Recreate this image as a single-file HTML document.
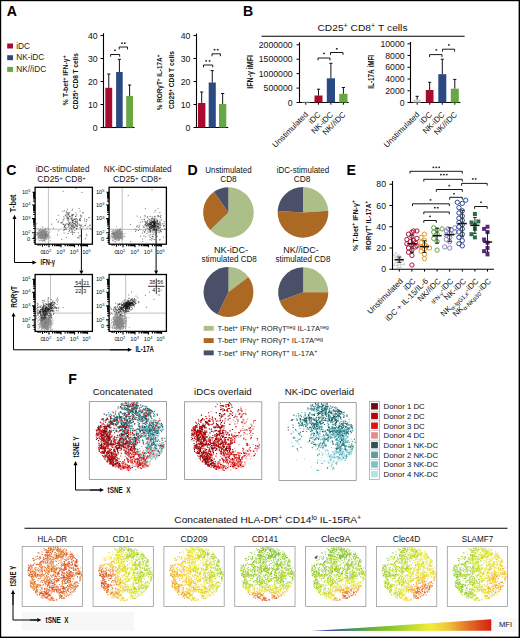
<!DOCTYPE html>
<html><head><meta charset="utf-8"><style>
html,body{margin:0;padding:0;background:#fff;}
svg{display:block;}
text{font-family:"Liberation Sans", sans-serif;}
</style></head><body>
<svg width="520" height="638" viewBox="0 0 520 638" font-family='"Liberation Sans", sans-serif'>
<rect x="0" y="0" width="520" height="638" fill="#000"/>
<rect x="1.2" y="1.2" width="517.4" height="635.4" fill="#fff"/>
<text x="6.70" y="15.60" font-size="14.1" font-weight="bold" >A</text>
<text x="242.90" y="15.60" font-size="14.1" font-weight="bold" >B</text>
<text x="6.20" y="175.30" font-size="14.1" font-weight="bold" >C</text>
<text x="187.50" y="175.00" font-size="14.1" font-weight="bold" >D</text>
<text x="346.40" y="175.00" font-size="14.1" font-weight="bold" >E</text>
<text x="68.20" y="383.60" font-size="14.1" font-weight="bold" >F</text>
<rect x="7.20" y="43.50" width="5.80" height="5.00" fill="#a80a30" />
<text x="16.20" y="48.70" font-size="8.3" fill="#222" >iDC</text>
<rect x="7.20" y="55.20" width="5.80" height="5.00" fill="#2c4a82" />
<text x="16.20" y="60.40" font-size="8.3" fill="#222" >NK-iDC</text>
<rect x="7.20" y="66.90" width="5.80" height="5.00" fill="#68a844" />
<text x="16.20" y="72.10" font-size="8.3" fill="#222" >NK//iDC</text>
<line x1="103.50" y1="33.20" x2="103.50" y2="128.00" stroke="#000" stroke-width="1.1" />
<line x1="103.00" y1="127.50" x2="134.60" y2="127.50" stroke="#000" stroke-width="1.1" />
<line x1="100.50" y1="127.50" x2="103.50" y2="127.50" stroke="#000" stroke-width="1" />
<text x="97.60" y="130.50" font-size="8.7" text-anchor="end" fill="#111" >0</text>
<line x1="100.50" y1="104.50" x2="103.50" y2="104.50" stroke="#000" stroke-width="1" />
<text x="97.60" y="107.50" font-size="8.7" text-anchor="end" fill="#111" >10</text>
<line x1="100.50" y1="81.50" x2="103.50" y2="81.50" stroke="#000" stroke-width="1" />
<text x="97.60" y="84.50" font-size="8.7" text-anchor="end" fill="#111" >20</text>
<line x1="100.50" y1="58.50" x2="103.50" y2="58.50" stroke="#000" stroke-width="1" />
<text x="97.60" y="61.50" font-size="8.7" text-anchor="end" fill="#111" >30</text>
<line x1="100.50" y1="35.50" x2="103.50" y2="35.50" stroke="#000" stroke-width="1" />
<text x="97.60" y="38.50" font-size="8.7" text-anchor="end" fill="#111" >40</text>
<rect x="105.30" y="87.80" width="6.90" height="39.70" fill="#a80a30" />
<line x1="108.75" y1="74.00" x2="108.75" y2="87.80" stroke="#111" stroke-width="1" />
<line x1="107.15" y1="74.00" x2="110.35" y2="74.00" stroke="#111" stroke-width="1" />
<rect x="116.10" y="72.00" width="6.60" height="55.50" fill="#2c4a82" />
<line x1="119.40" y1="59.30" x2="119.40" y2="72.00" stroke="#111" stroke-width="1" />
<line x1="117.80" y1="59.30" x2="121.00" y2="59.30" stroke="#111" stroke-width="1" />
<rect x="126.20" y="95.90" width="6.80" height="31.60" fill="#68a844" />
<line x1="129.60" y1="85.00" x2="129.60" y2="95.90" stroke="#111" stroke-width="1" />
<line x1="128.00" y1="85.00" x2="131.20" y2="85.00" stroke="#111" stroke-width="1" />
<path d="M110.60 56.70V54.50H119.60V56.70" fill="none" stroke="#000" stroke-width="0.9"/>
<rect x="114.15" y="49.55" width="1.7" height="1.5" fill="#222"/>
<path d="M119.20 49.40V47.00H127.50V49.40" fill="none" stroke="#000" stroke-width="0.9"/>
<rect x="121.15" y="42.45" width="1.7" height="1.5" fill="#222"/>
<rect x="123.95" y="42.45" width="1.7" height="1.5" fill="#222"/>
<text x="67.80" y="80.40" font-size="7.0" text-anchor="middle" font-weight="bold" fill="#111" textLength="50" lengthAdjust="spacingAndGlyphs" transform="rotate(-90 67.80 80.40)" >%&#160;T-bet<tspan dy="-2.17" font-size="4.90">+</tspan><tspan dy="2.17">&#160;IFN-γ</tspan><tspan dy="-2.17" font-size="4.90">+</tspan></text>
<text x="78.20" y="81.20" font-size="7.0" text-anchor="middle" font-weight="bold" fill="#111" textLength="56" lengthAdjust="spacingAndGlyphs" transform="rotate(-90 78.20 81.20)" >CD25<tspan dy="-2.17" font-size="4.90">+</tspan><tspan dy="2.17">&#160;CD8&#160;T&#160;cells</tspan></text>
<line x1="196.50" y1="33.50" x2="196.50" y2="128.00" stroke="#000" stroke-width="1.1" />
<line x1="196.00" y1="127.50" x2="228.20" y2="127.50" stroke="#000" stroke-width="1.1" />
<line x1="193.50" y1="127.50" x2="196.50" y2="127.50" stroke="#000" stroke-width="1" />
<text x="190.40" y="130.50" font-size="8.7" text-anchor="end" fill="#111" >0</text>
<line x1="193.50" y1="104.50" x2="196.50" y2="104.50" stroke="#000" stroke-width="1" />
<text x="190.40" y="107.50" font-size="8.7" text-anchor="end" fill="#111" >10</text>
<line x1="193.50" y1="81.50" x2="196.50" y2="81.50" stroke="#000" stroke-width="1" />
<text x="190.40" y="84.50" font-size="8.7" text-anchor="end" fill="#111" >20</text>
<line x1="193.50" y1="58.50" x2="196.50" y2="58.50" stroke="#000" stroke-width="1" />
<text x="190.40" y="61.50" font-size="8.7" text-anchor="end" fill="#111" >30</text>
<line x1="193.50" y1="35.50" x2="196.50" y2="35.50" stroke="#000" stroke-width="1" />
<text x="190.40" y="38.50" font-size="8.7" text-anchor="end" fill="#111" >40</text>
<rect x="198.00" y="103.00" width="7.40" height="24.50" fill="#a80a30" />
<line x1="201.70" y1="92.00" x2="201.70" y2="103.00" stroke="#111" stroke-width="1" />
<line x1="200.10" y1="92.00" x2="203.30" y2="92.00" stroke="#111" stroke-width="1" />
<rect x="208.70" y="82.50" width="7.10" height="45.00" fill="#2c4a82" />
<line x1="212.25" y1="70.60" x2="212.25" y2="82.50" stroke="#111" stroke-width="1" />
<line x1="210.65" y1="70.60" x2="213.85" y2="70.60" stroke="#111" stroke-width="1" />
<rect x="219.00" y="104.00" width="7.30" height="23.50" fill="#68a844" />
<line x1="222.65" y1="93.50" x2="222.65" y2="104.00" stroke="#111" stroke-width="1" />
<line x1="221.05" y1="93.50" x2="224.25" y2="93.50" stroke="#111" stroke-width="1" />
<path d="M203.50 67.30V65.00H212.70V67.30" fill="none" stroke="#000" stroke-width="0.9"/>
<rect x="205.35" y="60.15" width="1.7" height="1.5" fill="#222"/>
<rect x="208.75" y="60.15" width="1.7" height="1.5" fill="#222"/>
<path d="M212.00 56.20V53.80H220.40V56.20" fill="none" stroke="#000" stroke-width="0.9"/>
<rect x="213.75" y="48.95" width="1.7" height="1.5" fill="#222"/>
<rect x="216.85" y="48.95" width="1.7" height="1.5" fill="#222"/>
<text x="162.20" y="82.50" font-size="7.0" text-anchor="middle" font-weight="bold" fill="#111" textLength="55.5" lengthAdjust="spacingAndGlyphs" transform="rotate(-90 162.20 82.50)" >%&#160;RORγT<tspan dy="-2.17" font-size="4.90">+</tspan><tspan dy="2.17">&#160;IL-17A</tspan><tspan dy="-2.17" font-size="4.90">+</tspan></text>
<text x="173.80" y="80.10" font-size="7.0" text-anchor="middle" font-weight="bold" fill="#111" textLength="58" lengthAdjust="spacingAndGlyphs" transform="rotate(-90 173.80 80.10)" >CD25<tspan dy="-2.17" font-size="4.90">+</tspan><tspan dy="2.17">&#160;CD8&#160;T&#160;cells</tspan></text>
<text x="317.50" y="30.60" font-size="9.6" fill="#111" textLength="90" lengthAdjust="spacingAndGlyphs" >CD25<tspan dy="-2.98" font-size="6.72">+</tspan><tspan dy="2.98">&#160;CD8</tspan><tspan dy="-2.98" font-size="6.72">+</tspan><tspan dy="2.98">&#160;T&#160;cells</tspan></text>
<line x1="261.50" y1="36.30" x2="464.60" y2="36.30" stroke="#000" stroke-width="1.1" />
<line x1="299.50" y1="42.30" x2="299.50" y2="103.00" stroke="#000" stroke-width="1.1" />
<line x1="299.00" y1="102.50" x2="348.80" y2="102.50" stroke="#000" stroke-width="1.1" />
<line x1="296.50" y1="102.50" x2="299.50" y2="102.50" stroke="#000" stroke-width="1" />
<text x="292.60" y="105.50" font-size="8.7" text-anchor="end" fill="#111" >0</text>
<line x1="296.50" y1="88.08" x2="299.50" y2="88.08" stroke="#000" stroke-width="1" />
<text x="292.60" y="91.08" font-size="8.7" text-anchor="end" fill="#111" >500000</text>
<line x1="296.50" y1="73.65" x2="299.50" y2="73.65" stroke="#000" stroke-width="1" />
<text x="292.60" y="76.65" font-size="8.7" text-anchor="end" fill="#111" >1000000</text>
<line x1="296.50" y1="59.23" x2="299.50" y2="59.23" stroke="#000" stroke-width="1" />
<text x="292.60" y="62.23" font-size="8.7" text-anchor="end" fill="#111" >1500000</text>
<line x1="296.50" y1="44.80" x2="299.50" y2="44.80" stroke="#000" stroke-width="1" />
<text x="292.60" y="47.80" font-size="8.7" text-anchor="end" fill="#111" >2000000</text>
<line x1="305.80" y1="102.50" x2="305.80" y2="104.70" stroke="#000" stroke-width="1" />
<line x1="318.40" y1="102.50" x2="318.40" y2="104.70" stroke="#000" stroke-width="1" />
<line x1="330.90" y1="102.50" x2="330.90" y2="104.70" stroke="#000" stroke-width="1" />
<line x1="343.40" y1="102.50" x2="343.40" y2="104.70" stroke="#000" stroke-width="1" />
<rect x="301.80" y="101.60" width="8.00" height="0.90" fill="#bbb" />
<rect x="314.50" y="95.50" width="8.00" height="7.00" fill="#a80a30" />
<line x1="318.50" y1="89.20" x2="318.50" y2="95.50" stroke="#111" stroke-width="1" />
<line x1="316.90" y1="89.20" x2="320.10" y2="89.20" stroke="#111" stroke-width="1" />
<rect x="326.80" y="78.30" width="8.20" height="24.20" fill="#2c4a82" />
<line x1="330.90" y1="63.30" x2="330.90" y2="78.30" stroke="#111" stroke-width="1" />
<line x1="329.30" y1="63.30" x2="332.50" y2="63.30" stroke="#111" stroke-width="1" />
<rect x="339.30" y="93.80" width="8.20" height="8.70" fill="#68a844" />
<line x1="343.40" y1="87.50" x2="343.40" y2="93.80" stroke="#111" stroke-width="1" />
<line x1="341.80" y1="87.50" x2="345.00" y2="87.50" stroke="#111" stroke-width="1" />
<path d="M318.00 60.40V58.00H330.00V60.40" fill="none" stroke="#000" stroke-width="0.9"/>
<rect x="323.15" y="52.65" width="1.7" height="1.5" fill="#222"/>
<path d="M330.50 54.90V52.50H343.00V54.90" fill="none" stroke="#000" stroke-width="0.9"/>
<rect x="335.95" y="48.05" width="1.7" height="1.5" fill="#222"/>
<text x="252.80" y="71.90" font-size="9.6" text-anchor="middle" font-weight="bold" fill="#111" textLength="33.6" lengthAdjust="spacingAndGlyphs" transform="rotate(-90 252.80 71.90)" >IFN-γ&#160;iMFI</text>
<text x="308.60" y="115.10" font-size="8.0" text-anchor="end" fill="#111" transform="rotate(-45 308.60 115.10)" >Unstimulated</text>
<text x="321.20" y="115.10" font-size="8.0" text-anchor="end" fill="#111" transform="rotate(-45 321.20 115.10)" >iDC</text>
<text x="333.70" y="115.10" font-size="8.0" text-anchor="end" fill="#111" transform="rotate(-45 333.70 115.10)" >NK-iDC</text>
<text x="346.20" y="115.10" font-size="8.0" text-anchor="end" fill="#111" transform="rotate(-45 346.20 115.10)" >NK//iDC</text>
<line x1="410.50" y1="42.00" x2="410.50" y2="103.00" stroke="#000" stroke-width="1.1" />
<line x1="410.00" y1="102.50" x2="460.40" y2="102.50" stroke="#000" stroke-width="1.1" />
<line x1="407.50" y1="102.50" x2="410.50" y2="102.50" stroke="#000" stroke-width="1" />
<text x="404.60" y="105.50" font-size="8.7" text-anchor="end" fill="#111" >0</text>
<line x1="407.50" y1="90.76" x2="410.50" y2="90.76" stroke="#000" stroke-width="1" />
<text x="404.60" y="93.76" font-size="8.7" text-anchor="end" fill="#111" >2000</text>
<line x1="407.50" y1="79.02" x2="410.50" y2="79.02" stroke="#000" stroke-width="1" />
<text x="404.60" y="82.02" font-size="8.7" text-anchor="end" fill="#111" >4000</text>
<line x1="407.50" y1="67.28" x2="410.50" y2="67.28" stroke="#000" stroke-width="1" />
<text x="404.60" y="70.28" font-size="8.7" text-anchor="end" fill="#111" >6000</text>
<line x1="407.50" y1="55.54" x2="410.50" y2="55.54" stroke="#000" stroke-width="1" />
<text x="404.60" y="58.54" font-size="8.7" text-anchor="end" fill="#111" >8000</text>
<line x1="407.50" y1="43.80" x2="410.50" y2="43.80" stroke="#000" stroke-width="1" />
<text x="404.60" y="46.80" font-size="8.7" text-anchor="end" fill="#111" >10000</text>
<line x1="417.20" y1="102.50" x2="417.20" y2="104.70" stroke="#000" stroke-width="1" />
<line x1="429.70" y1="102.50" x2="429.70" y2="104.70" stroke="#000" stroke-width="1" />
<line x1="442.30" y1="102.50" x2="442.30" y2="104.70" stroke="#000" stroke-width="1" />
<line x1="454.80" y1="102.50" x2="454.80" y2="104.70" stroke="#000" stroke-width="1" />
<rect x="413.30" y="99.60" width="7.70" height="2.90" fill="#cfcfcf" />
<line x1="417.15" y1="96.30" x2="417.15" y2="99.60" stroke="#111" stroke-width="1" />
<line x1="415.55" y1="96.30" x2="418.75" y2="96.30" stroke="#111" stroke-width="1" />
<rect x="425.80" y="90.00" width="7.70" height="12.50" fill="#a80a30" />
<line x1="429.65" y1="82.30" x2="429.65" y2="90.00" stroke="#111" stroke-width="1" />
<line x1="428.05" y1="82.30" x2="431.25" y2="82.30" stroke="#111" stroke-width="1" />
<rect x="438.30" y="74.20" width="8.00" height="28.30" fill="#2c4a82" />
<line x1="442.30" y1="59.20" x2="442.30" y2="74.20" stroke="#111" stroke-width="1" />
<line x1="440.70" y1="59.20" x2="443.90" y2="59.20" stroke="#111" stroke-width="1" />
<rect x="450.80" y="88.70" width="8.00" height="13.80" fill="#68a844" />
<line x1="454.80" y1="79.40" x2="454.80" y2="88.70" stroke="#111" stroke-width="1" />
<line x1="453.20" y1="79.40" x2="456.40" y2="79.40" stroke="#111" stroke-width="1" />
<path d="M429.60 57.00V54.60H442.00V57.00" fill="none" stroke="#000" stroke-width="0.9"/>
<rect x="435.45" y="49.15" width="1.7" height="1.5" fill="#222"/>
<path d="M442.50 51.60V49.20H454.60V51.60" fill="none" stroke="#000" stroke-width="0.9"/>
<rect x="447.95" y="44.15" width="1.7" height="1.5" fill="#222"/>
<text x="373.90" y="71.80" font-size="9.8" text-anchor="middle" font-weight="bold" fill="#111" textLength="33.8" lengthAdjust="spacingAndGlyphs" transform="rotate(-90 373.90 71.80)" >IL-17A&#160;iMFI</text>
<text x="420.00" y="115.10" font-size="8.0" text-anchor="end" fill="#111" transform="rotate(-45 420.00 115.10)" >Unstimulated</text>
<text x="432.50" y="115.10" font-size="8.0" text-anchor="end" fill="#111" transform="rotate(-45 432.50 115.10)" >iDC</text>
<text x="445.10" y="115.10" font-size="8.0" text-anchor="end" fill="#111" transform="rotate(-45 445.10 115.10)" >NK-iDC</text>
<text x="457.60" y="115.10" font-size="8.0" text-anchor="end" fill="#111" transform="rotate(-45 457.60 115.10)" >NK//iDC</text>
<text x="62.60" y="172.20" font-size="8.2" text-anchor="middle" fill="#111" >iDC-stimulated</text>
<text x="61.50" y="182.20" font-size="8.4" text-anchor="middle" fill="#111" textLength="48.5" lengthAdjust="spacingAndGlyphs" >CD25<tspan dy="-2.60" font-size="5.88">+</tspan><tspan dy="2.60">&#160;CD8</tspan><tspan dy="-2.60" font-size="5.88">+</tspan></text>
<text x="137.70" y="172.20" font-size="8.2" text-anchor="middle" fill="#111" >NK-iDC-stimulated</text>
<text x="137.35" y="182.20" font-size="8.4" text-anchor="middle" fill="#111" textLength="48.5" lengthAdjust="spacingAndGlyphs" >CD25<tspan dy="-2.60" font-size="5.88">+</tspan><tspan dy="2.60">&#160;CD8</tspan><tspan dy="-2.60" font-size="5.88">+</tspan></text>
<line x1="48.40" y1="187.30" x2="48.40" y2="244.20" stroke="#b0b0b0" stroke-width="0.8" />
<line x1="35.10" y1="229.20" x2="92.40" y2="229.20" stroke="#b0b0b0" stroke-width="0.8" />
<ellipse cx="43.00" cy="234.60" rx="4.2" ry="4.0" fill="#8c8c8c" fill-opacity="0.85"/>
<path d="M42.4 235.8h0M42.4 233.8h0M40.7 234.1h0M45.8 235.6h0M45.6 235.2h0M44.0 235.0h0M38.8 236.7h0M44.3 235.8h0M38.8 230.4h0M40.8 233.5h0M43.8 234.5h0M44.3 233.1h0M43.8 235.5h0M41.3 238.7h0M44.4 237.5h0M41.4 232.8h0M42.1 234.3h0M44.6 235.2h0M41.9 232.3h0M41.7 237.5h0M41.0 235.2h0M44.1 231.0h0M43.1 237.7h0M38.0 233.8h0M42.7 232.6h0M44.2 234.5h0M39.3 236.6h0M44.7 236.9h0M46.6 235.5h0M43.3 231.5h0M44.5 233.1h0M41.9 231.6h0M40.6 233.3h0M46.2 229.7h0M39.4 235.2h0M46.6 236.0h0M38.3 228.6h0M43.9 232.8h0M40.2 236.9h0M45.8 235.0h0M43.6 235.6h0M47.0 236.1h0M44.3 235.9h0M39.1 237.7h0M45.4 235.9h0M38.1 233.1h0M45.1 230.3h0M42.5 237.0h0M39.7 238.5h0M44.4 234.2h0M43.8 236.2h0M43.3 237.3h0M41.3 233.6h0M45.6 234.7h0M40.8 236.9h0M46.7 233.5h0M39.6 234.3h0M42.6 233.9h0M46.5 232.1h0M46.2 231.6h0M41.0 236.1h0M45.8 236.7h0M43.9 234.9h0M43.4 236.0h0M42.6 235.3h0M44.4 234.6h0M44.9 236.0h0M48.0 235.4h0M41.9 233.7h0M43.0 236.8h0M42.2 235.5h0M47.6 228.4h0M40.2 235.2h0M44.0 235.2h0M41.9 236.2h0M43.7 233.3h0M49.1 235.5h0M41.6 234.4h0M42.4 234.4h0M36.2 233.4h0M45.5 231.8h0M42.8 236.9h0M45.1 238.2h0M38.7 233.8h0M42.1 236.1h0M45.7 228.2h0M45.7 231.1h0M44.7 231.0h0M43.4 237.5h0M42.6 235.1h0M45.0 234.9h0M42.8 238.3h0M45.6 233.9h0M49.9 231.8h0M45.3 234.0h0M43.3 236.3h0M43.6 236.1h0M39.2 231.0h0M44.5 232.3h0M40.4 231.1h0M46.2 236.4h0M46.7 232.3h0M43.0 231.9h0M44.9 238.4h0M40.8 238.3h0M45.5 234.2h0M38.1 238.0h0M42.8 233.2h0M44.0 235.6h0M46.7 232.2h0M45.8 238.2h0M46.6 234.2h0M41.1 237.0h0M43.3 234.9h0M46.6 234.0h0M37.3 233.7h0M38.4 236.6h0M43.8 233.1h0M43.0 236.6h0M43.2 237.8h0M42.8 237.1h0M46.7 238.5h0M41.3 236.7h0M38.3 232.0h0M38.1 237.2h0M39.9 234.6h0M42.5 234.5h0M41.5 235.2h0M47.5 234.7h0M44.3 237.0h0M42.5 231.6h0M41.6 237.2h0M38.9 233.2h0M45.5 236.5h0M43.0 236.5h0M43.4 231.8h0M39.1 233.1h0M45.3 233.2h0M40.7 232.7h0M39.2 234.3h0M40.1 235.5h0M37.1 235.4h0M41.4 229.9h0M44.8 233.9h0M37.4 232.5h0M43.7 233.5h0M44.9 236.4h0M44.7 235.4h0M46.3 236.2h0M44.1 229.6h0M45.2 237.7h0M42.3 233.5h0M47.9 230.4h0M44.2 240.4h0M40.7 236.3h0M47.7 234.3h0M44.4 236.8h0M40.7 234.4h0M43.7 236.6h0M42.9 234.1h0M40.5 233.7h0M45.2 234.8h0M40.9 232.6h0M49.7 237.3h0M44.6 228.4h0M44.6 235.8h0M47.2 235.6h0M42.8 235.9h0M38.1 237.1h0M43.8 232.9h0M46.3 238.9h0M39.5 233.0h0M43.7 235.0h0M42.0 232.3h0M48.3 237.1h0M40.0 231.4h0M47.3 237.0h0M47.6 236.5h0M40.8 235.2h0M37.6 232.8h0M42.9 235.9h0M41.2 234.3h0M44.1 235.5h0M44.6 235.1h0M42.2 236.5h0M43.1 232.6h0M41.4 234.6h0M42.7 235.0h0M43.0 235.0h0M42.7 231.6h0M44.1 237.1h0M44.1 234.1h0M44.1 232.3h0M38.3 234.7h0M40.7 236.4h0M40.3 228.3h0M40.4 238.4h0M42.0 231.3h0M41.1 235.9h0M44.2 235.0h0M46.7 236.3h0M42.9 236.0h0M47.1 236.9h0M45.6 232.0h0M42.6 236.4h0M42.3 237.2h0M44.5 236.8h0M42.5 240.7h0M46.1 234.1h0M43.2 240.8h0M42.1 236.7h0M45.5 234.6h0M40.1 235.1h0M43.9 237.3h0M45.0 234.7h0M45.1 235.9h0M43.5 234.7h0M42.4 236.2h0M40.4 233.1h0M43.0 231.1h0M41.9 229.8h0M41.3 236.0h0M44.4 234.5h0M42.4 231.2h0M47.6 235.8h0M45.7 232.5h0M42.5 230.2h0M45.0 236.8h0M38.3 234.5h0M44.6 230.4h0M38.4 232.0h0M41.4 231.2h0M43.1 235.2h0M44.6 236.3h0M46.8 237.4h0M39.7 233.4h0M40.3 232.0h0M42.8 234.6h0M44.2 230.8h0M39.9 234.5h0M42.5 233.9h0M42.8 232.8h0M44.8 235.5h0M42.8 233.0h0M42.6 228.1h0M40.5 234.7h0M39.2 235.1h0M43.4 231.3h0M42.4 233.8h0M44.1 236.1h0M42.9 232.6h0M42.6 234.4h0M44.8 235.3h0M41.2 231.3h0M42.1 232.8h0M40.2 234.3h0M41.8 234.9h0M44.3 233.6h0M48.8 233.8h0M45.8 234.9h0M45.8 228.9h0M41.1 235.2h0M44.5 240.2h0M43.8 237.7h0M44.9 236.9h0M44.3 234.2h0M44.3 232.0h0M46.0 232.2h0M43.6 239.7h0M42.4 234.6h0M45.9 234.7h0M41.0 235.2h0M44.5 236.3h0M41.1 238.8h0M47.2 234.6h0M43.7 233.6h0M46.5 232.9h0M44.7 233.4h0M41.3 236.3h0M46.3 234.6h0M41.3 236.5h0M42.9 235.3h0M46.8 237.3h0M41.7 240.1h0M43.0 236.5h0M41.4 234.5h0M38.6 238.9h0M46.4 231.7h0M39.2 230.7h0M45.9 233.5h0M42.8 233.8h0M42.7 232.0h0M43.1 231.1h0M42.8 235.3h0M44.2 234.0h0M40.7 235.0h0M41.8 238.4h0M44.9 234.3h0M41.8 232.9h0M40.7 233.8h0M43.7 235.8h0M44.4 239.6h0M41.2 234.6h0M50.0 230.1h0M41.7 235.0h0M43.4 235.6h0M42.4 235.5h0M43.1 236.5h0M38.3 232.5h0M43.0 232.1h0M40.4 236.1h0M41.4 236.1h0M44.9 235.3h0M44.3 234.3h0M39.5 234.5h0M44.1 233.3h0M42.8 236.4h0M40.8 236.1h0M47.7 233.3h0M43.4 234.2h0M46.9 235.4h0M45.2 232.9h0M43.0 234.6h0M38.6 238.1h0M45.2 230.4h0M44.9 234.3h0M44.1 235.5h0M39.3 234.1h0M46.7 233.2h0M40.4 231.3h0M39.9 235.4h0M47.2 235.6h0M43.6 240.0h0M41.7 233.0h0M44.3 235.9h0M40.5 231.8h0M43.7 235.2h0M39.7 234.1h0M41.6 235.7h0M42.7 234.4h0M42.1 237.1h0M46.5 233.7h0M45.1 232.8h0M43.2 236.4h0M46.8 233.7h0M42.8 235.1h0M39.3 234.6h0M41.3 235.5h0M40.2 229.9h0M43.1 235.2h0M41.6 236.7h0M42.3 233.1h0M44.2 230.8h0M41.3 234.6h0M45.1 234.2h0M43.8 233.0h0M43.8 238.6h0M41.3 240.3h0M41.4 234.6h0M43.4 237.1h0M39.9 229.6h0M44.5 236.5h0M44.6 240.9h0M43.5 235.2h0M45.3 235.5h0M47.2 231.6h0M42.1 226.3h0M45.0 233.7h0M45.3 239.8h0M43.0 234.0h0M41.8 232.6h0M41.4 236.1h0M43.1 234.8h0M42.6 236.8h0M44.2 234.3h0M44.7 234.2h0M40.1 238.1h0M44.2 232.3h0M45.7 235.4h0M39.1 238.5h0M43.8 236.7h0M43.5 234.2h0M39.1 236.9h0M43.1 233.9h0M43.9 234.8h0M44.7 233.7h0M42.9 229.5h0M41.9 236.2h0M46.3 233.7h0M42.7 238.4h0M42.2 236.4h0M47.2 234.7h0M46.1 232.9h0M43.5 234.4h0M43.3 237.3h0M49.0 233.0h0M41.6 235.8h0M40.4 235.8h0M44.4 233.9h0M44.3 230.9h0M44.9 230.9h0M41.3 233.3h0M42.0 236.7h0M43.2 233.6h0M44.4 238.4h0M43.0 235.5h0M46.1 235.2h0M39.8 240.6h0M48.5 229.8h0M42.9 235.6h0M45.4 236.2h0M42.3 232.1h0M43.3 237.1h0M40.3 232.1h0M42.9 230.0h0M42.3 233.6h0M44.1 232.9h0M40.8 233.7h0M42.9 233.0h0M43.0 236.4h0M46.0 238.7h0M41.0 233.6h0M36.8 239.2h0M41.2 234.5h0M44.3 231.3h0M44.2 234.5h0M38.4 235.3h0M46.0 230.1h0M45.0 235.1h0M44.2 235.7h0M46.3 234.1h0M45.2 233.6h0M44.8 232.6h0M42.7 238.8h0M44.1 234.2h0M40.1 232.7h0M43.5 236.9h0M44.1 235.9h0M42.9 237.8h0M42.0 233.3h0M45.2 234.8h0M42.3 233.2h0M42.4 236.1h0M43.9 231.7h0M44.1 235.0h0M40.5 236.5h0M42.3 233.8h0M45.0 237.8h0M41.3 235.7h0M40.8 240.2h0M41.8 237.5h0M41.4 236.5h0M48.5 228.5h0M41.9 235.8h0M42.8 233.0h0M48.4 234.8h0M38.9 236.6h0M38.7 237.4h0M41.6 234.9h0M46.2 234.9h0M39.5 230.5h0M46.0 236.4h0M41.0 236.7h0M44.2 236.2h0M37.4 233.9h0M45.3 236.4h0M45.2 228.7h0M43.4 235.8h0M49.4 232.3h0M42.2 234.7h0M45.2 233.5h0M45.9 232.7h0M43.7 233.3h0M43.4 232.9h0M39.0 237.2h0M43.8 233.3h0M43.5 237.0h0M40.6 234.3h0M44.3 235.9h0M42.2 229.5h0M46.1 235.4h0M43.0 233.9h0M43.7 233.6h0M40.4 232.8h0M41.5 233.1h0M40.1 236.1h0M39.7 236.2h0M40.5 235.4h0M46.4 235.1h0M41.2 234.7h0M43.4 230.4h0M41.5 235.0h0M41.8 234.8h0M44.8 236.4h0M45.3 236.0h0M42.3 234.6h0M42.3 233.8h0M42.6 230.5h0M42.2 234.5h0M40.6 234.5h0M44.3 234.2h0M48.2 228.3h0M42.5 230.2h0M45.4 241.0h0M36.7 234.9h0M44.3 233.9h0M44.4 229.2h0M45.1 235.5h0M43.1 233.2h0M44.6 233.4h0M43.6 233.4h0M37.4 234.5h0M43.5 236.4h0M40.8 234.5h0M44.5 234.9h0M46.1 239.4h0M40.7 230.0h0M45.1 238.3h0M45.3 236.6h0M41.5 232.9h0M46.2 232.7h0M36.5 232.4h0M40.5 233.4h0M43.8 233.3h0M47.7 235.7h0M39.1 240.7h0M40.9 236.8h0M43.0 234.9h0M44.2 233.5h0M36.4 228.1h0M38.4 233.3h0M42.9 236.2h0M45.0 236.4h0M40.1 233.4h0M44.7 237.9h0M42.6 235.4h0M46.4 236.1h0M45.7 238.1h0M43.8 240.7h0M40.9 234.7h0M40.1 233.1h0M48.6 242.3h0M43.1 238.0h0M47.2 238.9h0M47.3 231.5h0M40.7 237.6h0M48.2 236.4h0M39.9 234.7h0M40.6 232.9h0M48.4 233.7h0M47.3 237.2h0M40.8 237.5h0M48.8 238.2h0M47.5 236.4h0M44.9 235.3h0M44.5 240.7h0M37.8 235.8h0M43.9 233.9h0M41.9 238.8h0M50.2 238.3h0M44.2 230.4h0M49.9 236.3h0M42.9 232.0h0M42.8 232.1h0M43.3 237.7h0M43.1 237.0h0M39.9 241.1h0M40.6 229.5h0M42.3 233.3h0M39.4 234.7h0M44.0 231.7h0M42.5 241.1h0M45.5 235.5h0M43.5 235.6h0M42.8 238.6h0M42.7 227.3h0M42.9 232.8h0" stroke="#8a8a8a" stroke-opacity="0.75" stroke-width="0.9" stroke-linecap="square"/>
<path d="M74.8 218.8h0M72.2 231.3h0M66.3 216.4h0M64.4 210.7h0M62.1 223.1h0M68.3 213.1h0M64.1 224.3h0M67.6 219.8h0M73.2 227.6h0M81.2 226.1h0M72.2 222.3h0M80.5 227.9h0M69.9 223.6h0M72.9 221.7h0M69.0 215.5h0M68.8 214.6h0M77.6 223.9h0M65.5 227.8h0M76.0 212.9h0M80.7 225.1h0M81.8 216.0h0M74.2 223.4h0M72.5 222.3h0M76.8 214.8h0M65.3 215.2h0M68.7 218.8h0M73.3 222.7h0M71.7 218.5h0M69.3 225.8h0M75.3 222.0h0M69.9 228.5h0M68.5 224.4h0M77.3 220.3h0M75.6 216.5h0M76.6 222.4h0M63.6 224.5h0M67.0 227.3h0M68.1 220.8h0M72.9 220.0h0M72.8 219.0h0M74.9 221.5h0M72.6 209.1h0M77.3 221.6h0M62.6 221.9h0M73.8 226.3h0M66.1 228.5h0M70.7 232.3h0M70.8 224.6h0M69.7 216.5h0M77.0 225.6h0M79.2 225.4h0M68.6 214.0h0M68.2 218.5h0M67.4 224.1h0M73.1 220.3h0M72.4 220.8h0M72.6 224.9h0M76.3 218.4h0M64.0 227.9h0M72.1 226.5h0M63.3 220.0h0M71.6 215.0h0M68.9 224.8h0M76.9 228.7h0M67.2 215.2h0M74.1 225.7h0M72.5 215.6h0M75.4 225.1h0M74.3 219.3h0M73.0 225.1h0M68.7 213.2h0M73.1 223.7h0M71.6 225.5h0M68.6 221.1h0M70.0 224.1h0M79.5 220.4h0M81.8 228.4h0M75.5 224.1h0M80.4 220.7h0M70.9 216.7h0M73.9 227.6h0M74.2 223.4h0M70.5 222.3h0M64.4 226.2h0M69.5 216.5h0M67.7 217.8h0M75.8 226.3h0M64.7 225.7h0M75.9 218.9h0M64.1 218.1h0M68.3 223.0h0M69.7 212.4h0M72.7 214.6h0M76.0 216.1h0M68.0 217.7h0M68.8 227.3h0M75.8 224.2h0M73.1 214.5h0M68.9 219.0h0M66.6 223.8h0M67.8 218.3h0M66.3 212.2h0M74.5 227.5h0M72.4 217.1h0M58.0 222.3h0M77.6 222.8h0M76.1 228.2h0M77.1 219.5h0M76.8 225.0h0M63.8 219.7h0M63.2 224.2h0M81.2 217.0h0M57.5 234.7h0M79.4 236.0h0M64.1 233.0h0M74.1 227.0h0M74.6 232.5h0M85.3 225.7h0M63.8 230.6h0M71.8 229.7h0M78.4 237.2h0M86.2 221.6h0M79.1 238.2h0M71.2 228.3h0M86.7 234.4h0M80.7 215.1h0M64.7 226.9h0M68.2 233.5h0M82.9 212.5h0M68.6 226.2h0M71.6 223.8h0M80.2 218.9h0M80.2 220.2h0M71.1 229.0h0M70.8 227.2h0M90.4 225.2h0M74.7 230.5h0M72.7 233.1h0M64.5 229.6h0M71.4 219.0h0M89.1 217.7h0M86.8 235.9h0M75.0 224.0h0M72.2 220.3h0M80.0 227.5h0M77.6 237.9h0M73.0 228.5h0M89.1 217.5h0M85.3 238.7h0M63.8 216.8h0M66.7 211.2h0M80.1 211.1h0M80.5 235.9h0M61.5 222.6h0M58.7 230.8h0M69.4 223.0h0M76.5 229.1h0M72.9 225.1h0M71.1 225.9h0M65.4 225.5h0M58.6 221.3h0M64.7 226.9h0M67.2 212.6h0M69.4 230.5h0M79.5 224.3h0M67.7 216.9h0M88.1 226.8h0M67.4 209.2h0M65.7 224.4h0M77.9 223.8h0M73.5 214.7h0M66.5 237.7h0M69.2 231.3h0M60.8 222.9h0M78.3 232.8h0M65.9 229.5h0M79.5 219.5h0M80.3 218.3h0M68.8 224.9h0M51.6 224.2h0M67.0 214.0h0M72.2 230.7h0M72.4 234.5h0M65.6 215.2h0M90.0 228.0h0M84.5 218.8h0M83.2 226.9h0M81.8 225.2h0M86.9 220.1h0M67.3 213.9h0M86.4 219.5h0M66.6 218.0h0M72.0 215.5h0M73.4 220.3h0M71.0 217.8h0M76.3 221.5h0M77.0 226.9h0M79.1 208.6h0M71.2 219.0h0M83.0 213.2h0M69.6 222.8h0M73.0 232.4h0M72.0 232.2h0M62.8 211.4h0M87.0 228.3h0M80.4 225.9h0M80.4 215.9h0M84.5 221.0h0M84.9 225.7h0M58.2 215.3h0M86.1 224.0h0M72.4 226.8h0M72.2 220.9h0M76.9 226.1h0M89.7 225.3h0M77.2 226.0h0M74.7 219.5h0M75.4 220.2h0M90.8 229.0h0M72.0 210.6h0M75.5 221.9h0M71.2 227.0h0M61.8 239.3h0M50.2 241.0h0M76.2 188.6h0M36.8 223.8h0M81.8 192.4h0M53.4 228.1h0M45.3 235.4h0M63.2 191.3h0M56.6 219.6h0" stroke="#1a1a1a" stroke-opacity="0.75" stroke-width="0.8" stroke-linecap="square"/>
<rect x="35.10" y="187.30" width="57.3" height="56.9" fill="none" stroke="#000" stroke-width="1.3"/>
<path d="M49.0 244.2v3.0M52.6 244.2v2.0M54.7 244.2v2.0M56.2 244.2v2.0M57.4 244.2v2.0M58.3 244.2v2.0M59.1 244.2v2.0M59.8 244.2v2.0M60.5 244.2v2.0M61.0 244.2v3.0M65.1 244.2v2.0M67.4 244.2v2.0M69.1 244.2v2.0M70.4 244.2v2.0M71.5 244.2v2.0M72.4 244.2v2.0M73.2 244.2v2.0M73.9 244.2v2.0M74.5 244.2v3.0M78.4 244.2v2.0M80.7 244.2v2.0M82.3 244.2v2.0M83.6 244.2v2.0M84.6 244.2v2.0M85.5 244.2v2.0M86.2 244.2v2.0M86.9 244.2v2.0M87.5 244.2v2.6M38.1 244.2v1.5M40.1 244.2v1.5M42.5 244.2v2.6M44.6 244.2v1.5M46.7 244.2v1.5M35.1 232.7h-3.0M35.1 228.5h-2.0M35.1 226.0h-2.0M35.1 224.2h-2.0M35.1 222.8h-2.0M35.1 221.7h-2.0M35.1 220.8h-2.0M35.1 220.0h-2.0M35.1 219.2h-2.0M35.1 218.6h-3.0M35.1 214.5h-2.0M35.1 212.1h-2.0M35.1 210.4h-2.0M35.1 209.1h-2.0M35.1 208.0h-2.0M35.1 207.1h-2.0M35.1 206.3h-2.0M35.1 205.6h-2.0M35.1 205.0h-3.0M35.1 201.1h-2.0M35.1 198.9h-2.0M35.1 197.3h-2.0M35.1 196.1h-2.0M35.1 195.0h-2.0M35.1 194.2h-2.0M35.1 193.4h-2.0M35.1 192.8h-2.0M35.1 192.2h-2.6M35.1 234.8h-1.5M35.1 236.8h-1.5M35.1 238.4h-2.6M35.1 240.3h-1.5M35.1 242.3h-1.5" stroke="#000" stroke-width="1.15" fill="none"/>
<text x="30.50" y="194.00" font-size="5.7" text-anchor="end" fill="#111" >10<tspan dy="-1.77" font-size="3.99">5</tspan></text>
<text x="30.50" y="206.80" font-size="5.7" text-anchor="end" fill="#111" >10<tspan dy="-1.77" font-size="3.99">4</tspan></text>
<text x="30.50" y="220.40" font-size="5.7" text-anchor="end" fill="#111" >10<tspan dy="-1.77" font-size="3.99">3</tspan></text>
<text x="30.50" y="234.50" font-size="5.7" text-anchor="end" fill="#111" >10<tspan dy="-1.77" font-size="3.99">2</tspan></text>
<text x="30.10" y="240.50" font-size="5.7" text-anchor="end" fill="#111" >0</text>
<text x="42.10" y="253.60" font-size="5.7" text-anchor="middle" fill="#111" >0</text>
<text x="46.90" y="253.60" font-size="5.7" text-anchor="middle" fill="#111" >10<tspan dy="-1.77" font-size="3.99">2</tspan></text>
<text x="60.60" y="253.60" font-size="5.7" text-anchor="middle" fill="#111" >10<tspan dy="-1.77" font-size="3.99">3</tspan></text>
<text x="74.10" y="253.60" font-size="5.7" text-anchor="middle" fill="#111" >10<tspan dy="-1.77" font-size="3.99">4</tspan></text>
<text x="86.40" y="253.60" font-size="5.7" text-anchor="middle" fill="#111" >10<tspan dy="-1.77" font-size="3.99">5</tspan></text>
<line x1="122.20" y1="187.30" x2="122.20" y2="244.20" stroke="#b0b0b0" stroke-width="0.8" />
<line x1="109.10" y1="229.40" x2="166.40" y2="229.40" stroke="#b0b0b0" stroke-width="0.8" />
<ellipse cx="117.40" cy="234.90" rx="4.2" ry="4.0" fill="#8c8c8c" fill-opacity="0.85"/>
<path d="M113.9 236.3h0M120.1 238.3h0M115.1 237.5h0M115.6 233.1h0M114.1 237.7h0M121.5 233.5h0M115.5 234.1h0M123.7 237.3h0M116.0 230.6h0M115.7 237.7h0M122.1 234.3h0M115.7 233.7h0M112.7 237.1h0M114.7 237.5h0M113.1 231.9h0M118.1 233.1h0M119.4 234.9h0M114.5 236.4h0M119.5 230.3h0M122.0 236.1h0M119.3 230.4h0M115.6 234.1h0M120.1 231.4h0M115.2 230.0h0M116.8 235.7h0M113.2 233.5h0M118.7 238.7h0M119.1 234.2h0M114.5 232.7h0M115.7 235.3h0M117.3 238.9h0M118.1 232.3h0M121.3 237.2h0M117.7 233.2h0M112.7 232.4h0M119.7 233.0h0M114.1 235.4h0M118.0 236.4h0M119.0 238.3h0M115.3 237.2h0M114.9 236.6h0M117.8 235.5h0M119.8 234.9h0M120.2 237.0h0M117.7 233.5h0M115.5 233.6h0M116.9 234.8h0M124.9 236.4h0M119.3 232.8h0M115.6 234.1h0M117.9 232.4h0M121.4 233.5h0M120.1 229.3h0M117.4 235.6h0M117.9 236.3h0M118.1 235.3h0M112.7 233.2h0M111.5 236.4h0M118.2 234.4h0M115.3 233.5h0M122.0 239.1h0M117.3 238.0h0M113.4 230.3h0M116.2 232.8h0M116.0 235.4h0M125.0 233.3h0M117.5 235.6h0M117.3 237.1h0M121.8 231.9h0M117.8 234.3h0M118.3 231.2h0M113.0 229.3h0M118.7 235.4h0M117.6 229.2h0M116.5 233.1h0M113.9 232.7h0M119.1 236.2h0M117.3 236.1h0M115.9 235.1h0M117.5 236.2h0M117.2 234.6h0M117.1 233.4h0M123.0 236.1h0M118.5 240.4h0M120.9 231.2h0M119.1 236.9h0M122.1 238.1h0M119.3 232.1h0M115.2 235.5h0M118.7 232.4h0M116.4 233.9h0M117.6 235.7h0M116.7 231.9h0M120.5 238.7h0M117.1 237.4h0M118.5 236.5h0M118.6 233.1h0M118.8 237.3h0M115.2 239.6h0M122.6 239.3h0M122.4 236.7h0M116.6 233.5h0M115.4 235.2h0M117.3 236.5h0M112.4 240.4h0M123.1 234.8h0M119.1 236.0h0M118.1 234.4h0M117.1 232.9h0M117.8 234.8h0M118.2 232.8h0M117.5 235.0h0M118.9 232.3h0M118.4 237.3h0M118.9 234.0h0M116.2 234.3h0M119.2 238.6h0M117.0 233.4h0M118.3 235.4h0M115.1 233.1h0M117.1 236.5h0M114.4 232.5h0M118.6 232.0h0M117.7 235.7h0M117.1 232.5h0M117.3 234.1h0M118.2 232.9h0M120.1 230.9h0M117.0 234.9h0M119.8 233.4h0M118.8 233.5h0M119.2 239.1h0M116.4 236.0h0M115.1 237.2h0M120.4 235.0h0M114.6 235.9h0M120.3 237.5h0M119.4 230.5h0M115.7 238.3h0M114.3 237.6h0M122.1 236.7h0M120.2 234.1h0M114.3 234.7h0M116.9 234.8h0M119.1 234.6h0M117.9 235.9h0M117.4 239.3h0M118.5 235.1h0M116.9 233.4h0M120.8 235.3h0M114.7 233.6h0M117.1 233.8h0M120.1 232.1h0M118.6 235.2h0M114.5 235.0h0M117.2 236.1h0M116.3 235.6h0M113.2 232.3h0M119.4 237.4h0M117.4 233.5h0M120.1 229.9h0M115.4 236.5h0M119.0 232.4h0M112.7 238.4h0M117.8 232.7h0M117.5 237.1h0M110.9 237.6h0M119.3 229.9h0M119.3 230.6h0M120.2 235.9h0M123.0 233.4h0M117.4 237.4h0M115.8 233.2h0M116.5 234.7h0M114.7 236.1h0M118.8 235.1h0M121.7 234.1h0M120.7 233.6h0M119.3 230.3h0M117.9 234.5h0M116.2 233.4h0M116.5 233.2h0M111.9 233.5h0M116.0 233.6h0M114.8 234.6h0M119.4 234.3h0M116.2 238.2h0M119.8 237.1h0M120.3 234.1h0M117.1 237.6h0M116.0 234.6h0M118.3 235.8h0M116.7 237.3h0M117.0 236.6h0M120.1 236.5h0M119.2 232.1h0M114.1 233.4h0M118.6 238.5h0M114.3 235.6h0M115.3 233.1h0M116.7 236.6h0M117.9 237.7h0M114.9 237.0h0M119.7 235.1h0M118.6 233.5h0M114.7 233.9h0M115.8 241.8h0M116.2 238.9h0M117.9 235.6h0M119.3 233.0h0M119.7 235.8h0M113.6 236.3h0M118.8 236.0h0M121.4 233.9h0M118.7 236.7h0M115.1 237.8h0M113.8 231.8h0M118.7 232.3h0M117.1 231.0h0M117.6 232.2h0M118.3 231.2h0M118.5 234.3h0M117.6 234.7h0M117.7 231.7h0M111.0 235.0h0M115.1 233.8h0M118.5 230.1h0M115.5 233.4h0M114.8 235.7h0M117.0 232.9h0M114.9 236.8h0M115.8 236.3h0M118.5 230.4h0M114.7 234.9h0M118.3 236.8h0M119.4 237.4h0M116.5 234.4h0M119.3 233.9h0M120.0 231.1h0M119.0 234.5h0M112.5 237.3h0M118.2 235.0h0M114.7 233.8h0M121.2 232.9h0M114.4 234.6h0M116.4 232.7h0M115.3 237.4h0M113.8 239.6h0M116.0 232.3h0M119.4 236.3h0M114.8 236.7h0M112.8 232.7h0M120.2 234.3h0M114.1 236.1h0M119.7 234.8h0M112.9 234.1h0M118.4 236.7h0M122.0 234.3h0M116.2 234.8h0M120.4 232.6h0M120.7 228.3h0M119.4 233.3h0M118.5 236.6h0M114.4 234.7h0M118.0 236.3h0M115.1 232.5h0M112.6 241.0h0M116.9 234.4h0M113.7 237.1h0M116.1 238.3h0M119.5 235.0h0M119.2 232.2h0M116.6 233.5h0M114.2 234.9h0M117.0 238.3h0M115.1 233.8h0M118.5 235.9h0M117.5 233.8h0M118.6 235.8h0M112.8 234.3h0M114.0 232.1h0M117.8 235.0h0M117.7 232.8h0M116.9 232.7h0M118.4 236.6h0M121.8 237.9h0M115.4 233.8h0M115.1 235.6h0M122.4 236.6h0M111.9 231.9h0M114.2 236.1h0M117.4 235.6h0M121.9 232.9h0M115.3 239.6h0M118.3 233.0h0M112.3 231.2h0M111.3 235.1h0M117.5 237.3h0M117.1 233.2h0M115.5 239.5h0M113.0 235.3h0M117.5 236.4h0M116.4 236.1h0M119.4 234.5h0M116.3 234.5h0M115.0 234.4h0M116.6 235.4h0M120.7 238.0h0M116.3 236.3h0M118.1 236.7h0M117.5 235.5h0M116.2 233.0h0M119.6 238.0h0M119.1 235.9h0M118.1 233.8h0M112.9 236.5h0M117.9 233.6h0M115.0 238.0h0M112.9 239.1h0M119.0 240.6h0M115.6 234.8h0M116.1 235.3h0M116.9 233.1h0M120.1 233.0h0M116.1 236.2h0M116.1 233.9h0M118.3 234.0h0M114.3 234.7h0M116.9 239.0h0M114.7 237.2h0M115.4 234.0h0M116.6 235.5h0M119.6 239.1h0M115.8 238.1h0M119.9 236.9h0M115.5 237.1h0M117.1 235.7h0M116.7 236.5h0M120.2 237.6h0M116.9 237.3h0M121.0 232.7h0M121.1 231.7h0M118.8 236.3h0M121.1 235.6h0M116.2 233.0h0M114.3 236.7h0M116.8 233.2h0M118.7 233.1h0M116.3 233.8h0M121.5 238.4h0M117.0 231.1h0M118.1 235.1h0M118.3 236.3h0M116.6 237.1h0M119.5 235.4h0M116.4 233.7h0M119.1 232.3h0M117.0 233.1h0M113.9 236.3h0M117.3 235.0h0M119.6 231.3h0M117.2 235.6h0M119.5 232.3h0M119.2 235.4h0M120.8 237.6h0M118.8 240.1h0M117.4 233.9h0M116.5 232.6h0M117.3 230.4h0M117.2 235.9h0M119.9 234.1h0M120.9 233.3h0M117.1 230.4h0M115.5 233.0h0M121.0 236.1h0M114.7 236.2h0M118.6 234.4h0M117.5 234.2h0M116.1 230.7h0M117.2 237.9h0M120.9 234.2h0M115.6 234.4h0M119.6 235.7h0M116.0 235.7h0M116.9 236.1h0M116.4 231.5h0M117.5 236.7h0M114.7 234.6h0M119.5 234.0h0M115.8 239.7h0M119.4 237.3h0M115.1 238.7h0M113.4 233.7h0M119.2 238.0h0M115.1 233.3h0M117.9 230.4h0M119.0 236.2h0M116.3 236.2h0M119.3 235.6h0M118.7 238.4h0M116.2 235.3h0M116.1 237.3h0M116.4 236.0h0M117.7 235.1h0M121.6 234.7h0M120.8 236.8h0M120.6 234.5h0M119.6 236.7h0M115.9 235.5h0M117.1 234.8h0M120.5 233.2h0M113.3 230.9h0M116.3 233.4h0M117.4 236.2h0M121.6 235.6h0M118.5 233.2h0M118.8 238.0h0M120.6 230.4h0M119.5 238.6h0M119.4 231.4h0M116.7 236.3h0M118.4 233.0h0M115.3 237.1h0M114.2 238.2h0M117.4 235.6h0M114.2 233.5h0M119.1 231.5h0M122.4 231.7h0M114.5 235.0h0M118.6 236.6h0M116.5 234.4h0M116.8 233.6h0M111.2 237.1h0M118.0 235.3h0M115.9 235.5h0M117.4 234.7h0M120.1 230.9h0M118.0 232.4h0M116.6 238.4h0M114.8 234.7h0M116.0 237.1h0M115.0 231.0h0M118.6 234.1h0M116.6 237.4h0M115.3 234.0h0M117.8 235.9h0M116.2 237.3h0M122.8 234.0h0M121.9 230.0h0M120.8 234.1h0M117.7 234.1h0M115.9 232.0h0M116.5 237.9h0M120.1 234.1h0M116.1 233.3h0M114.5 239.1h0M119.0 235.2h0M116.2 232.5h0M120.6 236.7h0M115.1 237.2h0M114.7 236.4h0M115.1 233.9h0M118.6 235.9h0M119.8 233.0h0M121.2 238.0h0M117.4 236.0h0M115.5 234.5h0M114.2 235.1h0M117.9 238.0h0M119.7 236.8h0M116.5 234.4h0M116.6 235.4h0M112.8 236.7h0M113.6 233.7h0M117.5 233.7h0M121.4 234.7h0M121.2 237.6h0M116.2 235.8h0M120.5 234.1h0M117.6 233.6h0M117.5 234.1h0M117.6 237.2h0M120.7 235.2h0M117.9 236.9h0M116.7 232.5h0M120.1 232.7h0M119.6 232.7h0M121.8 232.5h0M119.4 238.4h0M115.1 238.3h0M115.4 230.8h0M119.1 236.5h0M116.9 229.1h0M117.3 234.2h0M116.5 234.2h0M113.1 233.6h0M121.7 238.5h0M116.5 233.3h0M118.4 237.3h0M119.1 232.2h0M117.8 235.2h0M120.9 237.7h0M118.7 237.7h0M116.5 238.4h0M116.4 235.8h0M119.6 232.8h0M115.7 230.8h0M117.8 234.8h0M116.6 236.0h0M112.3 234.8h0M117.6 234.3h0M119.3 238.9h0M116.3 232.7h0M115.9 235.1h0M118.8 232.9h0M119.8 232.5h0M119.4 235.9h0M118.5 239.9h0M116.5 235.4h0M119.0 239.0h0M112.8 237.0h0M114.8 238.2h0M122.1 236.2h0M117.0 236.6h0M119.3 236.6h0M116.0 233.5h0M116.8 240.2h0M117.0 240.7h0M118.3 236.0h0M111.7 233.7h0M121.7 231.5h0M114.0 232.2h0M115.5 238.2h0M119.5 229.0h0M122.4 234.0h0M115.4 241.8h0M117.1 231.7h0M115.2 233.5h0M113.9 234.8h0M120.4 237.2h0M114.0 236.4h0M117.5 238.6h0M116.3 237.6h0M124.7 236.3h0M113.7 237.1h0M114.6 234.7h0M118.1 237.2h0M116.4 238.9h0M116.7 231.5h0M120.4 234.7h0M121.6 233.7h0M119.4 237.1h0M113.5 240.9h0M110.9 239.2h0M121.2 237.7h0M119.7 234.3h0M117.4 236.8h0M118.9 238.4h0M116.7 233.6h0M115.5 237.4h0M111.7 231.7h0M116.0 234.1h0M116.5 226.8h0M116.2 235.1h0M120.1 229.2h0M116.3 237.6h0M119.1 240.1h0M121.0 232.4h0M119.6 234.8h0M114.6 241.3h0M115.2 233.0h0M116.0 233.1h0M120.9 237.3h0M122.2 237.4h0" stroke="#8a8a8a" stroke-opacity="0.75" stroke-width="0.9" stroke-linecap="square"/>
<path d="M151.5 228.2h0M151.4 223.6h0M153.0 225.1h0M157.3 223.1h0M154.6 224.9h0M149.5 221.6h0M152.8 226.2h0M154.5 226.5h0M153.7 223.6h0M154.9 221.9h0M149.2 224.0h0M149.0 223.4h0M151.1 223.3h0M153.4 222.5h0M152.2 219.7h0M154.0 222.3h0M154.8 216.3h0M150.9 225.7h0M145.7 223.9h0M153.8 225.3h0M148.7 225.7h0M154.0 222.0h0M155.9 224.8h0M153.6 223.6h0M155.2 225.3h0M157.1 226.4h0M151.5 224.3h0M156.4 223.9h0M154.7 226.6h0M152.9 217.8h0M153.9 225.7h0M153.9 222.7h0M157.4 224.6h0M151.5 222.8h0M154.6 221.6h0M150.3 231.2h0M157.7 228.3h0M157.9 226.8h0M148.1 228.7h0M157.5 226.5h0M147.3 228.8h0M157.9 223.5h0M153.9 227.4h0M153.2 228.4h0M153.8 227.1h0M153.8 220.4h0M150.3 234.8h0M154.4 229.1h0M157.1 230.3h0M155.3 223.2h0M153.6 219.0h0M152.9 227.8h0M146.6 225.6h0M156.1 229.1h0M150.5 223.0h0M147.5 221.8h0M155.2 231.4h0M149.8 229.3h0M154.9 223.5h0M160.5 217.2h0M153.3 225.7h0M160.3 230.6h0M160.8 225.4h0M156.6 229.2h0M155.1 226.1h0M152.9 223.7h0M149.6 231.1h0M152.1 218.5h0M154.3 224.9h0M154.1 230.6h0M153.2 224.2h0M151.1 224.9h0M152.1 225.6h0M163.5 226.2h0M150.8 231.0h0M156.3 227.5h0M155.8 227.6h0M155.7 229.4h0M156.7 229.2h0M151.9 225.0h0M151.2 228.0h0M156.2 223.5h0M155.4 233.2h0M157.5 221.5h0M153.2 227.0h0M153.4 226.2h0M157.3 226.0h0M150.0 227.2h0M153.2 225.4h0M151.7 220.7h0M149.5 223.9h0M150.1 216.5h0M157.2 221.4h0M151.2 226.7h0M145.8 229.2h0M151.0 227.1h0M152.0 226.0h0M153.8 225.0h0M147.6 220.4h0M153.4 229.4h0M151.7 226.7h0M154.0 226.5h0M156.7 220.3h0M154.4 224.4h0M152.5 222.3h0M151.0 221.8h0M150.0 232.8h0M159.0 225.0h0M155.9 222.0h0M144.6 219.3h0M154.0 229.5h0M153.4 221.9h0M152.7 221.9h0M149.0 224.3h0M152.2 222.5h0M150.7 222.1h0M154.3 229.3h0M152.8 232.0h0M148.3 225.9h0M149.8 224.5h0M153.8 226.7h0M157.1 223.3h0M149.5 224.4h0M154.4 222.8h0M156.4 230.3h0M148.9 226.1h0M156.8 219.0h0M154.2 224.3h0M148.9 229.1h0M154.2 223.5h0M154.9 227.0h0M156.0 226.8h0M154.8 221.3h0M152.1 225.4h0M144.6 231.6h0M152.3 221.7h0M147.6 225.8h0M153.6 223.2h0M152.2 222.2h0M151.1 224.7h0M151.4 227.1h0M153.0 225.4h0M154.8 229.0h0M155.4 225.7h0M153.0 222.5h0M152.4 227.1h0M154.2 223.8h0M149.2 220.2h0M154.5 228.2h0M154.7 220.7h0M152.8 225.7h0M150.5 226.1h0M152.9 222.4h0M149.5 227.5h0M154.6 222.2h0M150.2 227.8h0M155.4 224.1h0M158.6 224.1h0M150.1 228.4h0M152.9 226.1h0M153.6 221.9h0M149.7 224.4h0M158.0 221.9h0M157.9 225.7h0M149.9 225.8h0M155.3 222.2h0M146.7 226.1h0M149.9 226.4h0M147.4 224.6h0M150.9 220.4h0M152.7 225.5h0M151.7 221.3h0M154.2 219.6h0M155.2 226.5h0M158.9 227.7h0M154.6 225.8h0M153.6 220.9h0M158.2 226.6h0M152.6 221.4h0M158.3 226.7h0M149.7 227.1h0M159.6 224.9h0M154.8 223.7h0M151.5 228.3h0M163.4 225.4h0M153.1 227.5h0M152.5 227.3h0M156.2 221.8h0M150.1 224.8h0M156.2 225.9h0M160.4 217.3h0M155.4 222.1h0M152.7 228.0h0M145.4 224.6h0M144.1 227.7h0M146.2 222.9h0M153.5 221.9h0M159.8 222.0h0M157.8 227.8h0M145.0 224.6h0M146.3 223.7h0M150.2 237.5h0M149.2 235.9h0M155.0 217.8h0M136.3 230.3h0M138.5 230.5h0M159.0 228.5h0M150.6 224.4h0M153.8 224.1h0M148.4 223.7h0M159.9 222.1h0M154.6 218.8h0M147.2 217.3h0M150.7 230.3h0M154.1 222.9h0M156.1 223.8h0M154.5 227.7h0M155.7 210.4h0M143.2 230.9h0M151.3 240.1h0M150.4 222.5h0M162.1 229.5h0M164.9 229.2h0M150.6 230.6h0M146.7 223.2h0M148.2 224.6h0M157.3 223.0h0M154.2 222.9h0M158.0 208.7h0M150.6 227.1h0M144.7 232.4h0M153.5 234.1h0M158.5 230.0h0M151.0 219.2h0M150.5 223.1h0M153.7 223.1h0M159.9 223.0h0M150.4 231.8h0M152.0 218.4h0M154.8 224.8h0M138.1 227.2h0M144.9 221.3h0M155.3 227.9h0M150.0 239.6h0M154.8 222.1h0M153.6 225.2h0M137.1 216.1h0M142.6 239.0h0M150.8 224.3h0M148.2 232.2h0M152.2 236.7h0M157.3 236.3h0M151.2 228.4h0M149.1 224.9h0M140.3 222.4h0M145.6 221.9h0M160.2 227.6h0M160.3 231.4h0M158.2 232.3h0M147.9 231.0h0M149.8 222.7h0M160.1 239.6h0M145.4 236.9h0M157.6 220.7h0M153.8 228.3h0M154.5 223.8h0M143.3 226.2h0M157.8 230.9h0M156.5 232.9h0M145.3 225.7h0M154.3 232.3h0M153.1 229.2h0M152.9 239.1h0M137.3 225.8h0M139.6 226.8h0M142.3 221.7h0M153.5 236.7h0M155.1 230.2h0M158.9 227.3h0M146.2 225.4h0M154.3 224.3h0M147.5 223.8h0M141.9 219.6h0M151.4 223.7h0M152.3 234.8h0M154.0 225.8h0M144.1 219.3h0M154.5 220.5h0M154.9 219.3h0M152.9 225.5h0M158.7 223.5h0M149.5 227.5h0M152.4 236.6h0M150.3 222.6h0M149.8 229.0h0M153.6 230.3h0M142.7 241.5h0M164.4 225.8h0M143.9 227.0h0M154.8 212.0h0M152.1 216.8h0M155.1 234.6h0M159.0 216.6h0M161.3 231.7h0M149.6 229.1h0M162.2 223.9h0M151.9 222.5h0M159.8 212.5h0M161.6 219.9h0M158.2 215.8h0M145.7 222.3h0M157.6 215.9h0M156.1 222.0h0M160.4 224.1h0M155.3 224.9h0M164.1 223.7h0M151.8 238.4h0M152.5 230.3h0M147.0 227.2h0M136.7 226.7h0M147.6 216.6h0M142.5 233.1h0M154.9 216.5h0M164.2 221.6h0M149.5 227.5h0M144.3 215.9h0M147.0 233.4h0M158.4 216.1h0M160.1 226.2h0M155.4 226.3h0M154.8 219.7h0M145.9 221.6h0M149.5 229.9h0M143.8 236.0h0M147.7 222.3h0M156.7 228.7h0M149.7 219.3h0M145.3 216.0h0M159.7 232.8h0M164.6 229.1h0M154.2 230.7h0M158.4 224.4h0M154.4 239.5h0M140.6 217.2h0M145.5 230.7h0M160.0 223.9h0M156.5 225.7h0M154.0 222.6h0M151.8 226.0h0M159.6 240.0h0M139.8 229.3h0M152.0 232.1h0M159.2 230.9h0M157.5 220.1h0M140.5 236.4h0M160.1 220.0h0M160.7 230.2h0M135.5 231.6h0M130.3 224.4h0M145.4 208.7h0M139.2 225.2h0M160.8 215.4h0M130.4 241.7h0M113.2 233.9h0M148.3 218.7h0M135.1 229.3h0M159.9 228.1h0M152.0 189.9h0M128.2 195.5h0M163.4 237.0h0" stroke="#1a1a1a" stroke-opacity="0.75" stroke-width="0.8" stroke-linecap="square"/>
<rect x="109.10" y="187.30" width="57.3" height="56.9" fill="none" stroke="#000" stroke-width="1.3"/>
<path d="M123.0 244.2v3.0M126.6 244.2v2.0M128.7 244.2v2.0M130.2 244.2v2.0M131.4 244.2v2.0M132.3 244.2v2.0M133.1 244.2v2.0M133.8 244.2v2.0M134.5 244.2v2.0M135.0 244.2v3.0M139.1 244.2v2.0M141.4 244.2v2.0M143.1 244.2v2.0M144.4 244.2v2.0M145.5 244.2v2.0M146.4 244.2v2.0M147.2 244.2v2.0M147.9 244.2v2.0M148.5 244.2v3.0M152.4 244.2v2.0M154.7 244.2v2.0M156.3 244.2v2.0M157.6 244.2v2.0M158.6 244.2v2.0M159.5 244.2v2.0M160.2 244.2v2.0M160.9 244.2v2.0M161.5 244.2v2.6M112.1 244.2v1.5M114.1 244.2v1.5M116.5 244.2v2.6M118.6 244.2v1.5M120.7 244.2v1.5M109.1 232.7h-3.0M109.1 228.5h-2.0M109.1 226.0h-2.0M109.1 224.2h-2.0M109.1 222.8h-2.0M109.1 221.7h-2.0M109.1 220.8h-2.0M109.1 220.0h-2.0M109.1 219.2h-2.0M109.1 218.6h-3.0M109.1 214.5h-2.0M109.1 212.1h-2.0M109.1 210.4h-2.0M109.1 209.1h-2.0M109.1 208.0h-2.0M109.1 207.1h-2.0M109.1 206.3h-2.0M109.1 205.6h-2.0M109.1 205.0h-3.0M109.1 201.1h-2.0M109.1 198.9h-2.0M109.1 197.3h-2.0M109.1 196.1h-2.0M109.1 195.0h-2.0M109.1 194.2h-2.0M109.1 193.4h-2.0M109.1 192.8h-2.0M109.1 192.2h-2.6M109.1 234.8h-1.5M109.1 236.8h-1.5M109.1 238.4h-2.6M109.1 240.3h-1.5M109.1 242.3h-1.5" stroke="#000" stroke-width="1.15" fill="none"/>
<text x="104.50" y="194.00" font-size="5.7" text-anchor="end" fill="#111" >10<tspan dy="-1.77" font-size="3.99">5</tspan></text>
<text x="104.50" y="206.80" font-size="5.7" text-anchor="end" fill="#111" >10<tspan dy="-1.77" font-size="3.99">4</tspan></text>
<text x="104.50" y="220.40" font-size="5.7" text-anchor="end" fill="#111" >10<tspan dy="-1.77" font-size="3.99">3</tspan></text>
<text x="104.50" y="234.50" font-size="5.7" text-anchor="end" fill="#111" >10<tspan dy="-1.77" font-size="3.99">2</tspan></text>
<text x="104.10" y="240.50" font-size="5.7" text-anchor="end" fill="#111" >0</text>
<text x="116.10" y="253.60" font-size="5.7" text-anchor="middle" fill="#111" >0</text>
<text x="120.90" y="253.60" font-size="5.7" text-anchor="middle" fill="#111" >10<tspan dy="-1.77" font-size="3.99">2</tspan></text>
<text x="134.60" y="253.60" font-size="5.7" text-anchor="middle" fill="#111" >10<tspan dy="-1.77" font-size="3.99">3</tspan></text>
<text x="148.10" y="253.60" font-size="5.7" text-anchor="middle" fill="#111" >10<tspan dy="-1.77" font-size="3.99">4</tspan></text>
<text x="160.40" y="253.60" font-size="5.7" text-anchor="middle" fill="#111" >10<tspan dy="-1.77" font-size="3.99">5</tspan></text>
<line x1="50.50" y1="274.50" x2="50.50" y2="331.40" stroke="#b0b0b0" stroke-width="0.8" />
<line x1="35.10" y1="313.10" x2="92.40" y2="313.10" stroke="#b0b0b0" stroke-width="0.8" />
<ellipse cx="45.30" cy="323.00" rx="4.5" ry="6.0" fill="#8c8c8c" fill-opacity="0.85"/>
<path d="M47.9 327.1h0M44.4 321.9h0M41.2 327.1h0M43.7 319.7h0M45.5 318.9h0M42.1 321.2h0M49.9 321.6h0M46.9 316.3h0M44.1 316.0h0M45.0 325.1h0M40.0 318.8h0M46.1 318.6h0M47.8 326.6h0M46.7 320.7h0M45.2 319.8h0M44.9 323.8h0M44.4 326.6h0M53.3 320.2h0M46.4 326.0h0M47.3 321.5h0M43.8 326.8h0M47.2 324.7h0M42.8 325.2h0M47.8 321.7h0M39.5 325.1h0M41.7 316.7h0M44.6 324.8h0M45.5 317.5h0M40.9 320.1h0M45.3 319.0h0M42.7 321.8h0M43.6 320.0h0M45.4 321.2h0M47.2 317.5h0M45.1 325.8h0M49.0 324.9h0M45.4 315.9h0M40.3 326.7h0M47.4 324.9h0M40.2 313.4h0M42.0 317.5h0M45.8 318.1h0M50.2 319.8h0M43.6 326.2h0M46.3 318.7h0M41.5 321.4h0M42.0 314.2h0M47.2 325.5h0M48.3 324.3h0M39.0 322.4h0M43.2 317.5h0M41.9 325.8h0M46.8 314.3h0M48.1 327.8h0M45.4 317.3h0M50.8 316.9h0M45.0 314.3h0M41.4 315.2h0M48.7 327.5h0M44.0 316.7h0M45.1 324.1h0M40.5 317.5h0M45.0 325.5h0M45.5 324.4h0M41.4 311.8h0M46.3 318.6h0M44.9 320.9h0M46.8 319.2h0M49.8 322.6h0M47.0 325.2h0M48.5 324.2h0M39.8 319.8h0M51.1 324.5h0M47.1 324.5h0M43.3 319.6h0M43.3 327.5h0M46.7 317.4h0M50.8 324.0h0M49.0 323.4h0M44.3 323.2h0M41.8 317.3h0M42.5 320.2h0M41.0 322.1h0M51.1 322.3h0M48.1 321.6h0M46.5 322.4h0M43.6 322.8h0M40.7 324.4h0M44.4 317.8h0M44.2 324.9h0M43.2 324.6h0M47.1 329.2h0M41.9 322.0h0M46.9 329.0h0M46.1 325.8h0M40.7 320.0h0M50.5 321.3h0M52.1 319.3h0M44.4 315.6h0M47.3 323.6h0M51.7 323.2h0M44.5 316.4h0M45.0 326.6h0M47.6 327.8h0M48.0 322.3h0M47.2 323.2h0M46.5 317.9h0M46.5 323.8h0M48.5 328.8h0M50.1 318.4h0M39.4 323.7h0M46.4 324.0h0M41.8 320.5h0M45.9 325.7h0M52.2 323.8h0M43.4 312.2h0M48.7 321.9h0M45.0 318.2h0M47.6 314.7h0M45.6 323.0h0M46.3 328.2h0M45.0 322.9h0M48.0 315.7h0M44.4 322.8h0M48.3 319.0h0M47.9 324.2h0M40.6 316.0h0M40.8 323.1h0M46.0 325.7h0M47.9 320.1h0M48.7 326.1h0M46.8 324.6h0M41.2 324.1h0M42.0 317.3h0M44.2 323.1h0M45.1 321.1h0M42.1 323.3h0M42.9 316.3h0M45.6 328.9h0M44.0 317.9h0M44.4 321.6h0M45.7 326.9h0M46.7 314.5h0M41.8 317.1h0M46.7 323.0h0M51.0 321.3h0M46.3 322.8h0M46.2 328.9h0M49.4 319.8h0M47.5 320.8h0M45.6 323.2h0M45.4 320.4h0M50.3 321.3h0M47.5 329.9h0M47.3 327.0h0M49.7 327.3h0M50.8 316.2h0M51.5 322.6h0M39.7 319.7h0M40.8 322.4h0M40.5 318.1h0M46.2 323.2h0M42.8 321.5h0M45.0 322.8h0M45.3 321.5h0M48.1 315.4h0M43.7 323.1h0M44.0 320.1h0M43.9 323.4h0M49.3 321.7h0M44.4 324.1h0M44.5 314.0h0M46.2 320.8h0M43.5 325.3h0M45.4 320.0h0M38.3 314.9h0M45.3 322.0h0M46.7 323.5h0M43.8 316.9h0M41.8 321.9h0M41.6 325.8h0M41.1 314.6h0M44.7 314.7h0M50.5 318.1h0M45.1 321.4h0M42.7 314.7h0M39.3 326.3h0M40.6 325.0h0M45.3 326.2h0M43.7 325.7h0M48.2 325.2h0M49.9 321.7h0M50.2 319.4h0M50.6 310.4h0M45.3 319.0h0M45.3 327.0h0M47.6 322.9h0M50.7 316.0h0M42.7 329.1h0M46.3 313.4h0M46.4 317.3h0M50.0 327.5h0M43.5 328.2h0M42.6 326.5h0M47.2 321.9h0M40.8 321.3h0M38.0 320.0h0M39.4 327.8h0M42.2 311.8h0M47.2 324.1h0M47.8 322.8h0M43.2 309.5h0M46.8 326.7h0M43.4 316.3h0M45.2 315.1h0M45.3 325.9h0M50.1 323.7h0M45.9 325.8h0M49.8 321.1h0M41.4 319.0h0M41.3 318.6h0M44.9 324.0h0M45.8 322.8h0M44.2 324.4h0M48.1 325.8h0M50.1 321.2h0M45.9 324.3h0M44.2 326.8h0M44.0 318.1h0M45.1 320.6h0M48.0 320.8h0M45.7 321.5h0M46.4 319.7h0M48.8 316.2h0M44.1 319.4h0M47.4 322.7h0M46.9 321.0h0M43.0 317.6h0M44.2 320.1h0M46.2 324.1h0M48.4 322.0h0M42.9 317.8h0M45.5 324.1h0M51.5 323.3h0M41.9 327.8h0M48.9 328.4h0M45.3 326.7h0M43.8 322.2h0M44.6 326.7h0M45.5 319.4h0M46.1 325.4h0M43.0 325.3h0M43.0 318.6h0M46.0 321.5h0M42.2 315.3h0M45.4 323.6h0M43.8 323.3h0M40.4 324.2h0M46.6 323.7h0M43.3 322.8h0M45.7 327.2h0M46.2 323.6h0M43.0 326.3h0M49.1 320.3h0M47.3 323.9h0M45.2 316.8h0M50.9 314.3h0M46.3 320.8h0M49.0 320.6h0M45.4 325.2h0M46.8 320.2h0M47.5 324.2h0M48.5 320.3h0M45.2 320.8h0M42.6 323.6h0M46.6 328.7h0M44.3 324.2h0M48.9 322.0h0M45.5 323.1h0M43.1 318.2h0M48.9 323.3h0M45.1 317.0h0M45.7 327.6h0M41.6 318.6h0M48.8 328.8h0M50.3 320.1h0M47.2 319.2h0M47.0 320.9h0M45.9 328.4h0M46.4 321.4h0M45.5 323.7h0M43.7 323.4h0M47.2 329.3h0M38.7 317.3h0M41.4 326.3h0M53.1 323.3h0M45.7 327.5h0M37.5 321.7h0M43.7 320.4h0M46.4 319.9h0M48.8 322.5h0M43.9 326.5h0M42.7 328.0h0M48.4 323.1h0M48.5 329.5h0M49.7 322.5h0M45.1 327.3h0M40.6 319.9h0M46.8 325.0h0M46.3 324.4h0M41.1 321.7h0M46.1 321.5h0M45.5 325.2h0M42.3 320.0h0M39.7 327.5h0M42.0 315.1h0M47.7 321.6h0M48.4 320.9h0M52.0 325.6h0M45.8 323.0h0M44.6 326.0h0M51.6 320.7h0M41.9 325.1h0M48.7 316.0h0M43.1 318.2h0M47.1 324.7h0M43.0 317.6h0M47.5 313.6h0M47.3 321.8h0M51.4 326.8h0M43.5 321.3h0M44.4 319.3h0M45.6 326.7h0M40.5 321.5h0M50.0 325.7h0M42.7 319.0h0M42.6 315.5h0M48.9 322.8h0M43.1 316.3h0M44.1 320.3h0M50.7 320.5h0M45.7 327.1h0M47.4 321.7h0M38.4 328.6h0M47.2 320.6h0M45.0 318.4h0M42.5 316.1h0M46.9 324.7h0M45.8 325.9h0M47.0 323.0h0M42.5 325.1h0M49.0 325.2h0M49.2 320.5h0M42.2 327.9h0M43.5 323.6h0M44.7 322.6h0M44.4 320.2h0M45.9 314.2h0M42.5 317.6h0M43.0 311.5h0M47.1 329.6h0M44.5 325.7h0M47.2 317.1h0M49.1 315.2h0M43.5 321.0h0M49.2 323.0h0M44.9 319.0h0M45.6 322.7h0M47.6 328.5h0M47.6 322.6h0M44.8 329.4h0M45.9 322.4h0M50.9 329.3h0M47.1 322.0h0M43.3 327.1h0M43.9 326.6h0M42.8 323.0h0M46.6 323.1h0M46.0 324.1h0M41.8 317.7h0M44.9 318.5h0M43.2 322.6h0M49.0 320.1h0M47.1 323.3h0M44.2 318.4h0M44.8 319.4h0M47.0 314.9h0M48.8 325.8h0M47.1 328.9h0M47.2 315.2h0M45.5 324.4h0M43.2 317.6h0M46.7 324.7h0M44.0 321.5h0M43.7 320.1h0M45.1 327.1h0M40.3 321.0h0M50.3 323.9h0M45.8 326.1h0M42.2 317.3h0M40.1 316.2h0M46.1 326.1h0M44.0 319.6h0M46.6 325.1h0M46.1 314.3h0M43.6 311.6h0M46.1 318.9h0M43.3 328.9h0M49.4 324.6h0M46.2 323.2h0M43.5 322.3h0M51.3 318.7h0M43.2 323.2h0M48.1 326.1h0M42.3 321.9h0M44.5 317.2h0M45.5 320.4h0M48.2 324.4h0M42.9 322.8h0M44.2 319.8h0M43.8 327.1h0M44.0 315.2h0M42.9 326.0h0M52.0 318.0h0M44.2 321.1h0M40.9 324.2h0M45.1 323.7h0M52.3 321.4h0M47.8 326.1h0M43.3 320.0h0M50.1 325.6h0M45.7 317.8h0M48.0 324.8h0M52.1 328.8h0M47.8 323.6h0M45.5 320.1h0M46.3 323.5h0M47.3 327.1h0M46.3 320.2h0M47.8 329.1h0M42.7 324.3h0M47.0 324.8h0M46.9 322.1h0M45.0 329.7h0M50.7 316.5h0M37.4 324.4h0M43.2 320.3h0M40.3 324.0h0M45.1 320.2h0M49.9 327.5h0M44.0 325.3h0M45.2 327.4h0M47.1 322.4h0M47.0 319.4h0M47.8 328.9h0M44.2 324.9h0M40.1 326.5h0M48.0 318.1h0M50.7 323.0h0M39.9 316.6h0M48.0 321.3h0M48.7 315.9h0M45.0 326.7h0M43.2 325.4h0M44.2 324.0h0M41.5 325.8h0M49.4 317.7h0M48.6 309.8h0M44.6 315.2h0M46.2 319.4h0M43.6 318.9h0M46.2 320.5h0M42.5 321.5h0M46.6 318.8h0M48.8 315.4h0M46.6 320.8h0M50.2 319.8h0M43.2 316.8h0M51.5 325.1h0M41.9 321.1h0M42.3 329.0h0M46.6 313.8h0M46.0 326.4h0M45.3 324.5h0M45.0 323.4h0M46.0 319.5h0M46.4 323.2h0M45.2 319.6h0M42.1 323.6h0M47.9 312.2h0M43.6 328.3h0M48.1 319.5h0M49.5 318.3h0M43.1 319.2h0M37.8 314.6h0M39.9 319.7h0M37.0 326.7h0M43.4 317.0h0M42.2 324.8h0M51.7 318.1h0M52.1 329.9h0M50.9 322.2h0M38.5 324.4h0M43.2 321.6h0M36.8 318.9h0M46.0 315.0h0M46.0 316.5h0M55.4 307.9h0M41.0 322.9h0M42.4 307.1h0M46.1 325.4h0M41.5 329.1h0M47.2 327.5h0M38.3 320.5h0M50.8 320.5h0M45.8 316.8h0M49.8 316.4h0M45.5 308.4h0M45.3 321.8h0M54.1 311.8h0M42.7 319.3h0M39.5 312.6h0M39.6 324.3h0M44.8 325.3h0M40.3 324.0h0M43.1 321.0h0M49.1 320.7h0M43.5 310.7h0M45.3 325.1h0M42.2 320.1h0M37.2 312.7h0M46.8 328.1h0M43.6 310.7h0M43.3 311.3h0M46.3 319.6h0M49.6 318.3h0M46.5 321.7h0M47.0 311.9h0M48.1 325.7h0M41.0 329.3h0M45.1 324.5h0M47.4 325.7h0M42.2 317.1h0M46.7 324.1h0M47.5 322.5h0M42.9 327.0h0M47.1 326.8h0M42.1 321.2h0M42.9 318.7h0M45.9 322.5h0M41.5 305.6h0M41.5 323.7h0M41.3 323.0h0M43.4 314.9h0M44.5 320.2h0M49.3 312.6h0M41.1 327.2h0M49.0 317.6h0M41.5 322.6h0M38.7 317.5h0M44.0 305.9h0M47.6 325.0h0" stroke="#8a8a8a" stroke-opacity="0.75" stroke-width="0.9" stroke-linecap="square"/>
<path d="M48.6 303.2h0M40.8 310.8h0M45.5 317.9h0M42.8 311.2h0M48.5 310.1h0M50.6 303.1h0M50.6 307.6h0M42.8 312.9h0M44.4 317.1h0M45.9 313.8h0M50.9 304.6h0M43.8 312.1h0M44.6 314.4h0M46.4 307.2h0M45.6 313.0h0M44.4 317.4h0M43.7 311.0h0M46.2 315.9h0M52.3 310.6h0M49.6 308.0h0M54.5 306.8h0M49.6 309.8h0M50.2 308.3h0M43.7 306.0h0M52.6 301.0h0M37.7 313.3h0M56.4 307.5h0M45.2 311.7h0M43.6 304.7h0M46.2 311.1h0M49.4 303.5h0M35.8 311.5h0M48.4 308.8h0M47.8 309.5h0M43.3 307.1h0M49.4 309.3h0M51.3 311.1h0M38.3 306.9h0M43.9 319.4h0M44.2 312.9h0M48.2 311.3h0M58.3 299.9h0M45.3 308.5h0M48.8 310.2h0M45.5 315.3h0M52.1 307.6h0M46.2 309.2h0M41.9 315.4h0M42.5 310.8h0M49.2 304.6h0M46.5 313.0h0M52.9 303.0h0M50.1 305.0h0M49.3 309.7h0M44.4 315.0h0M53.9 305.0h0M46.0 305.9h0M53.9 305.0h0M43.4 314.7h0M40.3 311.6h0M41.2 318.4h0M54.3 302.2h0M43.5 309.8h0M45.8 312.3h0M50.8 303.2h0M45.6 303.9h0M52.6 305.3h0M46.9 315.1h0M48.9 313.2h0M53.9 310.8h0M44.1 311.7h0M48.1 308.1h0M51.6 303.8h0M53.1 310.3h0M37.9 312.2h0M42.6 310.5h0M48.2 308.1h0M46.5 308.2h0M47.5 310.9h0M48.5 305.6h0M45.3 307.9h0M43.9 306.4h0M51.8 308.7h0M45.4 308.1h0M44.1 309.0h0M43.9 317.6h0M57.4 297.9h0M43.5 314.0h0M46.6 304.0h0M40.6 315.8h0M41.8 318.2h0M45.3 311.0h0M46.0 308.1h0M46.0 309.1h0M51.6 306.0h0M46.0 308.3h0M43.3 309.3h0M50.2 314.0h0M51.6 307.2h0M55.1 307.7h0M47.5 308.6h0M43.3 313.0h0M43.1 306.4h0M45.4 317.6h0M48.7 310.2h0M47.0 307.8h0M50.6 311.0h0M46.7 311.6h0M50.1 305.6h0M46.4 307.2h0M48.7 307.0h0M50.1 304.6h0M52.9 304.3h0M42.3 309.4h0M48.1 305.7h0M56.0 308.0h0M46.6 304.6h0M45.7 307.8h0M40.8 315.3h0M54.5 302.5h0M52.2 310.6h0M42.8 311.2h0M48.8 310.0h0M43.0 313.0h0M48.2 312.1h0M40.0 312.3h0M44.6 310.0h0M48.7 306.1h0M56.2 300.6h0M51.9 309.8h0M50.3 306.5h0M43.4 311.0h0M49.7 308.1h0M50.2 309.4h0M42.1 309.5h0M51.6 304.6h0M44.1 318.2h0M42.3 309.4h0M48.8 304.2h0M45.5 314.4h0M48.1 317.8h0M51.9 315.9h0M47.6 309.3h0M44.2 310.6h0M45.1 310.7h0M47.8 304.3h0M40.0 306.7h0M52.6 305.4h0M46.8 309.4h0M51.4 307.7h0M49.9 306.9h0M46.4 309.7h0M41.8 317.0h0M39.3 311.1h0M49.6 307.9h0M53.0 311.6h0M56.4 308.1h0M49.6 315.2h0M43.5 311.6h0M50.4 306.4h0M45.9 308.9h0M48.0 299.8h0M53.6 308.8h0M47.7 311.1h0M45.2 314.8h0M57.1 299.3h0M52.2 305.7h0M44.9 309.2h0M44.2 306.9h0M44.7 317.1h0M47.9 310.9h0M49.0 309.9h0M39.6 311.1h0M51.1 310.3h0M41.7 311.0h0M44.0 313.9h0M48.4 308.7h0M45.1 312.0h0M45.9 307.6h0M47.1 307.0h0M51.7 308.6h0M45.4 312.7h0M46.1 307.6h0M40.7 307.8h0M43.3 313.3h0M50.5 304.8h0M48.2 309.9h0M50.7 308.6h0M53.0 308.2h0M44.8 312.5h0M37.8 315.1h0M48.1 310.9h0M47.3 312.3h0M50.6 304.0h0M45.4 311.6h0M49.1 308.6h0M48.2 304.4h0M51.9 310.4h0M51.9 307.7h0M46.8 311.1h0M44.0 305.8h0M44.6 311.0h0M43.5 308.5h0M45.5 309.2h0M47.2 309.2h0M49.3 311.5h0M48.2 310.2h0M37.4 305.4h0M46.6 312.2h0M44.7 308.8h0M43.8 314.9h0M45.4 311.5h0M52.2 307.9h0M55.3 303.3h0M51.8 308.7h0M44.6 311.3h0M43.1 308.4h0M46.8 306.8h0M52.1 303.3h0M45.1 311.1h0M45.1 311.0h0M42.3 307.6h0M53.5 306.6h0M46.8 308.0h0M47.0 310.6h0M40.4 311.1h0M45.8 314.9h0M45.0 315.1h0M49.8 317.5h0M45.1 309.4h0M55.5 306.9h0M48.2 301.3h0M56.3 310.7h0M43.7 307.6h0M41.8 317.1h0M47.2 307.9h0M42.5 319.9h0M50.5 305.5h0M51.6 299.6h0M48.1 301.8h0M53.0 302.4h0M51.5 302.6h0M50.7 311.7h0M40.5 312.9h0M42.8 315.5h0M41.1 310.0h0M47.3 314.1h0M39.4 313.0h0M42.2 308.3h0M40.5 311.5h0M42.7 302.5h0M43.8 303.7h0M51.4 317.4h0M39.7 312.6h0M46.5 313.7h0M38.2 304.2h0M36.6 316.0h0M49.7 312.0h0M44.1 313.6h0M42.6 318.0h0M43.4 306.8h0M51.0 314.8h0M37.5 307.7h0M36.7 308.7h0M46.1 310.5h0M45.1 310.4h0M51.6 303.2h0M45.2 305.5h0M45.1 311.5h0M44.2 301.3h0M40.2 313.1h0M47.6 313.8h0M37.4 303.3h0M48.1 298.3h0M40.9 314.3h0M45.7 322.4h0M48.2 310.0h0M48.6 319.0h0M46.8 304.2h0M48.5 297.8h0M42.8 312.4h0M43.9 304.9h0M58.4 308.2h0M41.0 314.1h0M40.7 309.9h0M51.5 305.6h0M45.1 309.8h0M41.8 318.2h0M44.5 316.8h0M41.7 309.1h0M54.6 303.8h0M40.4 309.5h0M53.8 313.6h0M48.0 305.1h0M37.3 310.9h0M45.4 310.4h0M45.0 316.3h0M38.2 310.1h0M49.6 308.8h0M45.7 314.1h0M41.5 320.6h0M63.1 307.6h0M51.2 315.8h0M49.2 313.7h0M44.8 310.5h0M44.1 300.4h0M48.7 316.2h0M51.7 306.6h0M50.1 313.4h0M42.6 300.6h0M39.3 311.6h0M45.2 306.8h0M49.1 315.6h0M52.4 307.5h0M45.8 309.2h0M48.2 308.5h0M43.3 314.8h0M40.6 312.1h0M40.5 306.1h0M48.8 306.4h0M38.6 313.3h0M41.2 319.8h0M53.5 314.3h0M44.0 313.9h0M37.8 309.7h0M46.0 310.9h0M50.2 304.4h0M54.3 308.2h0M40.0 311.8h0M44.5 318.9h0M44.6 314.4h0M50.1 304.5h0M43.6 312.2h0M37.8 307.4h0M40.8 314.1h0M51.1 314.8h0M36.3 318.1h0M41.8 317.8h0M49.8 306.7h0M53.0 301.8h0M39.8 307.2h0M42.0 312.0h0M52.6 311.1h0M42.1 307.4h0M42.5 308.7h0M41.8 309.4h0M57.1 304.4h0M57.5 301.9h0M56.8 308.6h0M53.3 304.3h0M58.8 307.6h0M58.2 310.9h0" stroke="#1a1a1a" stroke-opacity="0.75" stroke-width="0.8" stroke-linecap="square"/>
<rect x="35.10" y="274.50" width="57.3" height="56.9" fill="none" stroke="#000" stroke-width="1.3"/>
<path d="M49.0 331.4v3.0M52.6 331.4v2.0M54.7 331.4v2.0M56.2 331.4v2.0M57.4 331.4v2.0M58.3 331.4v2.0M59.1 331.4v2.0M59.8 331.4v2.0M60.5 331.4v2.0M61.0 331.4v3.0M65.1 331.4v2.0M67.4 331.4v2.0M69.1 331.4v2.0M70.4 331.4v2.0M71.5 331.4v2.0M72.4 331.4v2.0M73.2 331.4v2.0M73.9 331.4v2.0M74.5 331.4v3.0M78.4 331.4v2.0M80.7 331.4v2.0M82.3 331.4v2.0M83.6 331.4v2.0M84.6 331.4v2.0M85.5 331.4v2.0M86.2 331.4v2.0M86.9 331.4v2.0M87.5 331.4v2.6M38.1 331.4v1.5M40.1 331.4v1.5M42.5 331.4v2.6M44.6 331.4v1.5M46.7 331.4v1.5M35.1 319.9h-3.0M35.1 315.7h-2.0M35.1 313.2h-2.0M35.1 311.4h-2.0M35.1 310.0h-2.0M35.1 308.9h-2.0M35.1 308.0h-2.0M35.1 307.2h-2.0M35.1 306.4h-2.0M35.1 305.8h-3.0M35.1 301.7h-2.0M35.1 299.3h-2.0M35.1 297.6h-2.0M35.1 296.3h-2.0M35.1 295.2h-2.0M35.1 294.3h-2.0M35.1 293.5h-2.0M35.1 292.8h-2.0M35.1 292.2h-3.0M35.1 288.3h-2.0M35.1 286.1h-2.0M35.1 284.5h-2.0M35.1 283.3h-2.0M35.1 282.2h-2.0M35.1 281.4h-2.0M35.1 280.6h-2.0M35.1 280.0h-2.0M35.1 279.4h-2.6M35.1 322.0h-1.5M35.1 324.0h-1.5M35.1 325.6h-2.6M35.1 327.5h-1.5M35.1 329.5h-1.5" stroke="#000" stroke-width="1.15" fill="none"/>
<text x="30.50" y="281.20" font-size="5.7" text-anchor="end" fill="#111" >10<tspan dy="-1.77" font-size="3.99">5</tspan></text>
<text x="30.50" y="294.00" font-size="5.7" text-anchor="end" fill="#111" >10<tspan dy="-1.77" font-size="3.99">4</tspan></text>
<text x="30.50" y="307.60" font-size="5.7" text-anchor="end" fill="#111" >10<tspan dy="-1.77" font-size="3.99">3</tspan></text>
<text x="30.50" y="321.70" font-size="5.7" text-anchor="end" fill="#111" >10<tspan dy="-1.77" font-size="3.99">2</tspan></text>
<text x="30.10" y="327.70" font-size="5.7" text-anchor="end" fill="#111" >0</text>
<text x="42.10" y="340.80" font-size="5.7" text-anchor="middle" fill="#111" >0</text>
<text x="46.90" y="340.80" font-size="5.7" text-anchor="middle" fill="#111" >10<tspan dy="-1.77" font-size="3.99">2</tspan></text>
<text x="60.60" y="340.80" font-size="5.7" text-anchor="middle" fill="#111" >10<tspan dy="-1.77" font-size="3.99">3</tspan></text>
<text x="74.10" y="340.80" font-size="5.7" text-anchor="middle" fill="#111" >10<tspan dy="-1.77" font-size="3.99">4</tspan></text>
<text x="86.40" y="340.80" font-size="5.7" text-anchor="middle" fill="#111" >10<tspan dy="-1.77" font-size="3.99">5</tspan></text>
<line x1="125.70" y1="274.50" x2="125.70" y2="331.40" stroke="#b0b0b0" stroke-width="0.8" />
<line x1="109.10" y1="313.10" x2="166.40" y2="313.10" stroke="#b0b0b0" stroke-width="0.8" />
<ellipse cx="119.20" cy="322.50" rx="4.5" ry="6.0" fill="#8c8c8c" fill-opacity="0.85"/>
<path d="M117.0 320.6h0M113.4 324.9h0M114.1 319.0h0M116.7 325.6h0M124.8 320.5h0M118.1 320.3h0M118.4 321.3h0M126.8 317.3h0M118.7 318.6h0M120.1 319.7h0M120.8 317.3h0M125.7 322.9h0M113.4 325.0h0M117.5 317.0h0M120.4 319.7h0M121.3 319.6h0M121.9 322.6h0M120.1 322.7h0M117.8 320.4h0M120.4 325.1h0M124.4 317.0h0M122.4 321.7h0M119.7 318.6h0M124.2 318.4h0M118.7 318.9h0M125.1 327.4h0M114.8 320.1h0M120.2 320.1h0M117.9 317.3h0M119.8 317.3h0M118.0 329.1h0M120.2 319.1h0M117.9 317.8h0M119.4 325.0h0M121.9 320.8h0M115.2 321.7h0M124.3 323.2h0M118.8 313.0h0M117.6 324.4h0M116.0 327.8h0M117.2 318.2h0M117.2 321.6h0M122.2 319.6h0M113.4 321.7h0M120.6 328.7h0M115.5 328.4h0M121.1 324.0h0M116.6 318.2h0M116.0 326.0h0M119.7 326.6h0M124.7 322.1h0M114.9 320.1h0M117.8 320.4h0M119.5 318.4h0M122.7 316.1h0M116.4 314.7h0M114.6 324.6h0M121.0 321.2h0M121.7 324.7h0M117.2 321.8h0M117.6 323.6h0M120.7 327.3h0M120.3 326.6h0M115.7 320.9h0M112.9 321.8h0M126.3 323.1h0M119.3 323.2h0M119.5 316.3h0M116.8 321.3h0M119.5 318.3h0M118.7 318.9h0M114.9 319.2h0M116.5 325.6h0M123.2 324.5h0M118.3 319.6h0M114.1 319.8h0M123.9 327.0h0M119.7 321.0h0M119.0 323.8h0M119.0 323.9h0M116.6 322.2h0M117.9 326.7h0M115.1 327.6h0M118.7 319.9h0M119.1 322.6h0M118.3 323.8h0M117.2 314.8h0M121.2 321.9h0M124.2 323.7h0M112.7 327.4h0M116.8 324.4h0M126.0 326.7h0M115.6 321.6h0M113.9 324.9h0M120.8 317.6h0M120.4 326.0h0M121.5 319.2h0M116.8 317.2h0M114.9 323.4h0M119.1 327.6h0M119.9 320.7h0M114.5 328.7h0M119.5 321.9h0M115.8 317.5h0M121.0 317.9h0M120.8 324.7h0M117.8 315.1h0M120.3 328.1h0M116.4 316.6h0M122.4 322.7h0M117.0 327.3h0M118.1 324.0h0M117.7 318.8h0M119.7 318.4h0M113.4 319.7h0M122.9 326.7h0M125.8 326.3h0M124.1 323.1h0M117.6 324.0h0M116.0 325.2h0M117.6 323.1h0M116.3 321.5h0M122.1 321.1h0M116.9 323.3h0M121.8 321.2h0M115.3 315.4h0M114.8 326.6h0M118.7 324.1h0M122.4 323.3h0M120.5 319.9h0M113.9 324.7h0M118.7 324.5h0M115.7 321.4h0M125.3 318.5h0M119.3 327.6h0M118.3 322.6h0M112.3 325.4h0M117.6 327.5h0M118.7 320.5h0M120.4 321.0h0M117.4 328.6h0M122.1 322.5h0M121.5 325.6h0M120.8 322.2h0M119.2 323.8h0M120.8 323.6h0M117.3 321.7h0M120.4 317.9h0M119.0 325.3h0M119.5 320.8h0M118.9 320.0h0M122.1 320.5h0M113.8 316.9h0M119.9 322.9h0M117.5 316.5h0M118.5 318.5h0M116.9 322.1h0M116.6 323.4h0M116.7 320.1h0M118.3 328.2h0M123.9 326.0h0M116.7 322.1h0M121.9 325.5h0M113.9 321.8h0M116.7 325.2h0M121.0 319.8h0M125.7 320.9h0M126.7 321.4h0M117.4 320.1h0M123.6 321.9h0M120.5 316.8h0M124.6 326.2h0M120.1 325.0h0M117.4 320.1h0M114.1 323.6h0M122.9 325.7h0M121.9 325.1h0M116.1 316.6h0M121.0 322.8h0M122.1 320.9h0M116.2 323.9h0M117.3 315.2h0M117.1 318.4h0M115.5 319.8h0M124.4 320.3h0M122.6 321.8h0M120.3 319.2h0M118.8 315.0h0M124.6 318.9h0M120.8 319.6h0M119.8 317.1h0M117.8 325.9h0M120.9 313.9h0M121.7 316.6h0M119.9 324.2h0M117.0 320.7h0M118.2 323.8h0M121.9 327.8h0M116.0 329.5h0M118.2 325.3h0M118.6 322.4h0M116.1 323.7h0M125.3 322.7h0M118.9 322.1h0M121.2 321.2h0M119.0 323.0h0M123.1 326.1h0M115.7 319.4h0M119.1 325.6h0M122.0 321.2h0M125.7 321.4h0M123.4 328.0h0M124.0 322.9h0M120.8 315.7h0M113.4 319.5h0M121.3 326.5h0M118.7 326.4h0M120.8 328.4h0M114.0 318.6h0M116.0 317.7h0M124.2 318.2h0M116.4 320.4h0M121.8 320.1h0M121.3 324.4h0M117.0 312.2h0M116.1 316.9h0M124.1 319.1h0M115.6 323.6h0M119.2 318.2h0M122.4 325.9h0M119.9 318.9h0M116.3 313.5h0M120.2 323.7h0M116.1 322.2h0M129.3 317.4h0M113.6 324.6h0M117.7 320.0h0M121.0 321.5h0M122.1 324.2h0M122.6 322.6h0M112.2 327.7h0M113.7 326.4h0M119.8 316.3h0M119.2 325.7h0M115.8 322.2h0M116.7 317.9h0M117.1 327.4h0M121.2 321.9h0M118.7 322.6h0M119.9 322.8h0M113.6 325.9h0M116.3 311.2h0M121.2 317.0h0M118.6 321.7h0M117.1 324.3h0M118.1 320.9h0M116.0 320.9h0M115.7 322.2h0M123.2 326.3h0M120.3 316.4h0M122.2 326.0h0M125.5 312.6h0M119.1 320.7h0M122.4 317.5h0M122.1 313.7h0M119.1 327.8h0M117.1 324.5h0M119.3 315.9h0M117.0 326.8h0M122.7 319.5h0M122.5 319.1h0M119.8 321.9h0M115.1 323.4h0M117.8 310.5h0M116.4 318.5h0M116.4 317.9h0M116.8 311.8h0M121.8 322.3h0M119.8 320.9h0M119.2 320.9h0M115.6 315.7h0M119.2 326.3h0M119.7 328.8h0M114.7 320.9h0M117.1 327.2h0M124.3 319.8h0M121.3 321.0h0M115.9 321.6h0M115.7 328.5h0M120.9 327.0h0M120.1 311.8h0M121.5 322.4h0M111.5 322.5h0M122.2 329.2h0M115.8 325.3h0M120.0 321.3h0M118.1 324.2h0M120.8 324.8h0M117.7 316.5h0M123.2 327.5h0M117.2 321.9h0M121.5 314.6h0M119.9 319.1h0M125.4 322.1h0M119.7 320.2h0M119.6 314.5h0M115.0 315.8h0M121.8 321.6h0M122.6 313.4h0M117.1 328.1h0M116.5 314.2h0M116.7 320.6h0M119.0 327.5h0M123.2 328.6h0M120.8 319.9h0M117.4 315.8h0M123.0 327.3h0M119.3 318.3h0M121.1 324.1h0M119.5 317.1h0M119.8 319.6h0M121.3 324.5h0M120.4 320.2h0M123.8 325.3h0M123.0 325.5h0M121.1 323.7h0M115.6 314.3h0M116.1 324.6h0M121.9 322.8h0M119.3 329.7h0M117.8 314.5h0M114.1 320.6h0M121.2 325.1h0M118.3 325.5h0M118.8 319.0h0M117.8 325.2h0M122.0 317.3h0M115.9 322.5h0M125.7 317.1h0M115.1 323.8h0M120.6 319.4h0M118.9 324.0h0M113.5 321.9h0M120.9 325.9h0M122.7 321.7h0M114.5 327.7h0M121.4 319.3h0M122.2 326.4h0M118.6 312.0h0M117.5 318.8h0M116.4 321.7h0M115.6 323.6h0M124.9 317.0h0M122.3 319.8h0M120.7 321.5h0M123.0 319.0h0M121.3 318.7h0M119.7 321.9h0M122.4 315.3h0M114.8 327.9h0M120.2 329.2h0M115.8 322.9h0M120.9 329.5h0M118.8 320.1h0M121.2 321.6h0M116.7 325.2h0M113.0 317.7h0M123.3 319.9h0M118.0 323.6h0M122.5 324.2h0M116.0 319.6h0M122.3 321.5h0M117.0 325.7h0M115.6 319.0h0M116.8 323.5h0M117.5 326.7h0M110.6 326.1h0M117.0 320.8h0M120.8 322.9h0M115.8 328.3h0M120.8 319.9h0M119.7 317.3h0M115.2 320.7h0M120.1 322.4h0M116.6 316.2h0M113.8 328.7h0M120.2 318.6h0M122.7 324.3h0M117.7 319.4h0M122.6 323.4h0M124.1 323.5h0M117.2 319.5h0M116.8 323.1h0M119.8 324.6h0M120.4 317.6h0M118.4 318.0h0M120.5 316.5h0M117.2 318.4h0M117.1 320.9h0M123.7 320.9h0M114.5 320.7h0M121.3 324.3h0M122.5 322.4h0M122.8 316.3h0M118.5 318.3h0M119.6 328.8h0M117.5 328.7h0M115.8 328.0h0M113.7 318.4h0M122.1 321.6h0M119.5 321.9h0M119.6 321.2h0M116.0 320.8h0M119.3 318.2h0M120.5 329.4h0M113.9 319.7h0M118.1 322.1h0M119.3 318.9h0M118.9 322.0h0M118.7 328.5h0M119.4 315.8h0M114.1 324.5h0M117.9 319.4h0M114.8 320.7h0M118.7 319.1h0M117.9 325.7h0M121.4 324.3h0M118.5 316.3h0M121.4 328.3h0M123.0 326.9h0M119.9 323.6h0M119.0 327.3h0M121.4 320.6h0M119.0 315.2h0M116.7 320.7h0M126.6 318.6h0M121.9 322.3h0M118.1 324.6h0M112.8 326.0h0M125.0 323.3h0M118.8 322.7h0M121.1 319.9h0M119.4 324.1h0M117.9 323.6h0M120.0 325.0h0M115.9 319.7h0M117.7 327.1h0M119.8 315.0h0M120.1 316.5h0M116.2 322.6h0M123.4 328.8h0M117.9 320.7h0M125.0 317.9h0M123.9 323.4h0M119.3 327.4h0M120.5 318.5h0M114.3 322.1h0M120.6 327.8h0M110.9 327.7h0M120.9 328.4h0M121.5 322.9h0M120.3 323.7h0M117.0 321.5h0M119.4 320.1h0M114.4 315.9h0M120.6 324.2h0M119.3 317.1h0M121.6 320.3h0M112.6 328.6h0M120.7 320.1h0M111.7 319.0h0M123.6 327.8h0M119.8 314.8h0M117.8 320.8h0M120.4 321.5h0M120.1 315.1h0M117.0 328.1h0M114.5 325.9h0M126.2 324.8h0M114.7 327.3h0M113.2 323.4h0M117.7 327.2h0M122.7 322.8h0M124.6 326.2h0M117.5 317.8h0M126.6 320.3h0M120.3 321.5h0M117.5 315.2h0M118.6 321.5h0M122.1 319.8h0M114.1 317.5h0M118.9 323.1h0M121.3 320.4h0M120.7 322.6h0M124.2 321.8h0M119.4 324.4h0M122.8 318.1h0M117.5 320.8h0M112.4 327.5h0M122.3 322.1h0M129.5 327.4h0M125.3 328.7h0M121.8 316.0h0M123.8 323.8h0M115.3 322.2h0M121.3 326.2h0M119.8 317.0h0M122.3 315.6h0M118.7 324.4h0M112.7 322.2h0M110.4 314.6h0M113.6 319.5h0M122.1 319.7h0M123.0 320.6h0M118.1 322.8h0M118.0 320.8h0M123.6 316.7h0M124.0 313.6h0M118.0 310.0h0M116.7 329.2h0M120.6 327.3h0M112.6 314.2h0M121.0 324.8h0M122.7 310.3h0M121.2 319.6h0M119.5 322.8h0M117.8 310.2h0M114.3 311.6h0M113.2 319.2h0M124.7 315.9h0M115.7 313.4h0M111.4 320.4h0M116.9 318.6h0M114.8 322.8h0M113.7 323.2h0M116.1 324.6h0M115.1 322.6h0M120.9 319.5h0M126.2 321.0h0M115.1 324.0h0M115.4 316.9h0M119.1 321.1h0M126.5 309.9h0M117.9 326.5h0M118.3 321.9h0M125.7 312.9h0M119.2 324.6h0M116.4 309.9h0M114.6 321.1h0M124.8 311.0h0M123.5 325.3h0M126.1 319.1h0M116.6 320.9h0M125.8 323.6h0M126.4 324.6h0M116.4 314.1h0M127.1 311.2h0M117.5 318.2h0M115.0 316.7h0M118.7 317.0h0M119.5 325.4h0M115.4 317.6h0M111.3 324.1h0M122.0 328.7h0M122.8 318.4h0M117.3 318.2h0M113.7 324.5h0M116.3 315.8h0M121.3 320.7h0M116.4 318.6h0M116.8 327.8h0M123.4 315.8h0M118.8 328.0h0M121.0 323.9h0M109.9 324.9h0M120.5 323.4h0M121.1 323.1h0M116.8 325.2h0M119.3 313.9h0M114.5 320.9h0M120.5 307.2h0M109.9 326.1h0" stroke="#8a8a8a" stroke-opacity="0.75" stroke-width="0.9" stroke-linecap="square"/>
<path d="M130.6 309.9h0M122.3 307.6h0M126.4 307.1h0M134.6 305.0h0M125.5 309.1h0M123.9 307.9h0M129.2 305.7h0M126.4 308.8h0M127.7 305.1h0M126.1 303.7h0M130.9 304.2h0M131.4 307.3h0M124.6 306.2h0M128.8 306.4h0M128.2 306.9h0M128.0 301.1h0M123.7 302.9h0M126.6 304.9h0M130.3 304.1h0M128.9 307.3h0M129.0 301.7h0M125.8 306.9h0M133.9 301.3h0M127.6 305.8h0M130.7 303.3h0M128.7 303.7h0M125.3 304.7h0M129.9 302.8h0M130.4 304.6h0M129.0 298.5h0M123.4 304.8h0M128.2 306.7h0M138.6 302.7h0M133.2 303.0h0M127.1 306.7h0M121.0 310.9h0M128.6 306.0h0M123.3 305.2h0M125.6 306.2h0M128.9 303.7h0M129.9 305.5h0M123.7 307.1h0M121.9 307.1h0M130.6 302.0h0M135.2 302.2h0M131.3 303.4h0M132.1 305.2h0M127.9 303.9h0M127.8 309.4h0M126.9 304.6h0M123.9 303.5h0M126.5 306.5h0M125.5 304.7h0M129.9 305.0h0M126.7 306.4h0M125.3 308.4h0M124.1 306.4h0M128.1 304.0h0M125.8 310.8h0M131.8 299.0h0M127.3 302.6h0M127.9 302.2h0M130.6 304.8h0M135.3 303.7h0M127.2 307.5h0M126.2 305.7h0M124.6 303.0h0M128.3 300.3h0M127.6 306.4h0M126.9 302.1h0M126.3 307.4h0M133.4 305.6h0M121.9 309.4h0M127.0 307.3h0M121.8 308.1h0M129.9 302.5h0M125.8 304.0h0M130.8 300.5h0M124.4 306.2h0M128.8 309.2h0M128.2 303.0h0M130.4 304.4h0M129.0 304.3h0M128.6 302.1h0M123.3 306.6h0M124.7 308.4h0M136.1 303.3h0M129.9 304.7h0M124.3 304.1h0M128.6 301.4h0M129.0 304.2h0M130.8 303.6h0M127.8 303.8h0M121.5 307.8h0M131.5 305.4h0M132.0 300.6h0M125.3 308.0h0M128.8 310.3h0M127.7 301.8h0M127.5 308.8h0M121.6 308.9h0M124.5 310.5h0M125.4 304.1h0M121.2 307.1h0M118.4 309.2h0M135.9 300.9h0M126.0 303.5h0M128.8 303.5h0M126.2 309.0h0M128.8 302.6h0M133.3 302.0h0M130.0 304.3h0M132.8 303.7h0M127.4 306.9h0M126.7 306.0h0M132.9 300.0h0M123.9 306.4h0M127.4 308.2h0M124.4 312.1h0M133.3 301.1h0M128.3 304.0h0M131.0 304.8h0M131.4 304.8h0M134.8 300.9h0M130.3 303.3h0M128.3 305.3h0M128.1 305.7h0M124.8 306.4h0M124.7 304.2h0M125.0 305.5h0M126.0 302.6h0M126.0 303.6h0M125.2 306.9h0M132.3 303.3h0M125.8 305.2h0M131.3 299.6h0M130.7 300.2h0M125.8 306.3h0M128.8 308.3h0M129.7 303.9h0M131.5 303.2h0M126.1 308.5h0M134.6 304.2h0M125.5 310.6h0M127.2 307.1h0M134.5 306.7h0M121.2 306.4h0M132.7 303.5h0M124.1 300.6h0M129.4 303.8h0M121.1 314.7h0M118.5 309.0h0M128.2 305.4h0M130.5 303.1h0M124.4 306.2h0M119.4 307.2h0M134.5 299.9h0M129.5 308.4h0M131.9 303.1h0M130.4 303.1h0M125.7 308.5h0M130.0 307.5h0M126.7 304.9h0M129.1 304.0h0M126.0 304.1h0M129.2 305.1h0M134.6 301.3h0M122.1 309.3h0M135.9 299.7h0M125.0 306.3h0M117.4 310.1h0M125.9 302.8h0M129.3 302.4h0M120.6 307.4h0M132.1 307.0h0M132.7 302.9h0M125.9 305.6h0M131.0 302.2h0M130.4 305.8h0M124.2 305.8h0M129.6 304.1h0M127.1 304.3h0M129.5 308.3h0M131.4 299.5h0M128.3 305.1h0M126.8 302.6h0M127.7 305.5h0M125.8 306.9h0M117.8 307.2h0M128.7 305.5h0M127.0 304.5h0M129.7 306.5h0M131.2 303.1h0M127.3 307.7h0M130.8 305.4h0M126.2 304.1h0M128.1 303.6h0M133.0 304.2h0M120.7 310.5h0M133.8 304.2h0M125.5 304.5h0M132.5 304.8h0M127.1 302.9h0M122.7 308.5h0M124.4 305.5h0M130.6 305.9h0M119.9 307.9h0M132.7 302.4h0M127.4 306.8h0M122.7 305.1h0M129.5 307.6h0M131.7 303.0h0M131.3 302.3h0M122.2 304.5h0M129.8 306.0h0M129.3 304.2h0M127.6 307.7h0M126.5 302.6h0M132.4 301.2h0M129.4 304.2h0M132.0 303.3h0M132.6 302.9h0M125.9 305.0h0M129.6 302.3h0M131.1 302.8h0M123.8 305.3h0M129.1 308.3h0M130.8 303.5h0M126.5 310.1h0M127.0 305.5h0M127.7 308.1h0M128.2 303.9h0M127.7 302.9h0M124.0 306.8h0M118.7 312.7h0M134.2 299.2h0M126.0 302.6h0M128.8 305.0h0M129.4 301.2h0M125.2 305.1h0M129.3 309.4h0M127.2 305.3h0M126.9 307.4h0M138.4 301.9h0M132.5 300.1h0M131.9 303.0h0M133.5 304.3h0M128.8 300.8h0M128.0 303.9h0M129.7 304.2h0M130.3 300.2h0M125.2 306.3h0M128.8 303.7h0M127.9 305.2h0M131.7 302.7h0M127.2 301.4h0M117.1 307.7h0M127.1 300.3h0M129.4 304.0h0M127.3 303.7h0M121.1 311.3h0M124.7 306.4h0M119.8 309.6h0M129.9 303.9h0M118.5 305.1h0M121.8 304.4h0M114.9 314.4h0M115.7 303.2h0M120.7 315.2h0M119.9 303.8h0M116.7 313.0h0M125.3 306.9h0M122.0 309.5h0M132.8 304.4h0M119.5 303.8h0M127.5 310.9h0M124.7 301.8h0M125.5 310.9h0M119.3 310.9h0M132.4 308.8h0M110.1 307.0h0M125.8 308.5h0M120.3 308.5h0M121.7 312.3h0M113.6 309.3h0M111.7 309.4h0M122.4 307.7h0M133.3 301.5h0M125.2 307.5h0M126.2 311.1h0M123.6 307.5h0M121.8 307.8h0M123.6 310.7h0M122.7 307.6h0M123.3 309.9h0M120.9 311.7h0M120.0 311.3h0M134.8 302.4h0M120.2 304.2h0M127.1 305.3h0M127.2 302.8h0M128.4 311.4h0M124.5 305.3h0M114.4 311.4h0M127.5 307.3h0M114.1 307.8h0M114.9 307.4h0M121.2 309.1h0M134.7 302.3h0M129.1 298.1h0M133.3 305.3h0M126.4 308.7h0M129.1 311.4h0M125.0 299.8h0M114.0 317.6h0M123.9 311.7h0M119.4 306.5h0M120.8 309.5h0M122.8 305.1h0M126.7 307.8h0M115.2 306.9h0M109.8 312.5h0M121.6 305.4h0M118.6 308.9h0M123.5 309.1h0M128.3 306.3h0M128.1 301.2h0M126.8 306.8h0M115.0 308.6h0M125.4 306.4h0M113.9 309.6h0M133.2 305.5h0M125.0 311.3h0M116.6 309.7h0M128.0 303.6h0M116.4 312.6h0M128.8 295.0h0M121.6 303.3h0M118.6 304.1h0M137.7 297.6h0M121.7 305.2h0M115.7 309.1h0M126.4 312.2h0M126.6 311.4h0M116.0 310.9h0M117.5 304.1h0M145.4 295.6h0M122.9 304.5h0M117.4 306.1h0M128.3 303.2h0M121.9 308.5h0M115.2 311.9h0M122.1 309.4h0M120.2 308.8h0M127.1 308.9h0M119.6 312.5h0M116.1 309.9h0M123.5 307.5h0M122.7 310.8h0M120.3 314.2h0M111.4 313.2h0M125.9 305.9h0M125.5 309.5h0M118.3 311.7h0M128.8 303.6h0M115.6 306.9h0M124.0 303.8h0M138.8 301.8h0M113.9 310.6h0M133.0 305.0h0M117.7 313.7h0M122.8 315.6h0M119.9 311.0h0M125.4 304.5h0M123.2 311.5h0M125.5 305.8h0M127.8 311.5h0M129.0 306.1h0M122.3 301.8h0M122.6 305.6h0M126.2 303.5h0M123.8 303.0h0M127.0 302.6h0M123.2 309.3h0M120.5 308.5h0M131.7 309.7h0M109.9 310.2h0M128.1 308.3h0M119.7 309.2h0M124.6 315.0h0M119.5 304.5h0M111.0 308.3h0M130.0 302.4h0M135.6 303.6h0M125.8 308.3h0M128.8 307.9h0M115.6 308.8h0M119.2 309.5h0M119.1 304.5h0M120.8 315.0h0M134.5 298.5h0M124.8 306.2h0M118.3 312.2h0M124.5 312.8h0M124.9 305.2h0M126.7 302.8h0M133.4 300.0h0M146.6 307.3h0M136.0 296.1h0M161.5 290.3h0M149.6 292.1h0M154.0 299.3h0M159.6 294.9h0M158.1 295.0h0M131.5 291.9h0M132.4 298.6h0" stroke="#1a1a1a" stroke-opacity="0.75" stroke-width="0.8" stroke-linecap="square"/>
<rect x="109.10" y="274.50" width="57.3" height="56.9" fill="none" stroke="#000" stroke-width="1.3"/>
<path d="M123.0 331.4v3.0M126.6 331.4v2.0M128.7 331.4v2.0M130.2 331.4v2.0M131.4 331.4v2.0M132.3 331.4v2.0M133.1 331.4v2.0M133.8 331.4v2.0M134.5 331.4v2.0M135.0 331.4v3.0M139.1 331.4v2.0M141.4 331.4v2.0M143.1 331.4v2.0M144.4 331.4v2.0M145.5 331.4v2.0M146.4 331.4v2.0M147.2 331.4v2.0M147.9 331.4v2.0M148.5 331.4v3.0M152.4 331.4v2.0M154.7 331.4v2.0M156.3 331.4v2.0M157.6 331.4v2.0M158.6 331.4v2.0M159.5 331.4v2.0M160.2 331.4v2.0M160.9 331.4v2.0M161.5 331.4v2.6M112.1 331.4v1.5M114.1 331.4v1.5M116.5 331.4v2.6M118.6 331.4v1.5M120.7 331.4v1.5M109.1 319.9h-3.0M109.1 315.7h-2.0M109.1 313.2h-2.0M109.1 311.4h-2.0M109.1 310.0h-2.0M109.1 308.9h-2.0M109.1 308.0h-2.0M109.1 307.2h-2.0M109.1 306.4h-2.0M109.1 305.8h-3.0M109.1 301.7h-2.0M109.1 299.3h-2.0M109.1 297.6h-2.0M109.1 296.3h-2.0M109.1 295.2h-2.0M109.1 294.3h-2.0M109.1 293.5h-2.0M109.1 292.8h-2.0M109.1 292.2h-3.0M109.1 288.3h-2.0M109.1 286.1h-2.0M109.1 284.5h-2.0M109.1 283.3h-2.0M109.1 282.2h-2.0M109.1 281.4h-2.0M109.1 280.6h-2.0M109.1 280.0h-2.0M109.1 279.4h-2.6M109.1 322.0h-1.5M109.1 324.0h-1.5M109.1 325.6h-2.6M109.1 327.5h-1.5M109.1 329.5h-1.5" stroke="#000" stroke-width="1.15" fill="none"/>
<text x="104.50" y="281.20" font-size="5.7" text-anchor="end" fill="#111" >10<tspan dy="-1.77" font-size="3.99">5</tspan></text>
<text x="104.50" y="294.00" font-size="5.7" text-anchor="end" fill="#111" >10<tspan dy="-1.77" font-size="3.99">4</tspan></text>
<text x="104.50" y="307.60" font-size="5.7" text-anchor="end" fill="#111" >10<tspan dy="-1.77" font-size="3.99">3</tspan></text>
<text x="104.50" y="321.70" font-size="5.7" text-anchor="end" fill="#111" >10<tspan dy="-1.77" font-size="3.99">2</tspan></text>
<text x="104.10" y="327.70" font-size="5.7" text-anchor="end" fill="#111" >0</text>
<text x="116.10" y="340.80" font-size="5.7" text-anchor="middle" fill="#111" >0</text>
<text x="120.90" y="340.80" font-size="5.7" text-anchor="middle" fill="#111" >10<tspan dy="-1.77" font-size="3.99">2</tspan></text>
<text x="134.60" y="340.80" font-size="5.7" text-anchor="middle" fill="#111" >10<tspan dy="-1.77" font-size="3.99">3</tspan></text>
<text x="148.10" y="340.80" font-size="5.7" text-anchor="middle" fill="#111" >10<tspan dy="-1.77" font-size="3.99">4</tspan></text>
<text x="160.40" y="340.80" font-size="5.7" text-anchor="middle" fill="#111" >10<tspan dy="-1.77" font-size="3.99">5</tspan></text>
<line x1="74.00" y1="286.60" x2="90.40" y2="286.60" stroke="#222" stroke-width="0.9" />
<line x1="82.20" y1="278.80" x2="82.20" y2="294.40" stroke="#222" stroke-width="0.9" />
<text x="81.20" y="284.60" font-size="5.4" text-anchor="end" fill="#111" >54</text>
<text x="83.20" y="284.60" font-size="5.4" fill="#111" >21</text>
<text x="81.20" y="292.60" font-size="5.4" text-anchor="end" fill="#111" >22</text>
<text x="83.20" y="292.60" font-size="5.4" fill="#111" >3</text>
<line x1="148.10" y1="286.30" x2="164.50" y2="286.30" stroke="#222" stroke-width="0.9" />
<line x1="156.30" y1="278.50" x2="156.30" y2="294.10" stroke="#222" stroke-width="0.9" />
<text x="155.30" y="284.30" font-size="5.4" text-anchor="end" fill="#111" >38</text>
<text x="157.30" y="284.30" font-size="5.4" fill="#111" >56</text>
<text x="155.30" y="292.30" font-size="5.4" text-anchor="end" fill="#111" >4</text>
<text x="157.30" y="292.30" font-size="5.4" fill="#111" >3</text>
<line x1="81.40" y1="229.20" x2="81.40" y2="270.40" stroke="#000" stroke-width="1.0" />
<path d="M81.40 274.60L79.40 270.40L83.40 270.40z" fill="#000"/>
<line x1="156.10" y1="229.40" x2="156.10" y2="270.40" stroke="#000" stroke-width="1.0" />
<path d="M156.10 274.60L154.10 270.40L158.10 270.40z" fill="#000"/>
<path d="M14.5 217.5V262.5H32.5" fill="none" stroke="#000" stroke-width="1"/>
<line x1="14.50" y1="230.00" x2="14.50" y2="219.00" stroke="#000" stroke-width="1.0" />
<path d="M14.50 214.80L16.50 219.00L12.50 219.00z" fill="#000"/>
<line x1="25.00" y1="262.50" x2="32.40" y2="262.50" stroke="#000" stroke-width="1.0" />
<path d="M36.60 262.50L32.40 264.50L32.40 260.50z" fill="#000"/>
<text x="16.40" y="203.30" font-size="9.4" text-anchor="middle" font-weight="bold" fill="#111" textLength="17.8" lengthAdjust="spacingAndGlyphs" transform="rotate(-90 16.40 203.30)" >T-bet</text>
<text x="40.60" y="265.00" font-size="8.6" font-weight="bold" fill="#111" textLength="14.2" lengthAdjust="spacingAndGlyphs" >IFN-γ</text>
<path d="M13.5 316V349.8H128" fill="none" stroke="#000" stroke-width="1"/>
<line x1="13.50" y1="330.00" x2="13.50" y2="316.60" stroke="#000" stroke-width="1.0" />
<path d="M13.50 312.40L15.50 316.60L11.50 316.60z" fill="#000"/>
<line x1="110.00" y1="349.80" x2="127.80" y2="349.80" stroke="#000" stroke-width="1.0" />
<path d="M132.00 349.80L127.80 351.80L127.80 347.80z" fill="#000"/>
<text x="16.90" y="296.90" font-size="9.2" text-anchor="middle" font-weight="bold" fill="#111" textLength="21.5" lengthAdjust="spacingAndGlyphs" transform="rotate(-90 16.90 296.90)" >RORγT</text>
<text x="135.40" y="352.40" font-size="8.8" font-weight="bold" fill="#111" textLength="18.6" lengthAdjust="spacingAndGlyphs" >IL-17A</text>
<path d="M228.40 212.50L228.40 187.20A25.3 25.3 0 1 1 210.20 230.07z" fill="#adbf88"/>
<path d="M228.40 212.50L210.20 230.07A25.3 25.3 0 0 1 213.89 191.78z" fill="#ac6924"/>
<path d="M228.40 212.50L213.89 191.78A25.3 25.3 0 0 1 228.40 187.20z" fill="#4a5068"/>
<path d="M303.00 212.40L303.00 187.00A25.4 25.4 0 0 1 328.34 210.63z" fill="#adbf88"/>
<path d="M303.00 212.40L328.34 210.63A25.4 25.4 0 1 1 277.63 211.07z" fill="#ac6924"/>
<path d="M303.00 212.40L277.63 211.07A25.4 25.4 0 0 1 303.00 187.00z" fill="#4a5068"/>
<path d="M228.50 292.00L228.50 267.10A24.9 24.9 0 0 1 248.39 277.01z" fill="#adbf88"/>
<path d="M228.50 292.00L248.39 277.01A24.9 24.9 0 0 1 217.58 314.38z" fill="#ac6924"/>
<path d="M228.50 292.00L217.58 314.38A24.9 24.9 0 0 1 228.50 267.10z" fill="#4a5068"/>
<path d="M303.20 292.30L303.20 267.20A25.1 25.1 0 0 1 328.30 292.30z" fill="#adbf88"/>
<path d="M303.20 292.30L328.30 292.30A25.1 25.1 0 0 1 279.61 300.88z" fill="#ac6924"/>
<path d="M303.20 292.30L279.61 300.88A25.1 25.1 0 0 1 303.20 267.20z" fill="#4a5068"/>
<text x="228.40" y="172.50" font-size="8.3" text-anchor="middle" fill="#111" textLength="46.3" lengthAdjust="spacingAndGlyphs" >Unstimulated</text>
<text x="228.40" y="182.40" font-size="8.6" text-anchor="middle" fill="#111" textLength="16.3" lengthAdjust="spacingAndGlyphs" >CD8</text>
<text x="303.00" y="172.50" font-size="8.2" text-anchor="middle" fill="#111" textLength="52.5" lengthAdjust="spacingAndGlyphs" >iDC-stimulated</text>
<text x="302.05" y="182.30" font-size="8.6" text-anchor="middle" fill="#111" textLength="16.8" lengthAdjust="spacingAndGlyphs" >CD8</text>
<text x="231.05" y="252.50" font-size="8.4" text-anchor="middle" fill="#111" textLength="34.2" lengthAdjust="spacingAndGlyphs" >NK-iDC-</text>
<text x="229.20" y="261.90" font-size="8.3" text-anchor="middle" fill="#111" textLength="55.2" lengthAdjust="spacingAndGlyphs" >stimulated&#160;CD8</text>
<text x="301.00" y="252.50" font-size="8.4" text-anchor="middle" fill="#111" textLength="35.5" lengthAdjust="spacingAndGlyphs" >NK//iDC-</text>
<text x="302.90" y="261.90" font-size="8.3" text-anchor="middle" fill="#111" textLength="55.0" lengthAdjust="spacingAndGlyphs" >stimulated&#160;CD8</text>
<rect x="203.70" y="325.90" width="10.00" height="4.90" fill="#adbf88" />
<text x="217.50" y="331.00" font-size="7.6" fill="#222" >T-bet<tspan dy="-2.36" font-size="5.32">+</tspan><tspan dy="2.36">&#160;IFNγ</tspan><tspan dy="-2.36" font-size="5.32">+</tspan><tspan dy="2.36">&#160;RORγT</tspan><tspan dy="-2.36" font-size="5.32">neg</tspan><tspan dy="2.36">&#160;IL-17A</tspan><tspan dy="-2.36" font-size="5.32">neg</tspan></text>
<rect x="203.70" y="338.15" width="10.00" height="4.90" fill="#ac6924" />
<text x="217.50" y="343.25" font-size="7.6" fill="#222" >T-bet<tspan dy="-2.36" font-size="5.32">+</tspan><tspan dy="2.36">&#160;IFNγ</tspan><tspan dy="-2.36" font-size="5.32">+</tspan><tspan dy="2.36">&#160;RORγT</tspan><tspan dy="-2.36" font-size="5.32">+</tspan><tspan dy="2.36">&#160;IL-17A</tspan><tspan dy="-2.36" font-size="5.32">neg</tspan></text>
<rect x="203.70" y="350.40" width="10.00" height="4.90" fill="#4a5068" />
<text x="217.50" y="355.50" font-size="7.6" fill="#222" >T-bet<tspan dy="-2.36" font-size="5.32">+</tspan><tspan dy="2.36">&#160;IFNγ</tspan><tspan dy="-2.36" font-size="5.32">+</tspan><tspan dy="2.36">&#160;RORγT</tspan><tspan dy="-2.36" font-size="5.32">+</tspan><tspan dy="2.36">&#160;IL-17A</tspan><tspan dy="-2.36" font-size="5.32">+</tspan></text>
<line x1="392.50" y1="181.00" x2="392.50" y2="269.80" stroke="#000" stroke-width="1.1" />
<line x1="392.00" y1="269.25" x2="494.00" y2="269.25" stroke="#000" stroke-width="1.1" />
<line x1="389.40" y1="269.25" x2="392.50" y2="269.25" stroke="#000" stroke-width="1" />
<text x="386.00" y="272.35" font-size="8.7" text-anchor="end" fill="#111" >0</text>
<line x1="389.40" y1="248.00" x2="392.50" y2="248.00" stroke="#000" stroke-width="1" />
<text x="386.00" y="251.10" font-size="8.7" text-anchor="end" fill="#111" >20</text>
<line x1="389.40" y1="226.75" x2="392.50" y2="226.75" stroke="#000" stroke-width="1" />
<text x="386.00" y="229.85" font-size="8.7" text-anchor="end" fill="#111" >40</text>
<line x1="389.40" y1="205.50" x2="392.50" y2="205.50" stroke="#000" stroke-width="1" />
<text x="386.00" y="208.60" font-size="8.7" text-anchor="end" fill="#111" >60</text>
<line x1="389.40" y1="184.25" x2="392.50" y2="184.25" stroke="#000" stroke-width="1" />
<text x="386.00" y="187.35" font-size="8.7" text-anchor="end" fill="#111" >80</text>
<line x1="399.30" y1="269.25" x2="399.30" y2="271.60" stroke="#000" stroke-width="1" />
<line x1="411.90" y1="269.25" x2="411.90" y2="271.60" stroke="#000" stroke-width="1" />
<line x1="424.50" y1="269.25" x2="424.50" y2="271.60" stroke="#000" stroke-width="1" />
<line x1="437.10" y1="269.25" x2="437.10" y2="271.60" stroke="#000" stroke-width="1" />
<line x1="449.70" y1="269.25" x2="449.70" y2="271.60" stroke="#000" stroke-width="1" />
<line x1="462.30" y1="269.25" x2="462.30" y2="271.60" stroke="#000" stroke-width="1" />
<line x1="474.90" y1="269.25" x2="474.90" y2="271.60" stroke="#000" stroke-width="1" />
<line x1="487.50" y1="269.25" x2="487.50" y2="271.60" stroke="#000" stroke-width="1" />
<text x="370.60" y="225.40" font-size="7.6" text-anchor="middle" font-weight="bold" fill="#111" textLength="49" lengthAdjust="spacingAndGlyphs" transform="rotate(-90 370.60 225.40)" >RORγT<tspan dy="-2.36" font-size="5.32">+</tspan><tspan dy="2.36">&#160;IL-17A</tspan><tspan dy="-2.36" font-size="5.32">+</tspan></text>
<text x="357.60" y="225.60" font-size="7.6" text-anchor="middle" font-weight="bold" fill="#111" textLength="51" lengthAdjust="spacingAndGlyphs" transform="rotate(-90 357.60 225.60)" >%&#160;T-bet<tspan dy="-2.36" font-size="5.32">+</tspan><tspan dy="2.36">&#160;IFN-γ</tspan><tspan dy="-2.36" font-size="5.32">+</tspan></text>
<path d="M399.30 263.66L401.60 267.66L397.00 267.66z" fill="none" stroke="#c4c4c4" stroke-width="0.8"/>
<path d="M395.90 261.54L398.20 265.54L393.60 265.54z" fill="none" stroke="#c4c4c4" stroke-width="0.8"/>
<path d="M402.70 260.48L405.00 264.48L400.40 264.48z" fill="none" stroke="#c4c4c4" stroke-width="0.8"/>
<path d="M399.30 258.35L401.60 262.35L397.00 262.35z" fill="none" stroke="#c4c4c4" stroke-width="0.8"/>
<path d="M395.90 256.23L398.20 260.23L393.60 260.23z" fill="none" stroke="#c4c4c4" stroke-width="0.8"/>
<path d="M399.30 254.10L401.60 258.10L397.00 258.10z" fill="none" stroke="#c4c4c4" stroke-width="0.8"/>
<path d="M395.90 251.97L398.20 255.97L393.60 255.97z" fill="none" stroke="#c4c4c4" stroke-width="0.8"/>
<line x1="394.70" y1="259.69" x2="403.90" y2="259.69" stroke="#111" stroke-width="1.5" />
<line x1="399.30" y1="257.03" x2="399.30" y2="262.34" stroke="#222" stroke-width="1.0" />
<line x1="397.50" y1="257.03" x2="401.10" y2="257.03" stroke="#222" stroke-width="1.0" />
<line x1="397.50" y1="262.34" x2="401.10" y2="262.34" stroke="#222" stroke-width="1.0" />
<circle cx="411.90" cy="265.00" r="2.15" fill="none" stroke="#b0123a" stroke-width="1.0"/>
<circle cx="411.90" cy="255.44" r="2.15" fill="none" stroke="#b0123a" stroke-width="1.0"/>
<circle cx="408.50" cy="252.25" r="2.15" fill="none" stroke="#b0123a" stroke-width="1.0"/>
<circle cx="411.90" cy="250.12" r="2.15" fill="none" stroke="#b0123a" stroke-width="1.0"/>
<circle cx="408.50" cy="248.00" r="2.15" fill="none" stroke="#b0123a" stroke-width="1.0"/>
<circle cx="415.30" cy="246.94" r="2.15" fill="none" stroke="#b0123a" stroke-width="1.0"/>
<circle cx="416.90" cy="245.88" r="2.15" fill="none" stroke="#b0123a" stroke-width="1.0"/>
<circle cx="411.90" cy="244.81" r="2.15" fill="none" stroke="#b0123a" stroke-width="1.0"/>
<circle cx="406.90" cy="243.75" r="2.15" fill="none" stroke="#b0123a" stroke-width="1.0"/>
<circle cx="415.30" cy="242.69" r="2.15" fill="none" stroke="#b0123a" stroke-width="1.0"/>
<circle cx="410.20" cy="241.62" r="2.15" fill="none" stroke="#b0123a" stroke-width="1.0"/>
<circle cx="413.60" cy="240.56" r="2.15" fill="none" stroke="#b0123a" stroke-width="1.0"/>
<circle cx="406.90" cy="239.50" r="2.15" fill="none" stroke="#b0123a" stroke-width="1.0"/>
<circle cx="416.90" cy="238.44" r="2.15" fill="none" stroke="#b0123a" stroke-width="1.0"/>
<circle cx="411.90" cy="236.31" r="2.15" fill="none" stroke="#b0123a" stroke-width="1.0"/>
<circle cx="408.50" cy="234.19" r="2.15" fill="none" stroke="#b0123a" stroke-width="1.0"/>
<circle cx="411.90" cy="232.06" r="2.15" fill="none" stroke="#b0123a" stroke-width="1.0"/>
<circle cx="416.90" cy="231.00" r="2.15" fill="none" stroke="#b0123a" stroke-width="1.0"/>
<circle cx="413.60" cy="231.00" r="2.15" fill="none" stroke="#b0123a" stroke-width="1.0"/>
<line x1="407.30" y1="243.75" x2="416.50" y2="243.75" stroke="#111" stroke-width="1.5" />
<line x1="411.90" y1="235.04" x2="411.90" y2="252.46" stroke="#222" stroke-width="1.0" />
<line x1="410.10" y1="235.04" x2="413.70" y2="235.04" stroke="#222" stroke-width="1.0" />
<line x1="410.10" y1="252.46" x2="413.70" y2="252.46" stroke="#222" stroke-width="1.0" />
<circle cx="424.50" cy="258.62" r="2.15" fill="none" stroke="#e8961c" stroke-width="1.0"/>
<circle cx="424.50" cy="254.38" r="2.15" fill="none" stroke="#e8961c" stroke-width="1.0"/>
<circle cx="421.10" cy="251.19" r="2.15" fill="none" stroke="#e8961c" stroke-width="1.0"/>
<circle cx="424.50" cy="249.06" r="2.15" fill="none" stroke="#e8961c" stroke-width="1.0"/>
<circle cx="429.50" cy="248.00" r="2.15" fill="none" stroke="#e8961c" stroke-width="1.0"/>
<circle cx="421.10" cy="246.94" r="2.15" fill="none" stroke="#e8961c" stroke-width="1.0"/>
<circle cx="426.20" cy="245.88" r="2.15" fill="none" stroke="#e8961c" stroke-width="1.0"/>
<circle cx="424.50" cy="244.81" r="2.15" fill="none" stroke="#e8961c" stroke-width="1.0"/>
<circle cx="421.10" cy="242.69" r="2.15" fill="none" stroke="#e8961c" stroke-width="1.0"/>
<circle cx="424.50" cy="240.56" r="2.15" fill="none" stroke="#e8961c" stroke-width="1.0"/>
<circle cx="421.10" cy="237.38" r="2.15" fill="none" stroke="#e8961c" stroke-width="1.0"/>
<circle cx="424.50" cy="234.19" r="2.15" fill="none" stroke="#e8961c" stroke-width="1.0"/>
<line x1="419.90" y1="246.62" x2="429.10" y2="246.62" stroke="#111" stroke-width="1.5" />
<line x1="424.50" y1="240.78" x2="424.50" y2="252.46" stroke="#222" stroke-width="1.0" />
<line x1="422.70" y1="240.78" x2="426.30" y2="240.78" stroke="#222" stroke-width="1.0" />
<line x1="422.70" y1="252.46" x2="426.30" y2="252.46" stroke="#222" stroke-width="1.0" />
<circle cx="437.10" cy="250.12" r="2.15" fill="none" stroke="#5aa83a" stroke-width="1.0"/>
<circle cx="437.10" cy="241.62" r="2.15" fill="none" stroke="#5aa83a" stroke-width="1.0"/>
<circle cx="433.70" cy="238.44" r="2.15" fill="none" stroke="#5aa83a" stroke-width="1.0"/>
<circle cx="437.10" cy="234.19" r="2.15" fill="none" stroke="#5aa83a" stroke-width="1.0"/>
<circle cx="433.70" cy="232.06" r="2.15" fill="none" stroke="#5aa83a" stroke-width="1.0"/>
<circle cx="437.10" cy="229.94" r="2.15" fill="none" stroke="#5aa83a" stroke-width="1.0"/>
<circle cx="442.10" cy="228.88" r="2.15" fill="none" stroke="#5aa83a" stroke-width="1.0"/>
<circle cx="433.70" cy="227.81" r="2.15" fill="none" stroke="#5aa83a" stroke-width="1.0"/>
<line x1="432.50" y1="235.68" x2="441.70" y2="235.68" stroke="#111" stroke-width="1.5" />
<line x1="437.10" y1="228.24" x2="437.10" y2="243.11" stroke="#222" stroke-width="1.0" />
<line x1="435.30" y1="228.24" x2="438.90" y2="228.24" stroke="#222" stroke-width="1.0" />
<line x1="435.30" y1="243.11" x2="438.90" y2="243.11" stroke="#222" stroke-width="1.0" />
<circle cx="449.70" cy="248.00" r="2.15" fill="none" stroke="#8a84c8" stroke-width="1.0"/>
<circle cx="444.70" cy="246.94" r="2.15" fill="none" stroke="#8a84c8" stroke-width="1.0"/>
<circle cx="449.70" cy="241.62" r="2.15" fill="none" stroke="#8a84c8" stroke-width="1.0"/>
<circle cx="446.30" cy="239.50" r="2.15" fill="none" stroke="#8a84c8" stroke-width="1.0"/>
<circle cx="449.70" cy="237.38" r="2.15" fill="none" stroke="#8a84c8" stroke-width="1.0"/>
<circle cx="446.30" cy="235.25" r="2.15" fill="none" stroke="#8a84c8" stroke-width="1.0"/>
<circle cx="449.70" cy="233.12" r="2.15" fill="none" stroke="#8a84c8" stroke-width="1.0"/>
<circle cx="454.70" cy="232.06" r="2.15" fill="none" stroke="#8a84c8" stroke-width="1.0"/>
<circle cx="446.30" cy="231.00" r="2.15" fill="none" stroke="#8a84c8" stroke-width="1.0"/>
<circle cx="451.40" cy="229.94" r="2.15" fill="none" stroke="#8a84c8" stroke-width="1.0"/>
<circle cx="448.00" cy="228.88" r="2.15" fill="none" stroke="#8a84c8" stroke-width="1.0"/>
<circle cx="454.70" cy="227.81" r="2.15" fill="none" stroke="#8a84c8" stroke-width="1.0"/>
<line x1="445.10" y1="234.72" x2="454.30" y2="234.72" stroke="#111" stroke-width="1.5" />
<line x1="449.70" y1="227.81" x2="449.70" y2="241.62" stroke="#222" stroke-width="1.0" />
<line x1="447.90" y1="227.81" x2="451.50" y2="227.81" stroke="#222" stroke-width="1.0" />
<line x1="447.90" y1="241.62" x2="451.50" y2="241.62" stroke="#222" stroke-width="1.0" />
<circle cx="462.30" cy="245.88" r="2.15" fill="none" stroke="#2a4c8c" stroke-width="1.0"/>
<circle cx="458.90" cy="243.75" r="2.15" fill="none" stroke="#2a4c8c" stroke-width="1.0"/>
<circle cx="462.30" cy="240.56" r="2.15" fill="none" stroke="#2a4c8c" stroke-width="1.0"/>
<circle cx="458.90" cy="237.38" r="2.15" fill="none" stroke="#2a4c8c" stroke-width="1.0"/>
<circle cx="462.30" cy="234.19" r="2.15" fill="none" stroke="#2a4c8c" stroke-width="1.0"/>
<circle cx="458.90" cy="232.06" r="2.15" fill="none" stroke="#2a4c8c" stroke-width="1.0"/>
<circle cx="462.30" cy="228.88" r="2.15" fill="none" stroke="#2a4c8c" stroke-width="1.0"/>
<circle cx="458.90" cy="226.75" r="2.15" fill="none" stroke="#2a4c8c" stroke-width="1.0"/>
<circle cx="462.30" cy="224.62" r="2.15" fill="none" stroke="#2a4c8c" stroke-width="1.0"/>
<circle cx="458.90" cy="222.50" r="2.15" fill="none" stroke="#2a4c8c" stroke-width="1.0"/>
<circle cx="462.30" cy="220.38" r="2.15" fill="none" stroke="#2a4c8c" stroke-width="1.0"/>
<circle cx="458.90" cy="218.25" r="2.15" fill="none" stroke="#2a4c8c" stroke-width="1.0"/>
<circle cx="462.30" cy="216.12" r="2.15" fill="none" stroke="#2a4c8c" stroke-width="1.0"/>
<circle cx="458.90" cy="212.94" r="2.15" fill="none" stroke="#2a4c8c" stroke-width="1.0"/>
<circle cx="462.30" cy="210.81" r="2.15" fill="none" stroke="#2a4c8c" stroke-width="1.0"/>
<circle cx="458.90" cy="207.62" r="2.15" fill="none" stroke="#2a4c8c" stroke-width="1.0"/>
<circle cx="462.30" cy="203.38" r="2.15" fill="none" stroke="#2a4c8c" stroke-width="1.0"/>
<circle cx="457.30" cy="202.31" r="2.15" fill="none" stroke="#2a4c8c" stroke-width="1.0"/>
<circle cx="465.70" cy="200.19" r="2.15" fill="none" stroke="#2a4c8c" stroke-width="1.0"/>
<line x1="457.70" y1="223.56" x2="466.90" y2="223.56" stroke="#111" stroke-width="1.5" />
<line x1="462.30" y1="210.28" x2="462.30" y2="236.84" stroke="#222" stroke-width="1.0" />
<line x1="460.50" y1="210.28" x2="464.10" y2="210.28" stroke="#222" stroke-width="1.0" />
<line x1="460.50" y1="236.84" x2="464.10" y2="236.84" stroke="#222" stroke-width="1.0" />
<rect x="472.90" y="235.38" width="4.00" height="4.00" fill="#2c6c4c" />
<rect x="469.50" y="232.19" width="4.00" height="4.00" fill="#2c6c4c" />
<rect x="472.90" y="226.88" width="4.00" height="4.00" fill="#2c6c4c" />
<rect x="472.90" y="222.62" width="4.00" height="4.00" fill="#2c6c4c" />
<rect x="469.50" y="220.50" width="4.00" height="4.00" fill="#2c6c4c" />
<rect x="476.30" y="219.44" width="4.00" height="4.00" fill="#2c6c4c" />
<rect x="472.90" y="212.00" width="4.00" height="4.00" fill="#2c6c4c" />
<line x1="470.30" y1="225.37" x2="479.50" y2="225.37" stroke="#111" stroke-width="1.5" />
<line x1="474.90" y1="217.40" x2="474.90" y2="233.34" stroke="#222" stroke-width="1.0" />
<line x1="473.10" y1="217.40" x2="476.70" y2="217.40" stroke="#222" stroke-width="1.0" />
<line x1="473.10" y1="233.34" x2="476.70" y2="233.34" stroke="#222" stroke-width="1.0" />
<rect x="485.50" y="252.38" width="4.00" height="4.00" fill="#5a2a7a" />
<rect x="482.10" y="249.19" width="4.00" height="4.00" fill="#5a2a7a" />
<rect x="485.50" y="246.00" width="4.00" height="4.00" fill="#5a2a7a" />
<rect x="485.50" y="240.69" width="4.00" height="4.00" fill="#5a2a7a" />
<rect x="482.10" y="237.50" width="4.00" height="4.00" fill="#5a2a7a" />
<rect x="485.50" y="230.06" width="4.00" height="4.00" fill="#5a2a7a" />
<rect x="482.10" y="226.88" width="4.00" height="4.00" fill="#5a2a7a" />
<rect x="485.50" y="224.75" width="4.00" height="4.00" fill="#5a2a7a" />
<line x1="482.90" y1="242.05" x2="492.10" y2="242.05" stroke="#111" stroke-width="1.5" />
<line x1="487.50" y1="231.96" x2="487.50" y2="252.14" stroke="#222" stroke-width="1.0" />
<line x1="485.70" y1="231.96" x2="489.30" y2="231.96" stroke="#222" stroke-width="1.0" />
<line x1="485.70" y1="252.14" x2="489.30" y2="252.14" stroke="#222" stroke-width="1.0" />
<path d="M410.00 173.60V171.30H462.30V173.60" fill="none" stroke="#000" stroke-width="0.9"/>
<rect x="432.55" y="166.65" width="1.7" height="1.5" fill="#222"/>
<rect x="435.45" y="166.65" width="1.7" height="1.5" fill="#222"/>
<rect x="438.35" y="166.65" width="1.7" height="1.5" fill="#222"/>
<path d="M423.80 181.60V179.30H462.30V181.60" fill="none" stroke="#000" stroke-width="0.9"/>
<rect x="440.05" y="173.85" width="1.7" height="1.5" fill="#222"/>
<rect x="442.95" y="173.85" width="1.7" height="1.5" fill="#222"/>
<rect x="445.85" y="173.85" width="1.7" height="1.5" fill="#222"/>
<path d="M436.30 191.80V189.50H462.30V191.80" fill="none" stroke="#000" stroke-width="0.9"/>
<rect x="448.45" y="184.85" width="1.7" height="1.5" fill="#222"/>
<path d="M449.70 199.60V197.30H462.30V199.60" fill="none" stroke="#000" stroke-width="0.9"/>
<rect x="453.15" y="192.95" width="1.7" height="1.5" fill="#222"/>
<path d="M412.50 206.10V203.80H449.30V206.10" fill="none" stroke="#000" stroke-width="0.9"/>
<rect x="429.65" y="199.15" width="1.7" height="1.5" fill="#222"/>
<path d="M423.80 214.30V212.00H449.30V214.30" fill="none" stroke="#000" stroke-width="0.9"/>
<rect x="434.00" y="206.95" width="1.7" height="1.5" fill="#222"/>
<rect x="436.90" y="206.95" width="1.7" height="1.5" fill="#222"/>
<path d="M423.80 222.80V220.50H436.30V222.80" fill="none" stroke="#000" stroke-width="0.9"/>
<rect x="429.15" y="215.65" width="1.7" height="1.5" fill="#222"/>
<path d="M461.60 185.70V183.40H487.20V185.70" fill="none" stroke="#000" stroke-width="0.9"/>
<rect x="471.90" y="178.15" width="1.7" height="1.5" fill="#222"/>
<rect x="474.80" y="178.15" width="1.7" height="1.5" fill="#222"/>
<path d="M474.60 208.80V206.50H487.20V208.80" fill="none" stroke="#000" stroke-width="0.9"/>
<rect x="480.15" y="201.55" width="1.7" height="1.5" fill="#222"/>
<text x="403.50" y="281.60" font-size="8.0" text-anchor="end" fill="#111" transform="rotate(-45 403.50 281.60)" >Unstimulated</text>
<text x="416.10" y="281.60" font-size="8.0" text-anchor="end" fill="#111" transform="rotate(-45 416.10 281.60)" >iDC</text>
<text x="428.70" y="281.60" font-size="8.0" text-anchor="end" fill="#111" transform="rotate(-45 428.70 281.60)" >iDC&#160;+&#160;IL-15/IL-6</text>
<text x="441.30" y="281.60" font-size="8.0" text-anchor="end" fill="#111" transform="rotate(-45 441.30 281.60)" >NK//iDC</text>
<text x="453.90" y="281.60" font-size="8.0" text-anchor="end" fill="#111" transform="rotate(-45 453.90 281.60)" ><tspan dy="1.92" font-size="5.92">IFN-γ</tspan><tspan dy="-1.92">-iDC</tspan></text>
<text x="466.50" y="281.60" font-size="8.0" text-anchor="end" fill="#111" transform="rotate(-45 466.50 281.60)" >NK-iDC</text>
<text x="479.10" y="281.60" font-size="8.0" text-anchor="end" fill="#111" transform="rotate(-45 479.10 281.60)" >NK<tspan dy="1.92" font-size="5.92">α-IgG1,κ</tspan><tspan dy="-1.92">-iDC</tspan></text>
<text x="491.70" y="281.60" font-size="8.0" text-anchor="end" fill="#111" transform="rotate(-45 491.70 281.60)" >NK<tspan dy="1.92" font-size="5.92">α-NKp30</tspan><tspan dy="-1.92">-iDC</tspan></text>
<rect x="89.30" y="401.60" width="77.2" height="77.8" fill="none" stroke="#8c8c8c" stroke-width="0.8"/>
<text x="122.80" y="394.80" font-size="9.7" text-anchor="middle" fill="#111" >Concatenated</text>
<g transform="translate(89.30 401.60)" stroke-width="1.15" stroke-linecap="square">
<path d="M68.3 50.5h0M42.8 50.2h0M57.4 48.1h0M48.5 52.1h0M38.5 51.7h0M35.9 26.9h0M55.9 48.5h0M68.9 52.3h0M71.0 46.8h0M56.3 50.7h0M65.0 50.4h0M67.5 55.9h0M49.7 52.2h0M52.4 64.2h0M67.6 28.3h0M65.3 52.9h0M46.5 48.7h0M63.8 49.2h0M64.3 53.5h0M39.3 36.9h0M39.6 30.2h0M64.7 48.9h0M71.0 47.1h0M53.6 54.1h0M54.5 53.2h0M48.9 58.8h0M52.7 51.6h0M59.6 50.7h0M38.7 31.1h0M72.9 50.1h0M65.4 37.4h0M64.5 51.5h0M53.0 62.3h0M63.7 48.4h0M50.3 63.8h0M67.0 48.3h0M66.0 34.3h0M61.2 33.8h0M59.9 32.3h0M51.5 52.6h0M56.1 52.8h0M46.1 48.4h0M66.0 53.6h0M34.5 43.8h0M71.6 43.2h0M58.8 50.6h0M50.8 60.9h0M46.1 34.9h0M42.7 55.0h0M69.4 32.0h0M53.8 59.6h0M65.3 53.1h0M44.3 51.0h0M73.6 27.3h0M51.6 39.3h0" stroke="#aadfe6"/>
<path d="M23.3 50.4h0M42.0 52.6h0M33.6 23.2h0M61.8 54.8h0M50.1 36.6h0M60.1 50.9h0M42.1 55.2h0M34.7 60.1h0M52.9 63.6h0M60.8 31.7h0M55.5 12.5h0M16.9 39.5h0M56.2 62.9h0M48.8 52.9h0M61.9 57.2h0M54.0 65.9h0M54.2 61.8h0M50.2 31.0h0M38.5 66.6h0M58.5 24.6h0M59.7 11.7h0M58.5 48.3h0M38.9 57.8h0M34.8 61.4h0M58.9 54.6h0M46.1 53.1h0M48.7 18.4h0M37.9 53.2h0M62.3 51.7h0M38.1 64.4h0M37.8 63.4h0M52.7 64.1h0M53.3 18.1h0M33.2 66.4h0M39.9 68.6h0M52.4 58.9h0M11.9 37.6h0M42.4 65.9h0M49.6 35.1h0M58.6 28.7h0M66.4 22.3h0M74.4 41.0h0M41.5 57.4h0M35.5 61.2h0M35.6 61.3h0M63.0 28.7h0M72.2 48.0h0M58.3 21.9h0M58.9 33.2h0M58.4 63.2h0M37.2 65.4h0M33.9 60.7h0M44.1 52.8h0M38.4 66.3h0M62.9 17.3h0M48.2 65.4h0M14.4 46.3h0M33.7 68.2h0M57.4 63.6h0M51.3 56.1h0M13.1 27.8h0M49.5 66.1h0M41.6 57.7h0M28.9 61.5h0M43.9 53.7h0M54.1 52.8h0M54.5 63.7h0M43.3 66.0h0M39.1 60.8h0M59.2 19.8h0M64.6 52.4h0M54.0 58.6h0M64.8 31.7h0M50.0 63.2h0M64.7 43.1h0M15.4 38.9h0M58.1 17.9h0M38.0 51.5h0M36.1 62.3h0M38.8 65.0h0M55.6 62.8h0M25.7 56.8h0M54.3 35.3h0M51.5 62.5h0M19.2 60.1h0M36.6 64.8h0M59.8 60.7h0M30.2 44.5h0M10.5 42.8h0M55.6 53.8h0M35.4 58.4h0M53.5 10.0h0M27.1 48.0h0M68.6 43.0h0M27.8 56.4h0M22.5 21.4h0M33.3 61.4h0M23.9 33.4h0M36.8 52.9h0M49.6 15.5h0M51.3 12.2h0M46.3 58.1h0M54.6 8.5h0M56.3 5.4h0M54.7 64.7h0M17.5 40.1h0M52.4 53.0h0M69.4 24.9h0M34.7 66.4h0M61.2 49.0h0M40.1 64.1h0M48.3 58.6h0M56.6 28.6h0M47.6 57.9h0M63.3 43.8h0M71.2 45.3h0M53.4 65.2h0" stroke="#ec8c8c"/>
<path d="M48.4 20.6h0M69.8 51.1h0M42.5 1.5h0M63.8 28.3h0M63.9 41.9h0M59.4 13.5h0M54.8 7.7h0M48.6 32.7h0M47.6 32.7h0M61.6 23.3h0M41.8 24.0h0M63.4 55.5h0M41.0 26.9h0M56.2 31.2h0M44.7 35.8h0M68.2 24.7h0M62.2 41.9h0M57.5 46.8h0M67.2 42.5h0M45.4 11.4h0M43.3 12.2h0M48.9 36.5h0M42.0 36.4h0M33.7 27.6h0M52.1 57.6h0M58.1 38.4h0M65.2 27.5h0M32.1 2.3h0M45.7 8.4h0M58.5 45.3h0M44.2 1.7h0M44.6 43.5h0M18.9 48.3h0M40.1 48.1h0M54.9 25.1h0M20.3 22.6h0M68.8 47.6h0M67.9 25.1h0M40.9 33.8h0M45.9 38.3h0M53.5 35.0h0M71.9 49.0h0M20.0 14.7h0M26.0 9.8h0M57.8 30.8h0M43.9 4.7h0M33.1 17.1h0M66.7 48.1h0M57.0 17.7h0M70.3 17.0h0M59.0 37.9h0M52.7 19.0h0M63.7 49.8h0M65.0 37.7h0M24.8 18.7h0M74.1 27.6h0M58.8 33.3h0M51.4 58.4h0M62.7 32.9h0M48.1 35.2h0M34.1 37.1h0M67.6 28.5h0M39.4 6.3h0M59.6 22.9h0M43.4 3.5h0M28.2 7.1h0M41.6 24.1h0M65.4 33.2h0M67.1 27.4h0M74.3 42.6h0M40.2 24.0h0M60.9 31.5h0M55.0 26.2h0M48.7 27.2h0M54.2 26.2h0M34.7 22.9h0M70.9 26.2h0M62.2 28.8h0M60.1 49.0h0M57.5 22.1h0M60.0 48.5h0M35.3 32.3h0M64.7 27.2h0M47.4 31.2h0M45.5 28.4h0M49.7 59.9h0M51.2 30.1h0M60.6 49.3h0M38.1 26.2h0M56.8 32.4h0M63.4 20.9h0M49.0 38.5h0M41.9 44.5h0M68.7 49.3h0M16.9 38.0h0M64.8 30.8h0M55.5 54.1h0M51.3 16.1h0M29.1 21.2h0M38.1 26.6h0M64.5 34.5h0M56.7 19.9h0M57.6 47.2h0M72.1 51.5h0M35.3 21.2h0M39.8 16.8h0M53.2 19.8h0M33.2 11.6h0M54.6 9.2h0M59.5 50.4h0M66.8 30.1h0M35.4 11.2h0M47.4 43.3h0M62.4 45.4h0M54.8 58.5h0M58.9 56.4h0M43.2 24.2h0" stroke="#6cc2ca"/>
<path d="M19.4 35.6h0M27.8 61.3h0M37.6 46.4h0M42.7 37.8h0M12.1 51.1h0M10.8 32.0h0M45.0 56.6h0M21.1 37.8h0M53.4 19.4h0M46.7 60.5h0M42.6 9.1h0M56.6 8.5h0M45.2 45.6h0M28.6 43.7h0M38.7 58.9h0M40.5 19.2h0M30.5 64.4h0M39.1 13.0h0M15.4 29.7h0M24.9 56.4h0M48.7 35.5h0M14.5 44.6h0M54.4 56.0h0M52.0 33.9h0M70.5 46.7h0M15.4 35.3h0M46.4 60.5h0M11.3 50.8h0M21.0 52.1h0M24.6 51.7h0M13.1 45.2h0M43.8 6.7h0M12.1 30.1h0M69.3 54.1h0M50.4 61.1h0M30.7 33.1h0M37.4 25.9h0M51.9 52.8h0M31.8 35.4h0M57.1 57.1h0M32.2 28.8h0M56.4 61.2h0M54.4 57.8h0M40.8 47.5h0M52.0 66.7h0M44.3 46.0h0M17.0 31.2h0M22.7 44.0h0M18.4 33.3h0M23.0 43.5h0M70.6 52.1h0M50.2 53.2h0M33.0 65.4h0M14.3 33.4h0M62.9 42.1h0M36.8 49.5h0M39.2 48.9h0M40.7 35.9h0M16.0 32.0h0M18.3 31.9h0M16.7 40.4h0M23.3 54.7h0M26.3 62.3h0M25.2 16.9h0M33.4 41.4h0M31.7 66.6h0M17.7 53.3h0M15.3 39.2h0M11.1 20.5h0M32.0 51.8h0M47.5 37.8h0M50.6 52.7h0M36.6 52.2h0M22.1 16.8h0M16.2 54.5h0M35.8 35.3h0M39.0 44.1h0M27.8 63.7h0M66.0 25.8h0M27.8 46.6h0M21.4 55.5h0M50.1 36.8h0M21.3 48.9h0M30.1 33.1h0M25.6 40.3h0M40.0 40.6h0M9.6 43.8h0M43.3 2.8h0M18.9 38.7h0M11.5 31.7h0M34.2 61.6h0M51.7 62.6h0M32.2 47.7h0M45.5 46.7h0M32.0 64.7h0M56.6 61.2h0M12.1 44.0h0M29.2 46.7h0M14.3 38.7h0M33.7 65.0h0M56.0 58.2h0M15.5 33.3h0M48.4 50.4h0M18.7 34.4h0M14.0 30.6h0M44.6 32.9h0M43.3 50.9h0M42.0 61.2h0M39.8 36.0h0M29.6 42.4h0M20.7 54.8h0M23.3 58.4h0M41.5 58.6h0M14.3 19.4h0M40.6 47.9h0M40.0 40.9h0M39.1 4.0h0M59.5 30.8h0M51.2 63.8h0M18.8 34.2h0M56.8 51.7h0M36.9 46.1h0M35.0 42.4h0M36.2 6.0h0M41.0 51.1h0M38.4 28.6h0M47.1 32.3h0M33.7 42.8h0M27.1 63.4h0M46.6 52.5h0M43.7 52.8h0M52.3 62.8h0M28.7 40.1h0M25.9 52.6h0M41.6 48.4h0M41.0 4.5h0M10.0 44.3h0M35.4 19.1h0M60.2 21.5h0M12.0 25.4h0M53.5 64.5h0M62.7 43.3h0M28.6 43.2h0M10.6 25.3h0M50.6 56.2h0M34.8 33.9h0M31.8 67.3h0M12.4 33.5h0M23.5 42.4h0M24.6 18.4h0" stroke="#e0120c"/>
<path d="M60.3 27.9h0M50.7 54.0h0M38.9 53.0h0M63.4 25.8h0M62.9 29.4h0M43.0 4.2h0M27.0 24.1h0M41.2 45.1h0M62.7 10.5h0M54.1 65.6h0M66.6 53.4h0M58.7 41.8h0M34.2 21.0h0M32.4 21.1h0M66.9 28.1h0M55.5 16.5h0M60.9 23.3h0M73.3 45.5h0M68.1 26.6h0M43.8 9.2h0M57.6 32.3h0M33.3 12.5h0M27.3 20.9h0M59.5 34.0h0M45.3 6.6h0M61.5 30.4h0M52.9 17.5h0M68.8 22.3h0M65.1 12.7h0M54.5 12.7h0M67.9 53.7h0M73.5 43.9h0M32.6 17.1h0M62.3 22.1h0M50.2 7.4h0M39.5 44.4h0M44.9 37.9h0M28.5 20.5h0M56.9 14.7h0M45.6 5.6h0M47.1 7.8h0M58.7 37.8h0M37.4 14.8h0M69.0 30.4h0M50.1 33.6h0M46.1 36.0h0M69.9 27.0h0M31.4 15.7h0M73.0 22.9h0M61.5 15.2h0M57.5 61.4h0M67.8 29.6h0M40.4 41.9h0M46.3 36.6h0M20.1 36.9h0M65.4 29.7h0M52.1 5.9h0M30.4 20.3h0M76.1 39.7h0M49.0 15.8h0M25.8 18.4h0M58.9 6.9h0M68.8 27.4h0M40.1 19.2h0M38.2 21.6h0M14.3 29.4h0M54.1 41.8h0M39.0 31.4h0M53.1 23.6h0M66.6 20.9h0M49.0 20.6h0M46.5 7.0h0M35.0 21.9h0M66.0 29.1h0M56.6 33.6h0M58.2 41.4h0M23.3 17.2h0M59.5 31.2h0M33.5 3.4h0M59.8 45.5h0M61.3 27.3h0M55.7 28.2h0M34.1 23.5h0M38.8 19.9h0M52.9 62.4h0M63.8 42.5h0M43.6 20.7h0M58.6 9.3h0M45.7 14.6h0M68.0 20.8h0M39.4 4.4h0M63.7 33.2h0M50.4 29.6h0M72.0 45.1h0M67.5 24.0h0M41.0 4.5h0M15.2 35.6h0M59.0 11.4h0M59.8 23.7h0M41.0 30.6h0M38.1 67.8h0M43.0 60.8h0M69.3 49.9h0M55.9 14.7h0M39.1 4.0h0M67.6 52.2h0M62.8 21.4h0M38.2 30.5h0M40.6 20.3h0M56.6 4.4h0M48.4 4.3h0M36.5 35.7h0M42.5 12.1h0M63.7 50.5h0M48.5 4.0h0M65.7 44.4h0M59.9 9.9h0M66.7 30.0h0M61.8 51.3h0M54.5 30.8h0M39.8 23.3h0M56.8 25.0h0M34.6 33.3h0M31.0 11.0h0M58.5 40.3h0M36.5 3.8h0M35.7 8.4h0M55.4 33.2h0M27.4 19.9h0M67.9 22.2h0M42.8 4.5h0M57.6 20.1h0M69.2 38.2h0M49.1 18.7h0M45.0 36.7h0M58.9 15.4h0M59.9 54.8h0M37.5 23.1h0M58.5 42.5h0M63.4 31.3h0M32.5 35.2h0M64.3 34.3h0M31.6 2.6h0M38.5 12.8h0M58.0 50.4h0M49.6 21.9h0M55.9 29.5h0M30.1 26.3h0M42.4 7.4h0M35.7 18.0h0M75.4 36.7h0M66.6 46.4h0M57.3 28.8h0" stroke="#3c9aa2"/>
<path d="M27.6 47.1h0M50.5 34.4h0M57.3 9.3h0M11.4 23.9h0M29.7 57.3h0M29.6 64.3h0M46.8 57.6h0M27.5 22.7h0M22.1 21.5h0M26.5 52.4h0M48.0 61.4h0M10.6 26.8h0M35.3 29.0h0M31.1 37.3h0M20.6 24.2h0M44.1 42.4h0M22.7 21.1h0M18.4 50.2h0M56.1 15.3h0M62.5 43.1h0M19.1 34.8h0M35.3 25.6h0M54.0 7.7h0M20.8 62.2h0M10.0 28.8h0M11.0 24.4h0M41.3 47.9h0M19.2 35.4h0M11.7 29.5h0M16.1 35.4h0M7.6 31.2h0M16.1 30.5h0M29.0 41.1h0M36.2 32.0h0M35.8 62.8h0M31.9 36.7h0M15.6 30.1h0M42.8 8.2h0M18.6 55.4h0M19.2 36.5h0M34.6 38.8h0M23.2 21.3h0M22.8 55.8h0M34.5 28.8h0M30.2 41.7h0M17.7 33.6h0M38.8 42.2h0M46.1 41.1h0M32.9 25.7h0M48.0 47.9h0M34.2 45.6h0M44.3 35.9h0M48.1 38.1h0M53.1 56.3h0M10.0 46.4h0M53.2 34.0h0M18.6 24.4h0M14.2 36.7h0M50.8 52.9h0M35.1 31.7h0M13.0 30.8h0M41.7 5.1h0M49.4 52.8h0M38.7 65.4h0M41.7 32.8h0M38.4 50.9h0M21.9 28.8h0M21.4 25.7h0M9.6 32.6h0M37.1 7.3h0M35.9 18.6h0M16.0 30.6h0M40.7 42.5h0M47.8 56.6h0M48.9 62.7h0M16.6 18.9h0M21.1 59.5h0M36.8 24.6h0M25.1 18.7h0M35.8 44.2h0M47.9 64.6h0M18.7 49.6h0M18.2 34.6h0M44.5 44.3h0M31.6 65.1h0M15.4 26.5h0M20.7 47.2h0M41.9 58.4h0M28.9 41.9h0M45.5 47.6h0M25.5 53.4h0M44.0 4.5h0M20.6 62.2h0M15.4 48.7h0M16.2 25.1h0M26.0 40.9h0M24.2 59.3h0M36.1 46.1h0M47.2 62.5h0M20.4 52.8h0M16.7 38.0h0M55.9 63.6h0M44.9 48.1h0M21.9 62.3h0M29.6 63.0h0M16.3 20.6h0M66.7 35.9h0M29.2 65.9h0M40.1 64.3h0M20.7 54.9h0M46.3 9.4h0M27.5 64.3h0M19.4 55.8h0M41.1 60.1h0M36.8 65.4h0M25.5 38.6h0M17.0 44.9h0M19.2 46.5h0M10.9 27.6h0M12.8 43.0h0M58.6 64.8h0M25.9 59.6h0M34.3 37.9h0M24.2 19.1h0M12.6 36.7h0M39.9 40.2h0M24.4 23.4h0M28.3 46.7h0M25.6 62.0h0M27.6 38.2h0M17.4 37.5h0M20.6 38.8h0M44.0 46.7h0M47.0 52.0h0M61.4 51.3h0M17.2 27.4h0" stroke="#b80810"/>
<path d="M53.0 31.9h0M54.6 14.1h0M34.7 3.9h0M39.6 12.0h0M52.7 16.7h0M64.5 42.5h0M31.9 19.3h0M57.5 46.2h0M53.2 16.9h0M32.2 18.3h0M72.6 42.4h0M72.7 24.2h0M32.6 22.0h0M39.7 2.6h0M43.5 13.1h0M51.4 28.9h0M56.4 9.2h0M27.0 18.4h0M53.9 15.3h0M49.8 11.6h0M49.0 3.9h0M48.9 32.8h0M56.5 22.9h0M21.3 16.0h0M45.0 7.9h0M49.6 24.8h0M60.7 25.6h0M46.5 28.5h0M64.0 19.4h0M47.8 6.7h0M57.9 17.8h0M50.7 8.5h0M54.4 7.6h0M35.4 12.7h0M27.8 15.8h0M21.2 22.3h0M60.8 20.6h0M50.3 27.2h0M54.1 41.2h0M49.8 24.2h0M13.9 16.9h0M58.4 28.0h0M60.6 24.0h0M55.0 25.7h0M46.0 5.2h0M50.7 5.6h0M64.3 24.9h0M37.7 20.7h0M33.5 2.1h0M51.4 3.4h0M40.8 24.6h0M60.9 8.9h0M57.2 29.9h0M36.9 25.4h0M60.7 10.5h0M38.5 29.9h0M59.7 7.3h0M66.1 20.7h0M44.3 15.4h0M41.0 14.7h0M64.2 41.0h0M55.6 26.3h0M63.7 22.2h0M50.1 25.0h0M68.7 30.1h0M39.3 10.8h0M31.3 15.3h0M47.7 1.1h0M59.4 24.7h0M48.4 1.3h0M62.9 9.9h0M72.4 30.1h0M58.6 12.5h0M64.3 28.7h0M46.9 10.3h0M67.8 29.2h0M52.0 10.3h0M26.4 18.5h0M32.9 7.5h0M47.8 11.6h0M39.2 21.4h0M43.1 15.5h0M30.4 18.2h0M56.0 13.7h0M56.9 16.9h0M43.4 3.2h0M72.0 23.9h0M52.1 17.9h0M68.1 13.5h0M14.9 12.5h0M36.3 21.1h0M66.4 24.0h0M39.6 11.8h0M34.0 20.7h0M45.1 33.3h0M48.7 27.2h0M46.7 10.4h0M56.7 21.5h0M39.3 10.5h0M43.9 8.6h0M38.4 29.5h0M61.2 14.3h0M49.5 9.5h0M63.0 25.8h0M39.6 43.1h0M52.9 8.6h0M47.7 13.5h0M57.2 11.3h0M71.5 28.7h0M58.6 9.6h0M12.7 17.8h0M57.9 8.1h0M61.7 11.2h0M21.2 17.0h0M34.3 22.6h0M34.7 7.5h0M57.9 17.7h0M50.2 18.0h0M65.5 28.5h0M30.9 10.3h0M44.2 20.0h0M51.7 19.9h0M55.7 8.2h0M25.0 17.1h0M30.2 14.8h0M51.8 26.1h0M42.5 1.3h0M16.5 27.3h0M64.7 27.7h0M42.9 25.4h0M59.6 8.6h0M28.0 18.3h0M54.5 28.2h0M34.8 16.8h0M53.1 25.3h0M68.8 26.8h0M56.0 11.2h0M50.4 16.8h0M14.2 24.9h0M62.6 21.0h0" stroke="#24585a"/>
<path d="M19.8 50.8h0M11.0 37.5h0M13.8 50.7h0M25.4 49.7h0M21.0 42.8h0M20.4 32.6h0M10.1 48.2h0M20.2 58.0h0M45.5 44.8h0M32.1 44.3h0M20.8 61.0h0M12.6 25.4h0M11.1 32.2h0M37.9 30.5h0M28.0 58.7h0M11.9 33.9h0M43.5 37.6h0M12.7 34.6h0M33.9 41.0h0M33.2 19.2h0M15.7 54.1h0M12.9 28.6h0M22.7 62.3h0M15.1 31.1h0M47.4 5.6h0M14.6 50.0h0M41.2 29.3h0M44.0 4.3h0M44.9 36.0h0M38.0 44.3h0M24.4 59.6h0M12.4 44.8h0M45.6 36.2h0M11.3 25.5h0M37.6 47.1h0M47.6 50.3h0M12.3 31.6h0M16.1 19.1h0M15.3 26.0h0M33.4 38.2h0M18.9 38.0h0M39.7 38.4h0M20.3 58.4h0M45.3 48.4h0M17.8 25.3h0M32.3 37.5h0M33.9 45.1h0M37.4 41.8h0M17.4 40.5h0M30.9 37.5h0M29.0 21.3h0M34.7 29.9h0M39.8 44.6h0M22.3 39.5h0M23.1 63.4h0M41.9 45.0h0M46.6 41.4h0M14.9 32.4h0M22.9 58.2h0M40.9 36.0h0M22.2 54.3h0M41.2 41.8h0M21.1 59.2h0M21.7 59.8h0M24.7 64.3h0M24.7 48.0h0M30.3 63.4h0M30.3 62.0h0M24.7 64.2h0M31.2 5.0h0M20.6 22.5h0M12.6 38.0h0M13.9 33.8h0M22.2 30.3h0M27.3 53.7h0M33.7 43.5h0M13.6 36.9h0M36.1 38.0h0M26.1 55.2h0M32.6 34.1h0M11.7 40.1h0M8.0 36.7h0M34.9 11.8h0M27.9 16.0h0M31.7 46.8h0M13.7 28.9h0M22.2 20.4h0M14.2 36.6h0M18.0 27.7h0M32.2 46.5h0M31.5 65.1h0M39.8 49.3h0M17.1 18.1h0M38.8 44.4h0M23.6 64.2h0M36.7 48.4h0M32.7 61.5h0M41.3 48.1h0M18.8 54.3h0M20.5 56.6h0M34.2 38.4h0M35.5 17.0h0M31.5 67.6h0M45.0 49.6h0M37.3 47.6h0M15.4 56.6h0M38.1 14.4h0M19.9 42.7h0M18.3 34.9h0M16.6 54.1h0M14.3 47.0h0M39.8 8.6h0M45.6 2.1h0M25.3 35.2h0M21.1 32.5h0M9.6 30.6h0M26.3 59.3h0M24.3 22.9h0M47.8 27.7h0M11.2 43.6h0M28.9 60.4h0M22.7 35.1h0M14.0 37.2h0M16.2 49.6h0M36.3 28.5h0M41.7 46.9h0M17.2 34.0h0M42.2 45.9h0M16.1 46.9h0M38.4 24.1h0M37.6 24.1h0M12.3 32.7h0" stroke="#740a10"/>
<path d="M74.3 45.4h0M68.3 48.2h0M17.5 57.6h0M67.6 49.5h0M52.7 54.3h0M55.0 57.6h0M60.2 55.8h0M72.2 36.7h0M49.3 60.6h0M45.3 47.1h0M71.3 47.7h0M54.3 54.6h0M65.1 28.1h0M68.7 49.3h0M46.7 41.1h0M58.3 33.4h0M59.7 39.9h0M37.2 47.2h0M57.9 32.2h0M72.4 49.2h0M71.4 46.8h0M58.3 50.4h0M61.2 32.0h0M53.4 67.0h0M65.7 55.9h0M41.8 57.6h0M59.3 51.0h0M39.8 33.8h0M42.9 48.9h0M73.5 43.0h0M70.4 52.4h0M47.1 47.2h0M65.2 29.4h0M54.2 49.2h0M52.7 52.8h0M63.3 52.1h0M68.0 47.3h0M50.0 57.4h0" stroke="#aadfe6"/>
<path d="M26.1 63.5h0M39.6 49.5h0M50.4 63.0h0M36.1 54.7h0M52.1 17.3h0M47.7 59.4h0M38.9 66.9h0M32.9 37.5h0M74.4 46.2h0M23.3 61.6h0M24.2 38.4h0M56.0 8.2h0M67.5 33.7h0M36.7 66.6h0M55.1 51.1h0M26.6 59.2h0M42.7 52.3h0M64.8 47.8h0M35.9 65.3h0M53.7 8.0h0M66.1 56.9h0M56.7 65.6h0M39.9 65.8h0M42.1 54.2h0M50.5 38.5h0M41.6 55.6h0M41.0 65.1h0M41.2 55.6h0M67.2 24.6h0M15.8 19.1h0M55.5 11.7h0M52.8 21.4h0M21.7 38.5h0M51.2 61.8h0M52.1 57.1h0M13.7 46.6h0M50.6 19.7h0M36.0 64.0h0M41.2 54.6h0M39.5 57.9h0M18.2 54.0h0M44.2 64.6h0M48.6 53.1h0M58.3 55.6h0M40.8 49.4h0M18.4 23.8h0M50.6 60.7h0M60.6 60.1h0M55.3 60.6h0M38.8 68.2h0M35.7 66.5h0M36.3 50.8h0M14.6 56.2h0M50.4 56.1h0M47.4 63.8h0M71.0 46.0h0M64.6 54.1h0M55.0 64.6h0M58.2 49.3h0M60.6 62.4h0M24.5 43.4h0M55.7 51.0h0M49.6 59.0h0M48.0 37.3h0M50.4 50.2h0M10.4 46.3h0M56.9 63.0h0M15.6 37.7h0M46.0 59.4h0M31.7 67.3h0M62.5 32.6h0M66.1 49.2h0M43.9 57.2h0M68.1 27.6h0M66.8 54.5h0M41.9 39.9h0M43.4 51.3h0M52.4 57.8h0M56.5 28.3h0M38.2 67.9h0M61.3 20.9h0M57.0 13.5h0M26.9 62.3h0M54.8 51.6h0M34.6 60.1h0M37.6 68.5h0M49.1 38.0h0M54.1 33.6h0M46.3 62.6h0M72.4 49.3h0M51.3 31.1h0M46.7 51.1h0" stroke="#ec8c8c"/>
<path d="M51.7 8.4h0M21.4 18.2h0M39.9 22.2h0M54.7 13.4h0M72.9 46.2h0M32.8 7.2h0M50.3 31.8h0M36.5 25.8h0M54.1 49.1h0M48.2 5.2h0M53.2 54.8h0M37.4 36.7h0M71.4 49.6h0M67.7 49.4h0M48.9 48.2h0M21.1 25.8h0M57.8 40.0h0M52.5 18.3h0M44.4 5.8h0M43.2 34.0h0M55.1 34.8h0M60.3 39.3h0M64.6 34.5h0M38.3 41.6h0M64.8 55.8h0M46.5 4.9h0M45.1 42.2h0M39.2 24.6h0M43.3 52.5h0M58.0 59.6h0M51.3 54.6h0M62.2 25.1h0M39.5 8.1h0M29.9 12.1h0M35.1 20.5h0M34.6 31.4h0M59.8 45.7h0M57.2 49.2h0M60.6 33.7h0M66.3 25.1h0M29.2 14.8h0M72.7 49.8h0M37.2 21.0h0M69.8 25.5h0M39.3 24.4h0M66.9 30.4h0M67.1 43.8h0M45.1 58.5h0M45.1 1.4h0M70.3 42.0h0M59.2 56.0h0M44.3 40.7h0M66.2 57.7h0M52.3 35.5h0M59.7 26.7h0M68.7 34.8h0M67.3 38.2h0M51.4 35.0h0M54.3 27.4h0M32.1 27.5h0M44.7 35.8h0M21.1 31.6h0M70.3 39.7h0M48.0 36.2h0M55.3 21.1h0M54.9 66.0h0M19.1 38.0h0M23.0 20.4h0M45.5 41.1h0M37.5 21.9h0M37.0 43.2h0M19.8 41.2h0M60.7 56.2h0M61.0 34.2h0M63.3 33.0h0M54.2 4.3h0M60.4 9.7h0M58.2 48.8h0M55.4 51.5h0M73.4 25.0h0M47.2 1.1h0M63.9 32.8h0M43.5 2.0h0M65.4 46.5h0M37.3 10.8h0M56.9 15.5h0M35.2 26.9h0M72.8 40.7h0M43.9 45.9h0M35.9 24.5h0M40.5 51.2h0M71.0 22.4h0M41.2 10.2h0M70.1 19.6h0M56.1 16.9h0M61.5 55.5h0M48.5 34.8h0M71.5 22.7h0M52.3 44.9h0M62.7 53.4h0M38.9 11.2h0M67.7 34.0h0M62.0 31.6h0M51.4 33.2h0M32.4 32.3h0M22.9 9.9h0M54.1 26.7h0M65.2 29.3h0M50.3 13.8h0M25.2 17.3h0M43.2 19.0h0M59.0 27.2h0M57.8 29.5h0M56.2 31.2h0M21.4 36.2h0M66.6 46.6h0M52.2 27.6h0M60.1 26.5h0M59.7 6.9h0M41.3 21.3h0M63.6 46.3h0M44.4 1.7h0M33.8 15.8h0M53.8 27.1h0M38.9 57.5h0" stroke="#6cc2ca"/>
<path d="M65.6 49.1h0M33.6 66.3h0M56.0 59.6h0M27.9 22.3h0M21.7 16.6h0M26.0 38.1h0M33.3 63.0h0M59.1 37.1h0M16.8 44.1h0M48.3 64.5h0M53.9 64.3h0M31.0 41.1h0M28.2 60.4h0M50.3 22.2h0M33.9 32.6h0M68.3 31.7h0M7.6 29.0h0M60.0 51.8h0M19.9 60.2h0M24.2 49.6h0M48.8 63.4h0M32.1 48.1h0M45.0 59.3h0M26.0 50.6h0M15.4 24.7h0M39.6 55.0h0M44.5 3.9h0M19.6 35.2h0M37.9 29.9h0M16.8 46.2h0M14.6 51.6h0M18.7 24.4h0M37.3 56.3h0M27.8 15.4h0M14.9 48.6h0M36.5 45.2h0M37.5 40.2h0M23.0 53.9h0M44.4 45.0h0M32.0 33.8h0M18.1 17.2h0M28.5 19.4h0M21.8 57.6h0M18.6 32.8h0M18.0 44.3h0M25.2 63.2h0M74.6 43.1h0M42.6 59.9h0M14.3 51.3h0M30.8 16.9h0M73.1 44.4h0M37.4 42.3h0M65.1 28.6h0M59.6 53.9h0M19.7 43.5h0M49.7 62.9h0M26.3 59.0h0M39.0 34.8h0M20.9 35.4h0M51.4 24.9h0M30.8 25.7h0M50.0 39.4h0M64.1 52.5h0M37.7 3.8h0M53.7 61.1h0M63.2 49.4h0M36.9 41.5h0M28.1 33.7h0M22.7 45.2h0M29.4 63.8h0M44.1 43.1h0M20.3 49.2h0M10.0 31.6h0M39.5 58.5h0M26.4 22.7h0M11.6 24.1h0M24.5 55.7h0M36.0 49.9h0M54.8 12.3h0M15.4 45.3h0M33.7 64.0h0M48.8 64.5h0M53.1 59.7h0M37.0 3.9h0M38.8 42.4h0M15.1 35.6h0M37.5 46.7h0M39.9 12.0h0M26.6 52.4h0M27.4 17.7h0M65.9 30.3h0M32.8 39.6h0M39.4 26.2h0M30.9 17.3h0M41.6 8.5h0M20.5 58.1h0M39.2 59.0h0M35.8 1.5h0M39.6 65.3h0M69.1 19.4h0M39.7 37.2h0M16.5 39.5h0M59.1 18.0h0M43.5 14.5h0M18.1 33.1h0M42.6 57.6h0M30.0 64.6h0M39.3 51.0h0M35.7 37.8h0M35.4 27.0h0M17.9 44.8h0M20.0 24.5h0M14.4 42.2h0M52.4 56.3h0M14.5 42.4h0M19.9 38.8h0M35.8 42.7h0M21.6 42.1h0M51.2 66.3h0M24.9 37.9h0M20.0 30.9h0M13.0 47.2h0M19.5 18.1h0M23.9 57.6h0M32.7 2.5h0M21.6 35.5h0M29.9 66.2h0M13.9 21.7h0M13.5 39.3h0M34.7 66.8h0M36.6 13.4h0M23.0 21.4h0M36.7 62.7h0M15.2 51.3h0M20.3 32.7h0M25.1 56.4h0M48.2 34.5h0M9.7 31.2h0M20.9 20.9h0M59.3 54.6h0M51.1 63.0h0M24.3 36.5h0M23.9 18.9h0M43.2 52.4h0M14.2 40.0h0M32.0 38.2h0M57.6 60.2h0M38.6 44.5h0M32.8 64.8h0M18.7 57.8h0M14.0 38.3h0M50.6 56.1h0M14.4 38.8h0M21.3 60.6h0M59.1 50.6h0" stroke="#e0120c"/>
<path d="M46.7 43.4h0M58.1 40.4h0M38.3 5.5h0M36.0 36.6h0M32.8 11.9h0M40.4 15.6h0M56.6 42.1h0M62.0 45.8h0M44.7 39.0h0M43.4 36.5h0M40.8 15.6h0M41.4 19.7h0M57.3 46.4h0M40.0 25.1h0M64.9 23.0h0M60.1 28.0h0M30.8 38.9h0M61.0 48.2h0M60.1 38.6h0M58.8 28.1h0M39.3 20.3h0M52.6 15.1h0M56.9 34.4h0M68.8 33.6h0M59.8 44.8h0M33.6 25.1h0M68.3 25.2h0M34.4 17.2h0M56.9 36.7h0M47.9 4.7h0M49.4 17.0h0M54.9 15.2h0M53.4 38.9h0M45.2 7.6h0M62.3 35.9h0M71.7 45.1h0M40.4 25.6h0M59.8 8.6h0M72.0 43.1h0M37.3 15.6h0M26.9 16.0h0M55.0 28.1h0M49.2 37.3h0M38.7 46.2h0M70.1 22.2h0M13.9 22.5h0M57.9 8.9h0M47.3 4.6h0M46.6 6.1h0M57.1 27.3h0M27.4 28.9h0M62.6 38.0h0M43.6 3.1h0M37.7 26.4h0M34.0 15.6h0M61.0 22.3h0M28.3 22.2h0M57.6 45.7h0M50.9 27.1h0M57.0 41.6h0M63.1 29.7h0M17.4 13.4h0M48.1 36.4h0M46.3 3.3h0M60.0 42.6h0M51.7 56.6h0M48.4 5.9h0M58.7 31.3h0M12.2 31.2h0M56.0 8.3h0M37.4 17.2h0M23.6 21.9h0M66.0 35.6h0M60.6 52.3h0M39.7 9.8h0M33.5 2.7h0M43.2 17.0h0M42.8 43.1h0M59.0 18.7h0M64.2 31.1h0M21.9 44.7h0M26.3 11.5h0M53.5 28.3h0M54.0 15.7h0M42.9 20.9h0M73.1 47.3h0M64.6 42.6h0M51.4 19.3h0M32.7 6.3h0M35.2 6.8h0M32.9 30.8h0M35.7 37.2h0M51.5 35.8h0M41.3 9.7h0M48.5 65.8h0M73.1 43.9h0M34.5 39.5h0M43.4 5.8h0M35.5 23.1h0M48.7 27.7h0M52.3 28.8h0M55.4 51.3h0M54.4 7.6h0M60.6 13.1h0M54.1 27.9h0M40.6 41.6h0M64.2 39.3h0M56.8 18.3h0M62.1 49.2h0M41.1 24.4h0M63.4 33.1h0M70.5 50.3h0M38.5 10.8h0M38.9 6.7h0M63.3 28.0h0M62.8 41.6h0M19.8 30.8h0M59.9 32.5h0M58.8 13.0h0M52.1 32.1h0M49.0 31.6h0M63.1 27.3h0M53.8 14.8h0M40.9 31.4h0M32.1 16.9h0M70.2 51.3h0M60.9 11.3h0M45.8 9.5h0M73.4 25.5h0M48.1 11.1h0M63.1 41.7h0M54.2 32.5h0M36.1 16.1h0M64.5 37.0h0M60.0 30.0h0M54.0 30.0h0M40.1 43.3h0M32.5 40.7h0M49.4 11.2h0M60.3 46.5h0M37.2 33.3h0M33.3 45.0h0M32.7 26.9h0M48.0 31.8h0M64.4 39.0h0M65.8 44.4h0M32.8 28.2h0M25.7 19.6h0M39.5 10.7h0M65.9 46.3h0M67.4 55.2h0M59.5 10.6h0M73.3 38.9h0M58.1 44.3h0M54.6 28.4h0M34.8 30.1h0M65.1 40.3h0M56.1 28.7h0M72.0 43.1h0M66.9 27.0h0M62.7 52.0h0M55.9 35.1h0M19.7 13.3h0M39.8 5.3h0M13.8 43.8h0" stroke="#3c9aa2"/>
<path d="M43.2 58.4h0M24.9 40.5h0M32.7 33.3h0M74.4 45.2h0M33.6 39.6h0M19.3 38.2h0M20.8 19.7h0M53.6 63.6h0M14.9 23.1h0M28.2 35.8h0M26.1 62.7h0M10.9 29.2h0M31.3 34.7h0M37.2 31.6h0M28.3 41.1h0M33.8 44.4h0M42.0 55.7h0M34.6 39.3h0M28.0 61.2h0M35.5 36.6h0M35.7 3.8h0M38.7 4.7h0M44.6 13.9h0M55.9 58.1h0M17.3 26.9h0M36.8 37.5h0M26.5 54.2h0M30.6 45.5h0M36.5 40.2h0M72.8 44.5h0M18.9 39.5h0M14.4 50.7h0M19.3 36.0h0M32.0 31.9h0M30.5 42.5h0M21.2 14.7h0M38.5 63.9h0M44.6 50.6h0M12.3 35.3h0M43.1 30.7h0M20.7 56.5h0M29.3 41.2h0M17.1 17.9h0M19.6 37.7h0M33.4 32.3h0M45.4 11.8h0M45.0 51.1h0M20.1 30.1h0M14.1 29.7h0M17.6 30.0h0M10.2 28.3h0M54.7 59.9h0M11.3 46.7h0M67.1 23.2h0M48.1 11.1h0M14.7 46.8h0M13.6 35.7h0M28.1 17.2h0M9.5 25.9h0M19.4 43.7h0M36.5 25.6h0M31.5 24.4h0M43.4 42.1h0M8.2 26.3h0M19.2 36.1h0M17.9 35.7h0M24.4 48.6h0M35.5 26.3h0M24.3 43.3h0M36.8 51.8h0M15.1 37.2h0M36.5 14.8h0M48.0 57.9h0M22.1 39.2h0M37.2 13.2h0M15.4 48.9h0M39.2 60.2h0M38.8 59.4h0M42.3 52.6h0M18.4 34.7h0M38.1 35.7h0M48.1 48.0h0M24.4 39.7h0M54.9 62.2h0M20.2 26.1h0M13.8 34.0h0M22.2 57.5h0M15.3 38.5h0M24.2 55.1h0M26.8 52.7h0M45.0 6.7h0M11.1 34.7h0M19.2 44.5h0M39.2 12.7h0M41.2 56.3h0M16.2 26.7h0M35.7 46.0h0M38.7 28.2h0M41.0 46.8h0M21.7 57.7h0M50.5 61.1h0M15.2 50.0h0M28.6 43.9h0M49.0 64.9h0M9.7 34.2h0M35.9 28.2h0M14.2 38.5h0M24.4 62.5h0M43.3 9.7h0M21.8 35.4h0M17.4 44.2h0M26.9 58.3h0M18.2 41.2h0M15.8 58.1h0M61.2 12.3h0M20.6 31.7h0M48.7 49.9h0M40.1 65.4h0M22.7 22.0h0M50.0 61.8h0M54.8 31.0h0M52.3 15.1h0M22.0 54.6h0M21.0 30.6h0M30.4 46.5h0M18.1 42.2h0M29.3 40.5h0M31.7 19.3h0M72.5 47.0h0M15.4 35.5h0M48.4 57.2h0M39.0 51.8h0M43.4 2.9h0M31.3 63.4h0M38.7 53.5h0M50.7 63.7h0M54.2 30.9h0M41.7 8.7h0M49.4 34.1h0M44.1 55.6h0M35.6 42.4h0M13.8 18.0h0" stroke="#b80810"/>
<path d="M59.8 8.5h0M42.3 17.6h0M39.3 35.9h0M41.6 10.2h0M45.0 5.6h0M56.8 17.7h0M46.2 10.3h0M42.1 9.0h0M57.6 18.6h0M38.3 26.0h0M63.8 21.3h0M44.2 2.1h0M47.5 7.0h0M60.3 8.2h0M64.4 24.1h0M41.9 10.0h0M53.4 28.8h0M44.0 40.2h0M61.0 11.3h0M48.0 18.3h0M36.1 41.8h0M67.7 30.6h0M58.1 46.0h0M43.3 41.4h0M64.4 14.5h0M67.8 20.9h0M57.5 19.7h0M32.3 15.0h0M26.9 23.7h0M51.1 30.0h0M45.9 42.5h0M63.9 42.4h0M42.2 21.2h0M67.0 32.0h0M66.6 18.8h0M60.9 45.0h0M27.0 19.3h0M49.4 34.5h0M34.6 25.7h0M21.7 17.0h0M59.6 12.8h0M50.2 25.3h0M53.4 29.4h0M42.5 6.8h0M58.9 31.8h0M62.3 23.9h0M30.2 16.3h0M42.4 8.9h0M38.0 19.8h0M35.2 23.8h0M51.4 10.0h0M37.5 18.7h0M55.3 16.4h0M35.2 24.6h0M52.8 10.5h0M9.3 27.4h0M70.7 25.2h0M53.1 4.5h0M45.5 21.9h0M72.1 22.0h0M30.8 24.8h0M63.8 33.0h0M37.9 21.7h0M42.7 26.9h0M53.7 39.5h0M26.6 15.8h0M47.0 3.9h0M40.7 10.7h0M67.9 12.4h0M59.1 43.3h0M73.1 25.3h0M53.7 21.6h0M52.6 28.4h0M35.1 5.5h0M39.6 36.5h0M33.1 28.0h0M35.8 21.2h0M32.3 4.1h0M40.9 3.9h0M69.3 25.7h0M51.4 14.1h0M46.4 9.5h0M34.9 12.0h0M37.9 22.2h0M59.5 14.1h0M61.5 44.1h0M37.1 22.1h0M38.0 18.0h0M61.0 34.4h0M69.9 44.3h0M64.2 21.3h0M47.2 9.3h0M47.0 32.3h0M39.8 10.4h0M62.5 8.9h0M50.0 9.7h0M39.6 17.2h0M29.6 12.7h0M57.8 36.7h0M28.8 5.4h0M20.1 23.4h0M49.1 35.4h0M54.9 22.0h0M44.9 29.1h0M22.5 22.7h0M71.4 44.1h0M47.1 1.4h0M56.8 6.1h0M23.9 22.4h0M57.1 17.2h0M61.5 40.0h0M37.3 18.9h0M61.2 29.0h0M47.5 36.6h0M42.7 4.3h0M30.6 37.8h0M35.6 22.6h0M66.2 43.6h0M62.4 43.3h0M56.5 20.8h0M66.3 46.5h0M64.1 11.6h0M66.3 24.4h0M56.4 25.7h0M61.7 9.0h0M61.2 32.0h0M64.8 18.4h0M43.1 12.4h0M23.5 20.3h0M32.4 14.9h0M47.0 10.1h0M30.7 16.3h0M36.4 25.4h0M40.8 19.6h0M58.3 8.6h0M50.7 17.9h0M55.1 31.6h0M52.6 17.5h0M69.0 28.9h0M43.1 17.4h0M61.4 28.6h0M60.6 23.2h0M50.0 14.8h0M36.6 42.3h0" stroke="#24585a"/>
<path d="M29.4 46.2h0M34.4 24.9h0M24.9 55.3h0M17.0 41.4h0M30.5 29.5h0M24.8 46.4h0M17.1 25.6h0M17.4 36.9h0M22.6 52.0h0M28.9 50.9h0M17.7 59.5h0M22.9 57.4h0M21.5 57.8h0M22.1 43.0h0M33.7 33.0h0M16.5 54.1h0M33.6 44.6h0M20.3 37.1h0M11.4 46.1h0M15.2 41.5h0M15.8 41.3h0M17.9 24.9h0M18.8 34.5h0M32.6 33.4h0M26.8 46.3h0M18.5 22.4h0M21.4 40.5h0M44.9 44.4h0M25.3 36.2h0M36.8 20.8h0M26.1 45.0h0M27.7 45.5h0M18.2 51.3h0M9.7 36.1h0M26.7 57.9h0M14.8 26.5h0M18.2 34.7h0M13.2 28.4h0M14.4 54.7h0M43.3 32.1h0M37.9 23.5h0M27.0 41.6h0M45.2 22.6h0M13.6 28.8h0M17.5 35.4h0M29.1 25.4h0M40.6 17.0h0M17.3 54.4h0M26.8 58.7h0M40.8 39.0h0M35.7 42.5h0M33.6 29.9h0M25.5 39.4h0M17.0 50.8h0M14.0 33.4h0M24.6 52.6h0M12.7 30.4h0M37.9 40.3h0M39.5 45.4h0M44.6 46.6h0M30.8 36.8h0M27.3 46.8h0M30.3 39.5h0M21.0 59.7h0M21.7 61.6h0M14.5 37.9h0M16.6 29.2h0M17.1 27.4h0M36.8 15.3h0M21.8 20.4h0M17.7 52.1h0M30.7 59.9h0M30.2 61.7h0M42.6 49.2h0M24.8 27.1h0M31.1 37.5h0M22.2 53.1h0M20.2 33.1h0M15.1 30.5h0M39.5 28.7h0M30.8 48.6h0M23.0 60.5h0M16.3 31.8h0M42.9 48.9h0M16.0 28.6h0M17.2 26.5h0M18.8 31.4h0M37.0 50.1h0M45.0 47.9h0M30.5 28.8h0M32.7 23.2h0M28.0 47.8h0M20.1 31.6h0M38.4 31.7h0M19.2 50.3h0M12.4 36.0h0M31.6 43.5h0M41.6 47.8h0M22.1 56.6h0M12.6 36.6h0M22.1 60.5h0M19.5 57.9h0M14.6 29.0h0M32.8 23.0h0M28.6 41.9h0M14.1 31.2h0M19.5 41.2h0M16.2 41.3h0M21.4 26.2h0M31.9 21.8h0M9.4 27.0h0M10.7 45.4h0M9.4 25.5h0M16.4 32.0h0M28.7 62.1h0M17.8 28.3h0M26.6 58.4h0M46.4 42.5h0M28.2 61.3h0M15.1 39.2h0M45.4 46.6h0M24.6 42.7h0M29.9 38.7h0M18.4 41.8h0M36.7 25.4h0M47.1 33.5h0M30.1 43.4h0M16.0 45.7h0M12.1 42.9h0M20.1 36.3h0M10.8 45.4h0M36.8 25.2h0M31.2 64.2h0M27.5 46.3h0M18.7 36.5h0M26.7 29.2h0M23.3 22.4h0M32.5 22.9h0M20.8 59.3h0" stroke="#740a10"/>
<path d="M43.3 39.8h0M57.9 53.8h0M70.7 47.0h0M59.4 53.9h0M60.8 49.7h0M57.3 49.1h0M64.6 47.2h0M35.2 34.4h0M68.9 49.8h0M53.6 60.0h0M59.9 39.1h0M32.2 64.5h0M53.5 55.1h0M36.4 29.1h0M60.2 33.4h0M56.4 55.3h0M62.0 53.1h0M53.0 60.2h0M65.2 32.3h0M46.2 51.6h0M70.0 32.0h0M63.1 53.5h0M41.9 43.1h0M66.3 40.2h0M25.5 56.5h0M33.6 31.0h0M63.1 50.5h0M67.6 44.7h0M63.4 36.4h0M71.5 47.0h0M12.5 39.8h0M50.7 31.8h0M60.6 32.7h0M68.9 48.9h0M48.8 53.6h0M19.4 32.4h0M65.8 53.0h0M40.3 29.3h0M43.6 27.4h0M73.3 47.9h0M38.0 26.7h0M67.7 54.4h0M67.8 27.1h0M65.4 51.9h0M65.9 45.6h0M65.5 50.9h0M53.6 50.4h0M66.4 56.2h0" stroke="#aadfe6"/>
<path d="M48.7 33.5h0M68.4 26.8h0M52.0 53.8h0M58.3 26.7h0M46.3 62.6h0M55.4 64.9h0M38.9 64.6h0M54.2 59.8h0M38.4 64.6h0M37.4 66.1h0M31.6 40.6h0M44.7 50.9h0M54.4 42.8h0M12.7 38.7h0M48.7 66.4h0M23.7 50.7h0M40.2 23.7h0M54.3 63.1h0M57.1 15.9h0M52.0 59.2h0M62.1 19.6h0M35.9 64.9h0M44.7 50.8h0M49.7 34.1h0M49.7 57.5h0M22.0 28.7h0M54.7 56.5h0M59.4 63.8h0M46.8 51.3h0M43.2 52.2h0M65.2 52.5h0M41.5 64.4h0M28.8 35.9h0M23.3 37.1h0M52.1 60.4h0M54.5 52.2h0M48.4 64.4h0M15.7 35.4h0M68.3 27.3h0M31.9 37.6h0M23.5 57.6h0M10.3 33.8h0M38.0 63.2h0M72.8 38.4h0M31.9 24.8h0M39.2 58.8h0M46.9 63.1h0M36.0 66.6h0M53.3 57.3h0M43.4 64.0h0M35.7 65.6h0M62.8 53.3h0M38.8 52.3h0M44.6 47.5h0M33.5 63.3h0M69.2 21.4h0M48.3 52.3h0M66.2 48.9h0M61.7 52.1h0M60.8 56.1h0M51.0 49.3h0M43.5 18.7h0M53.7 12.4h0M46.4 68.2h0M60.6 8.2h0M60.8 11.2h0M51.4 55.5h0M56.0 57.8h0M66.1 33.4h0M51.0 25.2h0M26.5 9.5h0M57.0 9.0h0M53.8 18.0h0M52.8 63.3h0M49.0 60.8h0M27.4 63.2h0M37.1 45.5h0M46.0 59.6h0M43.2 52.8h0M41.7 57.7h0M26.1 59.3h0M69.3 48.7h0M33.2 62.8h0M69.0 49.4h0M36.3 66.5h0M68.7 48.9h0M73.7 46.4h0M39.2 50.4h0M8.1 28.4h0M35.2 58.9h0M64.2 47.4h0M45.0 53.1h0M56.8 9.2h0M40.2 52.6h0M50.2 47.0h0M54.5 54.2h0" stroke="#ec8c8c"/>
<path d="M39.5 67.8h0M47.4 42.3h0M43.0 42.7h0M32.0 27.6h0M60.3 36.3h0M50.5 14.0h0M70.1 22.5h0M16.0 35.3h0M35.2 31.8h0M34.5 15.7h0M46.8 43.9h0M58.4 18.6h0M67.4 25.3h0M62.1 14.6h0M27.7 26.4h0M61.1 19.3h0M62.8 57.3h0M58.5 59.1h0M38.4 35.5h0M58.5 45.9h0M58.6 14.6h0M64.0 36.2h0M72.0 28.5h0M53.4 30.4h0M63.8 37.4h0M33.2 39.1h0M43.4 39.9h0M52.5 17.5h0M14.2 35.0h0M59.6 28.0h0M37.2 8.6h0M45.0 11.3h0M56.4 48.4h0M60.9 34.5h0M59.7 17.4h0M40.3 35.6h0M26.9 14.5h0M51.8 56.7h0M31.6 35.0h0M30.6 17.6h0M41.5 3.6h0M43.5 11.2h0M61.0 58.4h0M62.4 41.8h0M60.6 51.9h0M40.4 35.4h0M41.7 37.3h0M66.2 39.8h0M63.1 42.9h0M24.5 23.8h0M65.0 41.9h0M70.6 44.5h0M48.0 47.3h0M61.8 44.2h0M37.8 20.7h0M69.2 31.3h0M67.0 45.0h0M67.6 36.0h0M54.7 58.6h0M51.7 15.1h0M59.9 54.7h0M66.3 45.5h0M64.8 33.4h0M65.4 41.4h0M60.4 42.1h0M33.4 24.2h0M21.3 12.3h0M50.7 8.0h0M48.7 27.4h0M64.2 48.9h0M49.5 50.5h0M44.2 29.1h0M54.9 55.5h0M57.2 49.8h0M43.4 5.8h0M22.7 19.7h0M55.7 54.8h0M57.8 4.9h0M50.1 34.4h0M63.9 33.6h0M53.1 34.3h0M66.8 48.3h0M62.3 26.6h0M73.5 27.8h0M59.9 50.0h0M57.0 34.0h0M62.4 18.9h0M58.1 44.9h0M17.8 28.3h0M66.0 26.9h0M61.5 35.8h0M35.3 23.4h0M35.8 5.7h0M49.9 36.4h0M68.7 38.7h0M33.3 22.6h0M42.1 24.2h0M51.0 52.5h0M24.5 28.8h0M54.3 64.8h0M59.5 16.6h0M51.3 12.6h0M60.9 47.8h0M42.6 18.1h0M66.8 32.8h0M66.4 29.5h0M52.3 24.3h0" stroke="#6cc2ca"/>
<path d="M42.9 44.5h0M45.1 53.3h0M48.5 52.6h0M17.4 52.3h0M10.1 36.7h0M46.2 41.1h0M12.2 39.2h0M44.9 54.6h0M10.7 28.7h0M33.6 60.0h0M39.4 68.7h0M15.4 48.1h0M58.7 11.9h0M56.0 29.1h0M24.3 62.5h0M54.6 55.3h0M28.6 19.2h0M40.7 40.8h0M49.6 15.6h0M48.6 59.7h0M18.3 37.2h0M23.9 38.4h0M16.1 41.0h0M35.3 32.9h0M62.2 41.6h0M47.1 36.4h0M22.8 54.0h0M13.0 50.5h0M59.0 51.3h0M62.6 43.2h0M38.2 3.9h0M12.8 23.1h0M54.5 55.4h0M25.5 19.6h0M19.9 54.3h0M34.5 45.9h0M55.2 11.6h0M15.6 42.0h0M35.6 42.3h0M53.5 64.6h0M9.4 24.7h0M24.3 57.4h0M25.6 53.3h0M41.7 46.6h0M46.3 52.6h0M59.0 47.3h0M45.7 43.2h0M13.6 45.1h0M43.2 60.8h0M45.2 60.3h0M52.6 56.6h0M25.1 48.8h0M12.4 47.0h0M23.4 45.7h0M54.4 55.2h0M41.2 51.8h0M27.1 44.4h0M32.0 36.3h0M14.7 37.1h0M15.8 35.0h0M38.6 66.8h0M54.8 56.7h0M23.5 60.9h0M55.7 58.4h0M62.1 27.9h0M44.9 0.8h0M35.3 58.1h0M19.0 55.6h0M18.7 58.6h0M7.1 35.5h0M40.5 40.0h0M8.8 29.4h0M25.6 39.2h0M40.1 53.6h0M44.0 2.3h0M58.0 46.5h0M18.2 59.3h0M50.0 56.2h0M57.1 20.4h0M9.2 46.2h0M36.2 65.2h0M48.4 61.3h0M47.3 39.2h0M17.8 47.0h0M45.7 60.1h0M57.1 14.8h0M15.3 28.3h0M22.0 41.2h0M59.2 36.2h0M23.3 61.5h0M43.1 37.6h0M27.4 53.2h0M20.3 56.6h0M23.5 64.1h0M40.8 37.9h0M48.4 60.4h0M36.9 34.1h0M33.3 36.1h0M28.8 30.2h0M34.6 25.2h0M28.1 57.0h0M11.9 30.7h0M15.3 29.3h0M14.1 46.0h0M35.0 65.1h0M46.2 38.7h0M38.9 45.9h0M43.9 38.4h0M13.7 48.4h0M13.2 54.0h0M16.0 55.8h0M35.9 29.5h0M53.5 50.8h0M70.6 18.7h0M27.0 58.3h0M32.4 43.8h0M57.6 20.3h0M49.4 57.5h0M66.0 37.0h0M50.8 14.3h0M49.6 54.7h0M15.3 38.8h0M41.1 39.5h0M38.8 58.1h0M15.3 26.4h0M27.5 55.5h0M15.6 43.0h0M7.4 29.2h0M34.4 65.8h0M21.3 30.2h0M38.4 63.8h0M50.0 40.7h0M48.6 58.1h0M41.1 66.7h0M15.4 37.3h0M14.7 37.9h0M14.0 41.7h0M21.1 54.6h0M26.5 65.3h0M53.3 51.4h0M31.6 39.8h0M31.4 54.4h0M34.9 31.1h0M40.4 42.7h0M43.9 42.6h0M51.8 58.4h0M65.6 45.9h0M39.1 30.8h0M57.7 13.2h0M44.3 55.0h0M30.6 64.2h0M32.3 47.2h0M57.7 57.1h0M60.7 53.5h0M49.3 53.4h0M56.1 34.1h0M46.5 12.4h0M42.0 40.8h0M63.0 49.0h0M19.1 38.7h0M44.5 50.7h0" stroke="#e0120c"/>
<path d="M19.3 11.0h0M35.5 36.8h0M46.5 37.1h0M62.1 16.8h0M29.1 26.8h0M60.7 43.6h0M60.8 33.5h0M63.2 27.6h0M56.1 12.6h0M51.7 15.0h0M63.2 31.6h0M35.7 5.8h0M58.3 29.2h0M53.3 38.1h0M61.7 36.3h0M33.1 20.2h0M62.7 34.7h0M44.4 32.1h0M58.8 17.6h0M61.7 28.0h0M54.1 12.2h0M39.4 35.6h0M60.1 41.1h0M45.7 7.4h0M41.0 26.8h0M49.7 13.7h0M39.4 1.1h0M32.1 25.8h0M61.2 46.5h0M20.7 32.2h0M18.0 39.1h0M68.4 24.7h0M63.0 42.1h0M56.6 30.4h0M60.4 31.1h0M40.2 51.2h0M23.3 21.3h0M38.0 31.1h0M56.8 11.8h0M50.5 9.2h0M63.7 32.8h0M17.9 16.2h0M33.1 40.6h0M62.7 37.8h0M55.5 4.9h0M59.9 28.8h0M37.7 18.5h0M54.9 18.5h0M24.8 26.4h0M50.4 15.9h0M64.8 20.3h0M29.6 6.4h0M27.5 16.3h0M35.7 37.0h0M56.8 25.2h0M44.7 18.1h0M48.0 5.7h0M74.4 44.3h0M60.6 31.0h0M68.6 20.5h0M20.0 31.1h0M59.3 29.7h0M55.9 27.4h0M57.0 60.5h0M65.6 14.4h0M63.0 32.6h0M31.3 5.8h0M61.8 26.1h0M57.7 27.7h0M59.1 25.7h0M62.8 37.0h0M61.4 47.8h0M36.6 17.8h0M48.7 38.1h0M38.2 23.5h0M39.5 32.3h0M37.9 29.8h0M40.0 15.7h0M38.4 25.7h0M52.4 10.0h0M46.7 12.4h0M48.4 65.1h0M24.4 17.5h0M67.2 47.0h0M38.5 60.2h0M72.9 46.6h0M29.4 11.7h0M41.6 18.9h0M60.8 28.5h0M42.4 6.5h0M39.5 26.1h0M69.6 28.5h0M49.0 27.9h0M61.5 44.3h0M64.5 33.5h0M47.5 30.1h0M66.1 39.6h0M46.6 16.4h0M60.5 28.3h0M45.3 39.8h0M49.4 14.3h0M37.8 28.9h0M36.1 26.3h0M42.6 23.8h0M22.6 33.7h0M42.3 14.1h0M48.2 27.5h0M31.7 15.5h0M31.5 20.9h0M35.0 12.2h0M37.3 27.7h0M64.6 54.7h0M54.6 11.4h0M47.0 30.4h0M34.7 32.4h0M60.6 10.0h0M44.0 27.1h0M60.5 13.8h0M31.6 28.7h0M50.1 7.0h0M65.2 41.7h0M34.0 23.3h0M65.7 26.4h0M64.4 35.8h0M55.5 28.7h0M55.8 18.3h0M21.6 12.9h0M43.1 8.9h0M60.0 41.1h0M60.9 26.7h0M27.3 19.7h0M58.2 54.3h0M43.6 29.1h0M73.4 28.4h0M48.8 4.4h0M69.7 31.1h0M25.0 14.5h0M49.1 16.0h0M29.2 39.4h0M60.5 37.1h0M46.9 3.5h0M54.8 7.2h0M53.6 24.2h0M62.1 47.2h0M58.1 46.3h0M57.0 28.6h0M49.1 38.1h0M41.5 40.5h0M67.8 30.8h0M31.0 24.5h0M53.2 31.9h0M38.0 21.9h0M41.1 41.0h0M57.0 37.7h0M57.8 35.9h0M58.9 25.5h0M66.4 39.2h0M62.0 35.8h0M62.1 31.6h0M64.5 28.5h0M46.7 8.7h0M28.2 22.2h0M41.1 28.5h0M31.1 35.8h0M56.2 45.6h0M50.4 28.2h0M46.4 6.0h0M19.4 20.2h0M69.0 43.8h0M58.0 36.1h0M38.4 22.1h0" stroke="#3c9aa2"/>
<path d="M16.0 31.7h0M49.9 64.1h0M34.8 47.5h0M60.3 28.3h0M11.8 21.4h0M24.5 14.2h0M15.1 28.4h0M26.7 62.1h0M29.8 44.5h0M53.0 61.2h0M9.6 41.7h0M8.8 32.2h0M43.0 65.9h0M12.7 29.8h0M34.0 25.5h0M44.6 33.6h0M46.3 36.7h0M55.1 51.6h0M41.3 67.0h0M19.8 50.3h0M36.0 22.3h0M14.4 44.5h0M51.4 55.6h0M65.2 26.5h0M57.3 55.6h0M20.2 36.9h0M24.2 57.1h0M41.3 31.1h0M25.5 42.8h0M12.0 29.6h0M45.3 16.6h0M18.9 49.4h0M41.0 55.8h0M23.9 54.1h0M6.9 33.5h0M26.8 27.4h0M39.7 44.9h0M48.3 40.6h0M33.4 25.2h0M22.7 56.7h0M24.4 52.0h0M13.1 38.6h0M54.3 53.7h0M42.4 42.8h0M21.9 55.6h0M18.9 43.5h0M35.9 7.8h0M43.1 46.6h0M12.9 38.3h0M42.7 49.2h0M39.7 52.4h0M18.3 55.8h0M26.0 49.8h0M39.2 40.3h0M19.5 39.5h0M37.9 57.0h0M34.7 45.0h0M17.1 32.8h0M57.4 64.3h0M47.8 41.5h0M19.8 26.0h0M40.2 12.3h0M29.8 43.0h0M14.9 26.7h0M37.3 24.3h0M22.2 50.7h0M21.3 19.8h0M38.0 31.4h0M20.2 35.0h0M23.8 51.3h0M43.9 4.1h0M31.5 37.2h0M19.5 36.5h0M43.8 62.1h0M23.7 62.7h0M13.5 33.0h0M15.3 48.9h0M35.7 51.2h0M42.9 7.3h0M46.1 57.9h0M46.1 38.3h0M32.2 44.3h0M38.6 42.0h0M35.9 31.1h0M21.6 57.6h0M61.2 38.0h0M20.2 58.1h0M46.3 50.7h0M7.8 32.8h0M12.0 32.9h0M24.0 11.0h0M41.7 35.6h0M15.9 32.0h0M28.3 48.9h0M18.8 42.5h0M33.5 24.2h0M50.2 59.2h0M29.8 43.2h0M45.8 64.6h0M28.4 47.3h0M22.7 53.1h0M69.9 53.7h0M30.9 43.7h0M66.4 29.1h0M38.4 7.1h0M72.8 36.8h0M32.6 41.0h0M55.8 62.5h0M39.4 24.3h0M19.6 50.8h0M39.4 65.0h0M19.3 56.8h0M26.7 59.2h0M25.1 19.6h0M13.5 36.2h0M18.0 16.9h0M22.2 40.0h0M43.4 55.1h0M26.0 57.2h0M19.5 24.8h0M28.3 41.7h0M69.0 49.7h0M43.7 48.2h0M15.8 54.6h0M16.2 53.5h0M56.1 58.3h0M10.6 30.3h0M46.0 51.5h0M38.1 29.4h0M51.2 35.1h0M22.2 57.1h0M58.1 55.1h0M37.6 39.0h0M71.1 43.7h0M54.1 57.0h0M45.5 29.1h0M53.2 9.4h0M21.7 50.3h0M49.6 54.3h0M17.9 60.2h0M38.1 65.9h0M13.3 35.6h0M56.5 7.0h0M34.6 65.7h0M34.8 45.9h0M34.1 42.2h0M29.8 63.8h0M37.9 57.3h0M51.5 61.8h0M13.2 33.6h0M20.3 48.2h0M24.9 57.2h0M64.3 26.5h0M13.1 28.9h0M21.2 42.1h0M34.3 66.4h0M12.7 51.7h0M28.9 65.3h0" stroke="#b80810"/>
<path d="M21.4 19.0h0M45.2 35.8h0M34.9 41.7h0M21.4 29.6h0M44.0 10.8h0M62.0 29.1h0M56.4 16.7h0M39.7 14.6h0M24.0 22.8h0M25.7 16.1h0M57.6 14.0h0M31.9 32.4h0M23.8 28.9h0M12.9 17.7h0M61.6 15.4h0M27.0 17.8h0M65.1 28.4h0M67.7 21.8h0M50.3 28.7h0M33.9 35.1h0M53.9 15.1h0M61.7 38.7h0M27.2 16.4h0M55.8 16.4h0M33.5 6.4h0M45.3 17.4h0M46.2 6.2h0M18.3 46.3h0M53.9 19.4h0M46.3 12.2h0M38.7 1.4h0M40.1 4.6h0M58.3 6.7h0M27.4 17.7h0M41.6 21.2h0M37.8 34.9h0M55.1 24.7h0M40.9 18.7h0M44.4 15.5h0M20.0 20.8h0M43.4 28.7h0M60.7 8.1h0M52.8 18.0h0M63.9 22.9h0M51.9 34.4h0M25.4 17.8h0M26.1 12.6h0M25.9 21.9h0M59.6 26.3h0M57.5 24.4h0M28.6 25.1h0M40.8 8.6h0M35.3 30.9h0M49.7 12.7h0M52.7 16.1h0M37.4 6.7h0M30.2 14.1h0M39.9 5.4h0M46.4 17.9h0M34.9 22.0h0M35.5 17.2h0M38.1 4.7h0M63.8 40.5h0M62.6 37.2h0M63.7 37.6h0M22.4 14.1h0M48.3 3.5h0M64.4 33.0h0M59.0 13.1h0M36.5 0.8h0M67.9 39.7h0M29.7 16.3h0M43.6 8.1h0M31.9 24.7h0M37.1 20.4h0M60.7 29.7h0M22.8 20.9h0M65.6 30.7h0M53.2 26.0h0M37.1 2.0h0M26.0 15.9h0M61.9 33.1h0M9.2 24.6h0M34.1 20.8h0M62.5 24.1h0M57.3 11.4h0M38.0 23.8h0M59.9 29.2h0M60.1 11.2h0M14.9 34.6h0M43.1 10.5h0M39.4 14.9h0M27.8 14.8h0M49.9 13.1h0M46.8 16.0h0M39.0 7.9h0M35.6 26.9h0M55.8 14.3h0M45.5 6.1h0M37.8 8.4h0M63.6 33.0h0M31.8 6.4h0M53.4 17.1h0M18.1 17.5h0M59.5 34.5h0M59.5 8.3h0M38.7 3.1h0M55.0 14.3h0M43.7 7.3h0M52.5 11.0h0M49.0 23.1h0M35.5 23.4h0M65.8 43.2h0M37.5 23.9h0M61.7 8.8h0M44.8 3.0h0M31.4 15.4h0M66.2 37.4h0M46.8 4.5h0M59.8 34.2h0M44.1 13.1h0M46.6 11.4h0M31.9 15.9h0M65.0 9.8h0M26.8 23.1h0M62.9 24.6h0M44.0 44.7h0" stroke="#24585a"/>
<path d="M22.6 20.3h0M18.9 38.9h0M25.4 31.1h0M34.9 13.8h0M18.5 52.5h0M33.5 36.7h0M30.5 45.2h0M37.9 35.0h0M41.5 2.8h0M27.4 29.6h0M16.0 49.0h0M34.7 33.1h0M15.8 47.7h0M34.7 48.9h0M16.5 24.5h0M7.0 28.4h0M22.7 52.2h0M24.3 60.7h0M19.4 24.3h0M25.4 48.2h0M31.5 25.2h0M9.7 27.9h0M37.2 31.8h0M30.0 34.2h0M26.6 61.6h0M20.4 33.5h0M26.1 42.1h0M26.5 62.2h0M30.0 25.3h0M38.0 19.1h0M21.8 42.0h0M16.9 13.4h0M15.3 42.8h0M47.0 3.2h0M9.8 47.7h0M21.1 43.1h0M22.8 58.6h0M27.2 36.1h0M26.4 62.6h0M39.4 33.0h0M36.3 26.5h0M46.5 9.5h0M35.9 11.7h0M14.5 46.4h0M19.5 58.0h0M20.4 36.8h0M20.9 50.9h0M22.8 57.6h0M32.6 33.0h0M45.0 42.4h0M23.7 41.8h0M43.6 17.5h0M31.4 28.5h0M20.1 38.1h0M19.5 23.8h0M16.4 29.7h0M12.0 46.5h0M38.8 50.2h0M24.1 22.1h0M38.3 9.1h0M30.2 26.1h0M20.2 29.0h0M13.7 46.8h0M39.8 21.3h0M30.2 41.4h0M19.1 23.9h0M14.6 46.8h0M30.2 38.8h0M12.4 41.5h0M45.8 47.3h0M7.2 37.9h0M23.5 42.2h0M16.9 42.5h0M28.2 46.7h0M37.4 39.2h0M17.8 43.4h0M27.0 61.1h0M22.0 47.7h0M33.9 23.6h0M22.8 59.5h0M25.7 55.7h0M24.0 63.5h0M15.9 34.8h0M16.4 39.3h0M12.9 49.9h0M19.2 51.7h0M18.1 56.4h0M46.3 39.8h0M9.3 39.0h0M15.4 29.7h0M17.9 40.5h0M17.8 23.5h0M18.8 30.6h0M12.2 44.2h0M8.7 28.0h0M14.9 28.8h0M36.6 37.4h0M31.8 42.6h0M12.4 45.3h0M24.5 19.4h0M33.7 43.2h0M28.8 52.2h0M13.7 51.8h0M9.9 49.7h0M38.3 33.9h0M18.0 55.3h0M28.3 49.8h0M20.1 54.0h0M22.0 20.6h0M15.9 46.1h0M41.4 48.6h0M47.8 13.7h0M18.9 24.6h0M20.9 62.0h0M27.0 43.8h0M17.0 29.8h0M36.3 41.4h0M38.2 40.6h0M31.7 10.8h0M14.0 32.5h0M39.2 47.6h0M7.3 32.1h0M15.1 52.1h0M39.7 7.9h0M22.3 52.0h0M24.5 57.3h0M11.4 43.9h0M15.4 24.9h0M8.5 32.6h0M8.5 33.9h0M23.0 56.2h0M29.6 45.8h0" stroke="#740a10"/>
</g>
<rect x="184.60" y="401.80" width="77.2" height="77.8" fill="none" stroke="#8c8c8c" stroke-width="0.8"/>
<text x="222.90" y="394.80" font-size="9.7" text-anchor="middle" fill="#111" >iDCs&#160;overlaid</text>
<g transform="translate(184.60 401.80)" stroke-width="1.15" stroke-linecap="square">
<path d="M50.4 63.0h0M23.3 50.4h0M42.0 52.6h0M52.1 17.3h0M55.4 64.9h0M60.1 50.9h0M56.0 8.2h0M67.5 33.7h0M34.7 60.1h0M38.4 64.6h0M52.9 63.6h0M16.9 39.5h0M12.7 38.7h0M53.7 8.0h0M56.7 65.6h0M57.1 15.9h0M50.2 31.0h0M62.1 19.6h0M49.7 34.1h0M38.5 66.6h0M50.5 38.5h0M41.6 55.6h0M54.7 56.5h0M41.2 55.6h0M59.4 63.8h0M58.5 48.3h0M67.2 24.6h0M15.8 19.1h0M65.2 52.5h0M41.5 64.4h0M21.7 38.5h0M34.8 61.4h0M46.1 53.1h0M37.9 53.2h0M23.3 37.1h0M50.6 19.7h0M36.0 64.0h0M52.1 60.4h0M39.5 57.9h0M15.7 35.4h0M53.3 18.1h0M68.3 27.3h0M18.2 54.0h0M44.2 64.6h0M23.5 57.6h0M38.0 63.2h0M42.4 65.9h0M60.6 60.1h0M38.8 68.2h0M74.4 41.0h0M35.7 65.6h0M62.8 53.3h0M38.8 52.3h0M33.9 60.7h0M44.1 52.8h0M33.5 63.3h0M71.0 46.0h0M64.6 54.1h0M51.3 56.1h0M49.5 66.1h0M61.7 52.1h0M41.6 57.7h0M28.9 61.5h0M24.5 43.4h0M54.1 52.8h0M43.3 66.0h0M39.1 60.8h0M60.8 11.2h0M64.7 43.1h0M66.1 33.4h0M38.8 65.0h0M55.6 62.8h0M15.6 37.7h0M25.7 56.8h0M54.3 35.3h0M46.0 59.4h0M59.8 60.7h0M49.0 60.8h0M66.1 49.2h0M35.4 58.4h0M68.6 43.0h0M43.4 51.3h0M52.4 57.8h0M69.3 48.7h0M38.2 67.9h0M22.5 21.4h0M68.7 48.9h0M57.0 13.5h0M54.8 51.6h0M49.1 38.0h0M8.1 28.4h0M46.3 62.6h0M52.4 53.0h0M69.4 24.9h0M45.0 53.1h0M61.2 49.0h0M56.8 9.2h0M40.2 52.6h0M63.3 43.8h0M51.3 31.1h0M46.7 51.1h0M71.2 45.3h0M53.4 65.2h0" stroke="#ec8c8c"/>
<path d="M19.4 35.6h0M17.4 52.3h0M12.2 39.2h0M21.7 16.6h0M21.1 37.8h0M53.4 19.4h0M26.0 38.1h0M46.7 60.5h0M10.7 28.7h0M33.6 60.0h0M33.3 63.0h0M56.6 8.5h0M16.8 44.1h0M15.4 48.1h0M38.7 58.9h0M40.5 19.2h0M56.0 29.1h0M50.3 22.2h0M54.6 55.3h0M15.4 29.7h0M40.7 40.8h0M68.3 31.7h0M48.6 59.7h0M24.2 49.6h0M45.0 59.3h0M16.1 41.0h0M14.5 44.6h0M62.2 41.6h0M47.1 36.4h0M70.5 46.7h0M19.6 35.2h0M15.4 35.3h0M37.9 29.9h0M46.4 60.5h0M59.0 51.3h0M62.6 43.2h0M38.2 3.9h0M12.1 30.1h0M18.7 24.4h0M69.3 54.1h0M50.4 61.1h0M30.7 33.1h0M14.9 48.6h0M57.1 57.1h0M32.2 28.8h0M56.4 61.2h0M40.8 47.5h0M18.0 44.3h0M42.6 59.9h0M55.2 11.6h0M15.6 42.0h0M30.8 16.9h0M37.4 42.3h0M22.7 44.0h0M41.7 46.6h0M20.9 35.4h0M43.2 60.8h0M50.2 53.2h0M30.8 25.7h0M33.0 65.4h0M14.3 33.4h0M64.1 52.5h0M53.7 61.1h0M23.4 45.7h0M36.9 41.5h0M16.0 32.0h0M22.7 45.2h0M54.8 56.7h0M23.5 60.9h0M10.0 31.6h0M39.5 58.5h0M26.3 62.3h0M25.2 16.9h0M7.1 35.5h0M31.7 66.6h0M15.3 39.2h0M25.6 39.2h0M47.5 37.8h0M48.8 64.5h0M44.0 2.3h0M22.1 16.8h0M18.2 59.3h0M39.9 12.0h0M26.6 52.4h0M35.8 35.3h0M57.1 20.4h0M65.9 30.3h0M27.8 63.7h0M66.0 25.8h0M21.4 55.5h0M45.7 60.1h0M21.3 48.9h0M20.5 58.1h0M23.3 61.5h0M30.1 33.1h0M39.6 65.3h0M43.3 2.8h0M48.4 60.4h0M36.9 34.1h0M28.1 57.0h0M34.2 61.6h0M51.7 62.6h0M32.2 47.7h0M45.5 46.7h0M18.1 33.1h0M46.2 38.7h0M43.9 38.4h0M35.7 37.8h0M13.7 48.4h0M56.0 58.2h0M20.0 24.5h0M35.9 29.5h0M27.0 58.3h0M43.3 50.9h0M49.4 57.5h0M21.6 42.1h0M51.2 66.3h0M24.9 37.9h0M20.0 30.9h0M13.0 47.2h0M40.6 47.9h0M19.5 18.1h0M39.1 4.0h0M41.1 39.5h0M51.2 63.8h0M15.3 26.4h0M56.8 51.7h0M36.9 46.1h0M27.5 55.5h0M29.9 66.2h0M13.9 21.7h0M36.2 6.0h0M13.5 39.3h0M34.7 66.8h0M38.4 63.8h0M48.6 58.1h0M38.4 28.6h0M15.4 37.3h0M14.0 41.7h0M46.6 52.5h0M43.7 52.8h0M52.3 62.8h0M28.7 40.1h0M34.9 31.1h0M43.9 42.6h0M41.6 48.4h0M35.4 19.1h0M57.7 13.2h0M44.3 55.0h0M57.6 60.2h0M38.6 44.5h0M32.3 47.2h0M50.6 56.2h0M57.7 57.1h0M42.0 40.8h0M21.3 60.6h0M12.4 33.5h0" stroke="#e0120c"/>
<path d="M16.0 31.7h0M60.3 28.3h0M24.9 40.5h0M74.4 45.2h0M29.7 57.3h0M46.8 57.6h0M33.6 39.6h0M27.5 22.7h0M43.0 65.9h0M48.0 61.4h0M10.6 26.8h0M34.0 25.5h0M20.6 24.2h0M28.3 41.1h0M55.1 51.6h0M19.8 50.3h0M42.0 55.7h0M54.0 7.7h0M20.8 62.2h0M10.0 28.8h0M28.0 61.2h0M57.3 55.6h0M24.2 57.1h0M25.5 42.8h0M12.0 29.6h0M18.9 49.4h0M36.8 37.5h0M26.5 54.2h0M39.7 44.9h0M16.1 35.4h0M18.9 39.5h0M14.4 50.7h0M31.9 36.7h0M15.6 30.1h0M32.0 31.9h0M18.6 55.4h0M21.2 14.7h0M43.1 46.6h0M22.8 55.8h0M42.7 49.2h0M20.7 56.5h0M26.0 49.8h0M39.2 40.3h0M38.8 42.2h0M32.9 25.7h0M37.9 57.0h0M34.7 45.0h0M44.3 35.9h0M48.1 38.1h0M17.1 32.8h0M45.0 51.1h0M10.0 46.4h0M53.2 34.0h0M10.2 28.3h0M67.1 23.2h0M14.7 46.8h0M41.7 5.1h0M49.4 52.8h0M19.5 36.5h0M38.4 50.9h0M43.8 62.1h0M23.7 62.7h0M21.4 25.7h0M28.1 17.2h0M15.3 48.9h0M31.5 24.4h0M35.9 18.6h0M16.0 30.6h0M40.7 42.5h0M16.6 18.9h0M42.9 7.3h0M46.1 57.9h0M36.8 24.6h0M25.1 18.7h0M17.9 35.7h0M35.8 44.2h0M20.2 58.1h0M24.4 48.6h0M24.3 43.3h0M36.8 51.8h0M24.0 11.0h0M15.1 37.2h0M18.8 42.5h0M15.4 26.5h0M36.5 14.8h0M50.2 59.2h0M37.2 13.2h0M29.8 43.2h0M22.7 53.1h0M25.5 53.4h0M39.2 60.2h0M20.6 62.2h0M38.4 7.1h0M72.8 36.8h0M15.4 48.7h0M38.1 35.7h0M24.4 39.7h0M39.4 65.0h0M13.8 34.0h0M47.2 62.5h0M20.4 52.8h0M22.2 57.5h0M13.5 36.2h0M15.3 38.5h0M24.2 55.1h0M26.8 52.7h0M45.0 6.7h0M44.9 48.1h0M21.9 62.3h0M29.6 63.0h0M15.8 54.6h0M39.2 12.7h0M10.6 30.3h0M19.4 55.8h0M41.0 46.8h0M15.2 50.0h0M9.7 34.2h0M35.9 28.2h0M14.2 38.5h0M54.1 57.0h0M10.9 27.6h0M21.8 35.4h0M26.9 58.3h0M15.8 58.1h0M25.9 59.6h0M38.1 65.9h0M40.1 65.4h0M22.7 22.0h0M56.5 7.0h0M52.3 15.1h0M34.6 65.7h0M34.8 45.9h0M34.1 42.2h0M24.4 23.4h0M18.1 42.2h0M31.7 19.3h0M27.6 38.2h0M17.4 37.5h0M43.4 2.9h0M21.2 42.1h0M50.7 63.7h0M41.7 8.7h0M49.4 34.1h0M44.1 55.6h0" stroke="#b80810"/>
<path d="M22.6 20.3h0M19.8 50.8h0M25.4 31.1h0M29.4 46.2h0M11.0 37.5h0M33.5 36.7h0M21.0 42.8h0M30.5 45.2h0M10.1 48.2h0M17.0 41.4h0M34.7 48.9h0M16.5 24.5h0M12.6 25.4h0M7.0 28.4h0M28.9 50.9h0M22.7 52.2h0M24.3 60.7h0M19.4 24.3h0M22.9 57.4h0M33.9 41.0h0M33.2 19.2h0M15.7 54.1h0M16.5 54.1h0M33.6 44.6h0M22.7 62.3h0M15.2 41.5h0M14.6 50.0h0M41.2 29.3h0M30.0 25.3h0M38.0 19.1h0M47.6 50.3h0M25.3 36.2h0M36.8 20.8h0M26.1 45.0h0M33.4 38.2h0M39.4 33.0h0M46.5 9.5h0M45.3 48.4h0M17.8 25.3h0M14.8 26.5h0M20.9 50.9h0M30.9 37.5h0M43.3 32.1h0M32.6 33.0h0M45.2 22.6h0M13.6 28.8h0M29.1 25.4h0M31.4 28.5h0M22.3 39.5h0M40.8 39.0h0M33.6 29.9h0M14.9 32.4h0M22.9 58.2h0M14.0 33.4h0M21.1 59.2h0M24.1 22.1h0M37.9 40.3h0M44.6 46.6h0M38.3 9.1h0M24.7 48.0h0M20.2 29.0h0M30.3 62.0h0M39.8 21.3h0M30.2 41.4h0M14.6 46.8h0M30.7 59.9h0M42.6 49.2h0M24.8 27.1h0M20.6 22.5h0M20.2 33.1h0M15.1 30.5h0M39.5 28.7h0M16.3 31.8h0M33.7 43.5h0M26.1 55.2h0M18.8 31.4h0M16.9 42.5h0M11.7 40.1h0M34.9 11.8h0M27.9 16.0h0M13.7 28.9h0M22.0 47.7h0M14.2 36.6h0M12.4 36.0h0M31.6 43.5h0M22.8 59.5h0M25.7 55.7h0M22.1 60.5h0M15.9 34.8h0M14.6 29.0h0M16.4 39.3h0M32.8 23.0h0M23.6 64.2h0M19.5 41.2h0M18.1 56.4h0M46.3 39.8h0M32.7 61.5h0M17.9 40.5h0M21.4 26.2h0M14.9 28.8h0M20.5 56.6h0M10.7 45.4h0M34.2 38.4h0M16.4 32.0h0M45.0 49.6h0M26.6 58.4h0M28.2 61.3h0M15.1 39.2h0M19.9 42.7h0M28.3 49.8h0M18.4 41.8h0M36.7 25.4h0M45.6 2.1h0M30.1 43.4h0M12.1 42.9h0M21.1 32.5h0M9.6 30.6h0M26.3 59.3h0M18.9 24.6h0M20.1 36.3h0M28.9 60.4h0M22.7 35.1h0M14.0 37.2h0M14.0 32.5h0M36.3 28.5h0M7.3 32.1h0M15.1 52.1h0M39.7 7.9h0M18.7 36.5h0M22.3 52.0h0M23.3 22.4h0M37.6 24.1h0M12.3 32.7h0" stroke="#740a10"/>
<path d="M48.7 33.5h0M68.4 26.8h0M39.6 49.5h0M36.1 54.7h0M52.0 53.8h0M32.9 37.5h0M58.3 26.7h0M74.4 46.2h0M61.8 54.8h0M23.3 61.6h0M24.2 38.4h0M42.1 55.2h0M55.1 51.1h0M42.7 52.3h0M54.4 42.8h0M55.5 12.5h0M35.9 65.3h0M40.2 23.7h0M54.0 65.9h0M44.7 50.8h0M49.7 57.5h0M58.5 24.6h0M41.0 65.1h0M43.2 52.2h0M55.5 11.7h0M48.7 18.4h0M62.3 51.7h0M41.2 54.6h0M54.5 52.2h0M48.4 64.4h0M31.9 37.6h0M52.4 58.9h0M48.6 53.1h0M72.8 38.4h0M58.3 55.6h0M49.6 35.1h0M18.4 23.8h0M58.6 28.7h0M55.3 60.6h0M46.9 63.1h0M35.7 66.5h0M41.5 57.4h0M43.4 64.0h0M35.5 61.2h0M35.6 61.3h0M72.2 48.0h0M58.3 21.9h0M58.4 63.2h0M37.2 65.4h0M36.3 50.8h0M14.6 56.2h0M38.4 66.3h0M62.9 17.3h0M48.3 52.3h0M33.7 68.2h0M55.0 64.6h0M58.2 49.3h0M60.8 56.1h0M60.6 62.4h0M43.9 53.7h0M59.2 19.8h0M54.0 58.6h0M49.6 59.0h0M64.8 31.7h0M50.0 63.2h0M48.0 37.3h0M58.1 17.9h0M56.0 57.8h0M36.1 62.3h0M51.0 25.2h0M57.0 9.0h0M31.7 67.3h0M62.5 32.6h0M27.4 63.2h0M43.9 57.2h0M55.6 53.8h0M46.0 59.6h0M41.9 39.9h0M41.7 57.7h0M33.2 62.8h0M69.0 49.4h0M36.3 66.5h0M36.8 52.9h0M49.6 15.5h0M51.3 12.2h0M54.1 33.6h0M39.2 50.4h0M54.6 8.5h0M54.7 64.7h0M17.5 40.1h0M72.4 49.3h0M47.6 57.9h0M54.5 54.2h0" stroke="#ec8c8c"/>
<path d="M42.9 44.5h0M33.6 66.3h0M27.8 61.3h0M45.1 53.3h0M10.1 36.7h0M46.2 41.1h0M27.9 22.3h0M44.9 54.6h0M59.1 37.1h0M45.2 45.6h0M48.3 64.5h0M53.9 64.3h0M31.0 41.1h0M28.2 60.4h0M24.3 62.5h0M28.6 19.2h0M7.6 29.0h0M60.0 51.8h0M48.8 63.4h0M32.1 48.1h0M23.9 38.4h0M26.0 50.6h0M15.4 24.7h0M39.6 55.0h0M35.3 32.9h0M44.5 3.9h0M52.0 33.9h0M11.3 50.8h0M21.0 52.1h0M24.6 51.7h0M43.8 6.7h0M37.3 56.3h0M27.8 15.4h0M37.4 25.9h0M51.9 52.8h0M31.8 35.4h0M32.0 33.8h0M54.5 55.4h0M18.1 17.2h0M21.8 57.6h0M18.6 32.8h0M19.9 54.3h0M74.6 43.1h0M14.3 51.3h0M44.3 46.0h0M73.1 44.4h0M25.6 53.3h0M19.7 43.5h0M23.0 43.5h0M59.0 47.3h0M26.3 59.0h0M70.6 52.1h0M13.6 45.1h0M50.0 39.4h0M52.6 56.6h0M25.1 48.8h0M12.4 47.0h0M63.2 49.4h0M40.7 35.9h0M29.4 63.8h0M38.6 66.8h0M18.3 31.9h0M55.7 58.4h0M44.9 0.8h0M16.7 40.4h0M23.3 54.7h0M35.3 58.1h0M33.4 41.4h0M11.6 24.1h0M24.5 55.7h0M17.7 53.3h0M11.1 20.5h0M36.0 49.9h0M32.0 51.8h0M40.1 53.6h0M53.1 59.7h0M37.0 3.9h0M38.8 42.4h0M58.0 46.5h0M16.2 54.5h0M50.0 56.2h0M27.4 17.7h0M9.2 46.2h0M36.2 65.2h0M17.8 47.0h0M39.4 26.2h0M30.9 17.3h0M22.0 41.2h0M35.8 1.5h0M9.6 43.8h0M20.3 56.6h0M23.5 64.1h0M69.1 19.4h0M39.7 37.2h0M16.5 39.5h0M33.3 36.1h0M11.5 31.7h0M34.6 25.2h0M14.1 46.0h0M30.0 64.6h0M39.3 51.0h0M38.9 45.9h0M29.2 46.7h0M14.3 38.7h0M14.4 42.2h0M70.6 18.7h0M52.4 56.3h0M19.9 38.8h0M35.8 42.7h0M41.5 58.6h0M66.0 37.0h0M50.8 14.3h0M15.3 38.8h0M32.7 2.5h0M21.6 35.5h0M15.6 43.0h0M7.4 29.2h0M36.6 13.4h0M50.0 40.7h0M20.3 32.7h0M41.1 66.7h0M47.1 32.3h0M21.1 54.6h0M26.5 65.3h0M9.7 31.2h0M20.9 20.9h0M59.3 54.6h0M51.1 63.0h0M31.6 39.8h0M31.4 54.4h0M40.4 42.7h0M25.9 52.6h0M65.6 45.9h0M41.0 4.5h0M39.1 30.8h0M60.2 21.5h0M12.0 25.4h0M32.0 38.2h0M62.7 43.3h0M28.6 43.2h0M10.6 25.3h0M34.8 33.9h0M31.8 67.3h0M60.7 53.5h0M14.0 38.3h0M49.3 53.4h0M56.1 34.1h0M46.5 12.4h0M14.4 38.8h0M59.1 50.6h0M23.5 42.4h0" stroke="#e0120c"/>
<path d="M49.9 64.1h0M11.4 23.9h0M11.8 21.4h0M15.1 28.4h0M29.6 64.3h0M29.8 44.5h0M22.1 21.5h0M9.6 41.7h0M8.8 32.2h0M19.3 38.2h0M53.6 63.6h0M14.9 23.1h0M10.9 29.2h0M22.7 21.1h0M18.4 50.2h0M37.2 31.6h0M62.5 43.1h0M33.8 44.4h0M41.3 67.0h0M14.4 44.5h0M34.6 39.3h0M20.2 36.9h0M35.5 36.6h0M55.9 58.1h0M6.9 33.5h0M41.3 47.9h0M26.8 27.4h0M48.3 40.6h0M33.4 25.2h0M36.5 40.2h0M13.1 38.6h0M72.8 44.5h0M36.2 32.0h0M54.3 53.7h0M42.4 42.8h0M19.3 36.0h0M42.8 8.2h0M19.2 36.5h0M34.6 38.8h0M35.9 7.8h0M23.2 21.3h0M44.6 50.6h0M12.3 35.3h0M43.1 30.7h0M18.3 55.8h0M17.1 17.9h0M17.7 33.6h0M19.6 37.7h0M19.5 39.5h0M33.4 32.3h0M46.1 41.1h0M48.0 47.9h0M34.2 45.6h0M57.4 64.3h0M47.8 41.5h0M53.1 56.3h0M14.2 36.7h0M50.8 52.9h0M17.6 30.0h0M37.3 24.3h0M21.3 19.8h0M38.0 31.4h0M11.3 46.7h0M20.2 35.0h0M13.0 30.8h0M43.9 4.1h0M31.5 37.2h0M41.7 32.8h0M21.9 28.8h0M13.5 33.0h0M47.8 56.6h0M21.1 59.5h0M46.1 38.3h0M18.7 49.6h0M35.9 31.1h0M61.2 38.0h0M35.5 26.3h0M46.3 50.7h0M7.8 32.8h0M12.0 32.9h0M41.7 35.6h0M15.9 32.0h0M28.3 48.9h0M44.5 44.3h0M31.6 65.1h0M22.1 39.2h0M41.9 58.4h0M45.8 64.6h0M15.4 48.9h0M45.5 47.6h0M44.0 4.5h0M38.8 59.4h0M30.9 43.7h0M66.4 29.1h0M16.2 25.1h0M26.0 40.9h0M48.1 48.0h0M54.9 62.2h0M24.2 59.3h0M39.4 24.3h0M20.2 26.1h0M19.3 56.8h0M25.1 19.6h0M22.2 40.0h0M26.0 57.2h0M28.3 41.7h0M69.0 49.7h0M19.2 44.5h0M41.2 56.3h0M16.2 53.5h0M66.7 35.9h0M56.1 58.3h0M40.1 64.3h0M20.7 54.9h0M46.0 51.5h0M38.7 28.2h0M27.5 64.3h0M41.1 60.1h0M36.8 65.4h0M21.7 57.7h0M50.5 61.1h0M22.2 57.1h0M28.6 43.9h0M49.0 64.9h0M58.1 55.1h0M19.2 46.5h0M24.4 62.5h0M43.3 9.7h0M53.2 9.4h0M58.6 64.8h0M17.4 44.2h0M18.2 41.2h0M61.2 12.3h0M20.6 31.7h0M50.0 61.8h0M24.2 19.1h0M12.6 36.7h0M54.8 31.0h0M39.9 40.2h0M30.4 46.5h0M51.5 61.8h0M13.2 33.6h0M72.5 47.0h0M25.6 62.0h0M15.4 35.5h0M13.1 28.9h0M44.0 46.7h0M34.3 66.4h0M12.7 51.7h0M28.9 65.3h0M17.2 27.4h0M35.6 42.4h0M13.8 18.0h0" stroke="#b80810"/>
<path d="M34.9 13.8h0M18.5 52.5h0M25.4 49.7h0M34.4 24.9h0M24.9 55.3h0M16.0 49.0h0M34.7 33.1h0M24.8 46.4h0M32.1 44.3h0M20.8 61.0h0M17.1 25.6h0M11.1 32.2h0M17.4 36.9h0M28.0 58.7h0M17.7 59.5h0M11.9 33.9h0M43.5 37.6h0M22.1 43.0h0M33.7 33.0h0M9.7 27.9h0M12.9 28.6h0M20.3 37.1h0M11.4 46.1h0M47.4 5.6h0M20.4 33.5h0M15.8 41.3h0M26.1 42.1h0M44.9 36.0h0M38.0 44.3h0M18.8 34.5h0M32.6 33.4h0M12.4 44.8h0M45.6 36.2h0M26.8 46.3h0M26.5 62.2h0M11.3 25.5h0M21.4 40.5h0M44.9 44.4h0M15.3 42.8h0M12.3 31.6h0M22.8 58.6h0M27.2 36.1h0M18.9 38.0h0M27.7 45.5h0M39.7 38.4h0M26.7 57.9h0M19.5 58.0h0M33.9 45.1h0M18.2 34.7h0M17.4 40.5h0M29.0 21.3h0M22.8 57.6h0M27.0 41.6h0M45.0 42.4h0M34.7 29.9h0M43.6 17.5h0M17.5 35.4h0M40.6 17.0h0M23.1 63.4h0M46.6 41.4h0M17.0 50.8h0M20.1 38.1h0M19.5 23.8h0M16.4 29.7h0M24.6 52.6h0M41.2 41.8h0M21.7 59.8h0M39.5 45.4h0M30.8 36.8h0M27.3 46.8h0M30.2 26.1h0M30.3 63.4h0M14.5 37.9h0M24.7 64.2h0M36.8 15.3h0M31.2 5.0h0M30.2 38.8h0M12.4 41.5h0M22.2 53.1h0M27.3 53.7h0M16.0 28.6h0M17.2 26.5h0M45.0 47.9h0M32.6 34.1h0M37.4 39.2h0M32.7 23.2h0M28.0 47.8h0M31.7 46.8h0M20.1 31.6h0M38.4 31.7h0M27.0 61.1h0M33.9 23.6h0M31.5 65.1h0M39.8 49.3h0M24.0 63.5h0M12.6 36.6h0M12.9 49.9h0M17.1 18.1h0M28.6 41.9h0M14.1 31.2h0M36.7 48.4h0M9.3 39.0h0M15.4 29.7h0M41.3 48.1h0M18.8 54.3h0M17.8 23.5h0M18.8 30.6h0M31.9 21.8h0M12.2 44.2h0M9.4 27.0h0M9.4 25.5h0M35.5 17.0h0M31.5 67.6h0M28.7 62.1h0M17.8 28.3h0M31.8 42.6h0M24.5 19.4h0M33.7 43.2h0M46.4 42.5h0M37.3 47.6h0M9.9 49.7h0M15.4 56.6h0M18.0 55.3h0M38.1 14.4h0M45.4 46.6h0M14.3 47.0h0M47.1 33.5h0M25.3 35.2h0M41.4 48.6h0M47.8 13.7h0M38.2 40.6h0M39.2 47.6h0M41.7 46.9h0M17.2 34.0h0M42.2 45.9h0M24.5 57.3h0M38.4 24.1h0M11.4 43.9h0M23.0 56.2h0M29.6 45.8h0" stroke="#740a10"/>
<path d="M26.1 63.5h0M47.7 59.4h0M38.9 66.9h0M33.6 23.2h0M46.3 62.6h0M50.1 36.6h0M38.9 64.6h0M54.2 59.8h0M36.7 66.6h0M26.6 59.2h0M37.4 66.1h0M31.6 40.6h0M44.7 50.9h0M64.8 47.8h0M60.8 31.7h0M56.2 62.9h0M48.8 52.9h0M61.9 57.2h0M48.7 66.4h0M23.7 50.7h0M66.1 56.9h0M54.3 63.1h0M54.2 61.8h0M52.0 59.2h0M39.9 65.8h0M35.9 64.9h0M42.1 54.2h0M22.0 28.7h0M59.7 11.7h0M46.8 51.3h0M38.9 57.8h0M52.8 21.4h0M28.8 35.9h0M58.9 54.6h0M51.2 61.8h0M52.1 57.1h0M13.7 46.6h0M38.1 64.4h0M37.8 63.4h0M52.7 64.1h0M33.2 66.4h0M39.9 68.6h0M10.3 33.8h0M11.9 37.6h0M31.9 24.8h0M40.8 49.4h0M39.2 58.8h0M50.6 60.7h0M36.0 66.6h0M66.4 22.3h0M53.3 57.3h0M63.0 28.7h0M58.9 33.2h0M44.6 47.5h0M50.4 56.1h0M69.2 21.4h0M47.4 63.8h0M48.2 65.4h0M14.4 46.3h0M57.4 63.6h0M66.2 48.9h0M13.1 27.8h0M51.0 49.3h0M43.5 18.7h0M53.7 12.4h0M54.5 63.7h0M46.4 68.2h0M55.7 51.0h0M64.6 52.4h0M60.6 8.2h0M15.4 38.9h0M51.4 55.5h0M50.4 50.2h0M38.0 51.5h0M10.4 46.3h0M56.9 63.0h0M26.5 9.5h0M53.8 18.0h0M51.5 62.5h0M19.2 60.1h0M36.6 64.8h0M52.8 63.3h0M30.2 44.5h0M10.5 42.8h0M37.1 45.5h0M68.1 27.6h0M66.8 54.5h0M43.2 52.8h0M53.5 10.0h0M27.1 48.0h0M26.1 59.3h0M56.5 28.3h0M27.8 56.4h0M61.3 20.9h0M33.3 61.4h0M23.9 33.4h0M73.7 46.4h0M26.9 62.3h0M34.6 60.1h0M37.6 68.5h0M46.3 58.1h0M56.3 5.4h0M35.2 58.9h0M64.2 47.4h0M34.7 66.4h0M40.1 64.1h0M48.3 58.6h0M56.6 28.6h0M50.2 47.0h0" stroke="#ec8c8c"/>
<path d="M65.6 49.1h0M56.0 59.6h0M48.5 52.6h0M37.6 46.4h0M42.7 37.8h0M12.1 51.1h0M10.8 32.0h0M45.0 56.6h0M42.6 9.1h0M39.4 68.7h0M28.6 43.7h0M58.7 11.9h0M30.5 64.4h0M39.1 13.0h0M33.9 32.6h0M49.6 15.6h0M19.9 60.2h0M24.9 56.4h0M18.3 37.2h0M48.7 35.5h0M54.4 56.0h0M22.8 54.0h0M16.8 46.2h0M13.0 50.5h0M14.6 51.6h0M13.1 45.2h0M12.8 23.1h0M36.5 45.2h0M37.5 40.2h0M23.0 53.9h0M44.4 45.0h0M28.5 19.4h0M54.4 57.8h0M25.5 19.6h0M25.2 63.2h0M52.0 66.7h0M34.5 45.9h0M35.6 42.3h0M17.0 31.2h0M53.5 64.6h0M9.4 24.7h0M24.3 57.4h0M65.1 28.6h0M46.3 52.6h0M59.6 53.9h0M18.4 33.3h0M49.7 62.9h0M45.7 43.2h0M39.0 34.8h0M51.4 24.9h0M45.2 60.3h0M62.9 42.1h0M37.7 3.8h0M36.8 49.5h0M39.2 48.9h0M54.4 55.2h0M41.2 51.8h0M27.1 44.4h0M28.1 33.7h0M32.0 36.3h0M14.7 37.1h0M15.8 35.0h0M44.1 43.1h0M20.3 49.2h0M62.1 27.9h0M19.0 55.6h0M18.7 58.6h0M26.4 22.7h0M40.5 40.0h0M8.8 29.4h0M54.8 12.3h0M15.4 45.3h0M50.6 52.7h0M33.7 64.0h0M36.6 52.2h0M15.1 35.6h0M37.5 46.7h0M39.0 44.1h0M48.4 61.3h0M47.3 39.2h0M27.8 46.6h0M32.8 39.6h0M50.1 36.8h0M57.1 14.8h0M15.3 28.3h0M41.6 8.5h0M39.2 59.0h0M59.2 36.2h0M43.1 37.6h0M25.6 40.3h0M40.0 40.6h0M27.4 53.2h0M18.9 38.7h0M40.8 37.9h0M59.1 18.0h0M28.8 30.2h0M11.9 30.7h0M43.5 14.5h0M15.3 29.3h0M32.0 64.7h0M56.6 61.2h0M42.6 57.6h0M12.1 44.0h0M35.0 65.1h0M35.4 27.0h0M33.7 65.0h0M17.9 44.8h0M13.2 54.0h0M16.0 55.8h0M15.5 33.3h0M48.4 50.4h0M18.7 34.4h0M14.0 30.6h0M53.5 50.8h0M44.6 32.9h0M32.4 43.8h0M42.0 61.2h0M14.5 42.4h0M39.8 36.0h0M57.6 20.3h0M29.6 42.4h0M20.7 54.8h0M23.3 58.4h0M14.3 19.4h0M40.0 40.9h0M49.6 54.7h0M59.5 30.8h0M38.8 58.1h0M23.9 57.6h0M18.8 34.2h0M35.0 42.4h0M34.4 65.8h0M21.3 30.2h0M41.0 51.1h0M23.0 21.4h0M36.7 62.7h0M15.2 51.3h0M25.1 56.4h0M14.7 37.9h0M48.2 34.5h0M33.7 42.8h0M27.1 63.4h0M53.3 51.4h0M24.3 36.5h0M23.9 18.9h0M43.2 52.4h0M51.8 58.4h0M10.0 44.3h0M30.6 64.2h0M14.2 40.0h0M53.5 64.5h0M32.8 64.8h0M18.7 57.8h0M50.6 56.1h0M63.0 49.0h0M19.1 38.7h0M24.6 18.4h0M44.5 50.7h0" stroke="#e0120c"/>
<path d="M27.6 47.1h0M50.5 34.4h0M57.3 9.3h0M43.2 58.4h0M34.8 47.5h0M32.7 33.3h0M24.5 14.2h0M26.7 62.1h0M53.0 61.2h0M26.5 52.4h0M20.8 19.7h0M12.7 29.8h0M35.3 29.0h0M44.6 33.6h0M28.2 35.8h0M26.1 62.7h0M31.1 37.3h0M44.1 42.4h0M31.3 34.7h0M46.3 36.7h0M56.1 15.3h0M19.1 34.8h0M36.0 22.3h0M35.3 25.6h0M51.4 55.6h0M65.2 26.5h0M11.0 24.4h0M41.3 31.1h0M35.7 3.8h0M38.7 4.7h0M45.3 16.6h0M41.0 55.8h0M44.6 13.9h0M23.9 54.1h0M17.3 26.9h0M30.6 45.5h0M19.2 35.4h0M11.7 29.5h0M7.6 31.2h0M22.7 56.7h0M16.1 30.5h0M24.4 52.0h0M29.0 41.1h0M35.8 62.8h0M30.5 42.5h0M21.9 55.6h0M18.9 43.5h0M12.9 38.3h0M38.5 63.9h0M39.7 52.4h0M34.5 28.8h0M29.3 41.2h0M30.2 41.7h0M45.4 11.8h0M19.8 26.0h0M20.1 30.1h0M18.6 24.4h0M14.1 29.7h0M40.2 12.3h0M29.8 43.0h0M14.9 26.7h0M35.1 31.7h0M22.2 50.7h0M54.7 59.9h0M23.8 51.3h0M48.1 11.1h0M13.6 35.7h0M38.7 65.4h0M9.5 25.9h0M19.4 43.7h0M36.5 25.6h0M9.6 32.6h0M37.1 7.3h0M35.7 51.2h0M48.9 62.7h0M43.4 42.1h0M8.2 26.3h0M19.2 36.1h0M32.2 44.3h0M38.6 42.0h0M47.9 64.6h0M21.6 57.6h0M18.2 34.6h0M33.5 24.2h0M48.0 57.9h0M20.7 47.2h0M28.9 41.9h0M28.4 47.3h0M69.9 53.7h0M42.3 52.6h0M32.6 41.0h0M18.4 34.7h0M55.8 62.5h0M36.1 46.1h0M19.6 50.8h0M26.7 59.2h0M18.0 16.9h0M16.7 38.0h0M43.4 55.1h0M19.5 24.8h0M55.9 63.6h0M43.7 48.2h0M11.1 34.7h0M16.3 20.6h0M16.2 26.7h0M35.7 46.0h0M29.2 65.9h0M46.3 9.4h0M38.1 29.4h0M51.2 35.1h0M25.5 38.6h0M17.0 44.9h0M37.6 39.0h0M71.1 43.7h0M45.5 29.1h0M12.8 43.0h0M21.7 50.3h0M49.6 54.3h0M17.9 60.2h0M48.7 49.9h0M34.3 37.9h0M13.3 35.6h0M22.0 54.6h0M21.0 30.6h0M29.8 63.8h0M37.9 57.3h0M29.3 40.5h0M28.3 46.7h0M20.3 48.2h0M24.9 57.2h0M48.4 57.2h0M39.0 51.8h0M64.3 26.5h0M20.6 38.8h0M31.3 63.4h0M38.7 53.5h0M47.0 52.0h0M54.2 30.9h0M61.4 51.3h0" stroke="#b80810"/>
<path d="M18.9 38.9h0M13.8 50.7h0M20.4 32.6h0M37.9 35.0h0M20.2 58.0h0M45.5 44.8h0M41.5 2.8h0M27.4 29.6h0M30.5 29.5h0M15.8 47.7h0M22.6 52.0h0M37.9 30.5h0M12.7 34.6h0M21.5 57.8h0M25.4 48.2h0M31.5 25.2h0M37.2 31.8h0M30.0 34.2h0M15.1 31.1h0M26.6 61.6h0M44.0 4.3h0M17.9 24.9h0M24.4 59.6h0M37.6 47.1h0M18.5 22.4h0M21.8 42.0h0M16.9 13.4h0M47.0 3.2h0M9.8 47.7h0M21.1 43.1h0M16.1 19.1h0M15.3 26.0h0M26.4 62.6h0M36.3 26.5h0M18.2 51.3h0M9.7 36.1h0M20.3 58.4h0M35.9 11.7h0M14.5 46.4h0M32.3 37.5h0M37.4 41.8h0M20.4 36.8h0M13.2 28.4h0M14.4 54.7h0M37.9 23.5h0M23.7 41.8h0M39.8 44.6h0M17.3 54.4h0M26.8 58.7h0M41.9 45.0h0M35.7 42.5h0M25.5 39.4h0M40.9 36.0h0M22.2 54.3h0M12.0 46.5h0M12.7 30.4h0M38.8 50.2h0M24.7 64.3h0M30.3 39.5h0M21.0 59.7h0M21.7 61.6h0M13.7 46.8h0M16.6 29.2h0M19.1 23.9h0M17.1 27.4h0M21.8 20.4h0M17.7 52.1h0M30.2 61.7h0M31.1 37.5h0M12.6 38.0h0M45.8 47.3h0M7.2 37.9h0M13.9 33.8h0M22.2 30.3h0M30.8 48.6h0M23.0 60.5h0M42.9 48.9h0M13.6 36.9h0M36.1 38.0h0M37.0 50.1h0M23.5 42.2h0M30.5 28.8h0M8.0 36.7h0M28.2 46.7h0M17.8 43.4h0M22.2 20.4h0M19.2 50.3h0M41.6 47.8h0M18.0 27.7h0M32.2 46.5h0M22.1 56.6h0M19.5 57.9h0M19.2 51.7h0M38.8 44.4h0M16.2 41.3h0M8.7 28.0h0M36.6 37.4h0M12.4 45.3h0M28.8 52.2h0M13.7 51.8h0M38.3 33.9h0M18.3 34.9h0M16.6 54.1h0M24.6 42.7h0M29.9 38.7h0M20.1 54.0h0M22.0 20.6h0M39.8 8.6h0M15.9 46.1h0M16.0 45.7h0M20.9 62.0h0M27.0 43.8h0M17.0 29.8h0M24.3 22.9h0M47.8 27.7h0M11.2 43.6h0M36.3 41.4h0M10.8 45.4h0M36.8 25.2h0M31.7 10.8h0M16.2 49.6h0M31.2 64.2h0M27.5 46.3h0M16.1 46.9h0M26.7 29.2h0M32.5 22.9h0M15.4 24.9h0M8.5 32.6h0M20.8 59.3h0M8.5 33.9h0" stroke="#740a10"/>
</g>
<rect x="279.00" y="402.60" width="77.2" height="77.8" fill="none" stroke="#8c8c8c" stroke-width="0.8"/>
<text x="319.40" y="394.80" font-size="9.7" text-anchor="middle" fill="#111" >NK-iDC&#160;overlaid</text>
<g transform="translate(279.00 402.60)" stroke-width="1.15" stroke-linecap="square">
<path d="M74.3 45.4h0M17.5 57.6h0M57.9 53.8h0M72.2 36.7h0M49.3 60.6h0M71.3 47.7h0M67.5 55.9h0M49.7 52.2h0M57.3 49.1h0M64.6 47.2h0M39.3 36.9h0M53.5 55.1h0M64.7 48.9h0M71.0 47.1h0M53.6 54.1h0M56.4 55.3h0M70.0 32.0h0M58.3 33.4h0M59.7 39.9h0M37.2 47.2h0M65.4 37.4h0M63.1 50.5h0M61.2 32.0h0M63.4 36.4h0M50.3 63.8h0M67.0 48.3h0M66.0 34.3h0M41.8 57.6h0M59.3 51.0h0M12.5 39.8h0M42.9 48.9h0M73.5 43.0h0M68.9 48.9h0M70.4 52.4h0M56.1 52.8h0M65.8 53.0h0M34.5 43.8h0M42.7 55.0h0M69.4 32.0h0M54.2 49.2h0M52.7 52.8h0M67.7 54.4h0M63.3 52.1h0M50.0 57.4h0M66.4 56.2h0" stroke="#aadfe6"/>
<path d="M39.5 67.8h0M51.7 8.4h0M43.0 42.7h0M39.9 22.2h0M54.7 13.4h0M63.8 28.3h0M50.3 31.8h0M32.0 27.6h0M54.1 49.1h0M70.1 22.5h0M37.4 36.7h0M67.7 49.4h0M35.2 31.8h0M34.5 15.7h0M61.6 23.3h0M46.8 43.9h0M55.1 34.8h0M62.2 41.9h0M57.5 46.8h0M67.2 42.5h0M62.8 57.3h0M58.5 59.1h0M43.3 12.2h0M48.9 36.5h0M39.2 24.6h0M42.0 36.4h0M33.7 27.6h0M52.1 57.6h0M58.1 38.4h0M29.9 12.1h0M65.2 27.5h0M64.0 36.2h0M59.8 45.7h0M60.6 33.7h0M63.8 37.4h0M66.3 25.1h0M43.4 39.9h0M72.7 49.8h0M37.2 21.0h0M44.6 43.5h0M54.9 25.1h0M67.9 25.1h0M45.9 38.3h0M14.2 35.0h0M59.6 28.0h0M67.1 43.8h0M45.0 11.3h0M56.4 48.4h0M70.3 42.0h0M26.0 9.8h0M66.2 57.7h0M52.3 35.5h0M70.3 17.0h0M24.8 18.7h0M54.3 27.4h0M32.1 27.5h0M44.7 35.8h0M60.6 51.9h0M70.3 39.7h0M48.0 36.2h0M51.4 58.4h0M63.1 42.9h0M65.0 41.9h0M70.6 44.5h0M48.0 47.3h0M62.7 32.9h0M48.1 35.2h0M45.5 41.1h0M37.5 21.9h0M67.0 45.0h0M63.3 33.0h0M43.4 3.5h0M66.3 45.5h0M54.2 4.3h0M58.2 48.8h0M65.4 41.4h0M41.6 24.1h0M55.4 51.5h0M73.4 25.0h0M21.3 12.3h0M43.5 2.0h0M65.4 46.5h0M35.2 26.9h0M72.8 40.7h0M57.2 49.8h0M43.4 5.8h0M54.2 26.2h0M34.7 22.9h0M41.2 10.2h0M62.2 28.8h0M55.7 54.8h0M57.8 4.9h0M35.3 32.3h0M47.4 31.2h0M53.1 34.3h0M52.3 44.9h0M62.7 53.4h0M73.5 27.8h0M51.2 30.1h0M38.1 26.2h0M67.7 34.0h0M51.4 33.2h0M49.0 38.5h0M68.7 49.3h0M16.9 38.0h0M51.3 16.1h0M17.8 28.3h0M66.0 26.9h0M64.5 34.5h0M56.7 19.9h0M35.3 23.4h0M57.6 47.2h0M54.1 26.7h0M35.8 5.7h0M35.3 21.2h0M68.7 38.7h0M53.2 19.8h0M25.2 17.3h0M42.1 24.2h0M57.8 29.5h0M59.5 50.4h0M66.8 30.1h0M54.3 64.8h0M35.4 11.2h0M43.2 24.2h0M44.4 1.7h0M38.9 57.5h0" stroke="#6cc2ca"/>
<path d="M19.3 11.0h0M46.7 43.4h0M58.1 40.4h0M46.5 37.1h0M63.4 25.8h0M32.8 11.9h0M56.6 42.1h0M62.1 16.8h0M43.0 4.2h0M41.4 19.7h0M60.7 43.6h0M62.7 10.5h0M54.1 65.6h0M57.3 46.4h0M35.7 5.8h0M58.3 29.2h0M55.5 16.5h0M61.7 36.3h0M33.1 20.2h0M62.7 34.7h0M61.0 48.2h0M58.8 17.6h0M58.8 28.1h0M54.1 12.2h0M60.1 41.1h0M45.7 7.4h0M41.0 26.8h0M49.7 13.7h0M39.4 1.1h0M32.1 25.8h0M61.2 46.5h0M27.3 20.9h0M59.5 34.0h0M34.4 17.2h0M68.4 24.7h0M61.5 30.4h0M56.6 30.4h0M40.2 51.2h0M52.9 17.5h0M68.8 22.3h0M62.3 35.9h0M40.4 25.6h0M50.5 9.2h0M59.8 8.6h0M62.3 22.1h0M62.7 37.8h0M49.2 37.3h0M38.7 46.2h0M44.9 37.9h0M70.1 22.2h0M13.9 22.5h0M57.9 8.9h0M64.8 20.3h0M28.5 20.5h0M48.0 5.7h0M74.4 44.3h0M45.6 5.6h0M47.1 7.8h0M58.7 37.8h0M28.3 22.2h0M68.6 20.5h0M46.1 36.0h0M20.0 31.1h0M57.0 41.6h0M31.4 15.7h0M73.0 22.9h0M17.4 13.4h0M61.5 15.2h0M48.1 36.4h0M57.5 61.4h0M40.4 41.9h0M51.7 56.6h0M48.4 5.9h0M65.4 29.7h0M38.2 23.5h0M39.5 32.3h0M37.9 29.8h0M58.9 6.9h0M56.0 8.3h0M68.8 27.4h0M37.4 17.2h0M23.6 21.9h0M66.0 35.6h0M38.2 21.6h0M38.4 25.7h0M42.8 43.1h0M53.1 23.6h0M49.0 20.6h0M35.0 21.9h0M42.4 6.5h0M66.0 29.1h0M58.2 41.4h0M54.0 15.7h0M61.5 44.3h0M73.1 47.3h0M64.5 33.5h0M32.7 6.3h0M66.1 39.6h0M43.6 20.7h0M45.7 14.6h0M35.7 37.2h0M49.4 14.3h0M73.1 43.9h0M43.4 5.8h0M36.1 26.3h0M63.7 33.2h0M52.3 28.8h0M50.4 29.6h0M54.4 7.6h0M48.2 27.5h0M31.5 20.9h0M35.0 12.2h0M15.2 35.6h0M64.2 39.3h0M59.8 23.7h0M56.8 18.3h0M41.1 24.4h0M44.0 27.1h0M63.4 33.1h0M70.5 50.3h0M38.5 10.8h0M69.3 49.9h0M39.1 4.0h0M64.4 35.8h0M55.5 28.7h0M63.3 28.0h0M36.5 35.7h0M43.1 8.9h0M60.0 41.1h0M60.9 26.7h0M48.5 4.0h0M58.8 13.0h0M59.9 9.9h0M61.8 51.3h0M54.5 30.8h0M43.6 29.1h0M45.8 9.5h0M73.4 28.4h0M58.5 40.3h0M36.5 3.8h0M60.5 37.1h0M55.4 33.2h0M64.5 37.0h0M60.0 30.0h0M33.3 45.0h0M45.0 36.7h0M41.1 41.0h0M57.0 37.7h0M58.9 25.5h0M39.5 10.7h0M65.9 46.3h0M67.4 55.2h0M32.5 35.2h0M62.0 35.8h0M31.6 2.6h0M38.5 12.8h0M54.6 28.4h0M56.1 28.7h0M41.1 28.5h0M62.7 52.0h0M31.1 35.8h0M55.9 35.1h0M55.9 29.5h0M19.7 13.3h0M42.4 7.4h0M35.7 18.0h0M13.8 43.8h0M75.4 36.7h0M66.6 46.4h0M57.3 28.8h0" stroke="#3c9aa2"/>
<path d="M39.3 35.9h0M39.6 12.0h0M41.6 10.2h0M45.0 5.6h0M39.7 14.6h0M31.9 19.3h0M24.0 22.8h0M32.2 18.3h0M57.6 14.0h0M12.9 17.7h0M61.6 15.4h0M63.8 21.3h0M50.3 28.7h0M44.2 2.1h0M27.0 18.4h0M49.8 11.6h0M49.0 3.9h0M41.9 10.0h0M56.5 22.9h0M60.7 25.6h0M48.0 18.3h0M47.8 6.7h0M32.3 15.0h0M21.2 22.3h0M58.3 6.7h0M50.3 27.2h0M54.1 41.2h0M60.6 24.0h0M37.8 34.9h0M67.0 32.0h0M50.7 5.6h0M64.3 24.9h0M27.0 19.3h0M37.7 20.7h0M33.5 2.1h0M51.4 3.4h0M50.2 25.3h0M53.4 29.4h0M36.9 25.4h0M62.3 23.9h0M42.4 8.9h0M44.3 15.4h0M35.2 23.8h0M51.4 10.0h0M64.2 41.0h0M55.6 26.3h0M9.3 27.4h0M30.2 14.1h0M39.9 5.4h0M50.1 25.0h0M39.3 10.8h0M31.3 15.3h0M59.4 24.7h0M72.1 22.0h0M34.9 22.0h0M62.9 9.9h0M42.7 26.9h0M72.4 30.1h0M58.6 12.5h0M63.7 37.6h0M59.0 13.1h0M67.9 12.4h0M59.1 43.3h0M73.1 25.3h0M29.7 16.3h0M32.9 7.5h0M60.7 29.7h0M22.8 20.9h0M39.2 21.4h0M39.6 36.5h0M33.1 28.0h0M43.1 15.5h0M26.0 15.9h0M51.4 14.1h0M37.9 22.2h0M9.2 24.6h0M61.5 44.1h0M61.0 34.4h0M34.0 20.7h0M45.1 33.3h0M59.9 29.2h0M69.9 44.3h0M14.9 34.6h0M57.8 36.7h0M54.9 22.0h0M27.8 14.8h0M49.5 9.5h0M39.6 43.1h0M23.9 22.4h0M61.5 40.0h0M58.6 9.6h0M57.9 8.1h0M55.8 14.3h0M37.8 8.4h0M63.6 33.0h0M59.5 34.5h0M61.7 11.2h0M38.7 3.1h0M64.1 11.6h0M66.3 24.4h0M34.3 22.6h0M56.4 25.7h0M57.9 17.7h0M64.8 18.4h0M43.1 12.4h0M30.9 10.3h0M61.7 8.8h0M47.0 10.1h0M51.7 19.9h0M25.0 17.1h0M66.2 37.4h0M46.8 4.5h0M59.8 34.2h0M46.6 11.4h0M64.7 27.7h0M28.0 18.3h0M65.0 9.8h0M54.5 28.2h0M69.0 28.9h0M53.1 25.3h0M43.1 17.4h0M50.4 16.8h0" stroke="#24585a"/>
<path d="M42.8 50.2h0M68.3 48.2h0M48.5 52.1h0M67.6 49.5h0M52.7 54.3h0M55.0 57.6h0M71.0 46.8h0M70.7 47.0h0M59.4 53.9h0M60.8 49.7h0M68.9 49.8h0M67.6 28.3h0M32.2 64.5h0M39.6 30.2h0M36.4 29.1h0M53.0 60.2h0M68.7 49.3h0M48.9 58.8h0M46.2 51.6h0M46.7 41.1h0M52.7 51.6h0M59.6 50.7h0M41.9 43.1h0M38.7 31.1h0M72.9 50.1h0M57.9 32.2h0M64.5 51.5h0M72.4 49.2h0M58.3 50.4h0M25.5 56.5h0M33.6 31.0h0M67.6 44.7h0M61.2 33.8h0M65.7 55.9h0M59.9 32.3h0M39.8 33.8h0M50.7 31.8h0M60.6 32.7h0M19.4 32.4h0M46.1 48.4h0M73.3 47.9h0M66.0 53.6h0M50.8 60.9h0M47.1 47.2h0M38.0 26.7h0M53.8 59.6h0M65.3 53.1h0M67.8 27.1h0M65.4 51.9h0M53.6 50.4h0M68.0 47.3h0M51.6 39.3h0" stroke="#aadfe6"/>
<path d="M48.4 20.6h0M47.4 42.3h0M42.5 1.5h0M59.4 13.5h0M36.5 25.8h0M60.3 36.3h0M54.8 7.7h0M50.5 14.0h0M48.6 32.7h0M71.4 49.6h0M16.0 35.3h0M48.9 48.2h0M57.8 40.0h0M52.5 18.3h0M41.8 24.0h0M58.4 18.6h0M60.3 39.3h0M62.1 14.6h0M27.7 26.4h0M38.3 41.6h0M61.1 19.3h0M64.8 55.8h0M38.4 35.5h0M45.1 42.2h0M58.0 59.6h0M51.3 54.6h0M34.6 31.4h0M72.0 28.5h0M57.2 49.2h0M33.2 39.1h0M58.5 45.3h0M29.2 14.8h0M52.5 17.5h0M18.9 48.3h0M20.3 22.6h0M69.8 25.5h0M39.3 24.4h0M66.9 30.4h0M53.5 35.0h0M71.9 49.0h0M60.9 34.5h0M59.2 56.0h0M20.0 14.7h0M57.8 30.8h0M44.3 40.7h0M31.6 35.0h0M59.0 37.9h0M65.0 37.7h0M61.0 58.4h0M21.1 31.6h0M41.7 37.3h0M24.5 23.8h0M19.1 38.0h0M34.1 37.1h0M67.6 28.5h0M37.8 20.7h0M19.8 41.2h0M67.6 36.0h0M64.8 33.4h0M33.4 24.2h0M67.1 27.4h0M50.7 8.0h0M48.7 27.4h0M37.3 10.8h0M56.9 15.5h0M40.2 24.0h0M35.9 24.5h0M44.2 29.1h0M54.9 55.5h0M70.9 26.2h0M71.0 22.4h0M70.1 19.6h0M50.1 34.4h0M63.9 33.6h0M66.8 48.3h0M49.7 59.9h0M62.3 26.6h0M38.9 11.2h0M60.6 49.3h0M56.8 32.4h0M41.9 44.5h0M62.4 18.9h0M64.8 30.8h0M22.9 9.9h0M38.1 26.6h0M61.5 35.8h0M72.1 51.5h0M65.2 29.3h0M50.3 13.8h0M43.2 19.0h0M33.2 11.6h0M54.6 9.2h0M66.6 46.6h0M24.5 28.8h0M47.4 43.3h0M51.3 12.6h0M41.3 21.3h0M42.6 18.1h0M63.6 46.3h0" stroke="#6cc2ca"/>
<path d="M50.7 54.0h0M38.3 5.5h0M36.0 36.6h0M40.4 15.6h0M62.0 45.8h0M60.8 33.5h0M63.2 27.6h0M51.7 15.0h0M63.2 31.6h0M34.2 21.0h0M66.9 28.1h0M53.3 38.1h0M44.4 32.1h0M60.9 23.3h0M61.7 28.0h0M39.4 35.6h0M43.8 9.2h0M68.8 33.6h0M57.6 32.3h0M33.6 25.1h0M68.3 25.2h0M47.9 4.7h0M45.3 6.6h0M49.4 17.0h0M54.9 15.2h0M53.4 38.9h0M38.0 31.1h0M54.5 12.7h0M71.7 45.1h0M72.0 43.1h0M63.7 32.8h0M37.3 15.6h0M73.5 43.9h0M32.6 17.1h0M50.2 7.4h0M26.9 16.0h0M17.9 16.2h0M33.1 40.6h0M39.5 44.4h0M59.9 28.8h0M37.7 18.5h0M54.9 18.5h0M50.4 15.9h0M46.6 6.1h0M35.7 37.0h0M44.7 18.1h0M62.6 38.0h0M43.6 3.1h0M34.0 15.6h0M57.6 45.7h0M50.9 27.1h0M59.3 29.7h0M63.1 29.7h0M46.3 3.3h0M60.0 42.6h0M63.0 32.6h0M67.8 29.6h0M61.8 26.1h0M59.1 25.7h0M62.8 37.0h0M52.1 5.9h0M30.4 20.3h0M36.6 17.8h0M48.7 38.1h0M49.0 15.8h0M25.8 18.4h0M40.0 15.7h0M40.1 19.2h0M60.6 52.3h0M39.7 9.8h0M52.4 10.0h0M33.5 2.7h0M14.3 29.4h0M46.7 12.4h0M48.4 65.1h0M43.2 17.0h0M39.0 31.4h0M38.5 60.2h0M72.9 46.6h0M64.2 31.1h0M66.6 20.9h0M46.5 7.0h0M26.3 11.5h0M41.6 18.9h0M60.8 28.5h0M39.5 26.1h0M49.0 27.9h0M61.3 27.3h0M51.4 19.3h0M55.7 28.2h0M38.8 19.9h0M46.6 16.4h0M35.2 6.8h0M32.9 30.8h0M45.3 39.8h0M51.5 35.8h0M48.5 65.8h0M37.8 28.9h0M39.4 4.4h0M48.7 27.7h0M42.6 23.8h0M72.0 45.1h0M54.1 27.9h0M37.3 27.7h0M64.6 54.7h0M59.0 11.4h0M34.7 32.4h0M60.6 10.0h0M43.0 60.8h0M60.5 13.8h0M31.6 28.7h0M50.1 7.0h0M38.9 6.7h0M55.9 14.7h0M65.7 26.4h0M38.2 30.5h0M56.6 4.4h0M48.4 4.3h0M21.6 12.9h0M63.7 50.5h0M65.7 44.4h0M32.1 16.9h0M70.2 51.3h0M34.6 33.3h0M48.8 4.4h0M63.1 41.7h0M25.0 14.5h0M49.1 16.0h0M54.2 32.5h0M36.1 16.1h0M46.9 3.5h0M54.8 7.2h0M67.9 22.2h0M62.1 47.2h0M42.8 4.5h0M58.1 46.3h0M57.6 20.1h0M40.1 43.3h0M41.5 40.5h0M67.8 30.8h0M37.2 33.3h0M38.0 21.9h0M58.9 15.4h0M59.9 54.8h0M32.7 26.9h0M48.0 31.8h0M37.5 23.1h0M65.8 44.4h0M25.7 19.6h0M73.3 38.9h0M64.3 34.3h0M62.1 31.6h0M64.5 28.5h0M65.1 40.3h0M72.0 43.1h0M66.9 27.0h0M58.0 50.4h0M49.6 21.9h0M30.1 26.3h0M50.4 28.2h0M46.4 6.0h0M19.4 20.2h0M58.0 36.1h0" stroke="#3c9aa2"/>
<path d="M53.0 31.9h0M21.4 19.0h0M42.3 17.6h0M45.2 35.8h0M34.7 3.9h0M44.0 10.8h0M57.5 46.2h0M53.2 16.9h0M46.2 10.3h0M72.7 24.2h0M31.9 32.4h0M42.1 9.0h0M32.6 22.0h0M57.6 18.6h0M43.5 13.1h0M38.3 26.0h0M67.7 21.8h0M51.4 28.9h0M56.4 9.2h0M47.5 7.0h0M33.9 35.1h0M53.9 15.3h0M60.3 8.2h0M53.4 28.8h0M44.0 40.2h0M21.3 16.0h0M61.0 11.3h0M55.8 16.4h0M46.5 28.5h0M67.7 30.6h0M57.9 17.8h0M50.7 8.5h0M43.3 41.4h0M54.4 7.6h0M64.4 14.5h0M53.9 19.4h0M67.8 20.9h0M57.5 19.7h0M40.1 4.6h0M27.4 17.7h0M13.9 16.9h0M55.0 25.7h0M55.1 24.7h0M60.9 45.0h0M49.4 34.5h0M34.6 25.7h0M44.4 15.5h0M21.7 17.0h0M20.0 20.8h0M43.4 28.7h0M40.8 24.6h0M60.9 8.9h0M26.1 12.6h0M57.2 29.9h0M59.6 26.3h0M42.5 6.8h0M60.7 10.5h0M38.5 29.9h0M35.3 30.9h0M59.7 7.3h0M49.7 12.7h0M66.1 20.7h0M30.2 16.3h0M37.5 18.7h0M55.3 16.4h0M52.8 10.5h0M52.7 16.1h0M37.4 6.7h0M53.1 4.5h0M47.7 1.1h0M48.4 1.3h0M30.8 24.8h0M53.7 39.5h0M64.3 28.7h0M64.4 33.0h0M40.7 10.7h0M36.5 0.8h0M26.4 18.5h0M67.9 39.7h0M53.7 21.6h0M47.8 11.6h0M52.6 28.4h0M65.6 30.7h0M53.2 26.0h0M56.0 13.7h0M35.8 21.2h0M56.9 16.9h0M72.0 23.9h0M37.1 2.0h0M46.4 9.5h0M34.9 12.0h0M61.9 33.1h0M14.9 12.5h0M34.1 20.8h0M37.1 22.1h0M66.4 24.0h0M39.6 11.8h0M38.0 18.0h0M38.0 23.8h0M60.1 11.2h0M47.2 9.3h0M47.0 32.3h0M56.7 21.5h0M39.8 10.4h0M50.0 9.7h0M20.1 23.4h0M49.1 35.4h0M39.4 14.9h0M44.9 29.1h0M47.1 1.4h0M46.8 16.0h0M63.0 25.8h0M52.9 8.6h0M47.7 13.5h0M57.2 11.3h0M71.5 28.7h0M57.1 17.2h0M61.2 29.0h0M12.7 17.8h0M47.5 36.6h0M35.6 26.9h0M42.7 4.3h0M30.6 37.8h0M35.6 22.6h0M66.2 43.6h0M53.4 17.1h0M62.4 43.3h0M55.0 14.3h0M34.7 7.5h0M61.2 32.0h0M49.0 23.1h0M35.5 23.4h0M44.2 20.0h0M32.4 14.9h0M44.8 3.0h0M31.4 15.4h0M51.8 26.1h0M42.5 1.3h0M58.3 8.6h0M16.5 27.3h0M59.6 8.6h0M31.9 15.9h0M52.6 17.5h0M68.8 26.8h0M61.4 28.6h0M60.6 23.2h0M50.0 14.8h0M62.6 21.0h0M36.6 42.3h0" stroke="#24585a"/>
<path d="M68.3 50.5h0M43.3 39.8h0M57.4 48.1h0M38.5 51.7h0M35.9 26.9h0M60.2 55.8h0M55.9 48.5h0M68.9 52.3h0M56.3 50.7h0M65.0 50.4h0M45.3 47.1h0M52.4 64.2h0M35.2 34.4h0M53.6 60.0h0M59.9 39.1h0M65.3 52.9h0M46.5 48.7h0M63.8 49.2h0M64.3 53.5h0M54.3 54.6h0M60.2 33.4h0M65.1 28.1h0M62.0 53.1h0M54.5 53.2h0M65.2 32.3h0M63.1 53.5h0M53.0 62.3h0M71.4 46.8h0M66.3 40.2h0M63.7 48.4h0M53.4 67.0h0M71.5 47.0h0M51.5 52.6h0M48.8 53.6h0M40.3 29.3h0M43.6 27.4h0M71.6 43.2h0M58.8 50.6h0M46.1 34.9h0M65.2 29.4h0M44.3 51.0h0M65.9 45.6h0M65.5 50.9h0M73.6 27.3h0" stroke="#aadfe6"/>
<path d="M21.4 18.2h0M69.8 51.1h0M72.9 46.2h0M32.8 7.2h0M63.9 41.9h0M48.2 5.2h0M53.2 54.8h0M47.6 32.7h0M21.1 25.8h0M44.4 5.8h0M63.4 55.5h0M41.0 26.9h0M43.2 34.0h0M56.2 31.2h0M44.7 35.8h0M67.4 25.3h0M64.6 34.5h0M68.2 24.7h0M46.5 4.9h0M45.4 11.4h0M43.3 52.5h0M62.2 25.1h0M39.5 8.1h0M58.5 45.9h0M35.1 20.5h0M58.6 14.6h0M32.1 2.3h0M45.7 8.4h0M53.4 30.4h0M44.2 1.7h0M40.1 48.1h0M68.8 47.6h0M40.9 33.8h0M37.2 8.6h0M45.1 58.5h0M45.1 1.4h0M59.7 17.4h0M40.3 35.6h0M43.9 4.7h0M33.1 17.1h0M26.9 14.5h0M51.8 56.7h0M66.7 48.1h0M57.0 17.7h0M30.6 17.6h0M59.7 26.7h0M68.7 34.8h0M52.7 19.0h0M63.7 49.8h0M41.5 3.6h0M43.5 11.2h0M67.3 38.2h0M62.4 41.8h0M51.4 35.0h0M74.1 27.6h0M58.8 33.3h0M40.4 35.4h0M55.3 21.1h0M66.2 39.8h0M54.9 66.0h0M61.8 44.2h0M23.0 20.4h0M69.2 31.3h0M39.4 6.3h0M37.0 43.2h0M60.7 56.2h0M59.6 22.9h0M54.7 58.6h0M61.0 34.2h0M51.7 15.1h0M59.9 54.7h0M60.4 9.7h0M28.2 7.1h0M60.4 42.1h0M65.4 33.2h0M47.2 1.1h0M63.9 32.8h0M74.3 42.6h0M64.2 48.9h0M49.5 50.5h0M60.9 31.5h0M43.9 45.9h0M55.0 26.2h0M48.7 27.2h0M40.5 51.2h0M22.7 19.7h0M60.1 49.0h0M57.5 22.1h0M60.0 48.5h0M56.1 16.9h0M61.5 55.5h0M64.7 27.2h0M48.5 34.8h0M71.5 22.7h0M45.5 28.4h0M59.9 50.0h0M57.0 34.0h0M62.0 31.6h0M63.4 20.9h0M32.4 32.3h0M55.5 54.1h0M58.1 44.9h0M29.1 21.2h0M49.9 36.4h0M39.8 16.8h0M33.3 22.6h0M59.0 27.2h0M51.0 52.5h0M56.2 31.2h0M21.4 36.2h0M52.2 27.6h0M60.1 26.5h0M59.5 16.6h0M59.7 6.9h0M62.4 45.4h0M60.9 47.8h0M54.8 58.5h0M58.9 56.4h0M66.8 32.8h0M66.4 29.5h0M52.3 24.3h0M33.8 15.8h0M53.8 27.1h0" stroke="#6cc2ca"/>
<path d="M60.3 27.9h0M35.5 36.8h0M38.9 53.0h0M62.9 29.4h0M44.7 39.0h0M43.4 36.5h0M40.8 15.6h0M29.1 26.8h0M27.0 24.1h0M41.2 45.1h0M56.1 12.6h0M66.6 53.4h0M58.7 41.8h0M40.0 25.1h0M32.4 21.1h0M64.9 23.0h0M60.1 28.0h0M30.8 38.9h0M60.1 38.6h0M73.3 45.5h0M39.3 20.3h0M52.6 15.1h0M56.9 34.4h0M68.1 26.6h0M59.8 44.8h0M20.7 32.2h0M33.3 12.5h0M18.0 39.1h0M56.9 36.7h0M63.0 42.1h0M60.4 31.1h0M45.2 7.6h0M23.3 21.3h0M65.1 12.7h0M56.8 11.8h0M67.9 53.7h0M55.0 28.1h0M55.5 4.9h0M24.8 26.4h0M47.3 4.6h0M29.6 6.4h0M27.5 16.3h0M56.9 14.7h0M56.8 25.2h0M57.1 27.3h0M27.4 28.9h0M60.6 31.0h0M37.7 26.4h0M61.0 22.3h0M37.4 14.8h0M69.0 30.4h0M50.1 33.6h0M69.9 27.0h0M55.9 27.4h0M57.0 60.5h0M65.6 14.4h0M31.3 5.8h0M57.7 27.7h0M46.3 36.6h0M20.1 36.9h0M58.7 31.3h0M61.4 47.8h0M76.1 39.7h0M12.2 31.2h0M54.1 41.8h0M24.4 17.5h0M67.2 47.0h0M59.0 18.7h0M29.4 11.7h0M21.9 44.7h0M53.5 28.3h0M56.6 33.6h0M69.6 28.5h0M23.3 17.2h0M59.5 31.2h0M33.5 3.4h0M59.8 45.5h0M42.9 20.9h0M64.6 42.6h0M47.5 30.1h0M34.1 23.5h0M52.9 62.4h0M63.8 42.5h0M60.5 28.3h0M58.6 9.3h0M41.3 9.7h0M34.5 39.5h0M68.0 20.8h0M35.5 23.1h0M55.4 51.3h0M60.6 13.1h0M22.6 33.7h0M42.3 14.1h0M67.5 24.0h0M31.7 15.5h0M41.0 4.5h0M40.6 41.6h0M54.6 11.4h0M47.0 30.4h0M41.0 30.6h0M38.1 67.8h0M62.1 49.2h0M65.2 41.7h0M34.0 23.3h0M67.6 52.2h0M62.8 21.4h0M40.6 20.3h0M55.8 18.3h0M42.5 12.1h0M62.8 41.6h0M19.8 30.8h0M59.9 32.5h0M52.1 32.1h0M49.0 31.6h0M63.1 27.3h0M66.7 30.0h0M27.3 19.7h0M53.8 14.8h0M40.9 31.4h0M58.2 54.3h0M39.8 23.3h0M56.8 25.0h0M60.9 11.3h0M73.4 25.5h0M48.1 11.1h0M69.7 31.1h0M31.0 11.0h0M29.2 39.4h0M35.7 8.4h0M27.4 19.9h0M53.6 24.2h0M54.0 30.0h0M32.5 40.7h0M49.4 11.2h0M57.0 28.6h0M49.1 38.1h0M60.3 46.5h0M69.2 38.2h0M31.0 24.5h0M53.2 31.9h0M49.1 18.7h0M57.8 35.9h0M64.4 39.0h0M58.5 42.5h0M32.8 28.2h0M66.4 39.2h0M63.4 31.3h0M59.5 10.6h0M58.1 44.3h0M34.8 30.1h0M46.7 8.7h0M28.2 22.2h0M56.2 45.6h0M39.8 5.3h0M69.0 43.8h0M38.4 22.1h0" stroke="#3c9aa2"/>
<path d="M59.8 8.5h0M54.6 14.1h0M34.9 41.7h0M21.4 29.6h0M52.7 16.7h0M62.0 29.1h0M56.4 16.7h0M64.5 42.5h0M56.8 17.7h0M25.7 16.1h0M72.6 42.4h0M23.8 28.9h0M39.7 2.6h0M27.0 17.8h0M65.1 28.4h0M64.4 24.1h0M53.9 15.1h0M48.9 32.8h0M61.7 38.7h0M45.0 7.9h0M49.6 24.8h0M27.2 16.4h0M33.5 6.4h0M36.1 41.8h0M64.0 19.4h0M58.1 46.0h0M45.3 17.4h0M35.4 12.7h0M46.2 6.2h0M18.3 46.3h0M27.8 15.8h0M46.3 12.2h0M38.7 1.4h0M26.9 23.7h0M60.8 20.6h0M51.1 30.0h0M45.9 42.5h0M63.9 42.4h0M49.8 24.2h0M41.6 21.2h0M42.2 21.2h0M58.4 28.0h0M66.6 18.8h0M46.0 5.2h0M40.9 18.7h0M60.7 8.1h0M52.8 18.0h0M63.9 22.9h0M51.9 34.4h0M25.4 17.8h0M59.6 12.8h0M25.9 21.9h0M57.5 24.4h0M28.6 25.1h0M40.8 8.6h0M58.9 31.8h0M38.0 19.8h0M41.0 14.7h0M35.2 24.6h0M63.7 22.2h0M70.7 25.2h0M45.5 21.9h0M68.7 30.1h0M46.4 17.9h0M35.5 17.2h0M63.8 33.0h0M38.1 4.7h0M37.9 21.7h0M63.8 40.5h0M26.6 15.8h0M47.0 3.9h0M62.6 37.2h0M46.9 10.3h0M22.4 14.1h0M48.3 3.5h0M67.8 29.2h0M52.0 10.3h0M43.6 8.1h0M31.9 24.7h0M37.1 20.4h0M35.1 5.5h0M30.4 18.2h0M43.4 3.2h0M32.3 4.1h0M40.9 3.9h0M69.3 25.7h0M52.1 17.9h0M68.1 13.5h0M59.5 14.1h0M36.3 21.1h0M62.5 24.1h0M57.3 11.4h0M64.2 21.3h0M48.7 27.2h0M46.7 10.4h0M62.5 8.9h0M39.6 17.2h0M29.6 12.7h0M39.3 10.5h0M43.9 8.6h0M28.8 5.4h0M38.4 29.5h0M61.2 14.3h0M43.1 10.5h0M22.5 22.7h0M71.4 44.1h0M49.9 13.1h0M56.8 6.1h0M37.3 18.9h0M39.0 7.9h0M45.5 6.1h0M31.8 6.4h0M18.1 17.5h0M59.5 8.3h0M56.5 20.8h0M66.3 46.5h0M21.2 17.0h0M43.7 7.3h0M52.5 11.0h0M61.7 9.0h0M50.2 18.0h0M23.5 20.3h0M65.5 28.5h0M65.8 43.2h0M37.5 23.9h0M55.7 8.2h0M30.2 14.8h0M30.7 16.3h0M36.4 25.4h0M40.8 19.6h0M44.1 13.1h0M42.9 25.4h0M50.7 17.9h0M55.1 31.6h0M26.8 23.1h0M34.8 16.8h0M62.9 24.6h0M56.0 11.2h0M44.0 44.7h0M14.2 24.9h0" stroke="#24585a"/>
</g>
<rect x="369.6" y="401.3" width="9.9" height="78.2" fill="#fff" stroke="#a0a0a0" stroke-width="0.7"/>
<rect x="371.10" y="403.10" width="6.80" height="6.40" fill="#6e0a12" />
<text x="383.50" y="409.10" font-size="7.8" fill="#111" >Donor&#160;1&#160;DC</text>
<line x1="369.60" y1="411.15" x2="379.50" y2="411.15" stroke="#b0b0b0" stroke-width="0.6" />
<rect x="371.10" y="412.80" width="6.80" height="6.40" fill="#b30813" />
<text x="383.50" y="418.80" font-size="7.8" fill="#111" >Donor&#160;2&#160;DC</text>
<line x1="369.60" y1="420.85" x2="379.50" y2="420.85" stroke="#b0b0b0" stroke-width="0.6" />
<rect x="371.10" y="422.50" width="6.80" height="6.40" fill="#e0140e" />
<text x="383.50" y="428.50" font-size="7.8" fill="#111" >Donor&#160;3&#160;DC</text>
<line x1="369.60" y1="430.55" x2="379.50" y2="430.55" stroke="#b0b0b0" stroke-width="0.6" />
<rect x="371.10" y="432.20" width="6.80" height="6.40" fill="#e88a8a" />
<text x="383.50" y="438.20" font-size="7.8" fill="#111" >Donor&#160;4&#160;DC</text>
<line x1="369.60" y1="440.25" x2="379.50" y2="440.25" stroke="#b0b0b0" stroke-width="0.6" />
<rect x="371.10" y="441.90" width="6.80" height="6.40" fill="#2e5553" />
<text x="383.50" y="447.90" font-size="7.8" fill="#111" >Donor&#160;1&#160;NK-DC</text>
<line x1="369.60" y1="449.95" x2="379.50" y2="449.95" stroke="#b0b0b0" stroke-width="0.6" />
<rect x="371.10" y="451.60" width="6.80" height="6.40" fill="#5a9ea0" />
<text x="383.50" y="457.60" font-size="7.8" fill="#111" >Donor&#160;2&#160;NK-DC</text>
<line x1="369.60" y1="459.65" x2="379.50" y2="459.65" stroke="#b0b0b0" stroke-width="0.6" />
<rect x="371.10" y="461.30" width="6.80" height="6.40" fill="#78c5cc" />
<text x="383.50" y="467.30" font-size="7.8" fill="#111" >Donor&#160;3&#160;NK-DC</text>
<line x1="369.60" y1="469.35" x2="379.50" y2="469.35" stroke="#b0b0b0" stroke-width="0.6" />
<rect x="371.10" y="471.00" width="6.80" height="6.40" fill="#b5e3e8" />
<text x="383.50" y="477.00" font-size="7.8" fill="#111" >Donor&#160;4&#160;NK-DC</text>
<path d="M75.5 465V490H100" fill="none" stroke="#000" stroke-width="1"/>
<line x1="75.50" y1="475.00" x2="75.50" y2="465.20" stroke="#000" stroke-width="1.0" />
<path d="M75.50 461.00L77.50 465.20L73.50 465.20z" fill="#000"/>
<line x1="90.00" y1="490.00" x2="99.80" y2="490.00" stroke="#000" stroke-width="1.0" />
<path d="M104.00 490.00L99.80 492.00L99.80 488.00z" fill="#000"/>
<text x="78.90" y="446.90" font-size="8.8" text-anchor="middle" font-weight="bold" fill="#111" textLength="21" lengthAdjust="spacingAndGlyphs" transform="rotate(-90 78.90 446.90)" >tSNE&#160;Y</text>
<text x="107.60" y="493.20" font-size="8.8" font-weight="bold" fill="#111" textLength="22.8" lengthAdjust="spacingAndGlyphs" >tSNE&#160;&#160;X</text>
<text x="174.30" y="523.20" font-size="9.6" fill="#111" textLength="187" lengthAdjust="spacingAndGlyphs" >Concatenated&#160;HLA-DR<tspan dy="-2.98" font-size="6.72">+</tspan><tspan dy="2.98">&#160;CD14</tspan><tspan dy="-2.98" font-size="6.72">lo</tspan><tspan dy="2.98">&#160;IL-15RA</tspan><tspan dy="-2.98" font-size="6.72">+</tspan></text>
<line x1="24.50" y1="528.30" x2="507.50" y2="528.30" stroke="#000" stroke-width="1.1" />
<rect x="22.20" y="546.6" width="60.3" height="59.9" fill="none" stroke="#999" stroke-width="0.8"/>
<text x="52.35" y="542.10" font-size="8.5" text-anchor="middle" fill="#111" textLength="29.5" lengthAdjust="spacingAndGlyphs" >HLA-DR</text>
<g transform="translate(22.20 546.60)" stroke-width=".95" stroke-linecap="square">
<path d="M43.7 22.9h0M45.0 19.5h0M53.8 37.5h0M52.3 11.0h0M19.1 46.4h0M34.2 33.9h0M48.5 34.6h0M46.3 24.3h0M36.1 40.7h0M50.3 12.2h0M26.2 49.5h0M49.2 18.7h0M24.2 45.1h0M25.6 46.6h0M45.0 29.1h0M32.7 29.7h0M13.9 21.0h0M55.6 27.0h0M44.0 6.2h0M26.5 8.9h0M13.7 27.4h0M49.4 15.9h0M27.0 49.0h0M27.0 3.9h0M58.6 27.4h0M33.6 25.6h0M24.9 4.0h0M40.9 28.7h0M32.8 32.3h0M53.4 19.7h0M29.3 21.7h0M21.1 47.3h0M28.2 3.0h0M18.8 24.8h0M38.8 31.4h0M29.6 2.7h0M42.5 23.2h0M43.5 17.9h0M10.8 18.9h0M54.5 19.1h0M43.6 31.3h0M38.5 50.5h0M43.9 36.8h0M30.8 39.0h0M9.7 21.7h0M42.6 20.2h0M39.5 24.6h0M41.9 34.8h0M10.1 24.7h0M45.4 38.9h0M26.3 1.4h0M25.1 18.5h0M18.5 46.3h0M30.0 41.4h0M23.3 45.5h0M48.8 26.2h0M45.5 17.4h0M19.3 18.3h0M6.5 26.6h0M46.1 15.2h0M41.1 39.9h0M18.1 12.0h0M30.1 4.8h0M42.0 28.3h0M22.8 3.9h0M35.8 4.4h0M26.8 25.7h0M50.2 10.5h0M35.1 3.3h0M33.4 29.9h0M30.9 11.2h0M38.6 22.9h0M44.2 9.1h0M37.0 5.2h0M13.4 29.3h0M45.8 43.6h0M54.5 19.7h0M47.9 27.7h0M51.5 14.1h0M27.8 44.2h0M52.7 17.5h0M25.1 16.3h0M48.6 17.8h0M28.5 9.5h0M54.5 13.0h0M36.7 27.0h0M10.6 12.0h0M45.5 34.7h0M42.8 33.5h0M59.3 28.7h0M23.9 35.1h0M51.4 23.2h0M22.9 36.0h0M42.5 30.8h0M34.1 42.9h0M23.1 8.2h0M28.9 7.9h0M48.3 43.3h0M31.2 24.9h0M34.9 21.6h0M29.8 42.8h0M12.7 40.2h0M35.3 1.0h0M9.0 27.9h0M15.2 17.7h0M53.9 15.0h0M27.5 9.3h0M46.5 10.4h0M36.9 26.9h0M39.9 30.9h0M49.6 29.8h0M24.3 51.5h0M11.2 13.8h0M29.4 6.6h0M45.4 29.6h0M34.3 9.0h0M16.8 6.4h0M30.1 4.9h0M15.0 40.2h0M35.8 26.0h0M18.4 46.6h0M39.6 10.7h0M48.1 39.5h0M13.8 12.8h0M28.0 41.3h0M54.8 20.1h0M30.2 41.0h0M17.9 10.1h0M42.7 17.8h0M49.5 8.3h0M23.0 51.1h0M26.7 42.7h0M46.7 31.3h0M38.6 50.5h0M27.3 43.7h0M19.2 15.3h0M29.5 19.3h0M41.9 29.9h0M47.5 29.8h0M52.9 40.5h0M42.4 34.3h0M39.7 26.3h0M54.1 18.6h0M55.4 39.0h0M27.1 34.8h0M22.7 46.3h0M21.0 48.6h0M37.6 24.2h0M13.1 27.4h0M23.0 46.1h0M29.5 22.7h0M6.4 18.7h0M6.3 23.4h0M42.1 26.5h0M20.2 46.9h0M21.5 47.4h0M49.1 29.1h0M6.9 23.7h0M41.7 8.2h0M31.5 42.5h0M44.7 24.9h0M41.6 32.1h0M10.6 27.5h0M39.0 5.2h0M32.9 37.9h0M42.7 18.8h0M8.7 18.6h0M23.6 16.8h0" stroke="#dc3c14"/>
<path d="M47.7 32.1h0M29.3 35.0h0M25.1 15.7h0M47.4 29.9h0M25.5 10.5h0M10.6 28.8h0M17.9 16.0h0M47.0 30.3h0M9.2 30.6h0M37.8 32.2h0M41.0 23.4h0M50.8 21.3h0M34.7 43.1h0M32.2 53.6h0M51.8 42.4h0M46.5 49.1h0M34.4 34.9h0M53.3 35.8h0M27.1 52.5h0M25.2 40.2h0M33.8 27.0h0M10.0 27.9h0M28.1 5.9h0M35.9 2.7h0M21.6 14.8h0M32.3 32.8h0M6.0 23.5h0M13.1 22.9h0M39.8 32.2h0M33.1 28.6h0M42.0 23.8h0M50.2 29.1h0M30.2 15.5h0M22.9 46.4h0M22.5 22.4h0M7.0 27.8h0M13.4 29.5h0M47.6 26.3h0M32.2 34.6h0M34.3 10.3h0M29.8 41.7h0M45.4 43.8h0M31.8 25.7h0M57.8 27.5h0M32.0 3.0h0M43.9 32.3h0M37.1 38.0h0M26.1 46.0h0M33.1 11.8h0M31.1 0.9h0M35.4 3.1h0M55.7 21.5h0M36.3 34.2h0M45.7 36.1h0M37.9 45.8h0M47.9 28.6h0M14.0 44.3h0M13.4 27.5h0M25.3 47.2h0M35.4 34.1h0M17.8 19.3h0M54.7 26.4h0M21.7 44.8h0M36.7 32.0h0M14.4 45.7h0M40.9 23.6h0M7.6 28.1h0M17.6 38.5h0M26.5 35.9h0M22.1 24.0h0M40.8 41.9h0M44.3 7.9h0M32.3 24.5h0M14.8 29.9h0M22.6 50.0h0M29.7 35.6h0M54.0 14.2h0M6.7 21.6h0M29.0 39.8h0M48.4 32.2h0M48.0 39.9h0M37.8 8.0h0M15.3 10.1h0M42.0 37.1h0M39.4 17.6h0M40.6 9.2h0M57.7 30.8h0M31.8 36.2h0M25.3 20.6h0M19.1 28.1h0M29.7 36.8h0M49.2 10.1h0M34.9 40.7h0M17.7 46.9h0M19.6 5.4h0M29.9 13.2h0M15.2 48.1h0M34.8 21.3h0M39.5 29.1h0M11.0 18.2h0M32.6 43.5h0M24.7 5.4h0M42.7 42.7h0M43.3 22.9h0M37.7 42.5h0M41.0 34.1h0M28.0 6.3h0M29.2 51.3h0M47.0 32.0h0M39.8 49.1h0M15.3 45.1h0M49.0 38.3h0M40.2 34.1h0M13.1 25.6h0M24.1 2.9h0M54.9 35.3h0M31.2 28.3h0M39.0 18.7h0M38.4 42.3h0M8.6 37.1h0M8.8 18.3h0M49.3 30.0h0M23.6 13.6h0M40.9 5.5h0M15.3 38.3h0M36.9 43.9h0M19.2 21.1h0M39.9 45.5h0M42.6 42.3h0M50.5 30.0h0M25.7 27.6h0M26.5 2.5h0M23.6 50.5h0M7.4 24.1h0M23.8 7.8h0M33.7 41.0h0M44.1 14.1h0M55.4 15.4h0M24.4 46.6h0M46.1 17.2h0M44.2 49.6h0M35.4 3.6h0M40.8 9.7h0M7.8 34.5h0M39.4 22.0h0M36.7 28.1h0M36.0 43.4h0M28.1 49.2h0M24.4 22.4h0M42.4 16.9h0M24.7 9.4h0M54.3 26.3h0M55.6 18.7h0M50.2 29.1h0M52.6 44.5h0M25.5 4.1h0M49.6 22.0h0M29.0 50.8h0M10.6 36.6h0M26.3 27.5h0M16.3 17.9h0M34.0 31.9h0M56.8 24.0h0M40.9 8.3h0M47.0 33.7h0M12.5 16.6h0M24.8 9.1h0M37.9 23.8h0M40.8 26.2h0M29.6 24.3h0M23.0 2.8h0M45.2 26.6h0M29.1 13.7h0M22.3 44.8h0M36.5 33.5h0M49.7 27.2h0M41.5 40.4h0M8.4 24.8h0M45.6 42.2h0M32.6 6.2h0M47.5 15.2h0M40.9 30.6h0M27.8 41.1h0M48.3 10.3h0M30.9 2.5h0M12.3 28.6h0M33.5 25.6h0M51.5 22.5h0M13.2 34.7h0M42.5 21.7h0M14.0 23.5h0M41.6 18.4h0M48.0 10.1h0M46.7 20.5h0M26.0 39.0h0M24.8 42.0h0M45.8 35.0h0M57.8 25.8h0M48.4 24.8h0M20.2 26.4h0M46.0 32.6h0M10.0 20.6h0M54.2 14.3h0M26.7 44.8h0M31.8 12.9h0M25.0 13.5h0M38.0 44.3h0M8.8 35.5h0M16.1 21.7h0M53.5 39.8h0M47.7 21.5h0M44.0 27.6h0M34.2 14.8h0M41.0 17.7h0M48.1 45.9h0M47.8 25.2h0M17.4 47.9h0M23.2 37.0h0M37.7 9.5h0M54.6 35.9h0M41.1 45.5h0M42.3 19.0h0M23.7 11.9h0M22.8 8.7h0M51.3 21.5h0M6.7 28.9h0M52.7 35.5h0M20.9 46.5h0M48.3 34.5h0M49.3 7.4h0M45.0 34.8h0M23.0 24.4h0M40.3 35.9h0M37.0 29.9h0M20.2 49.2h0M41.5 30.4h0M6.9 21.0h0M13.3 45.3h0M27.7 32.3h0M53.1 18.8h0M26.4 36.4h0M36.6 34.1h0M38.5 46.1h0M29.3 24.7h0M35.6 11.6h0M43.2 36.0h0M9.9 33.1h0M12.0 35.9h0M29.6 52.3h0M18.9 17.5h0M44.2 3.8h0M30.2 17.4h0M41.4 41.3h0M43.6 36.8h0M31.4 15.0h0M44.4 22.2h0M47.4 34.0h0M24.7 11.6h0M33.5 25.8h0M26.9 36.0h0M25.6 8.8h0M32.6 39.6h0M16.6 39.5h0M30.1 42.7h0M10.0 31.5h0M8.7 25.1h0M23.2 47.5h0M45.7 27.5h0M10.1 29.7h0M44.0 21.3h0M21.6 2.1h0M42.2 7.0h0M38.0 48.9h0M40.3 31.2h0M41.5 30.9h0M24.1 44.1h0M23.3 9.7h0M26.1 24.4h0M39.8 4.5h0M24.9 31.3h0M16.0 31.9h0M26.3 36.8h0M18.8 30.0h0M18.5 18.4h0M42.5 17.2h0M18.5 47.1h0M39.4 51.7h0M40.8 11.5h0M46.1 39.7h0M33.9 40.1h0M26.9 21.4h0M24.1 5.6h0M12.3 13.5h0M25.0 50.1h0M32.1 44.0h0M55.3 21.9h0M30.1 20.8h0M53.0 16.6h0M13.9 41.7h0M50.6 14.7h0M8.3 22.8h0M48.2 7.9h0M36.1 10.4h0M31.4 11.1h0M35.2 34.0h0M40.0 46.8h0M20.4 35.7h0M50.4 17.3h0M30.6 53.6h0M19.7 45.0h0M38.9 14.3h0M26.5 1.9h0M34.1 30.3h0M11.5 11.7h0M38.4 5.4h0M47.1 26.6h0M30.8 3.4h0M17.5 20.1h0M48.3 35.3h0M44.4 26.1h0M32.1 35.2h0M15.8 6.2h0M26.9 47.9h0M33.7 29.9h0M8.9 19.8h0M33.2 43.1h0M42.5 32.8h0M41.7 26.4h0" stroke="#dc5014"/>
<path d="M46.4 20.0h0M36.2 44.7h0M51.7 11.2h0M27.5 13.3h0M41.5 24.2h0M33.0 29.5h0M8.6 25.7h0M45.9 33.0h0M39.4 27.8h0M13.0 39.8h0M7.2 29.4h0M42.6 49.2h0M15.4 29.2h0M40.0 51.8h0M47.7 20.3h0M35.3 10.6h0M11.6 37.6h0M32.3 21.8h0M49.6 48.2h0M40.5 37.3h0M54.6 15.9h0M34.1 35.1h0M40.6 9.7h0M13.0 28.0h0M45.7 49.0h0M14.1 31.0h0M33.3 6.0h0M44.6 6.9h0M32.1 9.3h0M13.2 37.2h0M36.5 10.0h0M36.9 45.7h0M34.1 8.8h0M41.5 32.9h0M35.0 10.2h0M25.2 12.1h0M29.0 23.8h0M43.2 7.6h0M10.0 34.1h0M21.5 33.7h0M51.3 26.2h0M49.9 6.5h0M44.4 47.4h0M18.1 29.4h0M47.2 29.1h0M30.8 3.8h0M25.2 26.7h0M28.5 4.2h0M12.1 24.6h0M35.3 28.3h0M24.5 45.8h0M20.8 22.7h0M33.7 11.8h0M46.3 13.0h0M41.3 3.2h0M16.9 30.1h0M14.9 39.3h0M31.4 51.6h0M27.7 25.1h0M37.2 3.3h0M25.9 14.3h0M31.3 2.9h0M19.7 41.4h0M27.0 24.9h0M58.1 30.1h0M12.1 37.3h0M16.5 25.1h0M40.8 10.1h0M44.2 7.1h0M53.3 11.9h0M41.7 22.2h0M28.9 15.8h0M37.0 8.6h0M14.5 39.3h0M25.3 16.1h0M47.2 48.1h0M26.5 18.6h0M26.1 13.3h0M28.1 21.7h0M39.7 34.9h0M42.6 15.3h0M53.1 38.7h0M27.1 12.2h0M53.3 42.6h0M50.9 10.3h0M49.4 29.9h0M38.5 3.1h0M30.0 22.1h0M11.0 42.1h0M47.9 27.9h0M26.2 33.8h0M55.9 25.0h0M29.8 34.9h0M46.8 25.8h0M25.7 48.5h0M14.2 39.8h0M28.7 11.7h0M11.9 41.3h0M43.6 26.7h0M56.0 21.9h0M31.6 3.2h0M22.6 27.9h0M35.7 3.5h0M41.5 40.8h0M35.9 9.1h0M21.7 28.5h0M22.7 31.9h0M52.1 28.6h0M29.3 35.5h0M40.1 10.1h0M46.2 29.6h0M46.0 39.8h0M44.3 32.3h0M48.5 38.3h0M31.3 17.5h0M51.8 39.2h0M40.9 46.9h0M57.2 27.8h0M55.4 39.3h0M28.2 12.2h0M50.9 45.7h0M21.1 12.2h0M51.5 32.6h0M59.0 27.7h0M38.7 21.1h0M48.6 35.8h0M48.2 40.5h0M36.6 7.7h0M27.5 34.3h0M11.5 38.6h0M13.6 26.4h0M31.7 0.1h0M40.7 42.4h0M41.9 18.2h0M31.6 53.8h0M18.2 16.5h0M32.4 37.2h0M27.0 25.3h0M38.2 47.7h0M27.8 37.1h0M46.1 42.5h0M39.3 6.0h0M38.5 4.3h0M12.0 35.1h0M37.7 10.3h0M24.3 29.1h0M36.8 6.6h0M18.7 28.3h0M35.5 2.5h0M9.3 37.0h0M34.9 9.9h0M11.1 37.2h0M51.4 20.3h0M30.4 44.1h0M29.3 17.7h0M15.8 40.7h0M48.9 46.1h0M19.6 49.4h0M35.7 4.8h0M57.6 31.6h0M41.0 4.9h0M46.9 31.5h0M30.7 20.5h0M10.7 23.6h0M46.8 33.8h0M37.4 49.6h0M35.6 9.4h0M24.9 42.3h0M19.6 45.9h0M36.3 8.8h0M49.0 9.4h0M26.0 21.3h0M10.5 36.4h0M30.4 23.4h0M13.8 10.3h0M49.9 41.3h0M22.9 8.3h0M34.4 23.0h0M17.6 26.2h0M46.6 41.4h0M26.3 5.7h0M28.9 23.3h0M24.5 25.9h0M33.1 42.6h0M27.8 17.5h0M27.8 36.9h0M39.0 7.1h0M31.3 13.5h0M26.3 19.8h0M42.6 35.6h0M30.0 10.4h0M20.0 38.7h0M35.0 11.9h0M24.3 46.8h0M20.9 28.3h0" stroke="#dc7828"/>
<path d="M41.0 17.1h0M30.8 39.1h0M27.9 49.1h0M42.7 45.2h0M21.2 49.0h0M23.5 21.1h0M49.5 26.0h0M18.8 15.1h0M10.9 25.2h0M20.0 19.7h0M28.7 19.7h0M34.1 11.4h0M46.4 31.0h0M48.3 7.7h0M58.2 33.4h0M49.1 28.4h0M47.4 18.3h0M26.9 36.3h0M37.7 21.9h0M28.1 48.3h0M44.9 18.4h0M37.0 46.3h0M28.7 47.2h0M51.2 23.9h0M18.9 28.4h0M19.6 42.1h0M22.0 31.6h0M51.0 44.6h0M23.5 46.8h0M43.4 34.0h0M7.6 19.5h0M15.5 43.1h0M12.4 21.4h0M40.5 41.4h0M42.7 41.0h0M20.2 24.6h0M46.1 17.3h0M9.0 40.7h0M14.5 42.8h0M36.3 1.6h0M14.2 40.7h0M30.5 36.9h0M46.1 27.5h0M24.2 50.9h0M47.1 36.0h0M32.3 37.8h0M26.2 24.3h0M31.6 27.7h0M29.7 23.1h0M38.0 9.5h0M16.8 18.0h0M45.1 42.9h0M18.8 22.7h0M21.1 50.5h0M10.9 32.8h0M41.9 6.5h0M14.8 48.1h0M41.2 45.1h0M42.3 7.2h0M25.6 46.7h0M30.7 33.2h0M18.1 39.4h0M41.5 51.9h0M56.4 28.0h0M41.6 51.3h0M50.5 9.1h0M53.1 22.0h0M25.9 36.5h0M14.0 18.1h0M8.9 35.8h0M22.1 33.3h0M51.9 43.4h0M46.6 22.6h0M13.4 28.2h0M31.4 40.8h0M37.5 3.1h0M34.2 40.1h0M39.6 49.9h0M8.2 26.0h0M52.3 11.0h0M40.3 42.3h0M44.0 36.8h0M44.1 45.9h0M30.7 12.4h0M53.0 26.9h0M27.3 40.2h0M43.0 4.6h0M31.1 32.8h0M43.8 13.5h0M35.4 27.1h0M56.4 27.0h0M41.8 41.3h0M28.4 3.9h0M9.3 40.5h0M25.3 8.4h0M40.5 25.2h0M38.3 7.0h0M11.3 27.1h0M43.3 20.4h0M39.9 4.8h0M27.8 15.6h0M34.7 4.2h0M27.4 32.3h0M49.7 40.9h0M15.9 11.9h0M8.9 36.7h0M50.2 7.9h0M27.3 48.3h0M19.1 22.5h0M51.5 8.8h0M25.2 11.1h0M50.4 38.8h0M25.5 39.2h0M25.4 9.9h0M25.6 19.2h0M18.9 50.7h0M41.2 17.8h0M46.2 30.3h0M35.7 27.7h0M17.4 17.2h0M11.3 43.6h0M29.6 45.5h0M41.4 29.4h0M39.3 7.2h0M43.8 12.6h0M25.0 23.5h0M50.5 28.1h0M20.5 14.8h0M34.1 9.9h0M29.7 53.5h0M47.5 26.3h0M27.5 38.6h0M53.1 39.8h0M28.9 33.6h0M44.5 44.4h0M31.7 23.5h0M20.3 29.4h0M58.5 32.0h0M56.5 37.0h0M46.8 34.1h0M21.3 38.2h0M30.9 28.4h0M8.7 36.2h0M25.3 7.6h0M17.4 48.3h0M24.8 51.7h0M37.4 4.5h0M20.5 34.1h0M28.8 23.0h0M26.2 4.6h0M44.5 17.7h0M29.9 51.6h0M26.3 21.8h0M32.3 23.8h0M49.9 11.9h0M24.6 36.2h0M47.9 11.7h0M50.4 16.6h0M52.2 36.9h0M40.2 39.4h0M13.6 46.3h0M26.4 10.8h0M42.4 2.3h0M41.5 22.7h0M8.1 39.8h0M44.2 3.3h0M20.1 24.5h0M31.2 19.3h0M33.0 2.3h0M36.3 25.9h0M41.2 6.0h0M24.5 23.6h0M19.5 21.6h0M41.7 31.6h0M49.0 30.6h0M13.2 44.2h0M29.0 33.9h0M43.9 30.4h0M42.5 12.7h0M23.8 6.1h0M12.4 35.4h0M13.6 24.3h0M57.1 26.8h0M24.6 28.9h0M17.9 11.3h0M39.1 49.3h0M27.3 10.0h0M43.6 22.9h0M33.0 19.6h0M32.9 24.0h0M21.9 13.4h0M39.7 45.7h0M52.6 19.0h0M10.1 29.3h0M35.1 46.2h0M52.8 41.0h0M14.5 41.2h0M14.9 17.3h0M47.9 7.7h0M36.9 42.9h0M54.4 40.6h0M36.8 14.0h0M45.6 6.2h0M14.4 18.1h0M33.0 0.8h0M45.5 33.8h0M19.4 34.0h0M55.4 30.0h0M51.9 38.3h0M28.6 2.9h0M48.2 11.6h0M47.1 27.6h0M35.1 29.3h0M40.5 26.3h0M41.3 44.1h0M38.6 43.7h0M27.7 32.8h0M33.6 34.0h0M28.7 2.5h0M24.4 34.5h0M24.8 33.7h0M31.8 42.8h0M36.6 2.4h0M48.1 30.6h0M15.9 29.1h0M43.1 42.9h0M29.3 21.9h0M20.6 51.7h0M43.2 8.0h0M42.2 44.9h0M27.4 19.7h0M30.0 43.3h0M34.4 45.2h0M17.5 32.0h0M24.3 29.7h0M50.2 34.8h0M56.0 39.4h0M39.4 19.7h0M39.5 10.0h0M24.7 34.4h0M16.1 24.0h0M22.7 48.8h0M25.9 34.1h0M34.1 35.4h0M26.0 36.2h0M56.5 25.5h0M11.4 39.6h0M35.3 27.8h0M17.9 39.0h0M13.8 28.7h0M36.3 16.9h0M9.2 30.7h0M11.8 29.5h0M55.3 30.5h0M26.2 43.0h0M26.8 33.2h0M30.7 52.2h0M22.8 46.3h0M48.4 28.7h0M9.1 21.3h0M46.6 14.8h0M27.9 35.8h0M46.8 41.6h0M20.1 15.5h0M33.5 26.1h0M57.7 33.6h0M26.4 37.9h0M34.5 8.0h0M36.5 33.6h0M27.5 23.2h0M18.6 20.8h0M17.0 45.7h0M19.0 14.8h0M24.8 35.1h0M39.1 8.2h0M28.9 29.3h0M53.3 26.4h0M47.5 9.4h0M22.8 48.2h0M35.6 8.8h0M49.4 12.8h0M43.6 10.4h0M44.6 40.3h0M33.0 11.5h0M48.9 37.2h0M29.3 30.2h0M24.9 30.3h0M36.9 10.8h0M38.9 39.3h0M29.2 1.5h0M12.7 25.5h0M7.8 27.2h0M15.1 28.4h0M47.2 38.6h0M53.6 28.5h0M48.2 32.6h0M9.6 26.3h0M28.0 1.3h0M55.8 22.1h0M43.0 44.9h0M18.7 31.5h0M32.6 20.6h0M38.7 31.5h0M25.5 14.9h0M26.4 38.0h0M24.2 48.2h0M33.0 12.0h0M9.1 30.1h0M34.8 7.0h0M25.8 44.3h0M34.9 42.5h0M23.3 11.5h0M11.5 35.3h0M26.0 47.8h0M27.9 1.3h0M55.4 27.8h0M31.0 29.2h0M54.6 39.7h0M26.5 37.6h0M34.3 11.5h0M52.6 23.7h0M34.4 21.8h0M13.6 38.3h0M21.6 16.8h0M47.8 40.3h0M53.4 17.5h0M40.1 45.3h0M32.5 31.7h0M24.8 38.0h0M49.2 38.2h0M47.5 37.6h0M49.8 44.8h0M38.1 8.6h0M33.0 42.7h0M41.1 45.2h0M41.4 42.5h0M50.4 38.6h0M20.6 20.0h0M36.4 25.7h0M43.1 22.4h0M49.0 13.0h0M31.0 15.9h0M27.8 15.6h0M41.4 8.0h0M21.0 48.4h0M25.1 38.8h0M50.4 26.3h0M34.1 22.8h0M10.8 25.0h0M42.4 16.1h0M8.5 38.9h0M45.7 8.1h0M19.5 24.6h0M22.8 42.2h0M33.4 1.5h0M45.0 32.1h0M30.5 5.5h0M29.5 10.2h0M34.0 23.6h0M36.6 21.1h0M42.6 47.6h0M45.1 11.5h0M43.9 8.4h0M22.2 34.8h0M11.5 38.3h0M8.8 29.4h0M12.2 42.9h0M40.5 3.8h0M20.7 20.6h0M18.0 38.3h0M41.3 41.7h0" stroke="#dc6428"/>
<path d="M37.3 51.5h0M29.4 23.0h0M7.1 21.5h0M31.5 44.7h0M45.8 12.7h0M53.2 19.4h0M34.7 44.7h0M25.4 50.3h0M34.3 43.5h0M26.7 48.4h0M26.0 52.2h0M38.7 11.5h0M30.2 42.0h0M21.5 15.5h0M18.1 16.2h0M33.5 22.6h0M26.6 8.6h0M42.8 22.3h0M36.0 42.2h0M27.2 40.7h0M35.8 33.1h0M40.5 18.8h0M57.6 25.3h0M17.6 10.8h0M35.2 32.3h0M7.1 28.9h0M52.5 18.4h0M42.0 30.5h0M24.8 5.5h0M52.8 15.6h0M12.4 27.5h0M36.9 25.0h0M41.8 41.4h0M37.1 48.4h0M39.3 50.2h0M39.7 40.2h0M44.0 19.3h0M39.8 22.9h0M54.6 13.3h0M43.8 30.9h0M24.3 47.6h0M31.1 40.7h0M13.4 26.8h0M6.2 21.4h0M42.0 15.1h0M45.7 29.3h0M47.1 16.5h0M27.5 35.9h0M49.5 21.3h0M48.8 25.0h0M20.0 7.8h0M50.3 18.3h0M37.0 22.3h0M43.7 19.4h0M54.4 16.4h0M42.9 21.1h0M47.1 16.8h0M45.0 17.5h0M47.1 23.9h0M21.2 10.9h0M8.1 19.7h0M33.8 9.4h0M25.9 6.2h0M46.1 44.8h0M44.2 40.9h0M30.6 37.0h0M46.5 19.2h0M28.1 53.4h0M56.9 26.9h0M24.5 43.7h0M19.5 46.6h0M50.9 10.3h0M28.9 1.9h0M42.4 21.1h0M25.4 46.6h0M45.3 31.5h0M39.0 44.8h0M53.5 23.1h0M53.8 15.0h0M24.9 6.2h0M22.8 42.9h0M44.2 28.8h0M15.3 28.0h0M22.4 12.5h0M9.1 27.8h0M31.5 36.4h0M23.4 15.5h0M22.5 41.8h0" stroke="#dc2814"/>
<path d="M34.6 44.3h0M36.5 10.6h0M5.6 24.4h0M11.1 30.3h0M39.2 46.4h0M31.8 38.5h0M18.2 46.9h0M47.0 27.8h0M29.4 41.1h0M30.1 50.6h0M19.7 28.0h0M39.9 41.9h0M48.4 25.5h0M53.7 23.9h0M27.3 7.5h0M34.2 53.3h0M39.9 28.2h0M53.1 42.2h0M51.0 40.2h0M29.0 15.3h0M39.8 37.2h0M24.6 32.8h0M41.9 47.1h0M49.5 14.5h0M36.8 46.5h0M21.3 12.6h0M41.5 28.9h0M43.8 32.7h0M20.0 14.1h0M47.9 21.1h0M14.2 44.3h0M51.4 28.2h0M42.2 51.5h0M26.1 30.0h0M36.0 26.8h0M45.7 18.6h0M23.4 27.0h0" stroke="#dc5028"/>
<path d="M29.4 39.1h0M25.5 42.8h0M34.3 30.3h0M55.6 14.4h0M27.4 17.7h0M16.8 19.4h0M38.8 10.9h0M35.5 3.6h0M29.4 23.9h0M30.9 24.9h0M59.0 29.6h0M23.4 37.8h0M27.6 3.9h0M25.1 13.3h0M8.5 23.6h0M12.2 37.4h0M22.3 34.3h0M14.7 38.0h0M38.5 1.8h0M34.8 38.8h0M49.2 42.4h0M25.9 26.2h0M31.4 43.2h0M30.4 30.8h0M15.3 39.9h0M45.5 47.1h0M57.6 32.2h0M29.6 22.8h0M52.4 42.9h0M38.5 2.7h0M41.2 43.9h0M19.9 43.4h0M18.7 35.3h0M54.0 22.5h0M10.8 40.8h0M55.3 36.1h0M18.6 30.5h0M30.0 24.7h0M57.3 24.7h0M27.6 53.7h0M33.2 14.2h0M28.7 16.8h0M38.7 6.9h0M31.9 23.9h0M35.4 10.2h0M12.6 36.9h0M37.4 9.9h0M30.8 21.3h0M25.8 20.5h0M33.7 10.3h0M20.0 23.6h0M18.1 44.2h0M11.8 41.6h0M31.1 21.4h0M12.8 42.0h0M27.0 5.4h0M43.7 6.3h0M49.0 38.8h0M13.4 26.9h0M46.4 30.8h0M48.8 41.4h0M57.4 34.5h0M53.9 28.1h0M38.9 13.1h0M25.0 21.5h0M43.6 44.3h0M40.5 6.3h0M14.6 43.2h0M9.0 38.6h0M15.9 24.0h0M28.8 1.9h0M41.0 8.8h0M27.6 9.8h0M18.6 35.3h0M33.2 8.0h0M43.2 13.9h0M21.1 28.2h0M10.6 37.9h0M17.5 22.9h0M39.6 4.4h0M11.5 17.7h0M13.5 45.5h0M24.0 9.0h0M35.5 40.1h0M43.8 50.3h0M31.9 7.8h0M46.1 37.5h0M11.0 34.3h0M34.9 18.7h0M44.9 7.4h0M34.3 52.6h0M34.3 2.5h0M24.4 8.8h0M58.0 21.3h0M35.2 34.3h0M38.2 43.2h0M31.5 21.8h0M53.3 40.1h0M30.9 20.1h0M50.6 41.7h0M40.3 6.1h0M23.2 24.5h0M15.5 38.3h0M11.6 33.2h0M40.6 26.7h0M26.5 16.8h0M31.0 22.2h0M27.2 31.0h0M19.8 22.2h0M51.3 37.0h0M45.4 31.1h0M13.3 36.8h0M16.3 27.8h0M35.0 12.2h0M37.4 8.6h0M55.3 25.4h0M19.1 40.9h0M30.2 28.8h0M51.0 40.6h0M8.3 37.4h0M21.9 28.3h0M48.5 39.0h0M30.0 45.2h0" stroke="#f08c28"/>
<path d="M41.4 14.8h0M32.6 19.4h0M10.7 39.9h0M23.2 16.3h0M10.4 36.5h0M15.0 42.7h0M18.5 29.3h0M23.1 38.1h0M46.6 42.1h0M22.9 33.1h0M42.3 33.7h0M31.4 21.3h0M32.0 27.7h0M15.4 37.6h0M16.8 27.7h0M9.7 23.3h0M13.5 44.1h0M9.5 34.0h0M15.2 39.7h0M19.0 48.3h0M10.4 42.0h0M37.0 9.7h0M40.2 49.4h0M30.8 20.4h0M39.5 8.1h0M25.5 23.4h0M17.6 31.9h0M30.2 15.2h0M13.3 41.6h0M53.3 40.7h0M31.5 18.8h0M26.7 22.4h0M36.4 5.9h0M9.6 36.0h0M25.3 25.3h0M9.2 36.1h0M40.2 38.0h0M32.3 40.8h0M24.3 22.2h0M23.1 31.0h0M41.2 51.0h0M43.4 45.3h0M13.6 46.0h0M25.0 37.9h0M40.1 10.6h0M12.1 30.0h0M42.1 9.3h0M28.0 10.0h0" stroke="#f0a028"/>
<path d="M22.7 36.5h0M39.7 16.0h0M17.1 13.0h0M40.7 45.8h0M25.3 32.1h0M19.9 24.7h0M43.1 42.3h0M47.9 47.1h0M19.5 42.2h0M29.1 34.8h0M29.5 9.9h0M31.3 22.1h0M15.0 44.1h0M28.5 28.4h0M10.7 40.7h0M32.3 45.3h0M22.9 20.5h0M32.1 23.3h0M19.9 26.7h0M39.1 48.9h0M44.0 37.0h0M10.3 32.1h0M15.4 23.3h0M10.8 25.4h0M12.7 22.1h0M29.1 52.4h0M23.2 20.9h0M54.5 23.6h0M56.5 23.1h0M46.0 16.1h0M28.7 44.3h0M58.9 25.4h0M12.0 32.9h0M32.2 43.2h0M32.8 22.2h0M28.6 52.1h0M25.2 32.1h0M24.4 12.3h0M20.8 47.2h0M52.0 30.1h0M28.5 9.9h0M24.5 5.1h0M23.2 35.4h0M35.7 43.0h0M8.9 30.2h0M28.7 15.2h0M7.4 28.6h0M26.4 4.5h0M22.1 20.0h0M48.1 5.4h0M19.9 20.2h0M17.2 28.8h0M17.6 24.2h0M54.0 26.1h0M45.5 18.3h0M16.3 38.1h0M34.3 3.5h0M23.6 25.2h0M12.2 26.2h0M26.8 23.8h0M15.7 33.8h0M37.9 15.9h0M50.6 31.9h0M28.5 13.0h0M17.2 28.5h0M26.2 8.6h0M22.6 30.2h0M8.6 25.4h0M10.2 31.8h0M19.0 45.7h0M37.8 43.5h0M45.6 36.1h0M16.5 17.7h0M32.5 25.8h0M42.0 20.0h0M34.6 53.4h0M27.0 35.3h0M40.5 12.5h0M26.0 11.8h0M26.8 20.4h0M22.5 34.9h0M11.2 30.6h0M37.9 39.7h0" stroke="#f07828"/>
<path d="M34.4 18.1h0M31.1 8.4h0M13.1 27.5h0M22.2 36.0h0M42.0 46.3h0M48.0 45.2h0M18.0 42.6h0M54.5 35.2h0M35.1 13.2h0" stroke="#f0b428"/>
</g>
<rect x="93.05" y="546.6" width="60.3" height="59.9" fill="none" stroke="#999" stroke-width="0.8"/>
<text x="123.20" y="542.10" font-size="8.5" text-anchor="middle" fill="#111" textLength="21.4" lengthAdjust="spacingAndGlyphs" >CD1c</text>
<g transform="translate(93.05 546.60)" stroke-width=".95" stroke-linecap="square">
<path d="M43.7 22.9h0M45.0 19.5h0M46.4 20.0h0M47.0 30.3h0M37.8 32.2h0M50.8 21.3h0M48.5 34.6h0M46.3 24.3h0M44.9 18.4h0M37.0 46.3h0M35.9 2.7h0M38.8 10.9h0M49.2 18.7h0M40.7 45.8h0M42.0 23.8h0M34.4 18.1h0M46.1 17.3h0M34.3 10.3h0M40.6 9.7h0M33.1 11.8h0M55.7 21.5h0M36.3 34.2h0M41.9 6.5h0M35.4 34.1h0M38.8 31.4h0M53.1 22.0h0M43.2 7.6h0M48.4 32.2h0M49.9 6.5h0M36.0 42.2h0M44.4 47.4h0M54.5 19.1h0M40.6 9.2h0M31.4 21.3h0M35.8 33.1h0M57.7 30.8h0M43.0 4.6h0M47.2 29.1h0M43.8 13.5h0M49.2 10.1h0M41.8 41.3h0M38.3 7.0h0M17.6 10.8h0M50.4 38.8h0M41.2 17.8h0M46.3 13.0h0M42.0 30.5h0M55.3 36.1h0M43.8 12.6h0M53.1 39.8h0M58.5 32.0h0M56.5 37.0h0M57.3 24.7h0M44.2 7.1h0M41.7 22.2h0M42.6 42.3h0M37.0 9.7h0M23.8 7.8h0M55.4 15.4h0M49.9 11.9h0M26.5 18.6h0M35.4 3.6h0M47.9 11.7h0M38.7 6.9h0M50.2 10.5h0M42.6 15.3h0M53.1 38.7h0M31.2 19.3h0M33.0 2.3h0M36.3 25.9h0M47.0 27.8h0M41.2 6.0h0M30.9 11.2h0M38.6 22.9h0M37.4 9.9h0M42.4 16.9h0M54.3 26.3h0M55.6 18.7h0M42.5 12.7h0M30.2 15.2h0M48.6 17.8h0M36.7 27.0h0M40.9 8.3h0M59.3 28.7h0M31.1 21.4h0M27.0 5.4h0M23.0 2.8h0M51.4 23.2h0M43.7 6.3h0M47.9 7.7h0M49.7 27.2h0M24.4 12.3h0M52.0 30.1h0M24.5 5.1h0M56.0 21.9h0M23.1 8.2h0M28.6 2.9h0M30.9 2.5h0M45.7 29.3h0M41.3 44.1h0M41.6 18.4h0M36.6 2.4h0M57.8 25.8h0M48.1 30.6h0M49.5 21.3h0M46.2 29.6h0M20.0 7.8h0M53.9 15.0h0M38.0 44.3h0M47.7 21.5h0M44.0 27.6h0M51.3 21.5h0M29.4 6.6h0M48.3 34.5h0M22.1 20.0h0M30.1 4.9h0M51.5 32.6h0M36.6 34.1h0M48.6 35.8h0M45.0 17.5h0M54.0 26.1h0M46.8 41.6h0M45.5 18.3h0M57.7 33.6h0M31.7 0.1h0M21.2 10.9h0M34.5 8.0h0M41.9 18.2h0M24.0 9.0h0M44.2 3.8h0M25.9 6.2h0M31.9 7.8h0M39.1 8.2h0M46.1 37.5h0M54.8 20.1h0M53.3 26.4h0M47.5 9.4h0M43.6 10.4h0M29.2 1.5h0M53.6 28.5h0M43.4 45.3h0M44.0 21.3h0M33.0 12.0h0M56.9 26.9h0M34.8 7.0h0M34.9 42.5h0M42.4 34.3h0M50.6 41.7h0M27.9 1.3h0M41.0 4.9h0M46.9 31.5h0M40.8 11.5h0M47.9 21.1h0M53.8 15.0h0M49.0 9.4h0M53.0 16.6h0M24.9 6.2h0M36.4 25.7h0M41.4 8.0h0M40.5 12.5h0M50.4 26.3h0M38.4 5.4h0M31.3 13.5h0M45.1 11.5h0M43.9 8.4h0M42.1 9.3h0M37.4 8.6h0M51.0 40.6h0" stroke="#b4dc28"/>
<path d="M47.7 32.1h0M30.8 39.1h0M29.3 35.0h0M36.2 44.7h0M37.3 51.5h0M29.4 39.1h0M29.4 23.0h0M34.3 30.3h0M23.5 21.1h0M28.7 19.7h0M34.7 43.1h0M37.7 21.9h0M28.1 48.3h0M27.1 52.5h0M39.7 16.0h0M40.0 51.8h0M21.6 14.8h0M31.5 44.7h0M39.8 32.2h0M36.5 10.6h0M33.1 28.6h0M22.9 46.4h0M32.2 34.6h0M30.9 24.9h0M29.8 41.7h0M30.5 36.9h0M32.3 37.8h0M29.7 23.1h0M30.2 42.0h0M37.9 45.8h0M29.1 34.8h0M29.5 9.9h0M32.8 32.3h0M22.9 33.1h0M25.9 36.5h0M29.0 23.8h0M51.9 43.4h0M31.4 40.8h0M34.2 40.1h0M25.9 26.2h0M31.4 43.2h0M31.8 36.2h0M25.3 20.6h0M38.5 50.5h0M32.0 27.7h0M17.7 46.9h0M45.5 47.1h0M29.6 22.8h0M40.5 25.2h0M15.9 11.9h0M24.5 45.8h0M25.5 39.2h0M39.5 29.1h0M25.6 19.2h0M31.4 51.6h0M44.0 37.0h0M27.7 25.1h0M39.8 49.1h0M29.6 45.5h0M25.1 18.5h0M25.9 14.3h0M25.0 23.5h0M31.2 28.3h0M27.0 24.9h0M29.7 53.5h0M31.7 23.5h0M23.2 20.9h0M46.8 34.1h0M25.3 16.1h0M30.1 4.8h0M40.2 49.4h0M26.3 21.8h0M41.8 41.4h0M47.2 48.1h0M24.6 36.2h0M33.2 14.2h0M26.8 25.7h0M30.8 21.3h0M30.0 22.1h0M29.0 33.9h0M28.6 52.1h0M26.2 33.8h0M53.3 40.7h0M29.8 34.9h0M17.9 11.3h0M26.7 22.4h0M24.8 9.1h0M21.9 13.4h0M45.5 33.8h0M34.1 42.9h0M35.1 29.3h0M25.0 21.5h0M42.5 21.7h0M27.7 32.8h0M29.3 35.5h0M31.8 42.8h0M31.2 24.9h0M34.2 53.3h0M29.8 42.8h0M42.2 44.9h0M27.4 19.7h0M25.0 13.5h0M24.7 34.4h0M22.7 48.8h0M26.0 36.2h0M11.2 13.8h0M37.0 29.9h0M28.2 12.2h0M30.7 52.2h0M26.4 36.4h0M38.7 21.1h0M48.2 40.5h0M38.5 46.1h0M29.3 24.7h0M29.6 52.3h0M18.9 17.5h0M36.5 33.6h0M43.8 50.3h0M30.2 17.4h0M13.8 12.8h0M24.3 22.2h0M28.9 29.3h0M22.8 48.2h0M30.6 37.0h0M17.9 10.1h0M24.3 29.1h0M27.3 43.7h0M34.3 52.6h0M19.2 15.3h0M36.8 46.5h0M26.2 8.6h0M38.0 48.9h0M29.3 17.7h0M35.2 34.3h0M26.1 24.4h0M27.1 34.8h0M21.0 48.6h0M47.8 40.3h0M40.1 45.3h0M32.5 31.7h0M29.5 22.7h0M24.8 38.0h0M20.0 14.1h0M24.9 42.3h0M32.5 25.8h0M32.1 44.0h0M30.4 23.4h0M13.8 10.3h0M34.4 23.0h0M35.2 34.0h0M30.6 53.6h0M34.1 22.8h0M28.9 23.3h0M33.1 42.6h0M39.0 7.1h0M31.5 42.5h0M26.0 11.8h0M42.7 18.8h0M26.9 47.9h0M8.9 19.8h0M30.2 28.8h0M30.0 45.2h0M8.7 18.6h0M23.6 16.8h0" stroke="#f0dc28"/>
<path d="M41.0 17.1h0M52.3 11.0h0M49.5 26.0h0M48.3 7.7h0M58.2 33.4h0M55.6 14.4h0M51.2 23.9h0M45.8 12.7h0M54.6 15.9h0M57.8 27.5h0M43.9 32.3h0M31.1 0.9h0M34.1 8.8h0M44.3 7.9h0M37.5 3.1h0M52.3 11.0h0M41.3 3.2h0M52.5 18.4h0M54.0 22.5h0M31.3 2.9h0M37.0 8.6h0M54.5 23.6h0M46.1 17.2h0M40.8 9.7h0M50.4 16.6h0M35.1 3.3h0M44.2 3.3h0M53.3 42.6h0M50.9 10.3h0M39.8 22.9h0M43.8 30.9h0M54.5 13.0h0M56.8 24.0h0M45.5 34.7h0M52.6 19.0h0M54.4 40.6h0M42.0 15.1h0M57.4 34.5h0M48.2 11.6h0M35.7 3.5h0M35.9 9.1h0M51.5 22.5h0M48.0 10.1h0M53.7 23.9h0M43.2 8.0h0M48.5 38.3h0M39.5 10.0h0M26.4 4.5h0M36.6 7.7h0M33.0 11.5h0M36.8 6.6h0M49.5 14.5h0M21.6 2.1h0M48.9 46.1h0M34.3 11.5h0M48.2 7.9h0M40.1 10.6h0M46.6 41.4h0M42.4 16.1h0M44.4 26.1h0M45.7 18.6h0" stroke="#8cc828"/>
<path d="M25.1 15.7h0M51.8 42.4h0M31.6 27.7h0M37.1 38.0h0M24.9 4.0h0M31.1 8.4h0M36.7 32.0h0M39.6 49.9h0M43.6 31.3h0M44.1 45.9h0M56.4 27.0h0M52.4 42.9h0M33.7 11.8h0M54.9 35.3h0M49.3 30.0h0M36.9 25.0h0M32.3 23.8h0M36.7 28.1h0M26.4 10.8h0M37.0 5.2h0M26.3 27.5h0M28.5 9.5h0M48.3 10.3h0M52.1 28.6h0M48.3 43.3h0M46.0 39.8h0M39.4 19.7h0M23.7 11.9h0M48.4 28.7h0M35.6 11.6h0M44.2 40.9h0M38.6 50.5h0M54.1 18.6h0M45.3 31.5h0M41.5 28.9h0M37.6 24.2h0M24.1 5.6h0M41.4 42.5h0M22.4 12.5h0M45.0 32.1h0M28.0 10.0h0" stroke="#dcf028"/>
<path d="M47.4 29.9h0M34.6 44.3h0M41.5 24.2h0M34.2 33.9h0M41.0 23.4h0M33.0 29.5h0M39.4 27.8h0M23.2 16.3h0M36.1 40.7h0M46.5 49.1h0M34.4 34.9h0M27.4 17.7h0M17.1 13.0h0M28.1 5.9h0M32.3 21.8h0M30.2 15.5h0M49.6 48.2h0M40.5 37.3h0M32.7 29.7h0M45.4 43.8h0M26.2 24.3h0M33.6 25.6h0M47.9 28.6h0M25.1 13.3h0M29.3 21.7h0M41.2 45.1h0M33.5 22.6h0M42.5 23.2h0M48.0 39.9h0M15.3 10.1h0M30.4 30.8h0M31.1 32.8h0M30.8 39.0h0M28.4 3.9h0M25.3 8.4h0M32.3 45.3h0M19.6 5.4h0M39.5 24.6h0M25.4 9.9h0M32.1 23.3h0M24.7 5.4h0M41.9 34.8h0M35.7 27.7h0M29.2 51.3h0M41.4 29.4h0M40.2 34.1h0M29.1 52.4h0M30.0 24.7h0M39.9 45.5h0M28.9 15.8h0M25.7 27.6h0M25.3 7.6h0M44.2 49.6h0M37.1 48.4h0M39.4 22.0h0M26.1 13.3h0M39.7 34.9h0M41.5 22.7h0M33.4 29.9h0M36.0 43.4h0M29.4 41.1h0M45.8 43.6h0M23.8 6.1h0M55.9 25.0h0M52.6 44.5h0M25.5 4.1h0M57.1 26.8h0M31.1 40.7h0M39.1 49.3h0M39.9 41.9h0M10.6 12.0h0M42.8 33.5h0M37.9 23.8h0M29.6 24.3h0M39.7 45.7h0M35.1 46.2h0M36.9 42.9h0M36.8 14.0h0M28.5 9.9h0M40.9 30.6h0M27.8 41.1h0M38.9 13.1h0M33.6 34.0h0M28.7 2.5h0M26.0 39.0h0M27.3 7.5h0M39.9 28.2h0M34.4 45.2h0M56.0 39.4h0M27.6 9.8h0M27.5 9.3h0M48.1 45.9h0M37.7 9.5h0M36.9 26.9h0M39.9 30.9h0M25.3 25.3h0M16.8 6.4h0M21.1 12.2h0M41.5 30.4h0M29.0 15.3h0M32.4 37.2h0M26.8 23.8h0M27.0 25.3h0M30.2 41.0h0M47.4 34.0h0M29.3 30.2h0M26.7 42.7h0M25.6 8.8h0M38.9 39.3h0M30.1 42.7h0M47.2 38.6h0M43.0 44.9h0M24.4 8.8h0M41.9 29.9h0M38.7 31.5h0M28.1 53.4h0M40.3 31.2h0M23.3 9.7h0M50.9 10.3h0M21.3 12.6h0M42.4 21.1h0M30.7 20.5h0M55.4 39.0h0M37.4 49.6h0M49.2 38.2h0M47.5 37.6h0M33.0 42.7h0M34.6 53.4h0M26.3 5.7h0M33.4 1.5h0M45.4 31.1h0M23.4 15.5h0M42.6 47.6h0M32.1 35.2h0M35.0 12.2h0M33.2 43.1h0" stroke="#f0f028"/>
<path d="M25.5 10.5h0M27.9 49.1h0M17.9 16.0h0M25.5 42.8h0M18.8 15.1h0M32.2 53.6h0M26.9 36.3h0M28.7 47.2h0M25.2 40.2h0M42.6 49.2h0M26.2 49.5h0M24.2 45.1h0M25.3 32.1h0M22.5 22.4h0M24.2 50.9h0M23.1 38.1h0M26.1 46.0h0M26.0 52.2h0M16.8 18.0h0M21.5 15.5h0M25.3 47.2h0M31.3 22.1h0M21.7 44.8h0M26.5 35.9h0M25.2 12.1h0M28.5 28.4h0M32.3 24.5h0M14.0 18.1h0M29.0 39.8h0M27.2 40.7h0M31.8 38.5h0M27.3 40.2h0M29.7 36.8h0M27.4 32.3h0M19.1 22.5h0M19.9 43.4h0M37.7 42.5h0M17.4 17.2h0M19.0 48.3h0M20.5 14.8h0M30.0 41.4h0M28.9 33.6h0M17.4 48.3h0M24.8 51.7h0M27.6 53.7h0M25.5 23.4h0M32.2 43.2h0M28.1 49.2h0M25.8 20.5h0M29.0 50.8h0M25.7 48.5h0M16.3 17.9h0M34.0 31.9h0M12.5 16.6h0M22.9 36.0h0M14.9 17.3h0M22.3 44.8h0M20.8 47.2h0M24.8 42.0h0M20.6 51.7h0M15.2 17.7h0M16.1 24.0h0M51.8 39.2h0M25.9 34.1h0M24.3 51.5h0M26.2 43.0h0M23.0 24.4h0M20.2 49.2h0M27.7 32.3h0M27.5 34.3h0M27.9 35.8h0M26.4 37.9h0M11.5 17.7h0M8.1 19.7h0M18.6 20.8h0M31.6 53.8h0M18.2 16.5h0M28.0 41.3h0M24.7 11.6h0M24.6 32.8h0M26.9 36.0h0M23.0 51.1h0M26.4 38.0h0M24.2 48.2h0M41.5 30.9h0M24.1 44.1h0M19.5 46.6h0M30.4 44.1h0M38.2 43.2h0M26.0 47.8h0M24.9 31.3h0M26.3 36.8h0M18.5 18.4h0M26.5 37.6h0M22.7 46.3h0M21.6 16.8h0M16.5 17.7h0M33.9 40.1h0M12.3 13.5h0M49.8 44.8h0M26.0 21.3h0M22.9 8.3h0M20.6 20.0h0M27.0 35.3h0M27.2 31.0h0M25.1 38.8h0M24.5 25.9h0M27.8 36.9h0M26.1 30.0h0M32.9 37.9h0M23.4 27.0h0" stroke="#f0c828"/>
<path d="M10.6 28.8h0M10.7 39.9h0M13.4 27.5h0M13.4 28.2h0M11.3 43.6h0M10.8 40.8h0M13.1 25.6h0M10.8 25.4h0M7.4 24.1h0M12.6 36.9h0M12.4 35.4h0M12.3 28.6h0M15.9 29.1h0M9.6 36.0h0M9.0 27.9h0M15.0 40.2h0M9.2 36.1h0M13.3 45.3h0M11.5 38.6h0M9.9 33.1h0M15.7 33.8h0M12.7 25.5h0M9.3 37.0h0M11.1 37.2h0M8.6 25.4h0M13.6 46.0h0M11.6 33.2h0M17.6 26.2h0M12.1 30.0h0M10.6 27.5h0M8.8 29.4h0" stroke="#dc5014"/>
<path d="M53.8 37.5h0M27.5 13.3h0M45.9 33.0h0M53.3 35.8h0M33.8 27.0h0M51.0 44.6h0M47.7 20.3h0M35.3 10.6h0M53.2 19.4h0M34.1 35.1h0M26.5 8.9h0M36.3 1.6h0M33.3 6.0h0M47.1 36.0h0M27.0 49.0h0M45.7 36.1h0M58.6 27.4h0M45.1 42.9h0M36.5 10.0h0M30.7 33.2h0M54.7 26.4h0M36.9 45.7h0M26.6 8.6h0M41.6 51.3h0M51.3 26.2h0M40.3 42.3h0M40.5 18.8h0M53.0 26.9h0M35.4 27.1h0M34.9 40.7h0M43.3 20.4h0M27.8 15.6h0M35.3 28.3h0M42.6 20.2h0M25.2 11.1h0M39.1 48.9h0M41.0 34.1h0M28.0 6.3h0M47.0 32.0h0M45.4 38.9h0M34.1 9.9h0M47.5 26.3h0M30.9 28.4h0M18.1 12.0h0M44.5 17.7h0M29.9 51.6h0M46.0 16.1h0M28.7 16.8h0M52.2 36.9h0M39.3 50.2h0M40.2 39.4h0M28.1 21.7h0M27.1 12.2h0M39.7 40.2h0M41.7 31.6h0M43.9 30.4h0M50.2 29.1h0M31.5 18.8h0M27.3 10.0h0M43.6 22.9h0M33.0 19.6h0M32.9 24.0h0M36.5 33.5h0M41.5 40.4h0M46.4 30.8h0M35.7 43.0h0M47.5 15.2h0M31.6 3.2h0M41.5 40.8h0M28.7 15.2h0M45.8 35.0h0M29.3 21.9h0M28.8 1.9h0M50.3 18.3h0M53.5 39.8h0M47.8 25.2h0M43.7 19.4h0M22.8 8.7h0M55.3 30.5h0M40.3 35.9h0M55.4 39.3h0M34.3 9.0h0M59.0 27.7h0M35.8 26.0h0M47.1 23.9h0M27.5 23.2h0M48.1 39.5h0M19.0 14.8h0M46.1 44.8h0M38.2 47.7h0M43.6 36.8h0M32.3 40.8h0M31.4 15.0h0M39.3 6.0h0M49.4 12.8h0M33.5 25.8h0M44.6 40.3h0M37.7 10.3h0M42.7 17.8h0M36.9 10.8h0M41.9 47.1h0M41.2 51.0h0M34.3 2.5h0M45.7 27.5h0M25.5 14.9h0M52.9 40.5h0M23.3 11.5h0M31.5 21.8h0M39.7 26.3h0M35.7 4.8h0M57.6 31.6h0M31.0 29.2h0M39.0 44.8h0M39.4 51.7h0M26.9 21.4h0M36.3 8.8h0M26.5 16.8h0M42.0 20.0h0M30.1 20.8h0M31.0 22.2h0M41.1 45.2h0M50.4 38.6h0M31.0 15.9h0M35.1 13.2h0M51.3 37.0h0M36.0 26.8h0M30.5 5.5h0M26.3 19.8h0M39.0 5.2h0M30.0 10.4h0M33.7 29.9h0M48.5 39.0h0M37.9 39.7h0" stroke="#dcdc28"/>
<path d="M42.7 45.2h0M51.7 11.2h0M41.4 14.8h0M46.4 31.0h0M49.1 28.4h0M32.6 19.4h0M47.4 18.3h0M32.3 32.8h0M43.4 34.0h0M50.2 29.1h0M40.5 41.4h0M42.7 41.0h0M45.0 29.1h0M34.7 44.7h0M55.6 27.0h0M47.9 47.1h0M31.8 25.7h0M45.7 49.0h0M46.1 27.5h0M32.0 3.0h0M32.1 9.3h0M46.6 42.1h0M40.9 28.7h0M53.4 19.7h0M42.3 7.2h0M40.9 23.6h0M41.5 32.9h0M29.6 2.7h0M35.0 10.2h0M56.4 28.0h0M43.5 17.9h0M39.2 46.4h0M29.7 35.6h0M54.0 14.2h0M42.3 33.7h0M46.6 22.6h0M37.8 8.0h0M38.5 1.8h0M39.4 17.6h0M34.8 38.8h0M49.2 42.4h0M30.7 12.4h0M57.6 25.3h0M43.9 36.8h0M39.9 4.8h0M38.5 2.7h0M49.7 40.9h0M50.2 7.9h0M35.2 32.3h0M29.9 13.2h0M51.5 8.8h0M41.2 43.9h0M32.6 43.5h0M43.3 22.9h0M46.2 30.3h0M24.8 5.5h0M49.0 38.3h0M39.3 7.2h0M24.1 2.9h0M38.4 42.3h0M45.5 17.4h0M44.5 44.4h0M23.6 13.6h0M40.9 5.5h0M40.8 10.1h0M36.9 43.9h0M53.3 11.9h0M50.5 30.0h0M26.5 2.5h0M41.1 39.9h0M37.4 4.5h0M28.8 23.0h0M26.2 4.6h0M56.5 23.1h0M30.8 20.4h0M33.7 41.0h0M42.0 28.3h0M22.8 3.9h0M35.8 4.4h0M42.4 2.3h0M39.5 8.1h0M31.9 23.9h0M32.8 22.2h0M35.4 10.2h0M24.7 9.4h0M49.4 29.9h0M44.0 19.3h0M47.9 27.7h0M30.1 50.6h0M47.9 27.9h0M52.7 17.5h0M25.1 16.3h0M45.2 26.6h0M28.7 11.7h0M29.1 13.7h0M42.5 30.8h0M49.0 38.8h0M32.6 6.2h0M33.0 0.8h0M55.4 30.0h0M51.9 38.3h0M33.5 25.6h0M47.1 27.6h0M40.5 26.3h0M38.6 43.7h0M28.9 7.9h0M43.6 44.3h0M40.5 6.3h0M48.4 24.8h0M46.0 32.6h0M34.9 21.6h0M43.1 42.9h0M35.3 1.0h0M30.0 43.3h0M44.3 32.3h0M31.8 12.9h0M53.1 42.2h0M50.2 34.8h0M41.0 8.8h0M46.5 10.4h0M37.0 22.3h0M31.3 17.5h0M40.9 46.9h0M34.1 35.4h0M56.5 25.5h0M33.2 8.0h0M54.6 35.9h0M41.1 45.5h0M49.6 29.8h0M54.4 16.4h0M45.4 29.6h0M36.3 16.9h0M42.0 46.3h0M50.9 45.7h0M48.1 5.4h0M53.1 18.8h0M48.0 45.2h0M39.8 37.2h0M33.5 26.1h0M43.2 36.0h0M33.8 9.4h0M34.3 3.5h0M35.5 40.1h0M39.6 10.7h0M35.6 8.8h0M48.9 37.2h0M34.9 18.7h0M37.9 15.9h0M50.6 31.9h0M29.5 19.3h0M28.5 13.0h0M34.9 9.9h0M32.6 20.6h0M42.2 7.0h0M51.4 20.3h0M53.3 40.1h0M39.8 4.5h0M55.4 27.8h0M37.8 43.5h0M54.6 39.7h0M42.5 17.2h0M34.4 21.8h0M45.6 36.1h0M53.4 17.5h0M43.8 32.7h0M40.6 26.7h0M54.5 35.2h0M36.1 10.4h0M49.1 29.1h0M31.4 11.1h0M43.1 22.4h0M49.0 13.0h0M27.8 15.6h0M40.0 46.8h0M50.4 17.3h0M44.2 28.8h0M27.8 17.5h0M34.1 30.3h0M42.2 51.5h0M44.7 24.9h0M41.6 32.1h0M47.1 26.6h0M30.8 3.4h0M29.5 10.2h0M31.5 36.4h0M34.0 23.6h0M36.6 21.1h0M42.6 35.6h0M15.8 6.2h0M26.8 20.4h0M41.7 26.4h0M35.0 11.9h0M41.3 41.7h0" stroke="#c8dc28"/>
<path d="M9.2 30.6h0M10.0 27.9h0M15.4 29.2h0M11.1 30.3h0M13.1 27.5h0M10.0 34.1h0M9.3 40.5h0M15.2 39.7h0M15.3 38.3h0M10.6 37.9h0M10.0 31.5h0M10.1 29.7h0M10.5 36.4h0M8.5 38.9h0" stroke="#dc2814"/>
<path d="M21.2 49.0h0M18.9 28.4h0M22.0 31.6h0M6.0 23.5h0M13.1 22.9h0M12.4 21.4h0M20.2 24.6h0M29.4 23.9h0M9.0 40.7h0M13.9 21.0h0M25.4 50.3h0M21.1 50.5h0M14.0 44.3h0M25.6 46.7h0M18.1 39.4h0M18.8 24.8h0M22.1 24.0h0M10.8 18.9h0M22.3 34.3h0M10.7 40.7h0M22.2 36.0h0M16.8 27.7h0M25.2 26.7h0M27.3 48.3h0M11.0 18.2h0M15.3 45.1h0M18.5 46.3h0M23.3 45.5h0M19.7 41.4h0M8.8 18.3h0M19.2 21.1h0M18.2 46.9h0M24.4 46.6h0M13.2 44.2h0M11.0 42.1h0M18.1 44.2h0M14.0 23.5h0M24.4 34.5h0M24.8 33.7h0M20.2 26.4h0M16.1 21.7h0M21.1 28.2h0M22.8 46.3h0M9.1 21.3h0M17.5 22.9h0M16.3 38.1h0M23.1 31.0h0M9.6 26.3h0M22.6 30.2h0M9.1 30.1h0M23.2 24.5h0M22.8 42.9h0M17.5 20.1h0M24.3 46.8h0" stroke="#f0a028"/>
<path d="M10.9 25.2h0M10.4 36.5h0M11.6 37.6h0M19.1 28.1h0M19.4 34.0h0M22.6 27.9h0M20.9 46.5h0M17.6 24.2h0M18.7 31.5h0M19.0 45.7h0M10.8 25.0h0M19.5 24.6h0M22.8 42.2h0M22.2 34.8h0" stroke="#f07828"/>
<path d="M19.1 46.4h0M20.0 19.7h0M22.7 36.5h0M19.6 42.1h0M23.5 46.8h0M19.9 24.7h0M25.6 46.6h0M26.7 48.4h0M18.8 22.7h0M14.8 48.1h0M17.8 19.3h0M18.1 16.2h0M21.1 47.3h0M22.6 50.0h0M22.1 33.3h0M22.9 20.5h0M20.8 22.7h0M18.9 50.7h0M27.5 38.6h0M16.5 25.1h0M23.6 50.5h0M28.7 44.3h0M20.1 24.5h0M24.4 22.4h0M19.5 21.6h0M25.2 32.1h0M27.8 44.2h0M24.6 28.9h0M23.9 35.1h0M14.4 18.1h0M23.2 35.4h0M10.0 20.6h0M26.7 44.8h0M24.3 29.7h0M23.2 37.0h0M26.8 33.2h0M19.9 20.2h0M20.1 15.5h0M13.5 45.5h0M23.6 25.2h0M24.8 35.1h0M18.0 42.6h0M27.8 37.1h0M24.9 30.3h0M32.6 39.6h0M23.2 47.5h0M24.5 43.7h0M19.6 49.4h0M25.4 46.6h0M10.7 23.6h0M6.4 18.7h0M25.0 50.1h0M20.2 46.9h0M21.5 47.4h0M20.4 35.7h0M19.7 45.0h0M19.8 22.2h0M11.5 11.7h0M20.7 20.6h0" stroke="#f0b428"/>
<path d="M7.1 21.5h0M16.8 19.4h0M7.6 19.5h0M19.5 42.2h0M14.4 45.7h0M6.7 21.6h0M9.7 23.3h0M15.2 48.1h0M12.1 37.3h0M19.3 18.3h0M12.4 27.5h0M21.3 38.2h0M20.5 34.1h0M24.5 23.6h0M19.7 28.0h0M13.6 24.3h0M24.3 47.6h0M13.4 26.8h0M21.7 28.5h0M22.7 31.9h0M27.5 35.9h0M17.4 47.9h0M6.9 21.0h0M13.6 26.4h0M12.2 26.2h0M18.7 28.3h0M25.8 44.3h0M18.5 47.1h0M23.0 46.1h0M19.6 45.9h0M13.9 41.7h0M8.3 22.8h0M25.0 37.9h0M21.0 48.4h0M15.3 28.0h0M16.3 27.8h0M20.0 38.7h0M22.5 34.9h0M22.5 41.8h0M21.9 28.3h0M20.9 28.3h0" stroke="#f08c28"/>
<path d="M34.1 11.4h0M49.4 15.9h0M44.6 6.9h0M28.2 3.0h0M30.8 3.8h0M34.8 21.3h0M48.8 26.2h0M46.8 25.8h0M40.1 10.1h0M41.4 41.3h0M38.5 4.3h0M46.5 19.2h0M49.5 8.3h0M48.2 32.6h0M55.8 22.1h0M55.3 21.9h0M50.6 14.7h0" stroke="#a0dc28"/>
<path d="M8.6 25.7h0M13.0 39.8h0M7.2 29.4h0M5.6 24.4h0M15.5 43.1h0M15.0 42.7h0M18.5 29.3h0M13.4 29.5h0M13.0 28.0h0M14.1 31.0h0M23.4 37.8h0M15.0 44.1h0M8.5 23.6h0M7.6 28.1h0M17.6 38.5h0M14.8 29.9h0M12.2 37.4h0M8.9 35.8h0M8.2 26.0h0M18.1 29.4h0M15.3 39.9h0M15.4 37.6h0M11.3 27.1h0M9.7 21.7h0M12.1 24.6h0M13.5 44.1h0M10.1 24.7h0M14.9 39.3h0M9.5 34.0h0M12.7 22.1h0M18.6 30.5h0M12.0 32.9h0M20.0 23.6h0M14.2 39.8h0M11.8 41.6h0M12.8 42.0h0M14.5 41.2h0M8.4 24.8h0M13.2 34.7h0M14.6 43.2h0M9.0 38.6h0M12.7 40.2h0M17.9 39.0h0M17.2 28.8h0M12.0 35.9h0M18.4 46.6h0M11.0 34.3h0M8.7 25.1h0M17.2 28.5h0M16.0 31.9h0M18.8 30.0h0M13.6 38.3h0M15.5 38.3h0M14.2 44.3h0M9.1 27.8h0M13.3 36.8h0M12.2 42.9h0M8.3 37.4h0M18.0 38.3h0" stroke="#dc6428"/>
<path d="M50.3 12.2h0M35.5 3.6h0M47.6 26.3h0M44.0 6.2h0M43.1 42.3h0M34.3 43.5h0M59.0 29.6h0M35.4 3.1h0M38.0 9.5h0M38.7 11.5h0M27.0 3.9h0M27.6 3.9h0M41.5 51.9h0M40.8 41.9h0M50.5 9.1h0M42.8 22.3h0M42.0 37.1h0M44.0 36.8h0M57.6 32.2h0M28.5 4.2h0M34.7 4.2h0M42.7 42.7h0M37.2 3.3h0M26.3 1.4h0M50.5 28.1h0M39.0 18.7h0M52.8 15.6h0M46.1 15.2h0M44.1 14.1h0M58.9 25.4h0M44.2 9.1h0M54.5 19.7h0M38.5 3.1h0M49.0 30.6h0M51.5 14.1h0M33.7 10.3h0M49.6 22.0h0M47.0 33.7h0M52.8 41.0h0M45.6 42.2h0M45.6 6.2h0M43.6 26.7h0M53.9 28.1h0M46.7 20.5h0M36.4 5.9h0M54.2 14.3h0M34.2 14.8h0M41.0 17.7h0M51.0 40.2h0M43.2 13.9h0M35.3 27.8h0M42.3 19.0h0M52.7 35.5h0M57.2 27.8h0M49.3 7.4h0M42.9 21.1h0M45.0 34.8h0M47.1 16.8h0M46.6 14.8h0M39.6 4.4h0M40.7 42.4h0M40.2 38.0h0M46.1 42.5h0M44.4 22.2h0M44.9 7.4h0M46.7 31.3h0M28.0 1.3h0M35.5 2.5h0M58.0 21.3h0M30.9 20.1h0M40.3 6.1h0M28.9 1.9h0M52.6 23.7h0M53.5 23.1h0M46.1 39.7h0M46.8 33.8h0M35.6 9.4h0M42.1 26.5h0M38.1 8.6h0M49.9 41.3h0M51.4 28.2h0M38.9 14.3h0M26.5 1.9h0M41.7 8.2h0M45.7 8.1h0M48.3 35.3h0M40.5 3.8h0M55.3 25.4h0M42.5 32.8h0" stroke="#a0c828"/>
<path d="M7.0 27.8h0M14.5 42.8h0M13.7 27.4h0M13.2 37.2h0M21.5 33.7h0M14.7 38.0h0M7.1 28.9h0M16.9 30.1h0M10.3 32.1h0M18.7 35.3h0M15.4 23.3h0M20.3 29.4h0M10.4 42.0h0M7.8 34.5h0M13.6 46.3h0M8.1 39.8h0M17.6 31.9h0M13.4 29.3h0M13.3 41.6h0M6.2 21.4h0M11.9 41.3h0M15.9 24.0h0M8.8 35.5h0M18.6 35.3h0M13.8 28.7h0M9.2 30.7h0M17.0 45.7h0M16.6 39.5h0M7.8 27.2h0M13.1 27.4h0M6.3 23.4h0M6.9 23.7h0M11.5 38.3h0M19.1 40.9h0" stroke="#dc7828"/>
<path d="M14.2 40.7h0M10.9 32.8h0M8.9 36.7h0M8.6 37.1h0M6.5 26.6h0M8.7 36.2h0M14.5 39.3h0M10.1 29.3h0M13.4 26.9h0M8.9 30.2h0M17.5 32.0h0M7.4 28.6h0M11.4 39.6h0M6.7 28.9h0M11.8 29.5h0M12.0 35.1h0M15.1 28.4h0M10.2 31.8h0M15.8 40.7h0M11.5 35.3h0M11.2 30.6h0" stroke="#dc3c14"/>
<path d="M19.9 26.7h0M10.6 36.6h0" stroke="#dc5028"/>
<path d="M58.1 30.1h0M48.4 25.5h0M48.8 41.4h0M47.1 16.5h0M48.8 25.0h0M47.5 29.8h0" stroke="#78c828"/>
<path d="M54.6 13.3h0M40.8 26.2h0" stroke="#78b43c"/>
</g>
<rect x="163.90" y="546.6" width="60.3" height="59.9" fill="none" stroke="#999" stroke-width="0.8"/>
<text x="194.05" y="542.10" font-size="8.5" text-anchor="middle" fill="#111" textLength="27" lengthAdjust="spacingAndGlyphs" >CD209</text>
<g transform="translate(163.90 546.60)" stroke-width=".95" stroke-linecap="square">
<path d="M43.7 22.9h0M45.0 19.5h0M47.7 32.1h0M46.4 20.0h0M29.3 35.0h0M36.2 44.7h0M37.3 51.5h0M34.6 44.3h0M29.4 39.1h0M23.5 21.1h0M34.1 11.4h0M27.5 13.3h0M41.5 24.2h0M33.0 29.5h0M39.7 16.0h0M38.8 10.9h0M32.3 32.8h0M34.4 18.1h0M18.5 29.3h0M47.6 26.3h0M32.2 34.6h0M40.5 37.3h0M32.7 29.7h0M46.1 17.3h0M40.6 9.7h0M46.1 27.5h0M31.6 27.7h0M29.7 23.1h0M31.1 0.9h0M45.7 36.1h0M29.3 21.7h0M25.3 47.2h0M31.1 8.4h0M48.4 32.2h0M38.5 1.8h0M34.2 40.1h0M42.0 37.1h0M43.6 31.3h0M52.3 11.0h0M40.3 42.3h0M31.8 38.5h0M25.9 26.2h0M30.7 12.4h0M34.9 40.7h0M30.8 3.8h0M28.4 3.9h0M52.4 42.9h0M51.5 8.8h0M19.9 26.7h0M44.0 37.0h0M35.7 27.7h0M37.7 42.5h0M52.8 15.6h0M31.3 2.9h0M23.2 20.9h0M40.9 5.5h0M39.9 45.5h0M36.9 25.0h0M37.0 8.6h0M26.5 2.5h0M25.3 16.1h0M18.1 12.0h0M28.8 23.0h0M30.8 20.4h0M29.9 51.6h0M37.1 48.4h0M35.4 3.6h0M40.2 39.4h0M28.1 21.7h0M31.2 19.3h0M32.2 43.2h0M38.6 22.9h0M42.4 16.9h0M28.6 52.1h0M42.5 12.7h0M49.6 22.0h0M53.3 40.7h0M39.9 41.9h0M45.5 34.7h0M42.8 33.5h0M47.0 33.7h0M51.4 23.2h0M41.5 40.4h0M45.6 6.2h0M23.2 35.4h0M23.1 8.2h0M28.6 2.9h0M41.5 40.8h0M45.7 29.3h0M21.7 28.5h0M28.7 15.2h0M27.3 7.5h0M15.9 24.0h0M39.9 28.2h0M43.1 42.9h0M27.4 19.7h0M44.3 32.3h0M20.0 7.8h0M39.4 19.7h0M34.2 14.8h0M37.7 9.5h0M36.9 26.9h0M39.9 30.9h0M51.0 40.2h0M25.3 25.3h0M42.3 19.0h0M22.8 8.7h0M29.4 6.6h0M45.4 29.6h0M40.3 35.9h0M55.4 39.3h0M47.1 16.8h0M30.7 52.2h0M41.5 30.4h0M26.4 36.4h0M46.6 14.8h0M38.7 21.1h0M36.6 7.7h0M45.0 17.5h0M39.8 37.2h0M20.1 15.5h0M31.7 0.1h0M40.7 42.4h0M40.2 38.0h0M43.8 50.3h0M31.6 53.8h0M48.1 39.5h0M13.8 12.8h0M27.0 25.3h0M32.3 40.8h0M39.1 8.2h0M24.3 22.2h0M33.5 25.8h0M37.7 10.3h0M34.9 18.7h0M49.5 8.3h0M25.6 8.8h0M29.2 1.5h0M18.7 28.3h0M41.2 51.0h0M36.8 46.5h0M10.1 29.7h0M52.9 40.5h0M31.5 21.8h0M39.7 26.3h0M35.7 4.8h0M50.6 41.7h0M40.3 6.1h0M54.6 39.7h0M34.3 11.5h0M23.2 24.5h0M37.6 24.2h0M24.8 38.0h0M26.9 21.4h0M47.5 37.6h0M32.5 25.8h0M32.1 44.0h0M26.0 21.3h0M31.0 22.2h0M49.9 41.3h0M22.9 8.3h0M34.4 23.0h0M34.6 53.4h0M36.4 25.7h0M41.4 8.0h0M46.6 41.4h0M28.9 23.3h0M38.9 14.3h0M24.5 25.9h0M33.1 42.6h0M39.0 7.1h0M51.3 37.0h0M42.2 51.5h0M42.4 16.1h0M41.6 32.1h0M31.3 13.5h0M26.3 19.8h0M34.0 23.6h0M23.4 15.5h0M36.6 21.1h0M42.6 47.6h0M32.1 35.2h0M30.0 10.4h0M26.0 11.8h0M42.1 9.3h0M33.7 29.9h0M51.0 40.6h0M21.9 28.3h0" stroke="#f0f028"/>
<path d="M41.0 17.1h0M47.0 30.3h0M37.8 32.2h0M41.0 23.4h0M39.4 27.8h0M48.3 7.7h0M32.6 19.4h0M28.1 5.9h0M49.2 18.7h0M49.6 48.2h0M43.1 42.3h0M27.0 49.0h0M23.4 37.8h0M38.7 11.5h0M32.1 9.3h0M27.0 3.9h0M45.1 42.9h0M53.4 19.7h0M41.2 45.1h0M31.3 22.1h0M41.5 32.9h0M35.0 10.2h0M42.5 23.2h0M56.4 28.0h0M51.9 43.4h0M42.3 33.7h0M48.0 39.9h0M51.3 26.2h0M37.8 8.0h0M49.9 6.5h0M40.6 9.2h0M49.2 42.4h0M31.4 43.2h0M43.8 13.5h0M32.0 27.7h0M38.3 7.0h0M28.5 4.2h0M34.7 4.2h0M49.7 40.9h0M32.3 45.3h0M35.2 32.3h0M50.4 38.8h0M32.1 23.3h0M41.3 3.2h0M41.9 34.8h0M28.0 6.3h0M24.8 5.5h0M54.9 35.3h0M47.5 26.3h0M27.5 38.6h0M46.8 34.1h0M50.5 30.0h0M32.3 23.8h0M44.1 14.1h0M22.8 3.9h0M39.4 22.0h0M35.1 3.3h0M42.6 15.3h0M42.4 2.3h0M41.5 22.7h0M39.5 8.1h0M32.8 22.2h0M35.4 10.2h0M53.3 42.6h0M44.2 9.1h0M24.7 9.4h0M49.4 29.9h0M55.6 18.7h0M52.7 17.5h0M25.1 16.3h0M48.6 17.8h0M31.1 40.7h0M43.6 22.9h0M48.4 25.5h0M42.5 30.8h0M49.0 38.8h0M49.7 27.2h0M45.6 42.2h0M43.6 26.7h0M33.0 0.8h0M57.4 34.5h0M53.9 28.1h0M51.9 38.3h0M51.5 22.5h0M35.1 29.3h0M38.6 43.7h0M33.6 34.0h0M52.1 28.6h0M48.0 10.1h0M36.6 2.4h0M48.4 24.8h0M48.1 30.6h0M34.9 21.6h0M48.8 25.0h0M30.0 43.3h0M48.5 38.3h0M41.0 8.8h0M39.5 10.0h0M51.8 39.2h0M40.9 46.9h0M33.2 8.0h0M54.6 35.9h0M49.6 29.8h0M43.2 13.9h0M43.7 19.4h0M48.3 34.5h0M55.3 30.5h0M48.4 28.7h0M48.2 40.5h0M35.6 11.6h0M45.5 18.3h0M39.6 4.4h0M43.2 36.0h0M57.7 33.6h0M33.8 9.4h0M43.6 36.8h0M46.1 42.5h0M38.5 4.3h0M49.4 12.8h0M43.6 10.4h0M44.6 40.3h0M42.7 17.8h0M44.9 7.4h0M46.7 31.3h0M19.2 15.3h0M50.6 31.9h0M43.0 44.9h0M35.5 2.5h0M38.7 31.5h0M34.9 42.5h0M51.4 20.3h0M48.9 46.1h0M42.4 34.3h0M41.0 4.9h0M55.4 27.8h0M40.8 11.5h0M46.1 39.7h0M32.5 31.7h0M29.5 22.7h0M53.8 15.0h0M49.0 9.4h0M42.1 26.5h0M42.0 20.0h0M30.1 20.8h0M54.5 35.2h0M24.9 6.2h0M35.1 13.2h0M27.8 15.6h0M50.4 17.3h0M44.2 28.8h0M50.4 26.3h0M45.7 8.1h0M33.4 1.5h0M45.0 32.1h0M30.8 3.4h0M48.3 35.3h0M44.4 26.1h0M42.6 35.6h0M42.7 18.8h0M45.7 18.6h0M55.3 25.4h0M35.0 11.9h0" stroke="#c8dc28"/>
<path d="M30.8 39.1h0M27.9 49.1h0M34.3 30.3h0M18.8 15.1h0M22.7 36.5h0M26.9 36.3h0M51.8 42.4h0M44.9 18.4h0M36.1 40.7h0M34.4 34.9h0M27.4 17.7h0M33.8 27.0h0M17.1 13.0h0M42.6 49.2h0M40.0 51.8h0M13.1 22.9h0M43.4 34.0h0M24.2 45.1h0M40.7 45.8h0M5.6 24.4h0M25.6 46.6h0M35.5 3.6h0M42.7 41.0h0M34.1 35.1h0M36.3 1.6h0M47.9 47.1h0M30.5 36.9h0M57.8 27.5h0M24.2 50.9h0M43.9 32.3h0M33.1 11.8h0M36.3 34.2h0M38.0 9.5h0M27.6 3.9h0M37.9 45.8h0M21.1 50.5h0M24.9 4.0h0M11.1 30.3h0M29.5 9.9h0M21.5 15.5h0M32.8 32.3h0M25.1 13.3h0M30.7 33.2h0M35.4 34.1h0M18.1 16.2h0M33.5 22.6h0M28.2 3.0h0M34.1 8.8h0M40.9 23.6h0M29.6 2.7h0M13.1 27.5h0M40.8 41.9h0M32.3 24.5h0M42.8 22.3h0M39.2 46.4h0M22.1 33.3h0M46.6 22.6h0M37.5 3.1h0M39.6 49.9h0M34.8 38.8h0M18.1 29.4h0M31.8 36.2h0M38.5 50.5h0M29.7 36.8h0M43.9 36.8h0M45.5 47.1h0M22.2 36.0h0M29.6 22.8h0M16.8 27.7h0M40.5 25.2h0M11.3 27.1h0M42.6 20.2h0M38.5 2.7h0M50.2 7.9h0M27.3 48.3h0M29.9 13.2h0M41.2 43.9h0M39.5 24.6h0M39.5 29.1h0M33.7 11.8h0M13.5 44.1h0M42.7 42.7h0M17.4 17.2h0M29.2 51.3h0M10.8 40.8h0M26.3 1.4h0M41.4 29.4h0M25.9 14.3h0M18.5 46.3h0M24.1 2.9h0M38.4 42.3h0M34.1 9.9h0M48.8 26.2h0M8.8 18.3h0M29.7 53.5h0M12.1 37.3h0M45.5 17.4h0M28.9 33.6h0M29.1 52.4h0M19.3 18.3h0M19.2 21.1h0M42.6 42.3h0M25.3 7.6h0M24.8 51.7h0M30.1 4.8h0M20.5 34.1h0M40.2 49.4h0M47.2 48.1h0M42.0 28.3h0M26.5 18.6h0M26.4 10.8h0M39.7 34.9h0M33.4 29.9h0M20.1 24.5h0M31.9 23.9h0M24.4 22.4h0M30.9 11.2h0M19.5 21.6h0M37.0 5.2h0M41.7 31.6h0M30.0 22.1h0M43.9 30.4h0M30.1 50.6h0M19.7 28.0h0M23.8 6.1h0M27.8 44.2h0M30.2 15.2h0M20.0 23.6h0M26.3 27.5h0M31.5 18.8h0M28.5 9.5h0M24.3 47.6h0M16.3 17.9h0M36.7 27.0h0M34.0 31.9h0M31.1 21.4h0M33.0 19.6h0M12.5 16.6h0M32.9 24.0h0M23.9 35.1h0M27.0 5.4h0M21.9 13.4h0M29.6 24.3h0M23.0 2.8h0M39.7 45.7h0M36.9 42.9h0M36.5 33.5h0M24.4 12.3h0M36.8 14.0h0M28.5 9.9h0M24.5 5.1h0M46.4 30.8h0M45.5 33.8h0M48.8 41.4h0M40.9 30.6h0M35.9 9.1h0M13.2 34.7h0M25.0 21.5h0M27.7 32.8h0M28.9 7.9h0M43.6 44.3h0M28.7 2.5h0M24.4 34.5h0M48.3 43.3h0M31.8 42.8h0M20.2 26.4h0M46.0 32.6h0M46.0 39.8h0M42.2 44.9h0M35.3 1.0h0M31.8 12.9h0M15.2 17.7h0M24.3 29.7h0M25.0 13.5h0M27.6 9.8h0M37.0 22.3h0M16.1 24.0h0M41.0 17.7h0M48.1 45.9h0M25.9 34.1h0M47.8 25.2h0M23.2 37.0h0M35.3 27.8h0M17.9 39.0h0M23.7 11.9h0M36.3 16.9h0M23.0 24.4h0M22.1 20.0h0M50.9 45.7h0M22.8 46.3h0M9.2 36.1h0M19.9 20.2h0M48.0 45.2h0M29.0 15.3h0M17.5 22.9h0M27.5 34.3h0M26.4 37.9h0M34.3 3.5h0M13.5 45.5h0M23.6 25.2h0M24.0 9.0h0M35.5 40.1h0M25.9 6.2h0M41.4 41.3h0M18.2 16.5h0M44.2 40.9h0M24.8 35.1h0M26.8 23.8h0M31.4 15.0h0M30.2 41.0h0M28.9 29.3h0M44.4 22.2h0M35.6 8.8h0M24.7 11.6h0M23.1 31.0h0M33.0 11.5h0M48.9 37.2h0M46.5 19.2h0M24.9 30.3h0M36.9 10.8h0M26.9 36.0h0M26.7 42.7h0M37.9 15.9h0M41.9 47.1h0M38.6 50.5h0M32.6 39.6h0M29.5 19.3h0M9.6 26.3h0M34.3 2.5h0M28.0 1.3h0M28.5 13.0h0M18.7 31.5h0M26.2 8.6h0M32.6 20.6h0M25.5 14.9h0M24.2 48.2h0M38.0 48.9h0M40.3 31.2h0M24.5 43.7h0M23.3 9.7h0M34.8 7.0h0M30.4 44.1h0M29.3 17.7h0M38.2 43.2h0M24.9 31.3h0M42.4 21.1h0M27.9 1.3h0M37.8 43.5h0M26.3 36.8h0M46.9 31.5h0M18.8 30.0h0M25.4 46.6h0M18.5 18.4h0M55.4 39.0h0M10.7 23.6h0M22.7 46.3h0M41.5 28.9h0M21.6 16.8h0M45.6 36.1h0M33.9 40.1h0M40.6 26.7h0M24.1 5.6h0M37.4 49.6h0M20.0 14.1h0M24.9 42.3h0M49.8 44.8h0M10.5 36.4h0M41.4 42.5h0M36.1 10.4h0M43.1 22.4h0M35.2 34.0h0M30.6 53.6h0M27.2 31.0h0M26.3 5.7h0M22.4 12.5h0M26.5 1.9h0M27.8 17.5h0M27.8 36.9h0M34.1 30.3h0M11.5 11.7h0M26.1 30.0h0M36.0 26.8h0M29.5 10.2h0M39.0 5.2h0M17.5 20.1h0M15.8 6.2h0M40.5 3.8h0M26.9 47.9h0M22.5 34.9h0M37.4 8.6h0M23.4 27.0h0M33.2 43.1h0M30.2 28.8h0M28.0 10.0h0M41.3 41.7h0" stroke="#f0dc28"/>
<path d="M25.1 15.7h0M42.7 45.2h0M9.2 30.6h0M25.5 42.8h0M29.4 23.0h0M19.1 46.4h0M34.2 33.9h0M8.6 25.7h0M34.7 43.1h0M23.2 16.3h0M28.1 48.3h0M37.0 46.3h0M28.7 47.2h0M10.4 36.5h0M46.5 49.1h0M18.9 28.4h0M27.1 52.5h0M25.2 40.2h0M19.6 42.1h0M22.0 31.6h0M15.4 29.2h0M31.5 44.7h0M11.6 37.6h0M26.2 49.5h0M25.3 32.1h0M33.1 28.6h0M7.6 19.5h0M15.5 43.1h0M19.9 24.7h0M22.9 46.4h0M40.5 41.4h0M22.5 22.4h0M13.4 29.5h0M20.2 24.6h0M29.4 23.9h0M13.9 21.0h0M25.4 50.3h0M13.7 27.4h0M31.8 25.7h0M34.3 43.5h0M13.0 28.0h0M33.3 6.0h0M26.7 48.4h0M32.3 37.8h0M23.1 38.1h0M26.2 24.3h0M37.1 38.0h0M26.1 46.0h0M30.2 42.0h0M33.6 25.6h0M18.8 22.7h0M10.9 32.8h0M29.1 34.8h0M13.2 37.2h0M17.8 19.3h0M21.1 47.3h0M21.7 44.8h0M36.9 45.7h0M8.5 23.6h0M22.9 33.1h0M36.7 32.0h0M18.8 24.8h0M38.8 31.4h0M26.6 8.6h0M7.6 28.1h0M17.6 38.5h0M26.5 35.9h0M22.1 24.0h0M28.5 28.4h0M41.6 51.3h0M14.8 29.9h0M22.6 50.0h0M14.0 18.1h0M6.7 21.6h0M29.0 39.8h0M14.7 38.0h0M36.0 42.2h0M44.4 47.4h0M10.7 40.7h0M27.2 40.7h0M27.3 40.2h0M31.1 32.8h0M19.1 28.1h0M17.7 46.9h0M27.8 15.6h0M9.7 21.7h0M12.1 24.6h0M17.6 10.8h0M15.9 11.9h0M24.5 45.8h0M9.7 23.3h0M7.1 28.9h0M22.9 20.5h0M19.1 22.5h0M15.2 48.1h0M34.8 21.3h0M25.5 39.2h0M25.4 9.9h0M25.6 19.2h0M32.6 43.5h0M24.7 5.4h0M10.1 24.7h0M16.9 30.1h0M39.1 48.9h0M41.0 34.1h0M18.7 35.3h0M45.4 38.9h0M29.6 45.5h0M15.2 39.7h0M15.4 23.3h0M30.0 41.4h0M19.7 41.4h0M10.8 25.4h0M12.7 22.1h0M18.6 30.5h0M30.0 24.7h0M20.3 29.4h0M15.3 38.3h0M30.9 28.4h0M25.7 27.6h0M18.2 46.9h0M23.6 50.5h0M7.4 24.1h0M44.5 17.7h0M26.3 21.8h0M33.7 41.0h0M24.4 46.6h0M25.5 23.4h0M17.6 31.9h0M27.1 12.2h0M36.3 25.9h0M28.1 49.2h0M39.7 40.2h0M12.6 36.9h0M13.2 44.2h0M11.0 42.1h0M29.0 33.9h0M25.8 20.5h0M39.8 22.9h0M12.4 35.4h0M26.2 33.8h0M25.2 32.1h0M13.6 24.3h0M13.3 41.6h0M17.9 11.3h0M39.1 49.3h0M10.6 12.0h0M13.4 26.8h0M12.8 42.0h0M28.7 11.7h0M10.1 29.3h0M35.1 46.2h0M22.9 36.0h0M19.4 34.0h0M34.1 42.9h0M8.9 30.2h0M22.6 27.9h0M12.3 28.6h0M41.3 44.1h0M14.0 23.5h0M24.8 42.0h0M24.8 33.7h0M31.2 24.9h0M27.5 35.9h0M34.2 53.3h0M10.0 20.6h0M26.7 44.8h0M12.7 40.2h0M34.4 45.2h0M17.5 32.0h0M27.5 9.3h0M16.1 21.7h0M31.3 17.5h0M24.7 34.4h0M22.7 48.8h0M18.6 35.3h0M17.4 47.9h0M26.0 36.2h0M26.4 4.5h0M11.2 13.8h0M20.9 46.5h0M26.2 43.0h0M26.8 33.2h0M37.0 29.9h0M28.2 12.2h0M34.3 9.0h0M21.1 12.2h0M15.0 40.2h0M6.9 21.0h0M13.3 45.3h0M9.1 21.3h0M36.6 34.1h0M17.2 28.8h0M29.3 24.7h0M11.5 38.6h0M17.6 24.2h0M27.9 35.8h0M33.5 26.1h0M9.9 33.1h0M11.5 17.7h0M16.3 38.1h0M29.6 52.3h0M12.2 26.2h0M27.5 23.2h0M18.6 20.8h0M17.0 45.7h0M18.4 46.6h0M30.2 17.4h0M19.0 14.8h0M46.1 44.8h0M38.2 47.7h0M18.0 42.6h0M28.0 41.3h0M46.1 37.5h0M29.3 30.2h0M17.9 10.1h0M24.3 29.1h0M24.6 32.8h0M38.9 39.3h0M12.7 25.5h0M27.3 43.7h0M34.3 52.6h0M16.6 39.5h0M7.8 27.2h0M10.0 31.5h0M43.4 45.3h0M23.2 47.5h0M22.6 30.2h0M11.1 37.2h0M8.6 25.4h0M26.4 38.0h0M10.2 31.8h0M28.1 53.4h0M21.6 2.1h0M25.8 44.3h0M19.5 46.6h0M23.3 11.5h0M35.2 34.3h0M26.1 24.4h0M11.5 35.3h0M13.6 46.0h0M30.7 20.5h0M26.5 37.6h0M39.0 44.8h0M21.0 48.6h0M13.6 38.3h0M40.1 45.3h0M15.5 38.3h0M16.5 17.7h0M23.0 46.1h0M19.6 45.9h0M25.0 50.1h0M20.2 46.9h0M30.4 23.4h0M33.0 42.7h0M13.8 10.3h0M14.2 44.3h0M21.5 47.4h0M25.0 37.9h0M20.6 20.0h0M6.9 23.7h0M31.0 15.9h0M27.0 35.3h0M40.0 46.8h0M20.4 35.7h0M22.8 42.9h0M9.1 27.8h0M19.5 24.6h0M22.8 42.2h0M22.2 34.8h0M11.5 38.3h0M8.8 29.4h0M22.5 41.8h0M11.2 30.6h0M20.7 20.6h0M30.0 45.2h0M8.7 18.6h0M24.3 46.8h0" stroke="#f0c828"/>
<path d="M47.4 29.9h0M53.8 37.5h0M58.2 33.4h0M50.3 12.2h0M35.9 2.7h0M47.7 20.3h0M21.6 14.8h0M36.5 10.6h0M30.2 15.5h0M45.0 29.1h0M54.6 15.9h0M34.3 10.3h0M34.7 44.7h0M30.9 24.9h0M45.4 43.8h0M45.7 49.0h0M47.1 36.0h0M32.0 3.0h0M35.4 3.1h0M26.0 52.2h0M46.6 42.1h0M42.3 7.2h0M41.5 51.9h0M25.2 12.1h0M29.0 23.8h0M31.4 40.8h0M35.8 33.1h0M44.0 36.8h0M44.1 45.9h0M35.4 27.1h0M41.8 41.3h0M35.3 28.3h0M27.4 32.3h0M19.6 5.4h0M25.2 11.1h0M46.3 13.0h0M46.2 30.3h0M42.0 30.5h0M27.7 25.1h0M39.8 49.1h0M49.0 38.3h0M25.1 18.5h0M39.3 7.2h0M55.3 36.1h0M31.2 28.3h0M31.7 23.5h0M23.6 13.6h0M40.8 10.1h0M57.3 24.7h0M36.9 43.9h0M46.1 15.2h0M41.7 22.2h0M28.9 15.8h0M26.2 4.6h0M23.8 7.8h0M41.8 41.4h0M24.6 36.2h0M35.8 4.4h0M44.2 49.6h0M36.7 28.1h0M28.7 16.8h0M38.7 6.9h0M26.1 13.3h0M39.3 50.2h0M53.1 38.7h0M33.0 2.3h0M47.0 27.8h0M37.4 9.9h0M30.8 21.3h0M47.9 27.7h0M33.7 10.3h0M24.6 28.9h0M43.8 30.9h0M26.7 22.4h0M52.8 41.0h0M47.9 7.7h0M42.0 15.1h0M32.6 6.2h0M47.5 15.2h0M31.6 3.2h0M30.9 2.5h0M33.5 25.6h0M47.1 27.6h0M38.9 13.1h0M41.6 18.4h0M46.7 20.5h0M40.5 6.3h0M45.8 35.0h0M36.4 5.9h0M28.8 1.9h0M44.0 27.6h0M41.1 45.5h0M52.7 35.5h0M57.2 27.8h0M48.1 5.4h0M27.7 32.3h0M51.5 32.6h0M48.6 35.8h0M46.8 41.6h0M21.2 10.9h0M34.5 8.0h0M41.9 18.2h0M31.9 7.8h0M27.8 37.1h0M47.4 34.0h0M44.0 21.3h0M33.0 12.0h0M41.5 30.9h0M50.9 10.3h0M53.3 40.1h0M34.4 21.8h0M43.8 32.7h0M46.8 33.8h0M35.6 9.4h0M26.5 16.8h0M38.1 8.6h0M49.1 29.1h0M49.0 13.0h0M40.5 12.5h0M44.7 24.9h0M47.1 26.6h0M30.5 5.5h0M45.4 31.1h0M45.1 11.5h0M32.9 37.9h0M35.0 12.2h0M42.5 32.8h0M37.9 39.7h0" stroke="#dcdc28"/>
<path d="M25.5 10.5h0M28.7 19.7h0M48.5 34.6h0M51.0 44.6h0M45.8 12.7h0M32.3 21.8h0M26.5 8.9h0M49.4 15.9h0M40.5 18.8h0M25.3 20.6h0M30.8 39.0h0M25.3 8.4h0M41.2 17.8h0M47.0 32.0h0M40.2 34.1h0M43.8 12.6h0M25.0 23.5h0M53.1 39.8h0M44.5 44.4h0M37.0 9.7h0M33.2 14.2h0M47.9 27.9h0M25.5 4.1h0M29.8 34.9h0M27.3 10.0h0M40.8 26.2h0M35.7 43.0h0M35.7 3.5h0M42.5 21.7h0M29.3 21.9h0M34.1 35.4h0M42.0 46.3h0M30.1 4.9h0M18.9 17.5h0M32.4 37.2h0M48.2 32.6h0M24.4 8.8h0M42.2 7.0h0M30.9 20.1h0M28.9 1.9h0M51.4 28.2h0M41.7 8.2h0M26.8 20.4h0M23.6 16.8h0" stroke="#dcf028"/>
<path d="M10.6 28.8h0M7.2 29.4h0M15.0 44.1h0M12.2 37.4h0M11.3 43.6h0M20.5 14.8h0M8.7 36.2h0M17.4 48.3h0M8.1 39.8h0M25.7 48.5h0M6.2 21.4h0M8.4 24.8h0M9.0 27.9h0M8.8 35.5h0M9.2 30.7h0M8.1 19.7h0M22.8 48.2h0M30.1 42.7h0M9.1 30.1h0" stroke="#f08c28"/>
<path d="M17.9 16.0h0M10.9 25.2h0M20.0 19.7h0M7.1 21.5h0M32.2 53.6h0M10.7 39.9h0M13.0 39.8h0M10.0 27.9h0M23.5 46.8h0M12.4 21.4h0M9.0 40.7h0M14.5 42.8h0M14.1 31.0h0M16.8 18.0h0M19.5 42.2h0M14.0 44.3h0M18.1 39.4h0M29.7 35.6h0M25.9 36.5h0M22.3 34.3h0M13.4 28.2h0M8.2 26.0h0M30.4 30.8h0M15.4 37.6h0M25.2 26.7h0M8.9 36.7h0M20.8 22.7h0M11.0 18.2h0M18.9 50.7h0M14.9 39.3h0M10.3 32.1h0M19.0 48.3h0M23.3 45.5h0M8.6 37.1h0M27.0 24.9h0M6.5 26.6h0M12.4 27.5h0M16.5 25.1h0M10.4 42.0h0M21.3 38.2h0M27.6 53.7h0M26.8 25.7h0M28.7 44.3h0M13.6 46.3h0M36.0 43.4h0M29.4 41.1h0M24.5 23.6h0M13.4 29.3h0M29.0 50.8h0M10.6 36.6h0M18.1 44.2h0M24.8 9.1h0M14.5 41.2h0M14.9 17.3h0M13.4 26.9h0M14.4 18.1h0M29.3 35.5h0M26.0 39.0h0M20.6 51.7h0M9.6 36.0h0M7.4 28.6h0M13.8 28.7h0M21.1 28.2h0M11.8 29.5h0M16.8 6.4h0M35.8 26.0h0M13.6 26.4h0M12.0 35.9h0M36.5 33.6h0M30.6 37.0h0M12.0 35.1h0M15.7 33.8h0M15.1 28.4h0M17.2 28.5h0M9.3 37.0h0M24.1 44.1h0M15.8 40.7h0M21.3 12.6h0M26.0 47.8h0M16.0 31.9h0M31.0 29.2h0M27.1 34.8h0M18.5 47.1h0M13.1 27.4h0M11.6 33.2h0M19.7 45.0h0M31.5 42.5h0M12.1 30.0h0M31.5 36.4h0M10.6 27.5h0M13.3 36.8h0M16.3 27.8h0M20.0 38.7h0M19.1 40.9h0" stroke="#f0b428"/>
<path d="M52.3 11.0h0M51.7 11.2h0M41.4 14.8h0M49.1 28.4h0M47.4 18.3h0M37.7 21.9h0M51.2 23.9h0M35.3 10.6h0M50.2 29.1h0M55.6 27.0h0M59.0 29.6h0M44.6 6.9h0M55.7 21.5h0M47.9 28.6h0M36.5 10.0h0M54.7 26.4h0M44.3 7.9h0M50.5 9.1h0M43.5 17.9h0M43.2 7.6h0M54.5 19.1h0M39.4 17.6h0M31.4 21.3h0M57.6 25.3h0M53.0 26.9h0M43.0 4.6h0M47.2 29.1h0M49.2 10.1h0M56.4 27.0h0M39.9 4.8h0M43.3 22.9h0M37.2 3.3h0M39.0 18.7h0M49.3 30.0h0M44.2 7.1h0M53.3 11.9h0M54.5 23.6h0M37.4 4.5h0M46.0 16.1h0M46.1 17.2h0M50.4 16.6h0M52.2 36.9h0M50.2 10.5h0M41.2 6.0h0M45.8 43.6h0M54.5 19.7h0M54.3 26.3h0M49.0 30.6h0M44.0 19.3h0M55.9 25.0h0M57.1 26.8h0M54.5 13.0h0M40.9 8.3h0M59.3 28.7h0M45.2 26.6h0M52.6 19.0h0M29.1 13.7h0M54.4 40.6h0M52.0 30.1h0M55.4 30.0h0M27.8 41.1h0M47.1 16.5h0M53.7 23.9h0M40.1 10.1h0M54.2 14.3h0M50.2 34.8h0M56.0 39.4h0M50.3 18.3h0M38.0 44.3h0M53.5 39.8h0M42.9 21.1h0M45.0 34.8h0M53.1 18.8h0M44.2 3.8h0M39.3 6.0h0M53.3 26.4h0M47.5 9.4h0M36.8 6.6h0M53.6 28.5h0M45.7 27.5h0M47.5 29.8h0M54.1 18.6h0M47.8 40.3h0M53.4 17.5h0M49.2 38.2h0M36.3 8.8h0M55.3 21.9h0M41.1 45.2h0M50.6 14.7h0M50.4 38.6h0M31.4 11.1h0M40.1 10.6h0M34.1 22.8h0M38.4 5.4h0M41.7 26.4h0M48.5 39.0h0" stroke="#b4dc28"/>
<path d="M21.2 49.0h0M16.8 19.4h0M6.0 23.5h0M15.0 42.7h0M7.0 27.8h0M29.8 41.7h0M14.2 40.7h0M13.4 27.5h0M14.8 48.1h0M14.4 45.7h0M10.8 18.9h0M8.9 35.8h0M10.0 34.1h0M21.5 33.7h0M15.3 10.1h0M15.3 39.9h0M9.3 40.5h0M19.9 43.4h0M31.4 51.6h0M15.3 45.1h0M9.5 34.0h0M13.1 25.6h0M14.5 39.3h0M7.8 34.5h0M12.0 32.9h0M14.2 39.8h0M11.8 41.6h0M22.3 44.8h0M11.9 41.3h0M22.7 31.9h0M14.6 43.2h0M9.0 38.6h0M15.9 29.1h0M29.8 42.8h0M11.4 39.6h0M24.3 51.5h0M6.7 28.9h0M10.6 37.9h0M38.5 46.1h0M8.7 25.1h0M19.0 45.7h0M39.4 51.7h0M6.4 18.7h0M6.3 23.4h0M8.3 22.8h0M17.6 26.2h0M21.0 48.4h0M25.1 38.8h0M15.3 28.0h0M19.8 22.2h0M8.5 38.9h0M12.2 42.9h0M8.9 19.8h0M8.3 37.4h0M20.9 28.3h0" stroke="#f0a028"/>
<path d="M49.5 26.0h0M50.8 21.3h0M39.8 32.2h0M56.5 37.0h0M44.2 3.3h0M38.5 3.1h0M51.5 14.1h0M50.2 29.1h0M52.6 44.5h0M37.9 23.8h0M56.0 21.9h0M40.5 26.3h0M54.0 26.1h0M58.0 21.3h0M57.6 31.6h0M45.3 31.5h0" stroke="#a0dc28"/>
<path d="M45.9 33.0h0M46.3 24.3h0M53.3 35.8h0M42.0 23.8h0M44.0 6.2h0M40.9 28.7h0M53.1 22.0h0M54.0 14.2h0M57.6 32.2h0M43.3 20.4h0M54.0 22.5h0M50.5 28.1h0M58.1 30.1h0M55.4 15.4h0M56.8 24.0h0M48.2 11.6h0M49.5 21.3h0M43.2 8.0h0M47.7 21.5h0M56.5 25.5h0M51.3 21.5h0M59.0 27.7h0M47.1 23.9h0M47.2 38.6h0M49.5 14.5h0M55.8 22.1h0M34.9 9.9h0M41.9 29.9h0M39.8 4.5h0M42.5 17.2h0M53.5 23.1h0M53.0 16.6h0M48.2 7.9h0" stroke="#a0c828"/>
<path d="M46.4 31.0h0M55.6 14.4h0M53.2 19.4h0M58.6 27.4h0M41.9 6.5h0M57.7 30.8h0M52.5 18.4h0M58.5 32.0h0M41.1 39.9h0M40.8 9.7h0M47.9 11.7h0M58.9 25.4h0M50.9 10.3h0M54.6 13.3h0M46.8 25.8h0M43.7 6.3h0M48.3 10.3h0M57.8 25.8h0M46.2 29.6h0M53.1 42.2h0M53.9 15.0h0M54.4 16.4h0M49.3 7.4h0M39.6 10.7h0M54.8 20.1h0M56.9 26.9h0M52.6 23.7h0M47.9 21.1h0" stroke="#8cc828"/>
<path d="M25.6 46.7h0M11.0 34.3h0M23.0 51.1h0M19.6 49.4h0M12.3 13.5h0M13.9 41.7h0" stroke="#f07828"/>
<path d="M56.5 23.1h0" stroke="#64b43c"/>
<path d="M49.9 11.9h0M46.5 10.4h0M43.9 8.4h0" stroke="#78c828"/>
<path d="M20.8 47.2h0M20.2 49.2h0M10.8 25.0h0M18.0 38.3h0" stroke="#dc7828"/>
</g>
<rect x="234.75" y="546.6" width="60.3" height="59.9" fill="none" stroke="#999" stroke-width="0.8"/>
<text x="264.90" y="542.10" font-size="8.5" text-anchor="middle" fill="#111" textLength="26.5" lengthAdjust="spacingAndGlyphs" >CD141</text>
<g transform="translate(234.75 546.60)" stroke-width=".95" stroke-linecap="square">
<path d="M43.7 22.9h0M10.6 28.8h0M53.8 37.5h0M47.0 30.3h0M9.2 30.6h0M10.9 25.2h0M33.0 29.5h0M45.9 33.0h0M49.1 28.4h0M51.8 42.4h0M10.7 39.9h0M23.2 16.3h0M44.9 18.4h0M10.4 36.5h0M53.3 35.8h0M18.9 28.4h0M7.2 29.4h0M25.2 40.2h0M27.4 17.7h0M47.7 20.3h0M33.1 28.6h0M30.2 15.5h0M34.4 18.1h0M42.7 41.0h0M32.2 34.6h0M40.5 37.3h0M32.7 29.7h0M46.1 17.3h0M43.1 42.3h0M26.2 24.3h0M43.9 32.3h0M55.7 21.5h0M36.3 34.2h0M46.6 42.1h0M21.5 15.5h0M29.3 21.7h0M28.5 28.4h0M32.3 24.5h0M25.9 36.5h0M12.2 37.4h0M29.0 39.8h0M22.3 34.3h0M48.0 39.9h0M14.7 38.0h0M37.5 3.1h0M34.2 40.1h0M27.2 40.7h0M8.2 26.0h0M31.1 32.8h0M19.1 28.1h0M56.4 27.0h0M22.2 36.0h0M16.8 27.7h0M12.1 24.6h0M20.8 22.7h0M25.2 11.1h0M25.5 39.2h0M24.7 5.4h0M43.3 22.9h0M41.3 3.2h0M16.9 30.1h0M44.0 37.0h0M35.7 27.7h0M37.7 42.5h0M17.4 17.2h0M47.0 32.0h0M10.8 40.8h0M41.4 29.4h0M15.2 39.7h0M19.7 41.4h0M8.8 18.3h0M58.1 30.1h0M23.6 13.6h0M20.3 29.4h0M53.3 11.9h0M41.7 22.2h0M50.5 30.0h0M30.9 28.4h0M26.5 2.5h0M56.5 23.1h0M33.7 41.0h0M44.1 14.1h0M46.1 17.2h0M35.4 3.6h0M26.8 25.7h0M38.7 6.9h0M39.7 34.9h0M44.2 3.3h0M36.0 43.4h0M12.6 36.9h0M13.4 29.3h0M41.7 31.6h0M49.4 29.9h0M11.0 42.1h0M43.9 30.4h0M19.7 28.0h0M13.6 24.3h0M30.2 15.2h0M54.5 13.0h0M31.1 40.7h0M34.0 31.9h0M14.2 39.8h0M42.8 33.5h0M47.0 33.7h0M32.9 24.0h0M23.0 2.8h0M29.1 13.7h0M49.7 27.2h0M54.4 40.6h0M8.4 24.8h0M52.0 30.1h0M45.6 42.2h0M43.6 26.7h0M23.2 35.4h0M45.5 33.8h0M57.4 34.5h0M53.9 28.1h0M56.0 21.9h0M41.5 40.8h0M52.1 28.6h0M29.3 35.5h0M45.8 35.0h0M36.6 2.4h0M48.4 24.8h0M36.4 5.9h0M9.0 27.9h0M31.8 12.9h0M50.2 34.8h0M16.1 21.7h0M44.0 27.6h0M24.7 34.4h0M10.6 37.9h0M9.2 30.7h0M55.4 39.3h0M41.5 30.4h0M48.2 40.5h0M11.5 38.6h0M43.2 36.0h0M57.7 33.6h0M12.0 35.9h0M12.2 26.2h0M27.5 23.2h0M19.0 14.8h0M31.9 7.8h0M27.0 25.3h0M28.0 41.3h0M24.3 22.2h0M30.2 41.0h0M28.9 29.3h0M43.6 10.4h0M33.5 25.8h0M11.0 34.3h0M44.9 7.4h0M26.7 42.7h0M32.6 39.6h0M47.2 38.6h0M53.6 28.5h0M9.3 37.0h0M45.7 27.5h0M11.1 37.2h0M32.6 20.6h0M29.3 17.7h0M23.3 11.5h0M38.2 43.2h0M24.9 31.3h0M27.9 1.3h0M26.3 36.8h0M54.1 18.6h0M18.8 30.0h0M45.3 31.5h0M27.1 34.8h0M53.5 23.1h0M37.6 24.2h0M15.5 38.3h0M33.9 40.1h0M26.5 16.8h0M6.3 23.4h0M10.5 36.4h0M48.2 7.9h0M50.4 38.6h0M49.0 13.0h0M6.9 23.7h0M27.8 15.6h0M20.4 35.7h0M27.2 31.0h0M44.2 28.8h0M28.9 23.3h0M19.8 22.2h0M24.5 25.9h0M29.5 10.2h0M45.4 31.1h0M22.2 34.8h0M26.8 20.4h0M20.7 20.6h0M21.9 28.3h0M18.0 38.3h0" stroke="#b4dc28"/>
<path d="M45.0 19.5h0M47.7 32.1h0M41.0 17.1h0M25.5 10.5h0M52.3 11.0h0M49.5 26.0h0M18.8 15.1h0M37.8 32.2h0M28.7 19.7h0M34.2 33.9h0M50.8 21.3h0M41.4 14.8h0M47.4 18.3h0M26.9 36.3h0M34.4 34.9h0M51.2 23.9h0M33.8 27.0h0M22.0 31.6h0M10.0 27.9h0M35.9 2.7h0M16.8 19.4h0M21.6 14.8h0M49.2 18.7h0M13.1 22.9h0M43.4 34.0h0M25.3 32.1h0M42.0 23.8h0M7.6 19.5h0M5.6 24.4h0M50.2 29.1h0M18.5 29.3h0M12.4 21.4h0M22.5 22.4h0M54.6 15.9h0M9.0 40.7h0M13.9 21.0h0M31.8 25.7h0M13.0 28.0h0M59.0 29.6h0M49.4 15.9h0M57.8 27.5h0M33.3 6.0h0M31.6 27.7h0M29.7 23.1h0M31.1 0.9h0M32.1 9.3h0M33.6 25.6h0M41.9 6.5h0M47.9 28.6h0M24.9 4.0h0M29.5 9.9h0M32.8 32.3h0M25.1 13.3h0M42.3 7.2h0M30.7 33.2h0M17.8 19.3h0M31.3 22.1h0M28.2 3.0h0M40.9 23.6h0M26.6 8.6h0M7.6 28.1h0M26.5 35.9h0M25.2 12.1h0M44.3 7.9h0M53.1 22.0h0M29.0 23.8h0M54.0 14.2h0M14.0 18.1h0M6.7 21.6h0M10.0 34.1h0M48.4 32.2h0M21.5 33.7h0M46.6 22.6h0M37.8 8.0h0M15.3 10.1h0M34.8 38.8h0M57.7 30.8h0M25.9 26.2h0M53.0 26.9h0M30.4 30.8h0M27.3 40.2h0M43.0 4.6h0M35.4 27.1h0M29.7 36.8h0M43.9 36.8h0M30.8 3.8h0M43.3 20.4h0M28.5 4.2h0M27.8 15.6h0M9.7 21.7h0M35.3 28.3h0M42.6 20.2h0M38.5 2.7h0M17.6 10.8h0M35.2 32.3h0M7.1 28.9h0M19.6 5.4h0M22.9 20.5h0M29.9 13.2h0M39.5 29.1h0M11.0 18.2h0M25.6 19.2h0M41.2 17.8h0M41.9 34.8h0M52.5 18.4h0M46.2 30.3h0M54.0 22.5h0M37.2 3.3h0M9.5 34.0h0M45.4 38.9h0M26.3 1.4h0M25.9 14.3h0M25.0 23.5h0M24.1 2.9h0M31.2 28.3h0M39.0 18.7h0M34.1 9.9h0M48.8 26.2h0M31.3 2.9h0M49.3 30.0h0M27.0 24.9h0M45.5 17.4h0M19.3 18.3h0M6.5 26.6h0M31.7 23.5h0M12.4 27.5h0M40.9 5.5h0M56.5 37.0h0M40.8 10.1h0M46.1 15.2h0M28.9 15.8h0M36.9 25.0h0M21.3 38.2h0M54.5 23.6h0M8.7 36.2h0M25.3 7.6h0M41.1 39.9h0M25.3 16.1h0M18.1 12.0h0M30.1 4.8h0M20.5 34.1h0M7.4 24.1h0M26.2 4.6h0M37.0 9.7h0M44.5 17.7h0M23.8 7.8h0M26.3 21.8h0M46.0 16.1h0M24.6 36.2h0M40.8 9.7h0M7.8 34.5h0M36.7 28.1h0M47.9 11.7h0M50.2 10.5h0M25.5 23.4h0M31.9 23.9h0M33.0 2.3h0M35.4 10.2h0M36.3 25.9h0M47.0 27.8h0M41.2 6.0h0M50.9 10.3h0M30.9 11.2h0M38.6 22.9h0M24.5 23.6h0M37.0 5.2h0M30.8 21.3h0M49.0 30.6h0M47.9 27.7h0M33.7 10.3h0M39.8 22.9h0M12.4 35.4h0M55.9 25.0h0M25.5 4.1h0M49.6 22.0h0M25.1 16.3h0M57.1 26.8h0M13.3 41.6h0M48.6 17.8h0M31.5 18.8h0M29.8 34.9h0M16.3 17.9h0M26.7 22.4h0M36.7 27.0h0M45.5 34.7h0M40.9 8.3h0M43.6 22.9h0M31.1 21.4h0M37.9 23.8h0M13.4 26.8h0M29.6 24.3h0M10.1 29.3h0M47.9 7.7h0M42.5 30.8h0M6.2 21.4h0M45.6 6.2h0M14.4 18.1h0M28.5 9.9h0M19.4 34.0h0M40.9 30.6h0M55.4 30.0h0M8.9 30.2h0M23.1 8.2h0M48.3 10.3h0M35.7 3.5h0M35.9 9.1h0M45.7 29.3h0M35.1 29.3h0M21.7 28.5h0M40.5 26.3h0M25.0 21.5h0M22.7 31.9h0M14.0 23.5h0M33.6 34.0h0M48.0 10.1h0M40.5 6.3h0M53.7 23.9h0M40.1 10.1h0M24.8 33.7h0M27.3 7.5h0M48.1 30.6h0M27.5 35.9h0M15.9 24.0h0M49.5 21.3h0M39.9 28.2h0M48.8 25.0h0M29.3 21.9h0M54.2 14.3h0M9.6 36.0h0M27.4 19.7h0M44.3 32.3h0M17.5 32.0h0M25.0 13.5h0M20.0 7.8h0M53.9 15.0h0M41.0 8.8h0M50.3 18.3h0M37.0 22.3h0M7.4 28.6h0M31.3 17.5h0M16.1 24.0h0M41.0 17.7h0M18.6 35.3h0M25.9 34.1h0M47.8 25.2h0M56.5 25.5h0M33.2 8.0h0M39.9 30.9h0M51.0 40.2h0M43.2 13.9h0M43.7 19.4h0M23.7 11.9h0M21.1 28.2h0M51.3 21.5h0M29.4 6.6h0M45.4 29.6h0M11.8 29.5h0M48.3 34.5h0M45.0 34.8h0M28.2 12.2h0M34.3 9.0h0M27.7 32.3h0M48.4 28.7h0M53.1 18.8h0M51.5 32.6h0M46.6 14.8h0M38.7 21.1h0M36.6 34.1h0M36.6 7.7h0M35.6 11.6h0M17.6 24.2h0M13.6 26.4h0M20.1 15.5h0M33.5 26.1h0M8.1 19.7h0M33.8 9.4h0M40.2 38.0h0M30.2 17.4h0M39.6 10.7h0M48.1 39.5h0M25.9 6.2h0M32.4 37.2h0M39.1 8.2h0M39.3 6.0h0M38.5 4.3h0M44.4 22.2h0M30.6 37.0h0M47.4 34.0h0M23.1 31.0h0M37.7 10.3h0M42.7 17.8h0M24.3 29.1h0M36.9 10.8h0M29.2 1.5h0M12.7 25.5h0M7.8 27.2h0M19.2 15.3h0M48.2 32.6h0M29.5 19.3h0M8.7 25.1h0M28.5 13.0h0M22.6 30.2h0M47.5 29.8h0M21.6 2.1h0M40.3 31.2h0M41.5 30.9h0M42.4 34.3h0M39.8 4.5h0M11.5 35.3h0M57.6 31.6h0M30.9 20.1h0M28.9 1.9h0M31.0 29.2h0M18.5 18.4h0M42.5 17.2h0M34.3 11.5h0M41.5 28.9h0M34.4 21.8h0M21.6 16.8h0M16.5 17.7h0M29.5 22.7h0M24.8 38.0h0M40.6 26.7h0M26.9 21.4h0M24.1 5.6h0M35.6 9.4h0M47.9 21.1h0M36.3 8.8h0M55.3 21.9h0M38.1 8.6h0M50.6 14.7h0M8.3 22.8h0M34.4 23.0h0M51.4 28.2h0M17.6 26.2h0M25.0 37.9h0M20.6 20.0h0M40.1 10.6h0M40.5 12.5h0M26.3 5.7h0M26.5 1.9h0M27.8 17.5h0M11.5 11.7h0M42.4 16.1h0M38.4 5.4h0M45.7 8.1h0M47.1 26.6h0M36.0 26.8h0M26.3 19.8h0M10.6 27.5h0M39.0 5.2h0M48.3 35.3h0M23.4 15.5h0M44.4 26.1h0M26.0 11.8h0M8.8 29.4h0M40.5 3.8h0M42.7 18.8h0M55.3 25.4h0M42.5 32.8h0M30.2 28.8h0M41.7 26.4h0M8.3 37.4h0M35.0 11.9h0M23.6 16.8h0" stroke="#8cc828"/>
<path d="M46.4 20.0h0M25.1 15.7h0M29.4 23.0h0M23.5 21.1h0M41.0 23.4h0M48.3 7.7h0M46.3 24.3h0M37.7 21.9h0M38.8 10.9h0M19.9 24.7h0M34.3 10.3h0M55.6 27.0h0M44.0 6.2h0M16.8 18.0h0M27.6 3.9h0M31.1 8.4h0M34.1 8.8h0M43.2 7.6h0M47.2 29.1h0M43.8 13.5h0M29.6 22.8h0M28.4 3.9h0M25.3 8.4h0M40.5 25.2h0M34.7 4.2h0M25.4 9.9h0M33.7 11.8h0M37.0 8.6h0M37.4 4.5h0M32.3 23.8h0M42.0 28.3h0M22.8 3.9h0M26.5 18.6h0M26.1 13.3h0M26.4 10.8h0M42.6 15.3h0M20.1 24.5h0M19.5 21.6h0M42.4 16.9h0M44.0 19.3h0M20.0 23.6h0M33.0 19.6h0M24.8 9.1h0M32.6 6.2h0M24.5 5.1h0M42.5 21.7h0M28.7 2.5h0M34.9 21.6h0M37.7 9.5h0M36.9 26.9h0M26.4 4.5h0M36.3 16.9h0M59.0 27.7h0M17.5 22.9h0M39.6 4.4h0M31.7 0.1h0M41.9 18.2h0M34.3 3.5h0M24.0 9.0h0M18.6 20.8h0M31.4 15.0h0M49.4 12.8h0M34.9 18.7h0M50.6 31.9h0M35.5 2.5h0M10.1 29.7h0M25.5 14.9h0M55.4 27.8h0M52.6 23.7h0M53.4 17.5h0M40.8 11.5h0M31.0 22.2h0M15.3 28.0h0M38.9 14.3h0M9.1 27.8h0M33.4 1.5h0M30.8 3.4h0M30.0 10.4h0" stroke="#78b43c"/>
<path d="M30.8 39.1h0M47.4 29.9h0M29.4 39.1h0M41.5 24.2h0M22.7 36.5h0M58.2 33.4h0M13.0 39.8h0M19.6 42.1h0M51.0 44.6h0M28.1 5.9h0M6.0 23.5h0M40.5 41.4h0M14.2 40.7h0M30.5 36.9h0M23.1 38.1h0M37.1 38.0h0M23.4 37.8h0M38.7 11.5h0M10.9 32.8h0M29.1 34.8h0M54.7 26.4h0M18.8 24.8h0M41.5 32.9h0M17.6 38.5h0M14.8 29.9h0M8.9 35.8h0M42.0 37.1h0M44.0 36.8h0M31.8 38.5h0M30.8 39.0h0M15.4 37.6h0M50.2 7.9h0M9.7 23.3h0M50.4 38.8h0M32.1 23.3h0M10.1 24.7h0M41.0 34.1h0M18.7 35.3h0M49.0 38.3h0M40.2 34.1h0M15.4 23.3h0M10.8 25.4h0M27.5 38.6h0M53.1 39.8h0M18.6 30.5h0M10.4 42.0h0M41.8 41.4h0M28.7 16.8h0M40.2 39.4h0M28.1 21.7h0M8.1 39.8h0M53.1 38.7h0M31.2 19.3h0M17.6 31.9h0M29.4 41.1h0M39.7 40.2h0M25.8 20.5h0M47.9 27.9h0M52.6 44.5h0M52.7 17.5h0M48.4 25.5h0M23.9 35.1h0M52.6 19.0h0M28.7 11.7h0M22.9 36.0h0M14.5 41.2h0M36.5 33.5h0M24.4 12.3h0M47.5 15.2h0M48.8 41.4h0M34.1 42.9h0M51.9 38.3h0M47.1 27.6h0M38.6 43.7h0M27.7 32.8h0M28.9 7.9h0M14.6 43.2h0M24.8 42.0h0M31.8 42.8h0M9.0 38.6h0M15.9 29.1h0M46.2 29.6h0M12.7 40.2h0M23.2 37.0h0M11.4 39.6h0M54.4 16.4h0M55.3 30.5h0M42.9 21.1h0M26.8 33.2h0M9.1 21.3h0M39.8 37.2h0M54.0 26.1h0M11.5 17.7h0M44.2 40.9h0M46.1 42.5h0M48.9 37.2h0M17.2 28.5h0M18.7 31.5h0M41.9 29.9h0M38.7 31.5h0M26.4 38.0h0M10.2 31.8h0M34.9 42.5h0M26.1 24.4h0M50.6 41.7h0M42.4 21.1h0M54.6 39.7h0M26.5 37.6h0M13.6 38.3h0M54.5 35.2h0M49.9 41.3h0M36.1 10.4h0M49.1 29.1h0M36.4 25.7h0M35.2 34.0h0M27.8 36.9h0M34.1 30.3h0M41.6 32.1h0M45.0 32.1h0M13.3 36.8h0M17.5 20.1h0M32.9 37.9h0M11.2 30.6h0M51.0 40.6h0" stroke="#c8dc28"/>
<path d="M29.3 35.0h0M17.9 16.0h0M34.1 11.4h0M39.4 27.8h0M48.5 34.6h0M15.4 29.2h0M32.3 32.8h0M45.8 12.7h0M7.0 27.8h0M53.2 19.4h0M45.0 29.1h0M29.4 23.9h0M34.1 35.1h0M30.9 24.9h0M13.7 27.4h0M45.4 43.8h0M14.1 31.0h0M46.1 27.5h0M47.1 36.0h0M32.3 37.8h0M32.0 3.0h0M58.6 27.4h0M13.4 27.5h0M40.9 28.7h0M53.4 19.7h0M18.1 16.2h0M18.1 39.4h0M22.9 33.1h0M36.7 32.0h0M38.8 31.4h0M29.6 2.7h0M22.1 24.0h0M42.5 23.2h0M56.4 28.0h0M50.5 9.1h0M43.5 17.9h0M10.8 18.9h0M22.1 33.3h0M42.3 33.7h0M51.3 26.2h0M13.4 28.2h0M38.5 1.8h0M31.4 21.3h0M43.6 31.3h0M52.3 11.0h0M57.6 25.3h0M32.0 27.7h0M49.2 10.1h0M11.3 27.1h0M39.9 4.8h0M25.2 26.7h0M27.4 32.3h0M19.1 22.5h0M51.5 8.8h0M46.3 13.0h0M28.0 6.3h0M24.8 5.5h0M25.1 18.5h0M39.3 7.2h0M55.3 36.1h0M54.9 35.3h0M20.5 14.8h0M8.6 37.1h0M47.5 26.3h0M12.1 37.3h0M28.9 33.6h0M15.3 38.3h0M58.5 32.0h0M46.8 34.1h0M44.2 7.1h0M19.2 21.1h0M25.7 27.6h0M28.8 23.0h0M30.8 20.4h0M55.4 15.4h0M33.2 14.2h0M39.4 22.0h0M50.4 16.6h0M52.2 36.9h0M33.4 29.9h0M58.9 25.4h0M27.1 12.2h0M32.8 22.2h0M24.4 22.4h0M37.4 9.9h0M54.5 19.7h0M24.7 9.4h0M38.5 3.1h0M30.0 22.1h0M29.0 33.9h0M23.8 6.1h0M50.2 29.1h0M26.2 33.8h0M25.2 32.1h0M26.3 27.5h0M28.5 9.5h0M43.8 30.9h0M56.8 24.0h0M59.3 28.7h0M40.8 26.2h0M27.0 5.4h0M45.2 26.6h0M52.8 41.0h0M49.0 38.8h0M36.8 14.0h0M11.9 41.3h0M42.0 15.1h0M13.4 26.9h0M46.4 30.8h0M27.8 41.1h0M33.5 25.6h0M51.5 22.5h0M13.2 34.7h0M38.9 13.1h0M24.4 34.5h0M41.6 18.4h0M26.0 39.0h0M57.8 25.8h0M31.2 24.9h0M46.0 32.6h0M43.2 8.0h0M35.3 1.0h0M15.2 17.7h0M24.3 29.7h0M48.5 38.3h0M27.6 9.8h0M27.5 9.3h0M47.7 21.5h0M34.2 14.8h0M34.1 35.4h0M26.0 36.2h0M54.6 35.9h0M49.6 29.8h0M35.3 27.8h0M42.3 19.0h0M13.8 28.7h0M11.2 13.8h0M52.7 35.5h0M57.2 27.8h0M23.0 24.4h0M22.1 20.0h0M47.1 16.8h0M21.1 12.2h0M15.0 40.2h0M9.2 36.1h0M26.4 36.4h0M19.9 20.2h0M35.8 26.0h0M48.6 35.8h0M45.0 17.5h0M29.3 24.7h0M9.9 33.1h0M47.1 23.9h0M21.2 10.9h0M16.3 38.1h0M44.2 3.8h0M36.5 33.6h0M24.8 35.1h0M32.3 40.8h0M27.8 37.1h0M54.8 20.1h0M47.5 9.4h0M15.7 33.8h0M29.3 30.2h0M17.9 10.1h0M24.9 30.3h0M26.9 36.0h0M46.7 31.3h0M18.7 28.3h0M16.6 39.5h0M10.0 31.5h0M15.1 28.4h0M9.6 26.3h0M55.8 22.1h0M34.9 9.9h0M26.2 8.6h0M24.4 8.8h0M44.0 21.3h0M8.6 25.4h0M56.9 26.9h0M23.3 9.7h0M34.8 7.0h0M58.0 21.3h0M51.4 20.3h0M35.2 34.3h0M39.7 26.3h0M35.7 4.8h0M40.3 6.1h0M41.0 4.9h0M46.9 31.5h0M30.7 20.5h0M10.7 23.6h0M23.2 24.5h0M45.6 36.1h0M43.8 32.7h0M11.6 33.2h0M53.8 15.0h0M12.3 13.5h0M49.0 9.4h0M26.0 21.3h0M30.1 20.8h0M30.4 23.4h0M31.4 11.1h0M43.1 22.4h0M31.0 15.9h0M35.1 13.2h0M27.0 35.3h0M41.4 8.0h0M51.3 37.0h0M10.8 25.0h0M8.5 38.9h0M12.1 30.0h0M36.6 21.1h0M16.3 27.8h0M42.6 35.6h0M32.1 35.2h0M15.8 6.2h0M42.1 9.3h0M22.5 34.9h0M37.4 8.6h0M8.9 19.8h0M45.7 18.6h0M23.4 27.0h0M20.9 28.3h0" stroke="#a0c828"/>
<path d="M36.2 44.7h0M34.6 44.3h0M42.7 45.2h0M25.5 42.8h0M24.2 45.1h0M40.7 45.8h0M15.0 42.7h0M47.6 26.3h0M29.8 41.7h0M34.3 43.5h0M45.1 42.9h0M14.0 44.3h0M15.0 44.1h0M36.9 45.7h0M51.9 43.4h0M31.4 43.2h0M40.5 18.8h0M24.5 45.8h0M19.9 43.4h0M11.3 43.6h0M29.6 45.5h0M23.3 45.5h0M44.5 44.4h0M36.9 43.9h0M28.7 44.3h0M45.8 43.6h0M13.2 44.2h0M39.7 45.7h0M22.3 44.8h0M35.7 43.0h0M41.3 44.1h0M43.6 44.3h0M38.0 44.3h0M41.1 45.5h0M22.8 46.3h0M17.0 45.7h0M41.9 47.1h0M27.3 43.7h0M30.1 42.7h0M43.0 44.9h0M24.5 43.7h0M19.0 45.7h0M23.0 46.1h0M19.6 45.9h0M49.8 44.8h0M14.2 44.3h0M33.1 42.6h0M12.2 42.9h0M33.2 43.1h0M37.9 39.7h0" stroke="#f0dc28"/>
<path d="M37.3 51.5h0M38.5 50.5h0M18.9 50.7h0M29.1 52.4h0M28.6 52.1h0M29.0 50.8h0M30.7 52.2h0M29.6 52.3h0M39.4 51.7h0M30.6 53.6h0M26.9 47.9h0" stroke="#dc5014"/>
<path d="M27.9 49.1h0M39.3 50.2h0M28.1 49.2h0M43.8 50.3h0M21.5 47.4h0" stroke="#f07828"/>
<path d="M34.3 30.3h0M20.0 19.7h0M51.7 11.2h0M55.6 14.4h0M50.3 12.2h0M39.7 16.0h0M35.3 10.6h0M32.3 21.8h0M20.2 24.6h0M26.5 8.9h0M40.6 9.7h0M36.3 1.6h0M44.6 6.9h0M33.1 11.8h0M35.4 3.1h0M45.7 36.1h0M27.0 3.9h0M36.5 10.0h0M33.5 22.6h0M8.5 23.6h0M35.0 10.2h0M13.1 27.5h0M49.9 6.5h0M54.5 19.1h0M40.6 9.2h0M35.8 33.1h0M30.7 12.4h0M18.1 29.4h0M57.6 32.2h0M39.5 24.6h0M34.8 21.3h0M19.9 26.7h0M42.0 30.5h0M43.8 12.6h0M23.2 20.9h0M57.3 24.7h0M49.9 11.9h0M35.8 4.4h0M35.1 3.3h0M42.4 2.3h0M41.5 22.7h0M39.5 8.1h0M44.2 9.1h0M54.3 26.3h0M55.6 18.7h0M51.5 14.1h0M42.5 12.7h0M54.6 13.3h0M24.6 28.9h0M17.9 11.3h0M12.5 16.6h0M51.4 23.2h0M31.6 3.2h0M28.6 2.9h0M48.2 11.6h0M12.3 28.6h0M46.7 20.5h0M47.1 16.5h0M28.7 15.2h0M20.2 26.4h0M10.0 20.6h0M28.8 1.9h0M39.4 19.7h0M22.8 8.7h0M37.0 29.9h0M16.8 6.4h0M30.1 4.9h0M6.9 21.0h0M29.0 15.3h0M17.2 28.8h0M45.5 18.3h0M18.9 17.5h0M18.2 16.5h0M26.8 23.8h0M53.3 26.4h0M35.6 8.8h0M12.0 35.1h0M33.0 11.5h0M46.5 19.2h0M37.9 15.9h0M49.5 14.5h0M28.0 1.3h0M33.0 12.0h0M9.1 30.1h0M31.5 21.8h0M21.3 12.6h0M46.8 33.8h0M20.0 14.1h0M6.4 18.7h0M32.5 25.8h0M13.8 10.3h0M24.9 6.2h0M39.0 7.1h0M28.0 10.0h0M8.7 18.6h0" stroke="#78c828"/>
<path d="M21.2 49.0h0M27.1 52.5h0M26.2 49.5h0M27.0 49.0h0M26.0 52.2h0M41.6 51.3h0M22.6 50.0h0M29.2 51.3h0M39.8 49.1h0M24.8 51.7h0M29.9 51.6h0M44.2 49.6h0M30.1 50.6h0M39.1 49.3h0M34.2 53.3h0M20.2 49.2h0M31.6 53.8h0M34.3 52.6h0M25.0 50.1h0M42.2 51.5h0" stroke="#dc6428"/>
<path d="M19.1 46.4h0M32.6 19.4h0M15.5 43.1h0M14.5 42.8h0M41.2 45.1h0M35.4 34.1h0M14.4 45.7h0M31.4 40.8h0M10.7 40.7h0M34.9 40.7h0M15.3 39.9h0M15.3 45.1h0M30.0 41.4h0M42.6 42.3h0M32.2 43.2h0M18.1 44.2h0M11.8 41.6h0M14.9 17.3h0M48.3 43.3h0M43.1 42.9h0M46.0 39.8h0M53.1 42.2h0M56.0 39.4h0M26.2 43.0h0M46.8 41.6h0M41.4 41.3h0M46.1 44.8h0M44.6 40.3h0M25.8 44.3h0M15.8 40.7h0M53.3 40.1h0M37.8 43.5h0M47.8 40.3h0M40.1 45.3h0M46.1 39.7h0M49.2 38.2h0M24.9 42.3h0M33.0 42.7h0M41.1 45.2h0M41.4 42.5h0M31.5 42.5h0M31.5 36.4h0M22.5 41.8h0M30.0 45.2h0" stroke="#f0f028"/>
<path d="M7.1 21.5h0M8.6 25.7h0M46.4 31.0h0M11.6 37.6h0M39.8 32.2h0M13.4 29.5h0M38.0 9.5h0M18.8 22.7h0M13.2 37.2h0M39.4 17.6h0M38.3 7.0h0M8.9 36.7h0M27.7 25.1h0M52.8 15.6h0M16.5 25.1h0M10.6 36.6h0M46.8 25.8h0M21.9 13.4h0M8.8 35.5h0M51.8 39.2h0M25.3 25.3h0M27.9 35.8h0M34.5 8.0h0M23.6 25.2h0M46.1 37.5h0M24.6 32.8h0M49.5 8.3h0M16.0 31.9h0M47.5 37.6h0M42.0 20.0h0M22.9 8.3h0M50.4 17.3h0M22.4 12.5h0M19.5 24.6h0M30.5 5.5h0M34.0 23.6h0M11.5 38.3h0M35.0 12.2h0M41.3 41.7h0" stroke="#a0dc28"/>
<path d="M27.5 13.3h0M19.5 42.2h0M30.2 42.0h0M11.1 30.3h0M40.8 41.9h0M29.7 35.6h0M40.3 42.3h0M31.8 36.2h0M41.8 41.3h0M52.4 42.9h0M9.3 40.5h0M32.3 45.3h0M41.2 43.9h0M32.6 43.5h0M13.5 44.1h0M14.9 39.3h0M10.3 32.1h0M50.5 28.1h0M38.4 42.3h0M12.7 22.1h0M30.0 24.7h0M14.5 39.3h0M12.0 32.9h0M53.3 42.6h0M27.8 44.2h0M39.9 41.9h0M12.8 42.0h0M36.9 42.9h0M41.5 40.4h0M22.6 27.9h0M29.8 42.8h0M30.0 43.3h0M53.5 39.8h0M17.9 39.0h0M6.7 28.9h0M27.5 34.3h0M26.4 37.9h0M40.7 42.4h0M35.5 40.1h0M18.0 42.6h0M43.6 36.8h0M52.9 40.5h0M55.4 39.0h0M13.1 27.4h0M13.9 41.7h0M20.0 38.7h0M19.1 40.9h0M48.5 39.0h0" stroke="#dcdc28"/>
<path d="M34.7 43.1h0M36.1 40.7h0M42.7 42.7h0M53.3 40.7h0M40.3 35.9h0M13.3 45.3h0M38.9 39.3h0M42.1 26.5h0M32.1 44.0h0M22.8 42.9h0M25.1 38.8h0M33.7 29.9h0" stroke="#dcf028"/>
<path d="M32.2 53.6h0M24.2 50.9h0M41.5 51.9h0M31.4 51.6h0M23.0 51.1h0M41.2 51.0h0M34.6 53.4h0" stroke="#dc3c14"/>
<path d="M28.1 48.3h0M37.0 46.3h0M31.5 44.7h0M22.9 46.4h0M34.7 44.7h0M26.1 46.0h0M37.9 45.8h0M25.6 46.7h0M25.3 47.2h0M21.7 44.8h0M39.2 46.4h0M36.0 42.2h0M49.2 42.4h0M44.1 45.9h0M49.7 40.9h0M15.2 48.1h0M39.9 45.5h0M24.4 46.6h0M13.6 46.3h0M26.7 44.8h0M42.2 44.9h0M48.1 45.9h0M40.9 46.9h0M42.0 46.3h0M50.9 45.7h0M48.0 45.2h0M38.5 46.1h0M13.5 45.5h0M18.4 46.6h0M36.8 46.5h0M24.2 48.2h0M24.1 44.1h0M30.4 44.1h0M48.9 46.1h0M13.6 46.0h0M25.4 46.6h0M39.0 44.8h0M20.2 46.9h0M46.6 41.4h0M21.0 48.4h0M19.7 45.0h0M22.8 42.2h0M42.6 47.6h0" stroke="#f0c828"/>
<path d="M28.7 47.2h0M42.6 49.2h0M25.4 50.3h0M21.1 50.5h0M39.1 48.9h0M19.0 48.3h0M17.4 48.3h0M37.1 48.4h0M24.3 47.6h0M25.7 48.5h0M22.8 48.2h0M38.6 50.5h0M37.4 49.6h0" stroke="#f08c28"/>
<path d="M46.5 49.1h0M23.5 46.8h0M49.6 48.2h0M47.9 47.1h0M45.7 49.0h0M14.8 48.1h0M21.1 47.3h0M27.3 48.3h0M18.5 46.3h0M35.1 46.2h0M24.3 51.5h0M23.2 47.5h0M38.0 48.9h0M19.5 46.6h0M21.0 48.6h0M40.0 46.8h0" stroke="#f0a028"/>
<path d="M17.1 13.0h0M34.3 2.5h0" stroke="#64a050"/>
<path d="M40.0 51.8h0M39.6 49.9h0M40.2 49.4h0M20.6 51.7h0M22.7 48.8h0M26.0 47.8h0M19.6 49.4h0" stroke="#dc7828"/>
<path d="M36.5 10.6h0M35.5 3.6h0M42.8 22.3h0M25.3 20.6h0M15.9 11.9h0M13.1 25.6h0M10.6 12.0h0M27.3 10.0h0M33.0 0.8h0M30.9 2.5h0M46.5 10.4h0M39.5 10.0h0M49.3 7.4h0M48.1 5.4h0M13.8 12.8h0M24.7 11.6h0M36.8 6.6h0M25.6 8.8h0M42.2 7.0h0M50.9 10.3h0M32.5 31.7h0M53.0 16.6h0M50.4 26.3h0M34.1 22.8h0M41.7 8.2h0M26.1 30.0h0M31.3 13.5h0M45.1 11.5h0" stroke="#64b43c"/>
<path d="M25.6 46.6h0M26.7 48.4h0M44.4 47.4h0M17.7 46.9h0M45.5 47.1h0M18.2 46.9h0M47.2 48.1h0M20.8 47.2h0M34.4 45.2h0M17.4 47.9h0M20.9 46.5h0M38.2 47.7h0M43.4 45.3h0M18.5 47.1h0M22.7 46.3h0M24.3 46.8h0" stroke="#f0b428"/>
<path d="M29.7 53.5h0M27.6 53.7h0M23.6 50.5h0M28.1 53.4h0" stroke="#dc2814"/>
<path d="M43.7 6.3h0M43.9 8.4h0" stroke="#50a050"/>
<path d="M44.7 24.9h0" stroke="#78c83c"/>
</g>
<rect x="305.60" y="546.6" width="60.3" height="59.9" fill="none" stroke="#999" stroke-width="0.8"/>
<text x="335.75" y="542.10" font-size="8.5" text-anchor="middle" fill="#111" textLength="29.7" lengthAdjust="spacingAndGlyphs" >Clec9A</text>
<g transform="translate(305.60 546.60)" stroke-width=".95" stroke-linecap="square">
<path d="M43.7 22.9h0M53.8 37.5h0M37.8 32.2h0M36.1 40.7h0M43.4 34.0h0M32.7 29.7h0M30.5 36.9h0M47.1 36.0h0M37.1 38.0h0M23.4 37.8h0M29.1 34.8h0M54.7 26.4h0M36.7 32.0h0M26.5 35.9h0M42.3 33.7h0M48.4 32.2h0M10.7 40.7h0M34.8 38.8h0M31.8 38.5h0M27.3 40.2h0M43.8 13.5h0M57.6 32.2h0M35.3 28.3h0M27.4 32.3h0M24.5 45.8h0M50.4 38.8h0M11.3 43.6h0M12.1 37.3h0M15.3 38.3h0M42.0 28.3h0M24.4 46.6h0M53.1 38.7h0M20.1 24.5h0M31.9 23.9h0M49.0 30.6h0M44.0 19.3h0M47.9 27.7h0M29.0 33.9h0M12.8 42.0h0M22.3 44.8h0M11.9 41.3h0M27.8 41.1h0M24.8 42.0h0M45.8 35.0h0M20.2 26.4h0M46.0 32.6h0M22.7 48.8h0M34.1 35.4h0M52.7 35.5h0M55.4 39.3h0M48.4 28.7h0M51.5 32.6h0M48.6 35.8h0M27.9 35.8h0M57.7 33.6h0M32.4 37.2h0M46.1 37.5h0M49.4 12.8h0M47.2 38.6h0M48.2 32.6h0M26.5 37.6h0M18.5 47.1h0M41.5 28.9h0M33.9 40.1h0M25.0 50.1h0M54.5 35.2h0M21.0 48.4h0M8.5 38.9h0M47.1 26.6h0M24.3 46.8h0" stroke="#dcdc28"/>
<path d="M45.0 19.5h0M46.4 20.0h0M41.0 17.1h0M10.6 28.8h0M9.2 30.6h0M51.7 11.2h0M34.1 11.4h0M27.5 13.3h0M41.5 24.2h0M50.8 21.3h0M33.0 29.5h0M48.3 7.7h0M47.4 18.3h0M23.2 16.3h0M13.0 39.8h0M10.4 36.5h0M50.3 12.2h0M28.1 5.9h0M35.9 2.7h0M21.6 14.8h0M6.0 23.5h0M49.2 18.7h0M13.1 22.9h0M36.5 10.6h0M32.3 21.8h0M50.2 29.1h0M12.4 21.4h0M22.5 22.4h0M7.0 27.8h0M35.5 3.6h0M53.2 19.4h0M46.1 17.3h0M34.3 10.3h0M9.0 40.7h0M30.9 24.9h0M26.5 8.9h0M40.6 9.7h0M31.8 25.7h0M57.8 27.5h0M14.1 31.0h0M33.3 6.0h0M32.0 3.0h0M44.6 6.9h0M31.1 0.9h0M32.1 9.3h0M27.6 3.9h0M18.8 22.7h0M10.9 32.8h0M11.1 30.3h0M40.9 28.7h0M25.1 13.3h0M36.5 10.0h0M30.7 33.2h0M18.1 16.2h0M31.3 22.1h0M26.6 8.6h0M7.6 28.1h0M35.0 10.2h0M28.5 28.4h0M42.5 23.2h0M50.5 9.1h0M43.5 17.9h0M54.0 14.2h0M14.0 18.1h0M22.1 33.3h0M10.0 34.1h0M46.6 22.6h0M37.8 8.0h0M38.5 1.8h0M54.5 19.1h0M40.6 9.2h0M49.2 10.1h0M28.4 3.9h0M40.5 25.2h0M11.3 27.1h0M39.9 4.8h0M9.7 21.7h0M17.6 10.8h0M15.9 11.9h0M8.9 36.7h0M50.2 7.9h0M7.1 28.9h0M20.8 22.7h0M29.9 13.2h0M15.2 48.1h0M25.2 11.1h0M39.5 24.6h0M25.4 9.9h0M32.1 23.3h0M25.6 19.2h0M19.9 26.7h0M41.2 17.8h0M33.7 11.8h0M24.7 5.4h0M10.1 24.7h0M14.9 39.3h0M42.0 30.5h0M54.0 22.5h0M10.8 40.8h0M41.4 29.4h0M13.1 25.6h0M19.0 48.3h0M25.9 14.3h0M25.0 23.5h0M24.1 2.9h0M39.0 18.7h0M34.1 9.9h0M48.8 26.2h0M52.8 15.6h0M47.5 26.3h0M19.3 18.3h0M6.5 26.6h0M12.4 27.5h0M20.3 29.4h0M16.5 25.1h0M40.9 5.5h0M57.3 24.7h0M46.1 15.2h0M53.3 11.9h0M36.9 25.0h0M50.5 30.0h0M26.5 2.5h0M25.3 7.6h0M25.3 16.1h0M30.1 4.8h0M37.4 4.5h0M7.4 24.1h0M26.2 4.6h0M56.5 23.1h0M46.0 16.1h0M32.3 23.8h0M55.4 15.4h0M22.8 3.9h0M35.8 4.4h0M35.4 3.6h0M36.7 28.1h0M47.9 11.7h0M28.7 16.8h0M38.7 6.9h0M50.4 16.6h0M26.4 10.8h0M42.6 15.3h0M42.4 2.3h0M39.5 8.1h0M33.4 29.9h0M25.5 23.4h0M36.3 25.9h0M47.0 27.8h0M41.2 6.0h0M30.9 11.2h0M38.6 22.9h0M19.5 21.6h0M37.4 9.9h0M54.3 26.3h0M38.5 3.1h0M30.0 22.1h0M13.2 44.2h0M19.7 28.0h0M25.2 32.1h0M55.9 25.0h0M30.2 15.2h0M25.5 4.1h0M25.1 16.3h0M57.1 26.8h0M10.6 36.6h0M13.3 41.6h0M54.6 13.3h0M54.5 13.0h0M46.8 25.8h0M33.0 19.6h0M12.5 16.6h0M21.9 13.4h0M23.0 2.8h0M45.2 26.6h0M43.7 6.3h0M24.4 12.3h0M6.2 21.4h0M32.6 6.2h0M13.4 26.9h0M14.4 18.1h0M24.5 5.1h0M53.9 28.1h0M28.6 2.9h0M48.3 10.3h0M35.7 3.5h0M13.2 34.7h0M38.9 13.1h0M14.0 23.5h0M27.3 7.5h0M15.9 29.1h0M34.9 21.6h0M54.2 14.3h0M12.7 40.2h0M43.2 8.0h0M9.6 36.0h0M27.4 19.7h0M17.5 32.0h0M24.3 29.7h0M53.9 15.0h0M8.8 35.5h0M31.3 17.5h0M47.7 21.5h0M24.7 34.4h0M47.8 25.2h0M37.7 9.5h0M25.3 25.3h0M43.7 19.4h0M54.4 16.4h0M23.7 11.9h0M6.7 28.9h0M55.3 30.5h0M42.9 21.1h0M23.0 24.4h0M26.8 33.2h0M34.3 9.0h0M21.1 12.2h0M30.1 4.9h0M46.6 14.8h0M36.6 7.7h0M35.6 11.6h0M45.5 18.3h0M9.9 33.1h0M47.1 23.9h0M21.2 10.9h0M16.3 38.1h0M33.8 9.4h0M23.6 25.2h0M12.2 26.2h0M18.6 20.8h0M13.8 12.8h0M54.8 20.1h0M53.3 26.4h0M44.4 22.2h0M35.6 8.8h0M23.1 31.0h0M11.0 34.3h0M46.5 19.2h0M44.9 7.4h0M37.9 15.9h0M12.7 25.5h0M18.7 28.3h0M7.8 27.2h0M49.5 14.5h0M8.7 25.1h0M18.7 31.5h0M45.7 27.5h0M10.1 29.7h0M24.4 8.8h0M41.9 29.9h0M25.5 14.9h0M33.0 12.0h0M41.5 30.9h0M58.0 21.3h0M50.9 10.3h0M39.8 4.5h0M21.3 12.6h0M11.5 35.3h0M35.7 4.8h0M30.9 20.1h0M27.9 1.3h0M16.0 31.9h0M18.8 30.0h0M18.5 18.4h0M34.4 21.8h0M23.2 24.5h0M16.5 17.7h0M13.1 27.4h0M11.6 33.2h0M40.6 26.7h0M24.1 5.6h0M20.0 14.1h0M53.8 15.0h0M49.0 9.4h0M55.3 21.9h0M38.1 8.6h0M31.0 22.2h0M30.4 23.4h0M48.2 7.9h0M17.6 26.2h0M31.4 11.1h0M36.4 25.7h0M43.1 22.4h0M40.1 10.6h0M49.0 13.0h0M31.0 15.9h0M35.1 13.2h0M27.8 15.6h0M26.3 5.7h0M50.4 26.3h0M28.9 23.3h0M41.7 8.2h0M27.8 17.5h0M39.0 7.1h0M11.5 11.7h0M45.7 8.1h0M41.6 32.1h0M12.1 30.0h0M31.3 13.5h0M36.0 26.8h0M45.4 31.1h0M39.0 5.2h0M23.4 15.5h0M36.6 21.1h0M16.3 27.8h0M26.0 11.8h0M42.1 9.3h0M26.8 20.4h0M20.7 20.6h0M37.4 8.6h0M8.9 19.8h0M45.7 18.6h0M23.4 27.0h0M8.3 37.4h0M21.9 28.3h0M35.0 11.9h0M8.7 18.6h0" stroke="#8cc828"/>
<path d="M47.7 32.1h0M29.3 35.0h0M29.4 39.1h0M34.3 30.3h0M49.5 26.0h0M19.1 46.4h0M46.4 31.0h0M58.2 33.4h0M46.3 24.3h0M44.9 18.4h0M34.4 34.9h0M10.0 27.9h0M32.3 32.8h0M45.8 12.7h0M15.5 43.1h0M30.2 15.5h0M29.4 23.9h0M14.5 42.8h0M13.7 27.4h0M43.9 32.3h0M31.6 27.7h0M36.3 34.2h0M58.6 27.4h0M29.5 9.9h0M14.8 48.1h0M35.4 34.1h0M21.1 47.3h0M15.0 44.1h0M18.1 39.4h0M14.4 45.7h0M41.5 32.9h0M38.8 31.4h0M17.6 38.5h0M14.8 29.9h0M29.7 35.6h0M25.9 36.5h0M29.0 23.8h0M21.5 33.7h0M14.7 38.0h0M39.4 17.6h0M43.6 31.3h0M35.8 33.1h0M18.1 29.4h0M31.8 36.2h0M31.1 32.8h0M29.7 36.8h0M17.7 46.9h0M29.6 22.8h0M12.1 24.6h0M9.7 23.3h0M39.5 29.1h0M19.9 43.4h0M13.5 44.1h0M43.3 22.9h0M41.9 34.8h0M52.5 18.4h0M10.3 32.1h0M18.7 35.3h0M27.7 25.1h0M47.0 32.0h0M55.3 36.1h0M15.4 23.3h0M30.0 41.4h0M8.6 37.1h0M28.9 33.6h0M58.5 32.0h0M46.8 34.1h0M21.3 38.2h0M23.6 50.5h0M24.6 36.2h0M26.8 25.7h0M52.2 36.9h0M17.6 31.9h0M29.4 41.1h0M13.4 29.3h0M42.4 16.9h0M41.7 31.6h0M55.6 18.7h0M42.5 12.7h0M23.8 6.1h0M12.4 35.4h0M26.2 33.8h0M28.5 9.5h0M29.8 34.9h0M24.6 28.9h0M43.8 30.9h0M26.7 22.4h0M27.3 10.0h0M43.6 22.9h0M23.9 35.1h0M51.4 23.2h0M22.9 36.0h0M36.5 33.5h0M20.8 47.2h0M8.4 24.8h0M23.1 8.2h0M45.7 29.3h0M21.7 28.5h0M33.6 34.0h0M24.4 34.5h0M14.6 43.2h0M26.0 39.0h0M48.4 24.8h0M20.6 51.7h0M7.4 28.6h0M26.0 36.2h0M42.3 19.0h0M20.9 46.5h0M13.3 45.3h0M9.1 21.3h0M36.6 34.1h0M27.5 34.3h0M33.5 26.1h0M31.7 0.1h0M13.5 45.5h0M27.5 23.2h0M43.6 36.8h0M32.3 40.8h0M27.8 37.1h0M37.7 10.3h0M46.7 31.3h0M50.6 31.9h0M17.2 28.5h0M26.4 38.0h0M19.5 46.6h0M29.3 17.7h0M35.2 34.3h0M19.6 49.4h0M57.6 31.6h0M24.9 31.3h0M55.4 27.8h0M26.3 36.8h0M32.5 31.7h0M24.9 42.3h0M19.6 45.9h0M14.2 44.3h0M21.5 47.4h0M25.0 37.9h0M27.2 31.0h0M25.1 38.8h0M34.1 22.8h0M34.1 30.3h0M22.8 42.2h0M17.5 20.1h0M48.3 35.3h0M22.2 34.8h0M11.5 38.3h0M12.2 42.9h0M22.5 34.9h0M22.5 41.8h0M33.7 29.9h0M19.1 40.9h0M42.5 32.8h0M18.0 38.3h0" stroke="#c8dc28"/>
<path d="M30.8 39.1h0M21.2 49.0h0M27.1 52.5h0M23.5 46.8h0M26.2 49.5h0M24.2 45.1h0M25.6 46.6h0M25.4 50.3h0M26.7 48.4h0M24.2 50.9h0M27.0 49.0h0M25.6 46.7h0M25.3 47.2h0M21.7 44.8h0M29.0 39.8h0M48.0 39.9h0M27.2 40.7h0M30.8 39.0h0M52.4 42.9h0M32.3 45.3h0M29.6 45.5h0M23.3 45.5h0M56.5 37.0h0M33.7 41.0h0M40.2 39.4h0M27.8 44.2h0M24.3 47.6h0M25.7 48.5h0M45.5 34.7h0M36.9 42.9h0M49.0 38.8h0M41.5 40.4h0M57.4 34.5h0M51.9 38.3h0M29.3 35.5h0M29.8 42.8h0M26.7 44.8h0M30.0 43.3h0M48.3 34.5h0M48.2 40.5h0M46.8 41.6h0M43.2 36.0h0M40.2 38.0h0M35.5 40.1h0M36.5 33.6h0M48.1 39.5h0M41.4 41.3h0M22.8 48.2h0M23.0 51.1h0M38.9 39.3h0M27.3 43.7h0M23.2 47.5h0M24.2 48.2h0M42.4 34.3h0M47.8 40.3h0M45.6 36.1h0M15.5 38.3h0M46.1 39.7h0M49.2 38.2h0M47.5 37.6h0M32.1 44.0h0M33.0 42.7h0M35.2 34.0h0M51.3 37.0h0M32.9 37.9h0M26.9 47.9h0M30.2 28.8h0M30.0 45.2h0" stroke="#f0dc28"/>
<path d="M36.2 44.7h0M27.9 49.1h0M34.7 43.1h0M34.7 44.7h0M45.1 42.9h0M49.2 42.4h0M42.7 42.7h0M37.7 42.5h0M29.7 53.5h0M36.9 43.9h0M27.6 53.7h0M32.2 43.2h0M28.6 52.1h0M29.0 50.8h0M53.3 40.7h0M35.1 46.2h0M35.7 43.0h0M48.8 41.4h0M41.3 44.1h0M38.6 43.7h0M43.1 42.9h0M30.4 44.1h0M50.6 41.7h0" stroke="#f0b428"/>
<path d="M25.1 15.7h0M25.5 10.5h0M23.5 21.1h0M20.0 19.7h0M28.7 19.7h0M8.6 25.7h0M39.4 27.8h0M22.7 36.5h0M49.1 28.4h0M39.7 16.0h0M7.2 29.4h0M19.6 42.1h0M11.6 37.6h0M5.6 24.4h0M15.0 42.7h0M18.5 29.3h0M47.6 26.3h0M32.2 34.6h0M54.6 15.9h0M55.6 27.0h0M44.0 6.2h0M49.4 15.9h0M46.1 27.5h0M33.1 11.8h0M16.8 18.0h0M19.5 42.2h0M47.9 28.6h0M32.8 32.3h0M29.3 21.7h0M42.3 7.2h0M22.9 33.1h0M22.1 24.0h0M56.4 28.0h0M42.8 22.3h0M10.8 18.9h0M12.2 37.4h0M22.3 34.3h0M51.3 26.2h0M13.4 28.2h0M31.4 21.3h0M57.6 25.3h0M53.0 26.9h0M47.2 29.1h0M22.2 36.0h0M9.3 40.5h0M34.7 4.2h0M35.2 32.3h0M51.5 8.8h0M46.2 30.3h0M26.3 1.4h0M19.7 41.4h0M49.3 30.0h0M18.6 30.5h0M30.0 24.7h0M54.5 23.6h0M14.5 39.3h0M28.8 23.0h0M44.5 17.7h0M39.4 22.0h0M28.1 21.7h0M13.6 46.3h0M41.5 22.7h0M58.9 25.4h0M31.2 19.3h0M27.1 12.2h0M24.4 22.4h0M12.6 36.9h0M43.9 30.4h0M39.8 22.9h0M50.2 29.1h0M31.5 18.8h0M17.9 11.3h0M14.2 39.8h0M31.1 21.4h0M47.0 33.7h0M48.4 25.5h0M24.8 9.1h0M32.9 24.0h0M40.8 26.2h0M29.1 13.7h0M47.9 7.7h0M42.5 30.8h0M49.7 27.2h0M52.0 30.1h0M42.0 15.1h0M19.4 34.0h0M55.4 30.0h0M8.9 30.2h0M47.1 27.6h0M35.1 29.3h0M40.5 26.3h0M25.0 21.5h0M42.5 21.7h0M27.7 32.8h0M22.7 31.9h0M52.1 28.6h0M48.0 10.1h0M40.5 6.3h0M40.1 10.1h0M24.8 33.7h0M15.9 24.0h0M39.9 28.2h0M48.8 25.0h0M9.0 27.9h0M31.8 12.9h0M25.0 13.5h0M50.3 18.3h0M37.0 22.3h0M17.4 47.9h0M23.2 37.0h0M54.6 35.9h0M35.3 27.8h0M17.9 39.0h0M13.8 28.7h0M51.3 21.5h0M10.6 37.9h0M11.8 29.5h0M22.1 20.0h0M28.2 12.2h0M47.1 16.8h0M6.9 21.0h0M27.7 32.3h0M35.8 26.0h0M45.0 17.5h0M17.2 28.8h0M39.8 37.2h0M11.5 38.6h0M39.6 4.4h0M26.4 37.9h0M39.6 10.7h0M27.0 25.3h0M39.3 6.0h0M24.7 11.6h0M33.5 25.8h0M12.0 35.1h0M15.7 33.8h0M33.0 11.5h0M24.9 30.3h0M42.7 17.8h0M34.9 18.7h0M26.9 36.0h0M49.5 8.3h0M25.6 8.8h0M16.6 39.5h0M10.0 31.5h0M53.6 28.5h0M28.0 1.3h0M22.6 30.2h0M44.0 21.3h0M11.1 37.2h0M32.6 20.6h0M38.7 31.5h0M10.2 31.8h0M47.5 29.8h0M24.5 43.7h0M24.1 44.1h0M34.8 7.0h0M23.3 11.5h0M19.0 45.7h0M15.8 40.7h0M31.5 21.8h0M40.3 6.1h0M45.3 31.5h0M10.7 23.6h0M27.1 34.8h0M42.5 17.2h0M52.6 23.7h0M37.6 24.2h0M53.4 17.5h0M23.0 46.1h0M46.8 33.8h0M24.8 38.0h0M26.9 21.4h0M47.9 21.1h0M12.3 13.5h0M36.3 8.8h0M42.1 26.5h0M10.5 36.4h0M24.9 6.2h0M51.4 28.2h0M49.1 29.1h0M20.4 35.7h0M40.5 12.5h0M22.8 42.9h0M15.3 28.0h0M22.4 12.5h0M38.9 14.3h0M38.4 5.4h0M29.5 10.2h0M26.3 19.8h0M31.5 36.4h0M13.3 36.8h0M44.4 26.1h0M42.6 35.6h0M32.1 35.2h0M43.9 8.4h0M8.8 29.4h0M11.2 30.6h0M55.3 25.4h0M23.6 16.8h0" stroke="#b4dc28"/>
<path d="M47.4 29.9h0M25.5 42.8h0M41.4 14.8h0M45.9 33.0h0M48.5 34.6h0M53.3 35.8h0M40.5 37.3h0M34.1 35.1h0M29.8 41.7h0M14.2 40.7h0M59.0 29.6h0M23.1 38.1h0M26.0 52.2h0M45.7 36.1h0M30.2 42.0h0M21.1 50.5h0M31.4 40.8h0M34.2 40.1h0M42.0 37.1h0M43.9 36.8h0M41.8 41.3h0M15.4 37.6h0M49.7 40.9h0M18.9 50.7h0M44.0 37.0h0M49.0 38.3h0M40.2 34.1h0M54.9 35.3h0M27.5 38.6h0M58.1 30.1h0M42.6 42.3h0M17.4 48.3h0M18.2 46.9h0M24.8 51.7h0M20.5 34.1h0M39.7 34.9h0M8.1 39.8h0M39.7 40.2h0M31.1 40.7h0M42.8 33.5h0M23.2 35.4h0M27.5 35.9h0M46.0 39.8h0M50.2 34.8h0M56.0 39.4h0M24.3 51.5h0M26.2 43.0h0M40.3 35.9h0M26.4 36.4h0M29.3 24.7h0M17.0 45.7h0M28.0 41.3h0M30.2 41.0h0M30.6 37.0h0M26.7 42.7h0M32.6 39.6h0M30.1 42.7h0M22.7 46.3h0M21.0 48.6h0M13.9 41.7h0M50.4 38.6h0M19.7 45.0h0M37.9 39.7h0" stroke="#f0f028"/>
<path d="M37.3 51.5h0M40.0 51.8h0M49.6 48.2h0M47.9 47.1h0M45.7 49.0h0" stroke="#dc3c14"/>
<path d="M34.6 44.3h0M34.3 43.5h0M41.6 51.3h0M44.4 47.4h0M44.1 45.9h0M41.2 43.9h0M39.3 50.2h0M45.8 43.6h0M52.6 44.5h0M45.6 42.2h0M48.3 43.3h0M42.2 44.9h0M53.1 42.2h0M38.0 44.3h0M40.9 46.9h0M41.1 45.5h0M50.9 45.7h0M31.6 53.8h0M43.0 44.9h0M40.1 45.3h0M49.8 44.8h0M34.6 53.4h0M40.0 46.8h0M30.6 53.6h0M31.5 42.5h0" stroke="#f08c28"/>
<path d="M42.7 45.2h0M32.2 53.6h0M51.0 44.6h0M40.7 45.8h0M43.1 42.3h0M46.6 42.1h0M36.9 45.7h0M39.2 46.4h0M45.5 47.1h0M31.4 51.6h0M38.4 42.3h0M29.1 52.4h0M44.5 44.4h0M36.0 43.4h0M53.3 42.6h0M41.5 40.8h0M43.6 44.3h0M30.7 52.2h0M29.6 52.3h0M46.1 44.8h0M38.2 47.7h0M46.1 42.5h0M43.4 45.3h0M38.2 43.2h0M37.8 43.5h0M55.4 39.0h0M39.0 44.8h0M41.4 42.5h0" stroke="#f0a028"/>
<path d="M17.9 16.0h0M47.0 30.3h0M29.4 23.0h0M18.8 15.1h0M7.1 21.5h0M34.2 33.9h0M32.6 19.4h0M55.6 14.4h0M26.9 36.3h0M10.7 39.9h0M37.7 21.9h0M51.2 23.9h0M18.9 28.4h0M25.2 40.2h0M33.8 27.0h0M15.4 29.2h0M16.8 19.4h0M38.8 10.9h0M47.7 20.3h0M35.3 10.6h0M33.1 28.6h0M42.0 23.8h0M7.6 19.5h0M22.9 46.4h0M45.0 29.1h0M13.9 21.0h0M36.3 1.6h0M13.0 28.0h0M26.2 24.3h0M29.7 23.1h0M35.4 3.1h0M55.7 21.5h0M33.6 25.6h0M13.4 27.5h0M13.2 37.2h0M21.5 15.5h0M53.4 19.7h0M33.5 22.6h0M31.1 8.4h0M28.2 3.0h0M8.5 23.6h0M18.8 24.8h0M13.1 27.5h0M25.2 12.1h0M53.1 22.0h0M43.2 7.6h0M8.9 35.8h0M15.3 10.1h0M52.3 11.0h0M44.0 36.8h0M57.7 30.8h0M40.5 18.8h0M43.0 4.6h0M25.3 20.6h0M35.4 27.1h0M19.1 28.1h0M15.3 39.9h0M56.4 27.0h0M16.8 27.7h0M43.3 20.4h0M22.9 20.5h0M19.1 22.5h0M25.5 39.2h0M46.3 13.0h0M16.9 30.1h0M35.7 27.7h0M28.0 6.3h0M24.8 5.5h0M37.2 3.3h0M15.3 45.1h0M9.5 34.0h0M25.1 18.5h0M15.2 39.7h0M39.3 7.2h0M31.2 28.3h0M20.5 14.8h0M31.3 2.9h0M45.5 17.4h0M23.2 20.9h0M10.4 42.0h0M28.9 15.8h0M8.7 36.2h0M25.7 27.6h0M18.1 12.0h0M23.8 7.8h0M30.8 20.4h0M26.3 21.8h0M49.9 11.9h0M46.1 17.2h0M33.2 14.2h0M26.1 13.3h0M35.1 3.3h0M44.2 3.3h0M12.0 32.9h0M32.8 22.2h0M50.9 10.3h0M54.5 19.7h0M24.7 9.4h0M30.8 21.3h0M49.4 29.9h0M11.0 42.1h0M51.5 14.1h0M25.8 20.5h0M47.9 27.9h0M48.6 17.8h0M26.3 27.5h0M36.7 27.0h0M34.0 31.9h0M56.8 24.0h0M18.1 44.2h0M11.8 41.6h0M59.3 28.7h0M37.9 23.8h0M13.4 26.8h0M29.6 24.3h0M52.6 19.0h0M28.7 11.7h0M14.9 17.3h0M36.8 14.0h0M45.6 6.2h0M43.6 26.7h0M46.4 30.8h0M31.6 3.2h0M22.6 27.9h0M48.2 11.6h0M30.9 2.5h0M12.3 28.6h0M33.5 25.6h0M51.5 22.5h0M46.7 20.5h0M47.1 16.5h0M53.7 23.9h0M31.2 24.9h0M48.1 30.6h0M9.0 38.6h0M49.5 21.3h0M46.2 29.6h0M35.3 1.0h0M20.0 7.8h0M41.0 8.8h0M27.6 9.8h0M27.5 9.3h0M39.4 19.7h0M46.5 10.4h0M16.1 21.7h0M16.1 24.0h0M18.6 35.3h0M25.9 34.1h0M56.5 25.5h0M39.9 30.9h0M11.4 39.6h0M11.2 13.8h0M21.1 28.2h0M29.4 6.6h0M45.4 29.6h0M36.3 16.9h0M57.2 27.8h0M41.5 30.4h0M9.2 36.1h0M53.1 18.8h0M59.0 27.7h0M38.7 21.1h0M17.5 22.9h0M17.6 24.2h0M54.0 26.1h0M13.6 26.4h0M20.1 15.5h0M8.1 19.7h0M44.2 3.8h0M18.2 16.5h0M26.8 23.8h0M24.3 22.2h0M28.9 29.3h0M38.5 4.3h0M47.5 9.4h0M17.9 10.1h0M36.8 6.6h0M24.6 32.8h0M36.9 10.8h0M15.1 28.4h0M9.6 26.3h0M55.8 22.1h0M9.3 37.0h0M21.6 2.1h0M56.9 26.9h0M9.1 30.1h0M51.4 20.3h0M26.1 24.4h0M39.7 26.3h0M28.9 1.9h0M31.0 29.2h0M30.7 20.5h0M53.5 23.1h0M13.6 38.3h0M21.6 16.8h0M43.8 32.7h0M35.6 9.4h0M6.4 18.7h0M20.2 46.9h0M26.0 21.3h0M42.0 20.0h0M30.1 20.8h0M53.0 16.6h0M13.8 10.3h0M20.6 20.0h0M27.0 35.3h0M19.8 22.2h0M24.5 25.9h0M27.8 36.9h0M42.4 16.1h0M44.7 24.9h0M26.1 30.0h0M33.4 1.5h0M45.0 32.1h0M30.5 5.5h0M30.8 3.4h0M10.6 27.5h0M34.0 23.6h0M45.1 11.5h0M20.0 38.7h0M40.5 3.8h0M28.0 10.0h0M20.9 28.3h0" stroke="#a0c828"/>
<path d="M52.3 11.0h0M41.0 23.4h0M27.4 17.7h0M25.3 32.1h0M20.2 24.6h0M34.1 8.8h0M29.6 2.7h0M44.3 7.9h0M32.3 24.5h0M8.2 26.0h0M25.9 26.2h0M30.4 30.8h0M30.8 3.8h0M27.8 15.6h0M42.6 20.2h0M17.4 17.2h0M43.8 12.6h0M8.8 18.3h0M10.8 25.4h0M12.7 22.1h0M31.7 23.5h0M44.2 7.1h0M19.2 21.1h0M41.7 22.2h0M44.1 14.1h0M26.5 18.6h0M40.8 9.7h0M50.2 10.5h0M33.0 2.3h0M49.6 22.0h0M20.0 23.6h0M10.6 12.0h0M10.1 29.3h0M14.5 41.2h0M47.5 15.2h0M56.0 21.9h0M28.9 7.9h0M36.6 2.4h0M10.0 20.6h0M15.2 17.7h0M39.5 10.0h0M43.2 13.9h0M11.5 17.7h0M34.5 8.0h0M34.3 3.5h0M24.0 9.0h0M30.2 17.4h0M25.9 6.2h0M31.9 7.8h0M18.0 42.6h0M29.5 19.3h0M34.9 9.9h0M26.2 8.6h0M8.6 25.4h0M42.2 7.0h0M42.4 21.1h0M34.3 11.5h0M40.8 11.5h0M32.5 25.8h0M26.5 16.8h0M36.1 10.4h0M30.0 10.4h0M42.7 18.8h0M41.7 26.4h0" stroke="#78c828"/>
<path d="M10.9 25.2h0M22.0 31.6h0M17.1 13.0h0M38.0 9.5h0M38.7 11.5h0M27.0 3.9h0M41.9 6.5h0M24.9 4.0h0M6.7 21.6h0M37.5 3.1h0M49.9 6.5h0M32.0 27.7h0M25.3 8.4h0M38.3 7.0h0M25.2 26.7h0M28.5 4.2h0M34.8 21.3h0M11.0 18.2h0M23.6 13.6h0M37.0 8.6h0M37.0 9.7h0M37.0 5.2h0M16.3 17.9h0M27.0 5.4h0M28.5 9.9h0M33.0 0.8h0M35.9 9.1h0M28.7 2.5h0M41.6 18.4h0M57.8 25.8h0M36.4 5.9h0M41.0 17.7h0M33.2 8.0h0M22.8 8.7h0M16.8 6.4h0M29.0 15.3h0M41.9 18.2h0M18.9 17.5h0M19.0 14.8h0M31.4 15.0h0M39.1 8.2h0M43.6 10.4h0M24.3 29.1h0M29.2 1.5h0M28.5 13.0h0M35.5 2.5h0M23.3 9.7h0M6.9 23.7h0M41.4 8.0h0M9.1 27.8h0M35.0 12.2h0" stroke="#78b43c"/>
<path d="M51.8 42.4h0M28.1 48.3h0M37.0 46.3h0M28.7 47.2h0M31.5 44.7h0M40.5 41.4h0M42.7 41.0h0M26.1 46.0h0M37.9 45.8h0M40.8 41.9h0M22.6 50.0h0M36.0 42.2h0M40.3 42.3h0M31.4 43.2h0M34.9 40.7h0M27.3 48.3h0M32.6 43.5h0M29.2 51.3h0M45.4 38.9h0M53.1 39.8h0M41.1 39.9h0M29.9 51.6h0M41.8 41.4h0M28.7 44.3h0M28.1 49.2h0M30.1 50.6h0M39.9 41.9h0M52.8 41.0h0M54.4 40.6h0M34.1 42.9h0M31.8 42.8h0M34.4 45.2h0M53.5 39.8h0M51.8 39.2h0M51.0 40.2h0M40.7 42.4h0M44.2 40.9h0M44.6 40.3h0M48.9 37.2h0M28.1 53.4h0M52.9 40.5h0M34.9 42.5h0M53.3 40.1h0M26.0 47.8h0M54.6 39.7h0M49.9 41.3h0M46.6 41.4h0M33.1 42.6h0M33.2 43.1h0M51.0 40.6h0M48.5 39.0h0M41.3 41.7h0" stroke="#f0c828"/>
<path d="M46.5 49.1h0M41.5 51.9h0M38.5 50.5h0M39.1 48.9h0M40.2 49.4h0M44.2 49.6h0M38.6 50.5h0M38.0 48.9h0M42.2 51.5h0" stroke="#dc5014"/>
<path d="M42.6 49.2h0M41.2 45.1h0M51.9 43.4h0M39.8 49.1h0M37.1 48.4h0M38.5 46.1h0" stroke="#f07828"/>
<path d="M39.8 32.2h0M32.3 37.8h0M14.0 44.3h0M18.5 46.3h0M30.9 28.4h0M45.5 33.8h0M44.3 32.3h0M48.5 38.3h0M45.0 34.8h0M37.0 29.9h0M20.2 49.2h0M47.4 34.0h0M29.3 30.2h0M40.3 31.2h0M25.8 44.3h0M54.1 18.6h0M25.4 46.6h0" stroke="#dcf028"/>
<path d="M34.4 18.1h0M19.9 24.7h0M13.4 29.5h0M40.9 23.6h0M30.7 12.4h0M41.0 34.1h0M50.5 28.1h0M7.8 34.5h0M24.5 23.6h0M40.9 30.6h0M28.7 15.2h0M29.3 21.9h0M28.8 1.9h0M44.0 27.6h0M34.2 14.8h0M36.9 26.9h0M49.6 29.8h0M26.4 4.5h0M9.2 30.7h0M48.1 5.4h0M22.8 46.3h0M15.0 40.2h0M19.9 20.2h0M12.0 35.9h0M18.4 46.6h0M24.8 35.1h0M13.6 46.0h0M46.9 31.5h0M6.3 23.4h0M50.6 14.7h0M8.3 22.8h0M34.4 23.0h0M44.2 28.8h0M19.5 24.6h0M15.8 6.2h0" stroke="#a0dc28"/>
<path d="M45.4 43.8h0M39.9 45.5h0M47.2 48.1h0M34.2 53.3h0M48.0 45.2h0M41.9 47.1h0M34.3 52.6h0M36.8 46.5h0M39.4 51.7h0M41.1 45.2h0M42.6 47.6h0" stroke="#dc7828"/>
<path d="M17.8 19.3h0M38.5 2.7h0M19.6 5.4h0M41.3 3.2h0M27.0 24.9h0M40.8 10.1h0M35.4 10.2h0M52.7 17.5h0M40.9 8.3h0M49.3 7.4h0M41.0 4.9h0M29.5 22.7h0M50.4 17.3h0M26.5 1.9h0M10.8 25.0h0" stroke="#64b43c"/>
<path d="M39.6 49.9h0M39.1 49.3h0M39.7 45.7h0M48.1 45.9h0M42.0 46.3h0M41.2 51.0h0M48.9 46.1h0M37.4 49.6h0" stroke="#dc6428"/>
<path d="M44.2 9.1h0M34.3 2.5h0M22.9 8.3h0" stroke="#64a050"/>
<path d="M33.7 10.3h0" stroke="#50a050"/>
<path d="M13.6 24.3h0" stroke="#78c83c"/>
<path d="M43.8 50.3h0" stroke="#dc2814"/>
<path d="M19.2 15.3h0" stroke="#50a064"/>
</g>
<rect x="314.80" y="556.60" width="2.20" height="1.80" fill="#3a3aa0" />
<rect x="316.20" y="555.60" width="1.40" height="1.40" fill="#4a5ab0" />
<rect x="376.45" y="546.6" width="60.3" height="59.9" fill="none" stroke="#999" stroke-width="0.8"/>
<text x="406.60" y="542.10" font-size="8.5" text-anchor="middle" fill="#111" textLength="27.5" lengthAdjust="spacingAndGlyphs" >Clec4D</text>
<g transform="translate(376.45 546.60)" stroke-width=".95" stroke-linecap="square">
<path d="M43.7 22.9h0M52.3 11.0h0M34.2 33.9h0M49.1 28.4h0M28.1 48.3h0M28.7 47.2h0M18.9 28.4h0M38.8 10.9h0M31.5 44.7h0M45.8 12.7h0M33.1 28.6h0M42.0 23.8h0M32.2 34.6h0M45.0 29.1h0M30.5 36.9h0M49.4 15.9h0M57.8 27.5h0M43.9 32.3h0M29.7 23.1h0M26.0 52.2h0M58.6 27.4h0M33.6 25.6h0M18.8 22.7h0M47.9 28.6h0M21.5 15.5h0M40.9 28.7h0M42.3 7.2h0M35.4 34.1h0M28.5 28.4h0M56.4 28.0h0M29.7 35.6h0M53.1 22.0h0M29.0 39.8h0M51.3 26.2h0M31.4 40.8h0M37.5 3.1h0M10.7 40.7h0M54.5 19.1h0M43.6 31.3h0M35.8 33.1h0M31.8 38.5h0M29.7 36.8h0M43.9 36.8h0M40.5 25.2h0M32.6 43.5h0M43.3 22.9h0M52.5 18.4h0M39.1 48.9h0M31.4 51.6h0M44.0 37.0h0M47.0 32.0h0M15.3 45.1h0M40.2 34.1h0M47.5 26.3h0M27.5 38.6h0M45.5 17.4h0M19.3 18.3h0M58.5 32.0h0M36.9 25.0h0M54.5 23.6h0M27.6 53.7h0M56.5 23.1h0M44.5 17.7h0M42.0 28.3h0M40.8 9.7h0M47.9 11.7h0M39.7 34.9h0M33.4 29.9h0M17.6 31.9h0M28.1 49.2h0M41.2 6.0h0M50.9 10.3h0M54.3 26.3h0M47.9 27.7h0M51.5 14.1h0M39.8 22.9h0M50.2 29.1h0M26.2 33.8h0M49.6 22.0h0M24.3 47.6h0M31.1 40.7h0M18.1 44.2h0M45.5 34.7h0M47.0 33.7h0M52.6 19.0h0M51.4 23.2h0M36.5 33.5h0M43.6 26.7h0M48.2 11.6h0M45.7 29.3h0M47.1 27.6h0M52.1 28.6h0M29.3 35.5h0M40.5 6.3h0M26.0 39.0h0M26.7 44.8h0M30.0 43.3h0M34.4 45.2h0M53.9 15.0h0M50.3 18.3h0M44.0 27.6h0M36.9 26.9h0M36.3 16.9h0M57.2 27.8h0M45.0 34.8h0M37.0 29.9h0M41.5 30.4h0M48.4 28.7h0M26.4 36.4h0M36.6 34.1h0M27.9 35.8h0M54.0 26.1h0M43.2 36.0h0M41.9 18.2h0M29.6 52.3h0M36.5 33.6h0M31.6 53.8h0M18.0 42.6h0M44.9 7.4h0M49.5 14.5h0M45.7 27.5h0M44.0 21.3h0M41.9 29.9h0M25.5 14.9h0M24.2 48.2h0M47.5 29.8h0M40.3 31.2h0M25.8 44.3h0M35.2 34.3h0M50.9 10.3h0M39.8 4.5h0M40.3 6.1h0M42.4 21.1h0M54.1 18.6h0M46.9 31.5h0M41.5 28.9h0M53.4 17.5h0M53.8 15.0h0M42.1 26.5h0M55.3 21.9h0M38.1 8.6h0M42.0 20.0h0M21.5 47.4h0M51.4 28.2h0M41.4 8.0h0M50.4 26.3h0M34.1 30.3h0M45.4 31.1h0M31.5 36.4h0M34.0 23.6h0M32.9 37.9h0M11.2 30.6h0M33.7 29.9h0M19.1 40.9h0M30.0 45.2h0M18.0 38.3h0M35.0 11.9h0" stroke="#f0dc28"/>
<path d="M45.0 19.5h0M41.0 17.1h0M25.5 10.5h0M49.5 26.0h0M27.5 13.3h0M41.0 23.4h0M50.8 21.3h0M22.7 36.5h0M10.7 39.9h0M25.2 40.2h0M33.8 27.0h0M22.0 31.6h0M10.0 27.9h0M28.1 5.9h0M16.8 19.4h0M35.3 10.6h0M21.6 14.8h0M15.5 43.1h0M30.2 15.5h0M35.5 3.6h0M53.2 19.4h0M34.3 10.3h0M25.4 50.3h0M14.5 42.8h0M30.9 24.9h0M14.2 40.7h0M31.8 25.7h0M32.0 3.0h0M26.1 46.0h0M33.1 11.8h0M38.0 9.5h0M38.7 11.5h0M41.9 6.5h0M11.1 30.3h0M29.5 9.9h0M29.3 21.7h0M17.8 19.3h0M31.1 8.4h0M21.7 44.8h0M34.1 8.8h0M36.7 32.0h0M14.4 45.7h0M40.9 23.6h0M26.5 35.9h0M35.0 10.2h0M42.8 22.3h0M22.6 50.0h0M43.5 17.9h0M25.9 36.5h0M29.0 23.8h0M10.8 18.9h0M46.6 22.6h0M13.4 28.2h0M49.9 6.5h0M52.3 11.0h0M30.4 30.8h0M31.8 36.2h0M31.1 32.8h0M15.3 39.9h0M30.8 3.8h0M15.4 37.6h0M9.3 40.5h0M16.8 27.7h0M35.3 28.3h0M27.4 32.3h0M50.2 7.9h0M29.9 13.2h0M51.5 8.8h0M25.2 11.1h0M39.5 24.6h0M25.5 39.2h0M11.0 18.2h0M25.6 19.2h0M19.9 26.7h0M41.2 17.8h0M13.5 44.1h0M18.7 35.3h0M11.3 43.6h0M9.5 34.0h0M25.1 18.5h0M43.8 12.6h0M24.1 2.9h0M34.1 9.9h0M31.3 2.9h0M12.7 22.1h0M31.7 23.5h0M46.1 15.2h0M19.2 21.1h0M37.0 8.6h0M25.7 27.6h0M25.3 16.1h0M7.4 24.1h0M23.8 7.8h0M30.8 20.4h0M26.8 25.7h0M36.7 28.1h0M28.7 16.8h0M38.7 6.9h0M42.4 2.3h0M44.2 3.3h0M25.5 23.4h0M20.1 24.5h0M33.0 2.3h0M35.4 10.2h0M36.3 25.9h0M24.5 23.6h0M12.6 36.9h0M37.4 9.9h0M29.0 33.9h0M25.8 20.5h0M25.2 32.1h0M55.9 25.0h0M30.2 15.2h0M25.1 16.3h0M26.3 27.5h0M28.5 9.5h0M29.8 34.9h0M54.6 13.3h0M16.3 17.9h0M11.8 41.6h0M23.9 35.1h0M10.1 29.3h0M22.3 44.8h0M36.8 14.0h0M20.8 47.2h0M42.0 15.1h0M28.5 9.9h0M24.5 5.1h0M35.7 3.5h0M21.7 28.5h0M38.9 13.1h0M41.6 18.4h0M47.1 16.5h0M24.8 42.0h0M9.0 38.6h0M43.2 8.0h0M35.3 1.0h0M24.3 29.7h0M25.0 13.5h0M27.6 9.8h0M39.4 19.7h0M46.5 10.4h0M37.0 22.3h0M47.7 21.5h0M34.2 14.8h0M24.7 34.4h0M22.7 48.8h0M18.6 35.3h0M26.0 36.2h0M33.2 8.0h0M26.4 4.5h0M54.4 16.4h0M23.7 11.9h0M42.9 21.1h0M20.2 49.2h0M48.1 5.4h0M27.7 32.3h0M46.6 14.8h0M29.0 15.3h0M27.5 34.3h0M35.6 11.6h0M17.6 24.2h0M39.6 4.4h0M9.9 33.1h0M34.5 8.0h0M34.3 3.5h0M23.6 25.2h0M18.4 46.6h0M39.6 10.7h0M24.3 22.2h0M47.5 9.4h0M23.1 31.0h0M15.7 33.8h0M33.0 11.5h0M34.9 18.7h0M24.6 32.8h0M26.7 42.7h0M29.5 19.3h0M23.2 47.5h0M11.1 37.2h0M33.0 12.0h0M24.5 43.7h0M24.1 44.1h0M9.1 30.1h0M58.0 21.3h0M15.8 40.7h0M31.5 21.8h0M19.6 49.4h0M30.9 20.1h0M24.9 31.3h0M30.7 20.5h0M10.7 23.6h0M34.3 11.5h0M21.6 16.8h0M37.6 24.2h0M13.1 27.4h0M23.0 46.1h0M29.5 22.7h0M24.8 38.0h0M47.9 21.1h0M26.0 21.3h0M10.5 36.4h0M14.2 44.3h0M31.4 11.1h0M36.4 25.7h0M40.1 10.6h0M49.0 13.0h0M31.0 15.9h0M35.1 13.2h0M27.0 35.3h0M27.2 31.0h0M22.8 42.9h0M26.3 5.7h0M25.1 38.8h0M28.9 23.3h0M41.7 8.2h0M24.5 25.9h0M38.4 5.4h0M19.5 24.6h0M39.0 5.2h0M17.5 20.1h0M42.1 9.3h0M40.5 3.8h0M20.7 20.6h0M30.2 28.8h0" stroke="#c8dc28"/>
<path d="M47.7 32.1h0M30.8 39.1h0M47.4 29.9h0M47.0 30.3h0M29.4 39.1h0M23.5 21.1h0M45.9 33.0h0M46.4 31.0h0M46.3 24.3h0M36.1 40.7h0M34.4 34.9h0M26.2 49.5h0M39.8 32.2h0M50.2 29.1h0M34.1 35.1h0M34.7 44.7h0M34.3 43.5h0M59.0 29.6h0M26.7 48.4h0M32.3 37.8h0M36.3 34.2h0M30.2 42.0h0M54.7 26.4h0M36.9 45.7h0M41.5 32.9h0M42.3 33.7h0M40.3 42.3h0M34.8 38.8h0M57.7 30.8h0M31.4 43.2h0M57.6 25.3h0M47.2 29.1h0M34.9 40.7h0M57.6 32.2h0M56.4 27.0h0M35.2 32.3h0M46.2 30.3h0M41.0 34.1h0M50.5 28.1h0M30.0 41.4h0M49.3 30.0h0M29.7 53.5h0M58.1 30.1h0M29.1 52.4h0M57.3 24.7h0M46.8 34.1h0M50.5 30.0h0M24.8 51.7h0M29.9 51.6h0M50.4 16.6h0M28.7 44.3h0M32.2 43.2h0M39.7 40.2h0M49.4 29.9h0M43.9 30.4h0M30.1 50.6h0M28.6 52.1h0M29.0 50.8h0M43.8 30.9h0M56.8 24.0h0M45.2 26.6h0M35.7 43.0h0M40.9 30.6h0M51.5 22.5h0M43.6 44.3h0M46.7 20.5h0M31.8 42.8h0M57.8 25.8h0M34.2 53.3h0M46.2 29.6h0M29.8 42.8h0M44.3 32.3h0M24.3 51.5h0M20.9 46.5h0M55.3 30.5h0M59.0 27.7h0M38.7 21.1h0M48.6 35.8h0M57.7 33.6h0M40.2 38.0h0M35.5 40.1h0M43.6 36.8h0M32.3 40.8h0M30.2 41.0h0M30.6 37.0h0M49.5 8.3h0M46.7 31.3h0M38.9 39.3h0M32.6 39.6h0M34.3 52.6h0M30.1 42.7h0M53.6 28.5h0M50.6 31.9h0M26.4 38.0h0M30.4 44.1h0M38.2 43.2h0M42.4 34.3h0M45.3 31.5h0M53.5 23.1h0M33.9 40.1h0M32.1 44.0h0M30.6 53.6h0M44.2 28.8h0M31.5 42.5h0M45.0 32.1h0M32.1 35.2h0M33.2 43.1h0M42.5 32.8h0M24.3 46.8h0" stroke="#f0c828"/>
<path d="M46.4 20.0h0M25.1 15.7h0M10.6 28.8h0M9.2 30.6h0M18.8 15.1h0M10.9 25.2h0M51.7 11.2h0M7.1 21.5h0M32.6 19.4h0M55.6 14.4h0M23.2 16.3h0M13.0 39.8h0M35.9 2.7h0M36.5 10.6h0M12.4 21.4h0M20.2 24.6h0M9.0 40.7h0M13.9 21.0h0M36.3 1.6h0M14.1 31.0h0M33.3 6.0h0M32.1 9.3h0M24.9 4.0h0M28.2 3.0h0M7.6 28.1h0M17.6 38.5h0M25.2 12.1h0M22.3 34.3h0M25.9 26.2h0M19.1 28.1h0M28.5 4.2h0M8.9 36.7h0M22.9 20.5h0M25.4 9.9h0M19.9 43.4h0M41.3 3.2h0M24.8 5.5h0M13.1 25.6h0M12.4 27.5h0M14.5 39.3h0M30.1 4.8h0M26.2 4.6h0M35.4 3.6h0M28.1 21.7h0M27.1 12.2h0M37.0 5.2h0M30.0 22.1h0M13.2 44.2h0M19.7 28.0h0M23.8 6.1h0M33.7 10.3h0M13.6 24.3h0M10.6 12.0h0M28.7 11.7h0M14.9 17.3h0M24.4 12.3h0M28.6 2.9h0M22.7 31.9h0M14.6 43.2h0M27.3 7.5h0M15.9 29.1h0M29.3 21.9h0M9.6 36.0h0M27.5 9.3h0M16.1 21.7h0M7.4 28.6h0M39.5 10.0h0M13.8 28.7h0M6.7 28.9h0M16.8 6.4h0M21.1 12.2h0M30.1 4.9h0M9.2 36.1h0M17.5 22.9h0M13.6 26.4h0M11.5 17.7h0M16.3 38.1h0M8.1 19.7h0M25.9 6.2h0M19.0 14.8h0M27.0 25.3h0M39.1 8.2h0M39.3 6.0h0M22.8 48.2h0M35.6 8.8h0M33.5 25.8h0M18.7 28.3h0M26.2 8.6h0M21.6 2.1h0M23.3 11.5h0M28.9 1.9h0M18.5 18.4h0M27.1 34.8h0M18.5 47.1h0M13.6 38.3h0M23.2 24.5h0M16.5 17.7h0M20.0 14.1h0M6.4 18.7h0M26.5 16.8h0M40.5 12.5h0M15.3 28.0h0M8.5 38.9h0M45.7 8.1h0M26.1 30.0h0M30.5 5.5h0M10.6 27.5h0M23.4 15.5h0M30.0 10.4h0M20.0 38.7h0M8.9 19.8h0M28.0 10.0h0M8.7 18.6h0" stroke="#a0c828"/>
<path d="M29.3 35.0h0M34.3 30.3h0M21.2 49.0h0M8.6 25.7h0M39.4 27.8h0M47.4 18.3h0M26.9 36.3h0M19.6 42.1h0M32.3 21.8h0M5.6 24.4h0M15.0 42.7h0M34.4 18.1h0M22.9 46.4h0M25.6 46.6h0M32.7 29.7h0M54.6 15.9h0M55.6 27.0h0M26.2 24.3h0M31.1 0.9h0M35.4 3.1h0M27.0 49.0h0M16.8 18.0h0M10.9 32.8h0M29.1 34.8h0M13.2 37.2h0M25.1 13.3h0M31.3 22.1h0M14.8 29.9h0M54.0 14.2h0M43.2 7.6h0M14.7 38.0h0M37.8 8.0h0M38.5 1.8h0M40.5 18.8h0M43.0 4.6h0M29.6 22.8h0M42.6 20.2h0M34.7 4.2h0M32.1 23.3h0M18.9 50.7h0M33.7 11.8h0M46.3 13.0h0M16.9 30.1h0M17.4 17.2h0M54.0 22.5h0M39.3 7.2h0M31.2 28.3h0M23.3 45.5h0M19.7 41.4h0M15.3 38.3h0M30.9 28.4h0M37.4 4.5h0M55.4 15.4h0M24.4 46.6h0M46.1 17.2h0M33.2 14.2h0M26.5 18.6h0M13.6 46.3h0M41.5 22.7h0M31.9 23.9h0M29.4 41.1h0M44.2 9.1h0M54.5 19.7h0M41.7 31.6h0M44.0 19.3h0M55.6 18.7h0M42.5 12.7h0M46.8 25.8h0M25.7 48.5h0M40.9 8.3h0M27.3 10.0h0M48.4 25.5h0M37.9 23.8h0M40.8 26.2h0M12.8 42.0h0M43.7 6.3h0M42.5 30.8h0M11.9 41.3h0M47.5 15.2h0M19.4 34.0h0M55.4 30.0h0M23.1 8.2h0M42.5 21.7h0M14.0 23.5h0M53.7 23.9h0M24.8 33.7h0M36.6 2.4h0M46.0 32.6h0M15.9 24.0h0M34.9 21.6h0M39.9 28.2h0M12.7 40.2h0M25.9 34.1h0M34.1 35.4h0M37.7 9.5h0M49.6 29.8h0M11.4 39.6h0M17.9 39.0h0M21.1 28.2h0M51.3 21.5h0M49.3 7.4h0M22.1 20.0h0M53.1 18.8h0M19.9 20.2h0M20.1 15.5h0M33.5 26.1h0M31.7 0.1h0M26.4 37.9h0M44.2 3.8h0M28.0 41.3h0M27.8 37.1h0M28.9 29.3h0M43.6 10.4h0M12.0 35.1h0M24.3 29.1h0M36.8 6.6h0M26.9 36.0h0M23.0 51.1h0M37.9 15.9h0M17.2 28.5h0M9.3 37.0h0M34.9 9.9h0M24.4 8.8h0M22.6 30.2h0M38.7 31.5h0M10.2 31.8h0M28.1 53.4h0M42.2 7.0h0M21.3 12.6h0M26.0 47.8h0M27.9 1.3h0M31.0 29.2h0M26.5 37.6h0M52.6 23.7h0M34.4 21.8h0M40.6 26.7h0M49.0 9.4h0M20.2 46.9h0M30.4 23.4h0M53.0 16.6h0M50.6 14.7h0M25.0 37.9h0M35.2 34.0h0M20.4 35.7h0M19.7 45.0h0M10.8 25.0h0M47.1 26.6h0M29.5 10.2h0M36.6 21.1h0M22.2 34.8h0M26.0 11.8h0M12.2 42.9h0M42.7 18.8h0M26.9 47.9h0M26.8 20.4h0M23.4 27.0h0" stroke="#dcdc28"/>
<path d="M36.2 44.7h0M48.5 34.6h0M53.3 35.8h0M43.4 34.0h0M43.1 42.3h0M47.9 47.1h0M37.1 38.0h0M36.0 42.2h0M42.0 37.1h0M44.0 36.8h0M52.4 42.9h0M32.3 45.3h0M41.9 34.8h0M45.4 38.9h0M56.5 37.0h0M42.6 42.3h0M40.2 39.4h0M53.1 38.7h0M36.9 42.9h0M54.4 40.6h0M41.5 40.4h0M34.1 42.9h0M51.9 38.3h0M45.8 35.0h0M48.1 30.6h0M38.0 44.3h0M51.8 39.2h0M41.1 45.5h0M52.7 35.5h0M48.3 34.5h0M40.3 35.9h0M30.7 52.2h0M46.1 37.5h0M46.1 42.5h0M34.9 42.5h0M54.6 39.7h0M45.6 36.1h0M46.8 33.8h0M47.5 37.6h0M50.4 38.6h0M34.6 53.4h0M33.1 42.6h0M51.3 37.0h0M37.9 39.7h0" stroke="#f0a028"/>
<path d="M37.3 51.5h0M51.8 42.4h0M46.5 49.1h0M41.2 45.1h0M41.6 51.3h0M39.8 49.1h0M45.6 42.2h0M48.8 41.4h0M41.3 44.1h0M56.0 39.4h0M51.0 40.2h0M46.8 41.6h0M43.8 50.3h0M48.1 39.5h0M44.2 40.9h0M52.9 40.5h0M53.3 40.1h0M50.6 41.7h0M46.6 41.4h0M42.6 47.6h0M51.0 40.6h0" stroke="#dc7828"/>
<path d="M34.6 44.3h0M42.7 45.2h0M37.8 32.2h0M58.2 33.4h0M32.2 53.6h0M37.0 46.3h0M40.5 41.4h0M40.5 37.3h0M45.7 36.1h0M37.9 45.8h0M48.4 32.2h0M34.2 40.1h0M39.4 17.6h0M50.4 38.8h0M37.7 42.5h0M42.0 30.5h0M55.3 36.1h0M36.9 43.9h0M41.1 39.9h0M33.7 41.0h0M52.2 36.9h0M39.1 49.3h0M42.8 33.5h0M35.1 46.2h0M45.5 33.8h0M57.4 34.5h0M50.2 34.8h0M39.9 30.9h0M38.5 46.1h0M39.8 37.2h0M47.4 34.0h0M41.5 30.9h0M57.6 31.6h0M37.8 43.5h0M33.0 42.7h0M41.4 42.5h0M48.3 35.3h0M42.6 35.6h0M48.5 39.0h0" stroke="#f0b428"/>
<path d="M27.9 49.1h0M19.1 46.4h0M28.7 19.7h0M48.3 7.7h0M37.7 21.9h0M51.2 23.9h0M27.1 52.5h0M39.7 16.0h0M32.3 32.8h0M49.2 18.7h0M47.6 26.3h0M46.1 17.3h0M44.0 6.2h0M13.7 27.4h0M29.8 41.7h0M55.7 21.5h0M23.4 37.8h0M21.1 50.5h0M32.8 32.3h0M36.5 10.0h0M25.6 46.7h0M30.7 33.2h0M18.1 16.2h0M21.1 47.3h0M22.9 33.1h0M38.8 31.4h0M44.3 7.9h0M32.3 24.5h0M50.5 9.1h0M27.2 40.7h0M53.0 26.9h0M27.3 40.2h0M32.0 27.7h0M49.2 10.1h0M17.7 46.9h0M22.2 36.0h0M38.3 7.0h0M11.3 27.1h0M43.3 20.4h0M24.5 45.8h0M27.3 48.3h0M34.8 21.3h0M35.7 27.7h0M29.2 51.3h0M29.6 45.5h0M41.4 29.4h0M18.5 46.3h0M52.8 15.6h0M28.9 33.6h0M44.2 7.1h0M53.3 11.9h0M41.7 22.2h0M25.3 7.6h0M23.6 50.5h0M28.8 23.0h0M32.3 23.8h0M44.1 14.1h0M49.9 11.9h0M39.4 22.0h0M42.6 15.3h0M58.9 25.4h0M47.0 27.8h0M38.6 22.9h0M42.4 16.9h0M38.5 3.1h0M49.0 30.6h0M11.0 42.1h0M52.7 17.5h0M57.1 26.8h0M48.6 17.8h0M43.6 22.9h0M59.3 28.7h0M24.8 9.1h0M32.9 24.0h0M13.4 26.8h0M29.6 24.3h0M47.9 7.7h0M49.7 27.2h0M52.0 30.1h0M32.6 6.2h0M46.4 30.8h0M53.9 28.1h0M56.0 21.9h0M27.8 41.1h0M8.9 30.2h0M31.6 3.2h0M22.6 27.9h0M48.3 10.3h0M33.5 25.6h0M13.2 34.7h0M40.5 26.3h0M24.4 34.5h0M48.0 10.1h0M40.1 10.1h0M48.4 24.8h0M49.5 21.3h0M48.8 25.0h0M36.4 5.9h0M54.2 14.3h0M47.8 25.2h0M17.4 47.9h0M43.2 13.9h0M42.3 19.0h0M43.7 19.4h0M45.4 29.6h0M34.3 9.0h0M15.0 40.2h0M51.5 32.6h0M36.6 7.7h0M29.3 24.7h0M45.5 18.3h0M47.1 23.9h0M17.0 45.7h0M32.4 37.2h0M31.4 15.0h0M53.3 26.4h0M44.4 22.2h0M49.4 12.8h0M46.5 19.2h0M24.9 30.3h0M42.7 17.8h0M36.9 10.8h0M27.3 43.7h0M15.1 28.4h0M48.2 32.6h0M55.8 22.1h0M35.5 2.5h0M56.9 26.9h0M51.4 20.3h0M19.0 45.7h0M39.7 26.3h0M13.6 46.0h0M41.0 4.9h0M55.4 27.8h0M26.3 36.8h0M18.8 30.0h0M42.5 17.2h0M22.7 46.3h0M43.8 32.7h0M32.5 31.7h0M35.6 9.4h0M24.9 42.3h0M32.5 25.8h0M25.0 50.1h0M34.4 23.0h0M48.2 7.9h0M36.1 10.4h0M49.1 29.1h0M43.1 22.4h0M50.4 17.3h0M27.8 36.9h0M39.0 7.1h0M42.4 16.1h0M22.8 42.2h0M33.4 1.5h0M26.3 19.8h0M13.3 36.8h0M44.4 26.1h0M35.0 12.2h0M22.5 41.8h0M45.7 18.6h0M55.3 25.4h0M8.3 37.4h0" stroke="#f0f028"/>
<path d="M53.8 37.5h0M34.7 43.1h0M42.7 41.0h0M45.4 43.8h0M45.7 49.0h0M47.1 36.0h0M45.1 42.9h0M41.5 51.9h0M40.8 41.9h0M39.6 49.9h0M38.5 50.5h0M45.5 47.1h0M41.8 41.3h0M49.7 40.9h0M42.7 42.7h0M53.1 39.8h0M44.5 44.4h0M37.1 48.4h0M39.3 50.2h0M36.0 43.4h0M45.8 43.6h0M52.6 44.5h0M39.9 41.9h0M49.0 38.8h0M41.5 40.8h0M38.6 43.7h0M48.5 38.3h0M40.9 46.9h0M54.6 35.9h0M48.2 40.5h0M41.4 41.3h0M48.9 37.2h0M38.6 50.5h0M47.2 38.6h0M36.8 46.5h0M39.0 44.8h0M39.4 51.7h0M47.8 40.3h0M46.1 39.7h0M37.4 49.6h0M49.8 44.8h0M54.5 35.2h0M41.3 41.7h0" stroke="#f08c28"/>
<path d="M17.9 16.0h0M29.4 23.0h0M41.5 24.2h0M41.4 14.8h0M44.9 18.4h0M10.4 36.5h0M27.4 17.7h0M17.1 13.0h0M15.4 29.2h0M47.7 20.3h0M11.6 37.6h0M6.0 23.5h0M24.2 45.1h0M25.3 32.1h0M19.9 24.7h0M29.4 23.9h0M26.5 8.9h0M40.6 9.7h0M46.1 27.5h0M44.6 6.9h0M27.6 3.9h0M13.4 27.5h0M53.4 19.7h0M14.8 48.1h0M33.5 22.6h0M15.0 44.1h0M26.6 8.6h0M29.6 2.7h0M13.1 27.5h0M22.1 24.0h0M42.5 23.2h0M14.0 18.1h0M10.0 34.1h0M21.5 33.7h0M40.6 9.2h0M31.4 21.3h0M28.4 3.9h0M25.3 8.4h0M25.2 26.7h0M27.8 15.6h0M12.1 24.6h0M38.5 2.7h0M7.1 28.9h0M20.8 22.7h0M15.2 48.1h0M24.7 5.4h0M10.1 24.7h0M10.3 32.1h0M37.2 3.3h0M15.2 39.7h0M20.5 14.8h0M8.6 37.1h0M10.8 25.4h0M16.5 25.1h0M40.9 5.5h0M40.8 10.1h0M28.9 15.8h0M21.3 38.2h0M26.5 2.5h0M17.4 48.3h0M18.2 46.9h0M18.1 12.0h0M20.5 34.1h0M37.0 9.7h0M46.0 16.1h0M24.6 36.2h0M35.8 4.4h0M7.8 34.5h0M50.2 10.5h0M35.1 3.3h0M26.4 10.8h0M8.1 39.8h0M39.5 8.1h0M31.2 19.3h0M32.8 22.2h0M24.4 22.4h0M30.9 11.2h0M19.5 21.6h0M24.7 9.4h0M30.8 21.3h0M12.4 35.4h0M20.0 23.6h0M10.6 36.6h0M13.3 41.6h0M31.5 18.8h0M24.6 28.9h0M17.9 11.3h0M26.7 22.4h0M34.0 31.9h0M33.0 19.6h0M12.5 16.6h0M23.0 2.8h0M22.9 36.0h0M14.5 41.2h0M14.4 18.1h0M33.0 0.8h0M30.9 2.5h0M12.3 28.6h0M35.9 9.1h0M35.1 29.3h0M25.0 21.5h0M28.9 7.9h0M33.6 34.0h0M28.7 15.2h0M27.5 35.9h0M20.6 51.7h0M28.8 1.9h0M9.0 27.9h0M31.8 12.9h0M17.5 32.0h0M15.2 17.7h0M41.0 8.8h0M31.3 17.5h0M41.0 17.7h0M56.5 25.5h0M35.3 27.8h0M22.8 8.7h0M10.6 37.9h0M9.2 30.7h0M11.8 29.5h0M23.0 24.4h0M26.8 33.2h0M22.8 46.3h0M13.3 45.3h0M45.0 17.5h0M11.5 38.6h0M21.2 10.9h0M12.0 35.9h0M13.5 45.5h0M24.0 9.0h0M27.5 23.2h0M18.6 20.8h0M30.2 17.4h0M31.9 7.8h0M18.2 16.5h0M13.8 12.8h0M24.7 11.6h0M11.0 34.3h0M29.3 30.2h0M17.9 10.1h0M37.7 10.3h0M12.7 25.5h0M16.6 39.5h0M19.2 15.3h0M28.0 1.3h0M32.6 20.6h0M34.8 7.0h0M19.5 46.6h0M29.3 17.7h0M26.1 24.4h0M35.7 4.8h0M16.0 31.9h0M21.0 48.6h0M15.5 38.3h0M26.9 21.4h0M24.1 5.6h0M12.3 13.5h0M31.0 22.2h0M13.9 41.7h0M6.9 23.7h0M21.0 48.4h0M34.1 22.8h0M22.4 12.5h0M19.8 22.2h0M27.8 17.5h0M11.5 11.7h0M31.3 13.5h0M43.9 8.4h0M15.8 6.2h0M22.5 34.9h0M41.7 26.4h0M21.9 28.3h0M23.6 16.8h0" stroke="#b4dc28"/>
<path d="M25.5 42.8h0M33.0 29.5h0M50.3 12.2h0M7.0 27.8h0M24.2 50.9h0M31.6 27.7h0M19.5 42.2h0M14.0 44.3h0M25.3 47.2h0M18.1 39.4h0M43.8 13.5h0M35.4 27.1h0M30.8 39.0h0M39.5 29.1h0M27.7 25.1h0M19.0 48.3h0M48.8 26.2h0M12.1 37.3h0M30.0 24.7h0M20.3 29.4h0M47.9 27.9h0M27.8 44.2h0M25.5 4.1h0M54.5 13.0h0M36.7 27.0h0M8.4 24.8h0M23.2 35.4h0M27.7 32.8h0M26.2 43.0h0M35.8 26.0h0M33.8 9.4h0M24.8 35.1h0M26.8 23.8h0M54.8 20.1h0M34.3 2.5h0M28.5 13.0h0M11.5 35.3h0M25.4 46.6h0M40.8 11.5h0M38.9 14.3h0M44.7 24.9h0M41.6 32.1h0M36.0 26.8h0" stroke="#dcf028"/>
<path d="M20.0 19.7h0M23.5 46.8h0M13.1 22.9h0M7.6 19.5h0M18.5 29.3h0M22.5 22.4h0M13.4 29.5h0M27.0 3.9h0M8.5 23.6h0M18.8 24.8h0M12.2 37.4h0M22.1 33.3h0M8.2 26.0h0M30.7 12.4h0M18.1 29.4h0M25.3 20.6h0M39.9 4.8h0M9.7 21.7h0M17.6 10.8h0M15.9 11.9h0M19.6 5.4h0M19.1 22.5h0M14.9 39.3h0M28.0 6.3h0M10.8 40.8h0M26.3 1.4h0M25.9 14.3h0M25.0 23.5h0M39.0 18.7h0M8.8 18.3h0M18.6 30.5h0M6.5 26.6h0M23.2 20.9h0M10.4 42.0h0M26.3 21.8h0M26.1 13.3h0M12.0 32.9h0M13.4 29.3h0M14.2 39.8h0M31.1 21.4h0M27.0 5.4h0M21.9 13.4h0M6.2 21.4h0M13.4 26.9h0M45.6 6.2h0M28.7 2.5h0M20.0 7.8h0M8.8 35.5h0M16.1 24.0h0M23.2 37.0h0M25.3 25.3h0M11.2 13.8h0M29.4 6.6h0M47.1 16.8h0M6.9 21.0h0M9.1 21.3h0M17.2 28.8h0M12.2 26.2h0M18.9 17.5h0M38.5 4.3h0M7.8 27.2h0M9.6 26.3h0M8.7 25.1h0M18.7 31.5h0M10.1 29.7h0M8.6 25.4h0M23.3 9.7h0M6.3 23.4h0M30.1 20.8h0M13.8 10.3h0M24.9 6.2h0M22.9 8.3h0M8.3 22.8h0M17.6 26.2h0M20.6 20.0h0M27.8 15.6h0M26.5 1.9h0M9.1 27.8h0M12.1 30.0h0M30.8 3.4h0M16.3 27.8h0M8.8 29.4h0M37.4 8.6h0M20.9 28.3h0" stroke="#8cc828"/>
<path d="M34.1 11.4h0M13.0 28.0h0M23.1 38.1h0M27.0 24.9h0M23.6 13.6h0M8.7 36.2h0M22.8 3.9h0M29.1 13.7h0M31.2 24.9h0M20.2 26.4h0M10.0 20.6h0M27.4 19.7h0M28.2 12.2h0M25.6 8.8h0M29.2 1.5h0M10.0 31.5h0M11.6 33.2h0M19.6 45.9h0M36.3 8.8h0M45.1 11.5h0M11.5 38.3h0" stroke="#a0dc28"/>
<path d="M7.2 29.4h0M9.7 23.3h0M15.4 23.3h0" stroke="#78c828"/>
<path d="M51.0 44.6h0M49.6 48.2h0M46.6 42.1h0M39.2 46.4h0M48.0 39.9h0M44.4 47.4h0M41.2 43.9h0M49.0 38.3h0M54.9 35.3h0M39.9 45.5h0M40.2 49.4h0M41.8 41.4h0M47.2 48.1h0M44.2 49.6h0M53.3 42.6h0M53.3 40.7h0M39.7 45.7h0M42.2 44.9h0M48.1 45.9h0M55.4 39.3h0M50.9 45.7h0M38.2 47.7h0M44.6 40.3h0M41.9 47.1h0M41.2 51.0h0M40.1 45.3h0M49.2 38.2h0M41.1 45.2h0M40.0 46.8h0" stroke="#dc6428"/>
<path d="M42.6 49.2h0M40.0 51.8h0M40.7 45.8h0M51.9 43.4h0M49.2 42.4h0M38.4 42.3h0M52.8 41.0h0M43.1 42.9h0M46.0 39.8h0M42.0 46.3h0M43.4 45.3h0M43.0 44.9h0M38.0 48.9h0M55.4 39.0h0" stroke="#f07828"/>
<path d="M6.7 21.6h0M8.9 35.8h0M15.3 10.1h0" stroke="#78b43c"/>
<path d="M44.1 45.9h0M48.3 43.3h0M53.1 42.2h0M53.5 39.8h0M48.0 45.2h0M40.7 42.4h0M49.9 41.3h0" stroke="#dc5014"/>
<path d="M46.1 44.8h0M48.9 46.1h0M42.2 51.5h0" stroke="#dc3c14"/>
</g>
<rect x="447.30" y="546.6" width="60.3" height="59.9" fill="none" stroke="#999" stroke-width="0.8"/>
<text x="477.45" y="542.10" font-size="8.5" text-anchor="middle" fill="#111" textLength="31.4" lengthAdjust="spacingAndGlyphs" >SLAMF7</text>
<g transform="translate(447.30 546.60)" stroke-width=".95" stroke-linecap="square">
<path d="M43.7 22.9h0M41.0 17.1h0M34.1 11.4h0M33.0 29.5h0M39.4 27.8h0M46.3 24.3h0M47.4 18.3h0M44.9 18.4h0M51.2 23.9h0M45.8 12.7h0M29.4 23.9h0M34.3 10.3h0M30.9 24.9h0M14.1 31.0h0M32.3 37.8h0M32.0 3.0h0M31.6 27.7h0M35.4 3.1h0M55.7 21.5h0M38.0 9.5h0M30.2 42.0h0M29.5 9.9h0M53.4 19.7h0M33.5 22.6h0M31.1 8.4h0M36.7 32.0h0M35.0 10.2h0M50.5 9.1h0M43.5 17.9h0M35.8 33.1h0M49.2 10.1h0M43.3 20.4h0M39.9 4.8h0M28.5 4.2h0M35.3 28.3h0M38.5 2.7h0M32.3 45.3h0M46.3 13.0h0M46.2 30.3h0M29.6 45.5h0M38.4 42.3h0M48.8 26.2h0M45.5 17.4h0M30.0 24.7h0M44.2 7.1h0M53.3 11.9h0M36.9 25.0h0M30.9 28.4h0M24.8 51.7h0M44.5 17.7h0M42.0 28.3h0M49.9 11.9h0M46.1 17.2h0M52.2 36.9h0M41.5 22.7h0M39.5 8.1h0M58.9 25.4h0M36.0 43.4h0M41.2 6.0h0M50.9 10.3h0M41.7 31.6h0M39.8 22.9h0M49.6 22.0h0M29.8 34.9h0M54.5 13.0h0M59.3 28.7h0M43.7 6.3h0M29.1 13.7h0M47.9 7.7h0M36.5 33.5h0M42.5 30.8h0M49.7 27.2h0M41.5 40.4h0M32.6 6.2h0M45.6 6.2h0M57.4 34.5h0M48.2 11.6h0M35.7 3.5h0M38.9 13.1h0M38.6 43.7h0M41.6 18.4h0M47.1 16.5h0M53.7 23.9h0M14.6 43.2h0M45.8 35.0h0M34.2 53.3h0M36.4 5.9h0M29.3 21.9h0M30.0 43.3h0M38.0 44.3h0M39.9 30.9h0M36.3 16.9h0M49.3 7.4h0M42.9 21.1h0M40.3 35.9h0M37.0 29.9h0M34.3 9.0h0M35.8 26.0h0M36.6 34.1h0M36.6 7.7h0M45.0 17.5h0M39.8 37.2h0M45.5 18.3h0M41.9 18.2h0M39.6 10.7h0M38.2 47.7h0M28.0 41.3h0M43.6 36.8h0M33.0 11.5h0M48.9 37.2h0M42.7 17.8h0M44.9 7.4h0M30.1 42.7h0M29.5 19.3h0M34.9 9.9h0M26.4 38.0h0M42.2 7.0h0M54.1 18.6h0M31.0 29.2h0M42.5 17.2h0M39.0 44.8h0M53.4 17.5h0M33.9 40.1h0M32.5 31.7h0M24.1 5.6h0M47.9 21.1h0M32.1 44.0h0M38.1 8.6h0M53.0 16.6h0M50.6 14.7h0M34.6 53.4h0M40.1 10.6h0M35.1 13.2h0M27.0 35.3h0M34.1 22.8h0M28.9 23.3h0M41.7 8.2h0M24.5 25.9h0M34.0 23.6h0M36.6 21.1h0M32.9 37.9h0M42.1 9.3h0M33.2 43.1h0M28.0 10.0h0M30.0 45.2h0M37.9 39.7h0" stroke="#f0f028"/>
<path d="M45.0 19.5h0M30.8 39.1h0M36.2 44.7h0M25.1 15.7h0M25.5 10.5h0M34.6 44.3h0M27.9 49.1h0M25.5 42.8h0M10.9 25.2h0M27.5 13.3h0M55.6 14.4h0M28.7 47.2h0M33.8 27.0h0M22.0 31.6h0M21.6 14.8h0M33.1 28.6h0M32.3 21.8h0M12.4 21.4h0M7.0 27.8h0M32.7 29.7h0M34.1 35.1h0M44.0 6.2h0M29.8 41.7h0M14.2 40.7h0M33.3 6.0h0M26.7 48.4h0M24.2 50.9h0M44.6 6.9h0M26.2 24.3h0M36.3 34.2h0M38.7 11.5h0M27.6 3.9h0M21.5 15.5h0M29.3 21.7h0M31.3 22.1h0M34.1 8.8h0M40.9 23.6h0M29.6 2.7h0M26.5 35.9h0M29.0 23.8h0M51.3 26.2h0M31.4 40.8h0M37.5 3.1h0M49.9 6.5h0M38.5 1.8h0M10.7 40.7h0M31.8 38.5h0M25.9 26.2h0M18.1 29.4h0M29.7 36.8h0M29.6 22.8h0M30.8 39.0h0M28.4 3.9h0M16.8 27.7h0M25.3 8.4h0M27.8 15.6h0M34.7 4.2h0M24.5 45.8h0M35.2 32.3h0M27.3 48.3h0M22.9 20.5h0M15.2 48.1h0M13.5 44.1h0M31.4 51.6h0M29.2 51.3h0M26.3 1.4h0M15.4 23.3h0M30.0 41.4h0M39.0 18.7h0M31.3 2.9h0M27.0 24.9h0M29.1 52.4h0M40.9 5.5h0M8.7 36.2h0M25.3 16.1h0M18.1 12.0h0M26.2 4.6h0M23.8 7.8h0M29.9 51.6h0M33.7 41.0h0M32.3 23.8h0M22.8 3.9h0M35.4 3.6h0M40.8 9.7h0M39.4 22.0h0M26.8 25.7h0M28.7 44.3h0M28.1 21.7h0M33.4 29.9h0M25.5 23.4h0M29.4 41.1h0M24.7 9.4h0M30.8 21.3h0M38.5 3.1h0M19.7 28.0h0M23.8 6.1h0M25.2 32.1h0M25.5 4.1h0M20.0 23.6h0M31.5 18.8h0M31.1 40.7h0M34.0 31.9h0M40.9 8.3h0M24.8 9.1h0M52.6 19.0h0M28.7 11.7h0M22.9 36.0h0M23.2 35.4h0M34.1 42.9h0M48.3 10.3h0M33.5 25.6h0M35.1 29.3h0M28.7 2.5h0M28.7 15.2h0M36.6 2.4h0M20.2 26.4h0M54.2 14.3h0M43.2 8.0h0M42.2 44.9h0M25.0 13.5h0M20.0 7.8h0M53.9 15.0h0M50.3 18.3h0M31.3 17.5h0M34.2 14.8h0M24.7 34.4h0M47.8 25.2h0M26.0 36.2h0M33.2 8.0h0M23.2 37.0h0M35.3 27.8h0M17.9 39.0h0M26.4 4.5h0M23.7 11.9h0M23.0 24.4h0M22.1 20.0h0M21.1 12.2h0M22.8 46.3h0M27.7 32.3h0M17.5 22.9h0M17.6 24.2h0M18.9 17.5h0M18.6 20.8h0M13.8 12.8h0M26.8 23.8h0M32.3 40.8h0M31.4 15.0h0M39.1 8.2h0M24.7 11.6h0M43.6 10.4h0M33.5 25.8h0M11.0 34.3h0M15.7 33.8h0M17.9 10.1h0M24.9 30.3h0M26.9 36.0h0M23.0 51.1h0M26.7 42.7h0M37.9 15.9h0M27.3 43.7h0M47.2 38.6h0M28.0 1.3h0M28.5 13.0h0M35.5 2.5h0M24.4 8.8h0M32.6 20.6h0M24.2 48.2h0M28.1 53.4h0M29.3 17.7h0M35.2 34.3h0M26.0 47.8h0M35.7 4.8h0M13.6 46.0h0M27.9 1.3h0M18.8 30.0h0M26.5 37.6h0M34.4 21.8h0M37.6 24.2h0M15.5 38.3h0M20.0 14.1h0M32.5 25.8h0M26.5 16.8h0M31.0 22.2h0M22.9 8.3h0M36.1 10.4h0M17.6 26.2h0M25.0 37.9h0M31.4 11.1h0M19.8 22.2h0M31.5 42.5h0M45.7 8.1h0M31.3 13.5h0M19.5 24.6h0M32.1 35.2h0M30.0 10.4h0M43.9 8.4h0M35.0 12.2h0M42.7 18.8h0M26.9 47.9h0M26.8 20.4h0M30.2 28.8h0M23.6 16.8h0" stroke="#c8dc28"/>
<path d="M47.7 32.1h0M47.4 29.9h0M40.8 41.9h0M57.6 32.2h0M53.1 39.8h0M46.0 39.8h0M46.8 41.6h0M57.6 31.6h0M54.6 39.7h0M42.2 51.5h0M51.0 40.6h0" stroke="#f08c28"/>
<path d="M46.4 20.0h0M42.7 45.2h0M52.3 11.0h0M49.5 26.0h0M41.5 24.2h0M34.2 33.9h0M41.0 23.4h0M50.8 21.3h0M41.4 14.8h0M48.3 7.7h0M49.1 28.4h0M51.8 42.4h0M36.1 40.7h0M34.4 34.9h0M40.0 51.8h0M38.8 10.9h0M47.7 20.3h0M31.5 44.7h0M49.2 18.7h0M36.5 10.6h0M42.0 23.8h0M50.2 29.1h0M53.2 19.4h0M42.7 41.0h0M40.5 37.3h0M31.8 25.7h0M49.4 15.9h0M26.1 46.0h0M58.6 27.4h0M37.9 45.8h0M32.8 32.3h0M41.2 45.1h0M36.5 10.0h0M25.6 46.7h0M36.9 45.7h0M32.3 24.5h0M39.2 46.4h0M43.2 7.6h0M37.8 8.0h0M36.0 42.2h0M39.4 17.6h0M40.6 9.2h0M43.6 31.3h0M49.2 42.4h0M44.1 45.9h0M43.8 13.5h0M34.9 40.7h0M56.4 27.0h0M41.8 41.3h0M38.3 7.0h0M50.2 7.9h0M39.5 24.6h0M34.8 21.3h0M25.6 19.2h0M43.3 22.9h0M52.5 18.4h0M35.7 27.7h0M37.7 42.5h0M42.0 30.5h0M41.4 29.4h0M25.9 14.3h0M29.7 53.5h0M47.5 26.3h0M58.1 30.1h0M31.7 23.5h0M58.5 32.0h0M57.3 24.7h0M36.9 43.9h0M39.9 45.5h0M41.7 22.2h0M50.5 30.0h0M37.4 4.5h0M37.0 9.7h0M56.5 23.1h0M44.1 14.1h0M37.1 48.4h0M47.9 11.7h0M40.2 39.4h0M35.1 3.3h0M53.1 38.7h0M38.6 22.9h0M39.7 40.2h0M45.8 43.6h0M42.4 16.9h0M54.3 26.3h0M44.0 19.3h0M47.9 27.7h0M50.2 29.1h0M55.9 25.0h0M57.1 26.8h0M54.6 13.3h0M39.1 49.3h0M39.9 41.9h0M56.8 24.0h0M42.8 33.5h0M43.6 22.9h0M37.9 23.8h0M40.8 26.2h0M27.0 5.4h0M51.4 23.2h0M45.6 42.2h0M42.0 15.1h0M43.6 26.7h0M46.4 30.8h0M33.0 0.8h0M45.5 33.8h0M40.9 30.6h0M47.1 27.6h0M40.5 26.3h0M42.5 21.7h0M43.6 44.3h0M48.0 10.1h0M31.8 42.8h0M48.4 24.8h0M48.1 30.6h0M49.5 21.3h0M34.9 21.6h0M48.8 25.0h0M46.2 29.6h0M29.8 42.8h0M35.3 1.0h0M44.3 32.3h0M34.4 45.2h0M56.5 25.5h0M37.7 9.5h0M41.1 45.5h0M42.3 19.0h0M43.7 19.4h0M54.4 16.4h0M55.3 30.5h0M42.0 46.3h0M30.7 52.2h0M53.1 18.8h0M59.0 27.7h0M46.6 14.8h0M38.7 21.1h0M29.0 15.3h0M38.5 46.1h0M43.2 36.0h0M40.7 42.4h0M47.1 23.9h0M29.6 52.3h0M40.2 38.0h0M34.3 3.5h0M35.5 40.1h0M44.2 3.8h0M44.2 40.9h0M35.6 8.8h0M47.4 34.0h0M41.9 47.1h0M38.6 50.5h0M36.8 46.5h0M26.2 8.6h0M41.9 29.9h0M38.7 31.5h0M25.5 14.9h0M38.0 48.9h0M40.3 31.2h0M41.5 30.9h0M34.9 42.5h0M51.4 20.3h0M48.9 46.1h0M42.4 34.3h0M42.4 21.1h0M41.0 4.9h0M52.6 23.7h0M39.4 51.7h0M41.5 28.9h0M40.1 45.3h0M40.8 11.5h0M53.8 15.0h0M49.0 9.4h0M42.1 26.5h0M42.0 20.0h0M41.1 45.2h0M41.4 42.5h0M24.9 6.2h0M48.2 7.9h0M49.1 29.1h0M36.4 25.7h0M41.4 8.0h0M30.6 53.6h0M50.4 26.3h0M44.7 24.9h0M33.4 1.5h0M30.5 5.5h0M31.5 36.4h0M42.6 47.6h0M45.1 11.5h0M40.5 3.8h0M37.4 8.6h0" stroke="#f0dc28"/>
<path d="M29.3 35.0h0M34.3 30.3h0M37.8 32.2h0M32.2 53.6h0M37.0 46.3h0M35.9 2.7h0M35.3 10.6h0M39.8 32.2h0M34.7 44.7h0M25.4 50.3h0M40.6 9.7h0M31.1 0.9h0M27.0 49.0h0M32.1 9.3h0M41.9 6.5h0M29.1 34.8h0M42.3 7.2h0M25.3 47.2h0M35.4 34.1h0M28.2 3.0h0M41.5 51.9h0M25.2 12.1h0M10.0 34.1h0M34.2 40.1h0M31.4 43.2h0M40.5 18.8h0M27.3 40.2h0M43.0 4.6h0M47.2 29.1h0M38.5 50.5h0M35.4 27.1h0M42.6 20.2h0M25.2 11.1h0M32.6 43.5h0M41.2 17.8h0M40.2 34.1h0M43.8 12.6h0M46.1 15.2h0M37.0 8.6h0M25.3 7.6h0M14.5 39.3h0M30.8 20.4h0M35.8 4.4h0M38.7 6.9h0M39.3 50.2h0M26.4 10.8h0M39.7 34.9h0M31.9 23.9h0M33.0 2.3h0M35.4 10.2h0M12.6 36.9h0M44.2 9.1h0M37.4 9.9h0M54.5 19.7h0M30.1 50.6h0M42.5 12.7h0M33.7 10.3h0M27.8 44.2h0M25.1 16.3h0M29.0 50.8h0M18.1 44.2h0M32.9 24.0h0M23.9 35.1h0M23.0 2.8h0M39.7 45.7h0M35.1 46.2h0M28.5 9.9h0M47.5 15.2h0M28.6 2.9h0M35.9 9.1h0M33.6 34.0h0M40.5 6.3h0M40.1 10.1h0M24.8 33.7h0M31.2 24.9h0M28.8 1.9h0M41.0 8.8h0M47.7 21.5h0M17.4 47.9h0M36.9 26.9h0M43.2 13.9h0M24.3 51.5h0M41.5 30.4h0M13.3 45.3h0M35.6 11.6h0M33.5 26.1h0M34.5 8.0h0M36.5 33.6h0M24.3 22.2h0M39.3 6.0h0M30.2 41.0h0M44.4 22.2h0M30.6 37.0h0M37.7 10.3h0M24.3 29.1h0M34.9 18.7h0M36.8 6.6h0M49.5 8.3h0M15.1 28.4h0M49.5 14.5h0M9.3 37.0h0M24.1 44.1h0M26.1 24.4h0M16.0 31.9h0M27.1 34.8h0M37.4 49.6h0M30.1 20.8h0M33.0 42.7h0M34.4 23.0h0M35.2 34.0h0M40.0 46.8h0M40.5 12.5h0M19.7 45.0h0M26.5 1.9h0M27.8 36.9h0M34.1 30.3h0M36.0 26.8h0M39.0 5.2h0M33.7 29.9h0" stroke="#dcdc28"/>
<path d="M37.3 51.5h0M29.4 39.1h0M51.7 11.2h0M37.7 21.9h0M28.1 48.3h0M39.7 16.0h0M35.5 3.6h0M36.3 1.6h0M34.3 43.5h0M33.1 11.8h0M40.9 28.7h0M30.7 33.2h0M28.5 28.4h0M33.7 11.8h0M24.7 5.4h0M41.3 3.2h0M37.2 3.3h0M23.2 20.9h0M40.8 10.1h0M46.0 16.1h0M55.4 15.4h0M42.6 15.3h0M51.5 14.1h0M26.2 33.8h0M36.7 27.0h0M33.0 19.6h0M36.9 42.9h0M28.9 7.9h0M27.5 35.9h0M39.9 28.2h0M27.4 19.7h0M37.0 22.3h0M41.0 17.7h0M22.8 8.7h0M30.1 4.9h0M33.8 9.4h0M25.9 6.2h0M38.5 4.3h0M36.9 10.8h0M34.3 52.6h0M34.8 7.0h0M30.4 44.1h0M38.2 43.2h0M30.7 20.5h0M36.3 8.8h0M30.4 23.4h0M42.4 16.1h0M45.7 18.6h0" stroke="#dcf028"/>
<path d="M10.6 28.8h0M19.1 46.4h0M22.7 36.5h0M10.7 39.9h0M7.2 29.4h0M17.1 13.0h0M10.0 27.9h0M11.6 37.6h0M25.3 32.1h0M7.6 19.5h0M15.5 43.1h0M32.2 34.6h0M20.2 24.6h0M13.7 27.4h0M23.1 38.1h0M16.8 18.0h0M18.8 22.7h0M13.4 27.5h0M17.8 19.3h0M18.1 16.2h0M18.1 39.4h0M26.6 8.6h0M13.1 27.5h0M22.6 50.0h0M6.7 21.6h0M12.2 37.4h0M8.9 35.8h0M21.5 33.7h0M15.3 10.1h0M15.3 39.9h0M15.4 37.6h0M12.1 24.6h0M17.6 10.8h0M8.9 36.7h0M19.1 22.5h0M11.0 18.2h0M10.3 32.1h0M18.7 35.3h0M11.3 43.6h0M15.3 45.1h0M10.8 40.8h0M19.0 48.3h0M24.1 2.9h0M20.5 14.8h0M23.3 45.5h0M10.8 25.4h0M12.7 22.1h0M15.3 38.3h0M10.4 42.0h0M19.2 21.1h0M25.7 27.6h0M26.5 2.5h0M18.2 46.9h0M33.2 14.2h0M7.8 34.5h0M31.2 19.3h0M12.0 32.9h0M17.6 31.9h0M13.4 29.3h0M25.8 20.5h0M12.4 35.4h0M13.6 24.3h0M28.5 9.5h0M17.9 11.3h0M10.6 12.0h0M27.3 10.0h0M12.5 16.6h0M12.8 42.0h0M14.5 41.2h0M14.9 17.3h0M22.3 44.8h0M14.4 18.1h0M27.3 7.5h0M31.8 12.9h0M17.5 32.0h0M15.2 17.7h0M7.4 28.6h0M18.6 35.3h0M21.1 28.2h0M6.7 28.9h0M10.6 37.9h0M29.3 24.7h0M11.5 38.6h0M21.2 10.9h0M16.3 38.1h0M12.0 35.9h0M19.0 14.8h0M27.0 25.3h0M12.7 25.5h0M18.7 28.3h0M19.2 15.3h0M10.0 31.5h0M9.6 26.3h0M8.7 25.1h0M17.2 28.5h0M18.7 31.5h0M11.1 37.2h0M8.6 25.4h0M10.2 31.8h0M21.6 2.1h0M24.5 43.7h0M23.3 9.7h0M25.8 44.3h0M19.0 45.7h0M19.6 49.4h0M28.9 1.9h0M25.4 46.6h0M18.5 18.4h0M34.3 11.5h0M21.6 16.8h0M6.4 18.7h0M12.3 13.5h0M26.0 21.3h0M13.9 41.7h0M14.2 44.3h0M21.5 47.4h0M22.4 12.5h0M8.5 38.9h0M10.6 27.5h0M13.3 36.8h0M17.5 20.1h0M20.0 38.7h0M22.5 34.9h0M19.1 40.9h0M20.9 28.3h0" stroke="#8cc828"/>
<path d="M53.8 37.5h0M47.0 30.3h0M34.7 43.1h0M48.5 34.6h0M58.2 33.4h0M46.5 49.1h0M50.3 12.2h0M42.6 49.2h0M43.4 34.0h0M40.7 45.8h0M40.5 41.4h0M49.6 48.2h0M47.6 26.3h0M45.0 29.1h0M54.6 15.9h0M46.1 17.3h0M55.6 27.0h0M43.1 42.3h0M45.7 49.0h0M57.8 27.5h0M46.1 27.5h0M47.1 36.0h0M45.7 36.1h0M46.6 42.1h0M45.1 42.9h0M54.7 26.4h0M41.5 32.9h0M38.8 31.4h0M42.5 23.2h0M56.4 28.0h0M44.3 7.9h0M41.6 51.3h0M42.8 22.3h0M54.0 14.2h0M42.3 33.7h0M46.6 22.6h0M44.4 47.4h0M39.6 49.9h0M42.0 37.1h0M54.5 19.1h0M52.3 11.0h0M40.3 42.3h0M57.7 30.8h0M53.0 26.9h0M52.4 42.9h0M40.5 25.2h0M49.7 40.9h0M41.2 43.9h0M50.4 38.8h0M39.5 29.1h0M41.9 34.8h0M39.1 48.9h0M44.0 37.0h0M41.0 34.1h0M47.0 32.0h0M54.0 22.5h0M45.4 38.9h0M39.3 7.2h0M55.3 36.1h0M50.5 28.1h0M52.8 15.6h0M44.5 44.4h0M46.8 34.1h0M41.1 39.9h0M40.2 49.4h0M47.2 48.1h0M44.2 49.6h0M36.7 28.1h0M50.4 16.6h0M50.2 10.5h0M44.2 3.3h0M32.2 43.2h0M47.0 27.8h0M49.4 29.9h0M49.0 30.6h0M55.6 18.7h0M52.6 44.5h0M52.7 17.5h0M48.6 17.8h0M46.8 25.8h0M45.5 34.7h0M45.2 26.6h0M52.8 41.0h0M35.7 43.0h0M48.8 41.4h0M53.9 28.1h0M55.4 30.0h0M41.5 40.8h0M51.5 22.5h0M45.7 29.3h0M41.3 44.1h0M52.1 28.6h0M46.7 20.5h0M48.3 43.3h0M43.1 42.9h0M48.5 38.3h0M53.5 39.8h0M44.0 27.6h0M40.9 46.9h0M51.0 40.2h0M49.6 29.8h0M51.3 21.5h0M45.4 29.6h0M48.3 34.5h0M47.1 16.8h0M50.9 45.7h0M48.1 5.4h0M48.4 28.7h0M51.5 32.6h0M48.6 35.8h0M54.0 26.1h0M39.6 4.4h0M57.7 33.6h0M43.8 50.3h0M46.1 42.5h0M54.8 20.1h0M53.3 26.4h0M47.5 9.4h0M49.4 12.8h0M44.6 40.3h0M46.5 19.2h0M46.7 31.3h0M38.9 39.3h0M41.2 51.0h0M53.6 28.5h0M48.2 32.6h0M43.4 45.3h0M34.3 2.5h0M55.8 22.1h0M43.0 44.9h0M44.0 21.3h0M47.5 29.8h0M40.3 6.1h0M46.9 31.5h0M53.5 23.1h0M47.8 40.3h0M45.6 36.1h0M46.1 39.7h0M46.8 33.8h0M40.6 26.7h0M35.6 9.4h0M49.2 38.2h0M47.5 37.6h0M49.8 44.8h0M55.3 21.9h0M54.5 35.2h0M51.4 28.2h0M43.1 22.4h0M50.4 17.3h0M46.6 41.4h0M44.2 28.8h0M38.9 14.3h0M41.6 32.1h0M47.1 26.6h0M45.4 31.1h0M44.4 26.1h0M42.6 35.6h0M55.3 25.4h0M42.5 32.8h0M41.7 26.4h0M35.0 11.9h0M41.3 41.7h0" stroke="#f0c828"/>
<path d="M17.9 16.0h0M7.1 21.5h0M27.4 17.7h0M16.8 19.4h0M6.0 23.5h0M26.2 49.5h0M5.6 24.4h0M15.0 42.7h0M30.2 15.5h0M22.9 46.4h0M22.5 22.4h0M13.4 29.5h0M9.0 40.7h0M14.5 42.8h0M13.0 28.0h0M29.7 23.1h0M21.1 50.5h0M13.2 37.2h0M14.8 48.1h0M21.1 47.3h0M22.9 33.1h0M14.4 45.7h0M18.8 24.8h0M17.6 38.5h0M22.1 24.0h0M25.9 36.5h0M10.8 18.9h0M13.4 28.2h0M27.2 40.7h0M8.2 26.0h0M30.7 12.4h0M31.8 36.2h0M25.3 20.6h0M31.1 32.8h0M19.1 28.1h0M9.3 40.5h0M11.3 27.1h0M25.2 26.7h0M9.7 21.7h0M27.4 32.3h0M15.9 11.9h0M20.8 22.7h0M19.9 26.7h0M19.9 43.4h0M10.1 24.7h0M16.9 30.1h0M17.4 17.2h0M27.7 25.1h0M13.1 25.6h0M31.2 28.3h0M28.9 33.6h0M23.6 13.6h0M28.9 15.8h0M21.3 38.2h0M27.6 53.7h0M23.6 50.5h0M20.5 34.1h0M28.8 23.0h0M24.6 36.2h0M8.1 39.8h0M19.5 21.6h0M13.2 44.2h0M29.0 33.9h0M28.6 52.1h0M24.3 47.6h0M26.7 22.4h0M11.8 41.6h0M10.1 29.3h0M6.2 21.4h0M20.8 47.2h0M24.5 5.1h0M23.1 8.2h0M12.3 28.6h0M25.0 21.5h0M22.7 31.9h0M20.6 51.7h0M10.0 20.6h0M24.3 29.7h0M27.6 9.8h0M46.5 10.4h0M16.1 24.0h0M22.7 48.8h0M34.1 35.4h0M25.3 25.3h0M13.8 28.7h0M11.2 13.8h0M20.9 46.5h0M11.8 29.5h0M26.8 33.2h0M16.8 6.4h0M9.2 36.1h0M6.9 21.0h0M26.4 36.4h0M19.9 20.2h0M9.1 21.3h0M20.1 15.5h0M11.5 17.7h0M13.5 45.5h0M23.6 25.2h0M12.2 26.2h0M17.0 45.7h0M24.8 35.1h0M22.8 48.2h0M23.1 31.0h0M25.6 8.8h0M7.8 27.2h0M23.2 47.5h0M9.1 30.1h0M50.9 10.3h0M21.3 12.6h0M21.0 48.6h0M23.2 24.5h0M11.6 33.2h0M24.8 38.0h0M19.6 45.9h0M25.0 50.1h0M8.3 22.8h0M6.9 23.7h0M27.2 31.0h0M39.0 7.1h0M11.5 11.7h0M26.1 30.0h0M22.8 42.2h0M16.3 27.8h0M15.8 6.2h0M12.2 42.9h0M11.2 30.6h0M8.9 19.8h0M23.4 27.0h0M8.7 18.6h0" stroke="#a0c828"/>
<path d="M9.2 30.6h0M29.4 23.0h0M23.5 21.1h0M18.8 15.1h0M20.0 19.7h0M28.7 19.7h0M8.6 25.7h0M32.6 19.4h0M26.9 36.3h0M18.9 28.4h0M27.1 52.5h0M25.2 40.2h0M19.6 42.1h0M28.1 5.9h0M23.5 46.8h0M15.4 29.2h0M32.3 32.8h0M34.4 18.1h0M18.5 29.3h0M19.9 24.7h0M25.6 46.6h0M13.9 21.0h0M26.5 8.9h0M30.5 36.9h0M23.4 37.8h0M26.0 52.2h0M19.5 42.2h0M27.0 3.9h0M33.6 25.6h0M10.9 32.8h0M24.9 4.0h0M11.1 30.3h0M21.7 44.8h0M8.5 23.6h0M29.7 35.6h0M22.1 33.3h0M29.0 39.8h0M31.4 21.3h0M30.4 30.8h0M32.0 27.7h0M17.7 46.9h0M30.8 3.8h0M22.2 36.0h0M7.1 28.9h0M19.6 5.4h0M29.9 13.2h0M25.5 39.2h0M32.1 23.3h0M14.9 39.3h0M28.0 6.3h0M25.1 18.5h0M34.1 9.9h0M19.7 41.4h0M8.6 37.1h0M8.8 18.3h0M27.5 38.6h0M12.1 37.3h0M20.3 29.4h0M16.5 25.1h0M30.1 4.8h0M26.3 21.8h0M24.4 46.6h0M28.7 16.8h0M26.1 13.3h0M13.6 46.3h0M42.4 2.3h0M20.1 24.5h0M27.1 12.2h0M32.8 22.2h0M36.3 25.9h0M24.4 22.4h0M30.9 11.2h0M24.5 23.6h0M37.0 5.2h0M30.0 22.1h0M11.0 42.1h0M30.2 15.2h0M10.6 36.6h0M26.3 27.5h0M24.6 28.9h0M25.7 48.5h0M16.3 17.9h0M31.1 21.4h0M13.4 26.8h0M29.6 24.3h0M24.4 12.3h0M36.8 14.0h0M8.4 24.8h0M13.4 26.9h0M8.9 30.2h0M31.6 3.2h0M21.7 28.5h0M13.2 34.7h0M27.7 32.8h0M29.3 35.5h0M26.0 39.0h0M24.8 42.0h0M9.0 38.6h0M15.9 29.1h0M15.9 24.0h0M26.7 44.8h0M27.5 9.3h0M39.4 19.7h0M16.1 21.7h0M39.5 10.0h0M25.9 34.1h0M11.4 39.6h0M29.4 6.6h0M26.2 43.0h0M28.2 12.2h0M17.2 28.8h0M27.5 34.3h0M27.9 35.8h0M31.7 0.1h0M9.9 33.1h0M24.0 9.0h0M27.5 23.2h0M30.2 17.4h0M31.6 53.8h0M31.9 7.8h0M32.4 37.2h0M18.0 42.6h0M27.8 37.1h0M28.9 29.3h0M12.0 35.1h0M29.3 30.2h0M24.6 32.8h0M29.2 1.5h0M32.6 39.6h0M16.6 39.5h0M33.0 12.0h0M19.5 46.6h0M23.3 11.5h0M31.5 21.8h0M39.7 26.3h0M39.8 4.5h0M11.5 35.3h0M30.9 20.1h0M24.9 31.3h0M13.6 38.3h0M13.1 27.4h0M23.0 46.1h0M29.5 22.7h0M26.9 21.4h0M6.3 23.4h0M20.2 46.9h0M10.5 36.4h0M13.8 10.3h0M20.6 20.0h0M31.0 15.9h0M27.8 15.6h0M20.4 35.7h0M26.3 5.7h0M21.0 48.4h0M25.1 38.8h0M15.3 28.0h0M33.1 42.6h0M27.8 17.5h0M38.4 5.4h0M12.1 30.0h0M30.8 3.4h0M29.5 10.2h0M26.3 19.8h0M23.4 15.5h0M22.2 34.8h0M26.0 11.8h0M22.5 41.8h0M20.7 20.6h0M21.9 28.3h0M24.3 46.8h0" stroke="#b4dc28"/>
<path d="M21.2 49.0h0M23.2 16.3h0M13.0 39.8h0M24.2 45.1h0M22.3 34.3h0M34.8 38.8h0M24.8 5.5h0M25.0 23.5h0M19.3 18.3h0M26.5 18.6h0M28.1 49.2h0M21.9 13.4h0M11.9 41.3h0M19.4 34.0h0M27.8 41.1h0M30.9 2.5h0M24.4 34.5h0M9.6 36.0h0M26.4 37.9h0M22.6 30.2h0M26.3 36.8h0M24.9 42.3h0M10.8 25.0h0M8.3 37.4h0" stroke="#a0dc28"/>
<path d="M45.9 33.0h0M46.4 31.0h0M53.3 35.8h0M45.4 43.8h0M47.9 47.1h0M43.9 32.3h0M37.1 38.0h0M47.9 28.6h0M53.1 22.0h0M51.9 43.4h0M48.4 32.2h0M48.0 39.9h0M44.0 36.8h0M43.9 36.8h0M51.5 8.8h0M42.7 42.7h0M49.0 38.3h0M56.5 37.0h0M42.6 42.3h0M41.8 41.4h0M43.9 30.4h0M53.3 40.7h0M43.8 30.9h0M48.4 25.5h0M54.4 40.6h0M52.0 30.1h0M56.0 21.9h0M51.9 38.3h0M57.8 25.8h0M50.2 34.8h0M56.0 39.4h0M52.7 35.5h0M55.4 39.3h0M48.0 45.2h0M48.2 40.5h0M48.1 39.5h0M46.1 44.8h0M46.1 37.5h0M45.7 27.5h0M56.9 26.9h0M52.9 40.5h0M53.3 40.1h0M55.4 27.8h0M45.3 31.5h0M55.4 39.0h0M43.8 32.7h0M50.4 38.6h0M49.0 13.0h0M48.3 35.3h0" stroke="#f0b428"/>
<path d="M10.4 36.5h0M14.0 44.3h0M25.1 13.3h0M15.0 44.1h0M7.6 28.1h0M14.8 29.9h0M14.0 18.1h0M14.7 38.0h0M9.7 23.3h0M18.9 50.7h0M15.2 39.7h0M18.5 46.3h0M18.6 30.5h0M6.5 26.6h0M12.4 27.5h0M17.4 48.3h0M13.3 41.6h0M22.6 27.9h0M14.0 23.5h0M12.7 40.2h0M9.0 27.9h0M20.2 49.2h0M13.6 26.4h0M18.4 46.6h0M22.7 46.3h0M16.5 17.7h0" stroke="#78c828"/>
<path d="M51.0 44.6h0M59.0 29.6h0M57.6 25.3h0M45.5 47.1h0M39.8 49.1h0M54.9 35.3h0M49.3 30.0h0M54.5 23.6h0M47.9 27.9h0M47.0 33.7h0M49.0 38.8h0M46.0 32.6h0M53.1 42.2h0M48.1 45.9h0M51.8 39.2h0M57.2 27.8h0M45.0 34.8h0M41.4 41.3h0M50.6 31.9h0M58.0 21.3h0M50.6 41.7h0M37.8 43.5h0M49.9 41.3h0M51.3 37.0h0M45.0 32.1h0M48.5 39.0h0" stroke="#f0a028"/>
<path d="M13.1 22.9h0M25.4 9.9h0M14.2 39.8h0M8.8 35.5h0M9.2 30.7h0M15.0 40.2h0M8.1 19.7h0M10.1 29.7h0M15.8 40.7h0M18.5 47.1h0M9.1 27.8h0M11.5 38.3h0M18.0 38.3h0" stroke="#78b43c"/>
<path d="M9.5 34.0h0M7.4 24.1h0M10.7 23.6h0M22.8 42.9h0" stroke="#64b43c"/>
<path d="M53.3 42.6h0" stroke="#f07828"/>
<path d="M54.6 35.9h0" stroke="#dc6428"/>
<path d="M18.2 16.5h0M8.8 29.4h0" stroke="#78c83c"/>
</g>
<rect x="21.60" y="611.60" width="112.50" height="18.80" fill="#f7f7f7" />
<path d="M13 594V620H37" fill="none" stroke="#000" stroke-width="1"/>
<line x1="13.00" y1="605.00" x2="13.00" y2="594.00" stroke="#000" stroke-width="1.0" />
<path d="M13.00 589.80L15.00 594.00L11.00 594.00z" fill="#000"/>
<line x1="30.00" y1="620.00" x2="37.20" y2="620.00" stroke="#000" stroke-width="1.0" />
<path d="M41.40 620.00L37.20 622.00L37.20 618.00z" fill="#000"/>
<text x="16.50" y="575.90" font-size="8.6" text-anchor="middle" font-weight="bold" fill="#111" textLength="20.5" lengthAdjust="spacingAndGlyphs" transform="rotate(-90 16.50 575.90)" >tSNE&#160;Y</text>
<text x="45.60" y="622.60" font-size="8.6" font-weight="bold" fill="#111" textLength="23" lengthAdjust="spacingAndGlyphs" >tSNE&#160;&#160;X</text>
<defs><linearGradient id="mfi" x1="311.6" y1="0" x2="491.3" y2="0" gradientUnits="userSpaceOnUse"><stop offset="0" stop-color="#3a3a9c"/><stop offset="0.12" stop-color="#3a5a9c"/><stop offset="0.25" stop-color="#4a9a5a"/><stop offset="0.36" stop-color="#70b830"/><stop offset="0.5" stop-color="#a4d228"/><stop offset="0.66" stop-color="#f2ec38"/><stop offset="0.76" stop-color="#f0c436"/><stop offset="0.88" stop-color="#e46a26"/><stop offset="1" stop-color="#d42010"/></linearGradient></defs>
<rect x="492.40" y="617.50" width="24.30" height="14.50" fill="#f8f8f8" />
<path d="M311.6 630.9L491.3 619.3V630.7z" fill="url(#mfi)"/>
<text x="499.00" y="627.40" font-size="7.6" fill="#111" >MFI</text>
</svg></body></html>
